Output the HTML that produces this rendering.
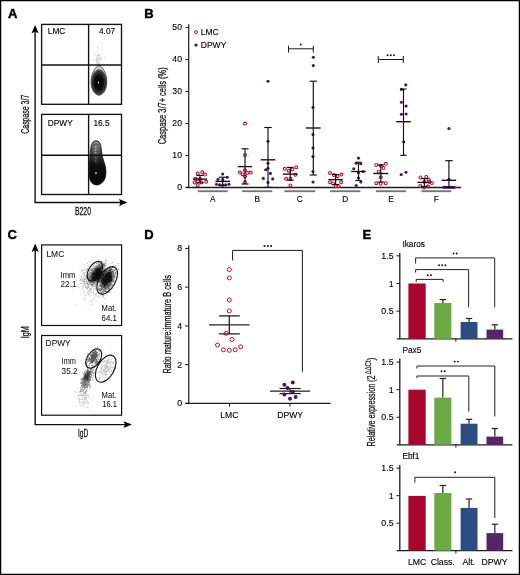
<!DOCTYPE html>
<html><head><meta charset="utf-8"><style>
html,body{margin:0;padding:0;background:#fff;}
svg{display:block;font-family:"Liberation Sans", sans-serif;will-change:transform;}
</style></head><body>
<svg width="520" height="575" viewBox="0 0 520 575">
<rect x="0.5" y="0.5" width="519" height="574" fill="#fff" stroke="#000" stroke-width="1.5"/>
<text x="7.9" y="17.65" font-size="13.0" text-anchor="start" font-weight="bold" fill="#000" stroke="#000" stroke-width="0.45">A</text>
<text x="144.3" y="17.65" font-size="13.0" text-anchor="start" font-weight="bold" fill="#000" stroke="#000" stroke-width="0.45">B</text>
<text x="7.6" y="238.6" font-size="13.0" text-anchor="start" font-weight="bold" fill="#000" stroke="#000" stroke-width="0.45">C</text>
<text x="144.2" y="238.5" font-size="13.0" text-anchor="start" font-weight="bold" fill="#000" stroke="#000" stroke-width="0.45">D</text>
<text x="362.5" y="238.6" font-size="13.0" text-anchor="start" font-weight="bold" fill="#000" stroke="#000" stroke-width="0.45">E</text>
<line x1="35.1" y1="202.5" x2="35.1" y2="31" stroke="#111" stroke-width="1.4" />
<path d="M35.1,25 L31.5,33.3 L35.1,31.699999999999996 L38.7,33.3 Z" fill="#000"/>
<line x1="34.4" y1="202.5" x2="121.4" y2="202.5" stroke="#111" stroke-width="1.4" />
<path d="M127.4,202.5 L119.0,199.1 L120.6,202.5 L119.0,205.9 Z" fill="#000"/>
<text x="47.8" y="34.0" font-size="8.3" text-anchor="start" font-weight="normal" fill="#000" stroke="#000" stroke-width="0.12">LMC</text>
<text x="99.0" y="34.0" font-size="8.3" text-anchor="start" font-weight="normal" fill="#000" stroke="#000" stroke-width="0.12">4.07</text>
<text x="47.8" y="126.0" font-size="8.3" text-anchor="start" font-weight="normal" fill="#000" stroke="#000" stroke-width="0.12">DPWY</text>
<text x="93.4" y="126.2" font-size="8.3" text-anchor="start" font-weight="normal" fill="#000" stroke="#000" stroke-width="0.12">16.5</text>
<text transform="translate(28.9,114.25) rotate(-90)" x="0" y="0" font-size="10.2" text-anchor="middle" fill="#111" stroke="#111" stroke-width="0.28" textLength="39.0" lengthAdjust="spacingAndGlyphs">Caspase 3/7</text>
<text x="74.9" y="214.6" font-size="10.2" text-anchor="start" fill="#111" stroke="#111" stroke-width="0.28" textLength="16.1" lengthAdjust="spacingAndGlyphs">B220</text>
<path d="M91.4,46.6h0.7v0.7h-0.7zM96.4,61.2h0.7v0.7h-0.7zM97.0,60.9h0.7v0.7h-0.7zM97.3,46.8h0.7v0.7h-0.7zM104.1,57.2h0.7v0.7h-0.7zM96.8,63.0h0.7v0.7h-0.7zM96.2,62.5h0.7v0.7h-0.7zM96.8,55.5h0.7v0.7h-0.7zM97.0,60.7h0.7v0.7h-0.7zM97.2,56.4h0.7v0.7h-0.7zM99.8,64.8h0.7v0.7h-0.7zM96.5,60.1h0.7v0.7h-0.7zM98.3,63.4h0.7v0.7h-0.7zM97.2,47.6h0.7v0.7h-0.7zM99.1,62.8h0.7v0.7h-0.7zM97.0,57.0h0.7v0.7h-0.7zM98.7,57.1h0.7v0.7h-0.7zM98.4,64.2h0.7v0.7h-0.7zM95.6,55.8h0.7v0.7h-0.7zM98.4,50.0h0.7v0.7h-0.7zM96.6,58.7h0.7v0.7h-0.7zM97.6,55.3h0.7v0.7h-0.7zM99.6,64.5h0.7v0.7h-0.7zM97.9,58.3h0.7v0.7h-0.7zM97.2,55.0h0.7v0.7h-0.7zM98.7,56.7h0.7v0.7h-0.7zM97.1,59.8h0.7v0.7h-0.7zM98.0,58.0h0.7v0.7h-0.7zM99.9,42.6h0.7v0.7h-0.7zM94.4,60.6h0.7v0.7h-0.7zM95.7,64.4h0.7v0.7h-0.7zM93.6,58.2h0.7v0.7h-0.7zM99.0,56.8h0.7v0.7h-0.7zM93.0,54.6h0.7v0.7h-0.7zM98.0,60.5h0.7v0.7h-0.7zM100.4,59.5h0.7v0.7h-0.7zM98.4,54.3h0.7v0.7h-0.7zM100.5,55.6h0.7v0.7h-0.7zM96.7,64.8h0.7v0.7h-0.7zM101.8,49.5h0.7v0.7h-0.7zM99.0,58.2h0.7v0.7h-0.7zM98.3,54.8h0.7v0.7h-0.7zM96.0,59.2h0.7v0.7h-0.7zM100.2,57.8h0.7v0.7h-0.7zM96.3,51.9h0.7v0.7h-0.7zM97.8,62.1h0.7v0.7h-0.7zM95.1,59.8h0.7v0.7h-0.7zM97.8,49.4h0.7v0.7h-0.7zM99.3,54.1h0.7v0.7h-0.7zM96.8,63.1h0.7v0.7h-0.7zM97.0,62.4h0.7v0.7h-0.7zM96.0,57.6h0.7v0.7h-0.7zM97.2,63.8h0.7v0.7h-0.7zM97.9,60.1h0.7v0.7h-0.7zM102.1,42.0h0.7v0.7h-0.7zM93.1,51.5h0.7v0.7h-0.7zM96.3,61.9h0.7v0.7h-0.7zM93.3,60.2h0.7v0.7h-0.7zM99.9,54.4h0.7v0.7h-0.7zM95.5,53.3h0.7v0.7h-0.7zM97.6,57.8h0.7v0.7h-0.7zM101.3,59.2h0.7v0.7h-0.7zM98.6,63.2h0.7v0.7h-0.7zM100.3,63.6h0.7v0.7h-0.7zM100.1,58.3h0.7v0.7h-0.7zM97.2,55.3h0.7v0.7h-0.7zM100.5,57.7h0.7v0.7h-0.7zM96.9,59.1h0.7v0.7h-0.7zM98.3,60.9h0.7v0.7h-0.7zM95.7,58.7h0.7v0.7h-0.7zM101.9,60.7h0.7v0.7h-0.7zM96.4,62.8h0.7v0.7h-0.7zM94.8,54.5h0.7v0.7h-0.7zM99.0,60.3h0.7v0.7h-0.7z" fill="#999" opacity="0.7"/>
<defs><radialGradient id="gA1" cx="0.5" cy="0.5" r="0.5"><stop offset="0" stop-color="#000"/><stop offset="0.75" stop-color="#0d0d0d"/><stop offset="1" stop-color="#333"/></radialGradient><linearGradient id="gA2" x1="0" y1="0" x2="0" y2="1"><stop offset="0" stop-color="#8a8a8a"/><stop offset="0.25" stop-color="#666"/><stop offset="0.42" stop-color="#3a3a3a"/><stop offset="0.55" stop-color="#161616"/><stop offset="1" stop-color="#0a0a0a"/></linearGradient></defs>
<path d="M98.95,65.80 C99.14,65.80 99.33,65.83 99.53,65.88 C99.72,65.93 99.91,66.01 100.11,66.11 C100.31,66.21 100.51,66.34 100.72,66.50 C100.92,66.65 101.13,66.83 101.35,67.03 C101.56,67.24 101.78,67.46 102.00,67.71 C102.22,67.96 102.44,68.24 102.66,68.53 C102.88,68.82 103.11,69.14 103.33,69.48 C103.55,69.81 103.77,70.17 103.98,70.54 C104.19,70.92 104.40,71.31 104.59,71.72 C104.79,72.13 104.98,72.56 105.16,73.00 C105.33,73.44 105.50,73.90 105.65,74.36 C105.80,74.83 105.94,75.31 106.06,75.80 C106.18,76.29 106.28,76.79 106.37,77.30 C106.46,77.80 106.53,78.32 106.59,78.84 C106.64,79.36 106.68,79.89 106.71,80.41 C106.74,80.94 106.75,81.52 106.75,82.00 C106.75,82.48 106.74,82.86 106.71,83.28 C106.69,83.71 106.65,84.14 106.60,84.56 C106.55,84.98 106.49,85.39 106.41,85.80 C106.34,86.21 106.25,86.62 106.16,87.01 C106.06,87.41 105.95,87.80 105.83,88.18 C105.71,88.55 105.58,88.92 105.44,89.28 C105.29,89.63 105.14,89.98 104.98,90.31 C104.82,90.64 104.65,90.96 104.47,91.26 C104.29,91.57 104.10,91.85 103.90,92.13 C103.70,92.40 103.50,92.65 103.28,92.89 C103.07,93.13 102.85,93.35 102.63,93.55 C102.40,93.75 102.17,93.94 101.93,94.10 C101.70,94.27 101.46,94.41 101.21,94.54 C100.97,94.66 100.72,94.76 100.47,94.85 C100.22,94.93 99.97,94.99 99.71,95.04 C99.46,95.08 99.20,95.10 98.95,95.10 C98.70,95.10 98.44,95.08 98.19,95.04 C97.93,94.99 97.68,94.93 97.43,94.85 C97.18,94.76 96.93,94.66 96.69,94.54 C96.44,94.41 96.20,94.27 95.97,94.10 C95.73,93.94 95.50,93.75 95.27,93.55 C95.05,93.35 94.83,93.13 94.62,92.89 C94.40,92.65 94.20,92.40 94.00,92.13 C93.80,91.85 93.61,91.57 93.43,91.26 C93.25,90.96 93.08,90.64 92.92,90.31 C92.76,89.98 92.61,89.63 92.46,89.28 C92.32,88.92 92.19,88.55 92.07,88.18 C91.95,87.80 91.84,87.41 91.74,87.01 C91.65,86.62 91.56,86.21 91.49,85.80 C91.41,85.39 91.35,84.98 91.30,84.56 C91.25,84.14 91.21,83.71 91.19,83.28 C91.16,82.86 91.15,82.48 91.15,82.00 C91.15,81.52 91.16,80.94 91.19,80.41 C91.22,79.89 91.26,79.36 91.31,78.84 C91.37,78.32 91.44,77.80 91.53,77.30 C91.62,76.79 91.72,76.29 91.84,75.80 C91.96,75.31 92.10,74.83 92.25,74.36 C92.40,73.90 92.57,73.44 92.74,73.00 C92.92,72.56 93.11,72.13 93.31,71.72 C93.50,71.31 93.71,70.92 93.92,70.54 C94.13,70.17 94.35,69.81 94.57,69.48 C94.79,69.14 95.02,68.82 95.24,68.53 C95.46,68.24 95.68,67.96 95.90,67.71 C96.12,67.46 96.34,67.24 96.55,67.03 C96.77,66.83 96.98,66.65 97.18,66.50 C97.39,66.34 97.59,66.21 97.79,66.11 C97.99,66.01 98.18,65.93 98.37,65.88 C98.57,65.83 98.76,65.80 98.95,65.80Z" fill="#d0d0d0" stroke="#111" stroke-width="0.7"/>
<ellipse cx="98.95" cy="82.3" rx="7.3" ry="12.7" fill="#9a9a9a" stroke="#222" stroke-width="0.55"/>
<ellipse cx="98.95" cy="82.4" rx="6.9" ry="11.9" fill="#6a6a6a" stroke="#222" stroke-width="0.55"/>
<ellipse cx="98.9" cy="82.5" rx="6.5" ry="11.0" fill="#333" stroke="#111" stroke-width="0.55"/>
<ellipse cx="98.8" cy="82.6" rx="6.0" ry="9.9" fill="url(#gA1)"/>
<ellipse cx="98.4" cy="82.5" rx="0.45" ry="1.2" fill="#fff"/>
<path d="M95.60,140.80 C96.63,140.72 98.13,141.02 99.00,141.80 C99.87,142.58 100.38,143.97 100.80,145.50 C101.22,147.03 101.17,148.92 101.50,151.00 C101.83,153.08 102.22,155.67 102.80,158.00 C103.38,160.33 104.48,162.83 105.00,165.00 C105.52,167.17 105.82,169.08 105.90,171.00 C105.98,172.92 105.88,174.83 105.50,176.50 C105.12,178.17 104.55,179.70 103.60,181.00 C102.65,182.30 101.03,183.65 99.80,184.30 C98.57,184.95 97.40,185.02 96.20,184.90 C95.00,184.78 93.63,184.50 92.60,183.60 C91.57,182.70 90.55,181.43 90.00,179.50 C89.45,177.57 89.38,174.75 89.30,172.00 C89.22,169.25 89.35,166.17 89.50,163.00 C89.65,159.83 89.92,155.83 90.20,153.00 C90.48,150.17 90.77,147.78 91.20,146.00 C91.63,144.22 92.07,143.17 92.80,142.30 C93.53,141.43 94.57,140.88 95.60,140.80Z" fill="url(#gA2)" stroke="#111" stroke-width="0.8"/>
<g fill="none" stroke="#000" stroke-width="0.45" opacity="0.8">
<path d="M95.64,144.12 C96.57,144.05 97.92,144.31 98.70,145.02 C99.48,145.73 99.94,146.97 100.32,148.35 C100.69,149.73 100.65,151.43 100.95,153.30 C101.25,155.18 101.59,157.50 102.12,159.60 C102.65,161.70 103.63,163.95 104.10,165.90 C104.56,167.85 104.84,169.58 104.91,171.30 C104.99,173.03 104.89,174.75 104.55,176.25 C104.20,177.75 103.69,179.13 102.84,180.30 C101.98,181.47 100.53,182.69 99.42,183.27 C98.31,183.86 97.26,183.92 96.18,183.81 C95.10,183.70 93.87,183.45 92.94,182.64 C92.01,181.83 91.09,180.69 90.60,178.95 C90.10,177.21 90.05,174.67 89.97,172.20 C89.89,169.72 90.02,166.95 90.15,164.10 C90.29,161.25 90.53,157.65 90.78,155.10 C91.03,152.55 91.29,150.41 91.68,148.80 C92.07,147.20 92.46,146.25 93.12,145.47 C93.78,144.69 94.71,144.19 95.64,144.12Z"/>
<path d="M95.68,147.44 C96.51,147.37 97.71,147.61 98.40,148.24 C99.09,148.87 99.51,149.97 99.84,151.20 C100.17,152.43 100.13,153.93 100.40,155.60 C100.67,157.27 100.97,159.33 101.44,161.20 C101.91,163.07 102.79,165.07 103.20,166.80 C103.61,168.53 103.85,170.07 103.92,171.60 C103.99,173.13 103.91,174.67 103.60,176.00 C103.29,177.33 102.84,178.56 102.08,179.60 C101.32,180.64 100.03,181.72 99.04,182.24 C98.05,182.76 97.12,182.81 96.16,182.72 C95.20,182.63 94.11,182.40 93.28,181.68 C92.45,180.96 91.64,179.95 91.20,178.40 C90.76,176.85 90.71,174.60 90.64,172.40 C90.57,170.20 90.68,167.73 90.80,165.20 C90.92,162.67 91.13,159.47 91.36,157.20 C91.59,154.93 91.81,153.03 92.16,151.60 C92.51,150.17 92.85,149.33 93.44,148.64 C94.03,147.95 94.85,147.51 95.68,147.44Z"/>
<path d="M95.72,150.76 C96.44,150.70 97.49,150.91 98.10,151.46 C98.71,152.01 99.07,152.98 99.36,154.05 C99.65,155.12 99.62,156.44 99.85,157.90 C100.08,159.36 100.35,161.17 100.76,162.80 C101.17,164.43 101.94,166.18 102.30,167.70 C102.66,169.22 102.87,170.56 102.93,171.90 C102.99,173.24 102.92,174.58 102.65,175.75 C102.38,176.92 101.98,177.99 101.32,178.90 C100.65,179.81 99.52,180.75 98.66,181.21 C97.80,181.67 96.98,181.71 96.14,181.63 C95.30,181.55 94.34,181.35 93.62,180.72 C92.90,180.09 92.19,179.20 91.80,177.85 C91.41,176.50 91.37,174.52 91.31,172.60 C91.25,170.68 91.34,168.52 91.45,166.30 C91.56,164.08 91.74,161.28 91.94,159.30 C92.14,157.32 92.34,155.65 92.64,154.40 C92.94,153.15 93.25,152.42 93.76,151.81 C94.27,151.20 95.00,150.82 95.72,150.76Z"/>
<path d="M95.76,154.08 C96.38,154.03 97.28,154.21 97.80,154.68 C98.32,155.15 98.63,155.98 98.88,156.90 C99.13,157.82 99.10,158.95 99.30,160.20 C99.50,161.45 99.73,163.00 100.08,164.40 C100.43,165.80 101.09,167.30 101.40,168.60 C101.71,169.90 101.89,171.05 101.94,172.20 C101.99,173.35 101.93,174.50 101.70,175.50 C101.47,176.50 101.13,177.42 100.56,178.20 C99.99,178.98 99.02,179.79 98.28,180.18 C97.54,180.57 96.84,180.61 96.12,180.54 C95.40,180.47 94.58,180.30 93.96,179.76 C93.34,179.22 92.73,178.46 92.40,177.30 C92.07,176.14 92.03,174.45 91.98,172.80 C91.93,171.15 92.01,169.30 92.10,167.40 C92.19,165.50 92.35,163.10 92.52,161.40 C92.69,159.70 92.86,158.27 93.12,157.20 C93.38,156.13 93.64,155.50 94.08,154.98 C94.52,154.46 95.14,154.13 95.76,154.08Z"/>
<path d="M95.80,157.40 C96.32,157.36 97.07,157.51 97.50,157.90 C97.93,158.29 98.19,158.98 98.40,159.75 C98.61,160.52 98.58,161.46 98.75,162.50 C98.92,163.54 99.11,164.83 99.40,166.00 C99.69,167.17 100.24,168.42 100.50,169.50 C100.76,170.58 100.91,171.54 100.95,172.50 C100.99,173.46 100.94,174.42 100.75,175.25 C100.56,176.08 100.27,176.85 99.80,177.50 C99.33,178.15 98.52,178.83 97.90,179.15 C97.28,179.47 96.70,179.51 96.10,179.45 C95.50,179.39 94.82,179.25 94.30,178.80 C93.78,178.35 93.28,177.72 93.00,176.75 C92.72,175.78 92.69,174.38 92.65,173.00 C92.61,171.62 92.67,170.08 92.75,168.50 C92.83,166.92 92.96,164.92 93.10,163.50 C93.24,162.08 93.38,160.89 93.60,160.00 C93.82,159.11 94.03,158.58 94.40,158.15 C94.77,157.72 95.28,157.44 95.80,157.40Z"/>
<path d="M95.84,160.72 C96.25,160.69 96.85,160.81 97.20,161.12 C97.55,161.43 97.75,161.99 97.92,162.60 C98.09,163.21 98.07,163.97 98.20,164.80 C98.33,165.63 98.49,166.67 98.72,167.60 C98.95,168.53 99.39,169.53 99.60,170.40 C99.81,171.27 99.93,172.03 99.96,172.80 C99.99,173.57 99.95,174.33 99.80,175.00 C99.65,175.67 99.42,176.28 99.04,176.80 C98.66,177.32 98.01,177.86 97.52,178.12 C97.03,178.38 96.56,178.41 96.08,178.36 C95.60,178.31 95.05,178.20 94.64,177.84 C94.23,177.48 93.82,176.97 93.60,176.20 C93.38,175.43 93.35,174.30 93.32,173.20 C93.29,172.10 93.34,170.87 93.40,169.60 C93.46,168.33 93.57,166.73 93.68,165.60 C93.79,164.47 93.91,163.51 94.08,162.80 C94.25,162.09 94.43,161.67 94.72,161.32 C95.01,160.97 95.43,160.75 95.84,160.72Z"/>
<path d="M95.88,164.04 C96.19,164.01 96.64,164.11 96.90,164.34 C97.16,164.57 97.31,164.99 97.44,165.45 C97.56,165.91 97.55,166.47 97.65,167.10 C97.75,167.72 97.87,168.50 98.04,169.20 C98.22,169.90 98.55,170.65 98.70,171.30 C98.86,171.95 98.94,172.53 98.97,173.10 C99.00,173.67 98.96,174.25 98.85,174.75 C98.73,175.25 98.56,175.71 98.28,176.10 C98.00,176.49 97.51,176.90 97.14,177.09 C96.77,177.28 96.42,177.31 96.06,177.27 C95.70,177.24 95.29,177.15 94.98,176.88 C94.67,176.61 94.37,176.23 94.20,175.65 C94.03,175.07 94.02,174.23 93.99,173.40 C93.96,172.57 94.00,171.65 94.05,170.70 C94.09,169.75 94.18,168.55 94.26,167.70 C94.34,166.85 94.43,166.13 94.56,165.60 C94.69,165.06 94.82,164.75 95.04,164.49 C95.26,164.23 95.57,164.06 95.88,164.04Z"/>
<path d="M95.92,167.36 C96.13,167.34 96.43,167.40 96.60,167.56 C96.77,167.72 96.88,167.99 96.96,168.30 C97.04,168.61 97.03,168.98 97.10,169.40 C97.17,169.82 97.24,170.33 97.36,170.80 C97.48,171.27 97.70,171.77 97.80,172.20 C97.90,172.63 97.96,173.02 97.98,173.40 C98.00,173.78 97.98,174.17 97.90,174.50 C97.82,174.83 97.71,175.14 97.52,175.40 C97.33,175.66 97.01,175.93 96.76,176.06 C96.51,176.19 96.28,176.20 96.04,176.18 C95.80,176.16 95.53,176.10 95.32,175.92 C95.11,175.74 94.91,175.49 94.80,175.10 C94.69,174.71 94.68,174.15 94.66,173.60 C94.64,173.05 94.67,172.43 94.70,171.80 C94.73,171.17 94.78,170.37 94.84,169.80 C94.90,169.23 94.95,168.76 95.04,168.40 C95.13,168.04 95.21,167.83 95.36,167.66 C95.51,167.49 95.71,167.38 95.92,167.36Z"/>
</g>
<g fill="#ccc">
<ellipse cx="95.7" cy="147.5" rx="0.9" ry="0.7" opacity="0.90"/>
<ellipse cx="95.7" cy="150.2" rx="0.9" ry="0.7" opacity="0.78"/>
<ellipse cx="95.7" cy="152.8" rx="0.9" ry="0.7" opacity="0.66"/>
<ellipse cx="95.7" cy="155.4" rx="0.9" ry="0.7" opacity="0.54"/>
<ellipse cx="95.7" cy="158.0" rx="0.9" ry="0.7" opacity="0.42"/>
<ellipse cx="95.7" cy="160.8" rx="0.9" ry="0.7" opacity="0.30"/>
</g>
<ellipse cx="96.0" cy="173.0" rx="0.7" ry="1.1" fill="#fff"/>
<rect x="41.6" y="24.4" width="79.9" height="79.9" fill="none" stroke="#111" stroke-width="1.35"/>
<line x1="88.6" y1="24.4" x2="88.6" y2="104.3" stroke="#111" stroke-width="1.35" />
<line x1="41.6" y1="65.0" x2="121.5" y2="65.0" stroke="#111" stroke-width="1.4" />
<rect x="41.6" y="114.4" width="79.9" height="80.1" fill="none" stroke="#111" stroke-width="1.35"/>
<line x1="88.6" y1="114.4" x2="88.6" y2="194.5" stroke="#111" stroke-width="1.35" />
<line x1="41.6" y1="155.2" x2="121.5" y2="155.2" stroke="#111" stroke-width="1.4" />
<line x1="188.7" y1="24.2" x2="188.7" y2="187.4" stroke="#1a1a1a" stroke-width="1.2" />
<line x1="186.0" y1="187.5" x2="461.0" y2="187.5" stroke="#1a1a1a" stroke-width="1.3" />
<line x1="185.4" y1="187.4" x2="188.7" y2="187.4" stroke="#1a1a1a" stroke-width="1.0" />
<text x="182.0" y="190.0" font-size="8.7" text-anchor="end" font-weight="normal" fill="#000" stroke="#000" stroke-width="0.12">0</text>
<line x1="185.4" y1="155.44" x2="188.7" y2="155.44" stroke="#1a1a1a" stroke-width="1.0" />
<text x="182.0" y="158.04" font-size="8.7" text-anchor="end" font-weight="normal" fill="#000" stroke="#000" stroke-width="0.12">10</text>
<line x1="185.4" y1="123.48" x2="188.7" y2="123.48" stroke="#1a1a1a" stroke-width="1.0" />
<text x="182.0" y="126.08" font-size="8.7" text-anchor="end" font-weight="normal" fill="#000" stroke="#000" stroke-width="0.12">20</text>
<line x1="185.4" y1="91.52" x2="188.7" y2="91.52" stroke="#1a1a1a" stroke-width="1.0" />
<text x="182.0" y="94.11999999999999" font-size="8.7" text-anchor="end" font-weight="normal" fill="#000" stroke="#000" stroke-width="0.12">30</text>
<line x1="185.4" y1="59.56" x2="188.7" y2="59.56" stroke="#1a1a1a" stroke-width="1.0" />
<text x="182.0" y="62.160000000000004" font-size="8.7" text-anchor="end" font-weight="normal" fill="#000" stroke="#000" stroke-width="0.12">40</text>
<line x1="185.4" y1="27.599999999999994" x2="188.7" y2="27.599999999999994" stroke="#1a1a1a" stroke-width="1.0" />
<text x="182.0" y="30.199999999999996" font-size="8.7" text-anchor="end" font-weight="normal" fill="#000" stroke="#000" stroke-width="0.12">50</text>
<text transform="translate(165.5,105.8) rotate(-90)" x="0" y="0" font-size="10.0" text-anchor="middle" fill="#111" stroke="#111" stroke-width="0.28" textLength="77.0" lengthAdjust="spacingAndGlyphs">Caspase 3/7+ cells (%)</text>
<circle cx="196.0" cy="32.1" r="1.5" fill="none" stroke="#c00d38" stroke-width="1.0"/>
<text x="200.8" y="35.0" font-size="8.5" text-anchor="start" font-weight="normal" fill="#000" stroke="#000" stroke-width="0.12">LMC</text>
<circle cx="196.0" cy="45.1" r="1.6" fill="#4a1466"/>
<text x="200.8" y="47.7" font-size="8.5" text-anchor="start" font-weight="normal" fill="#000" stroke="#000" stroke-width="0.12">DPWY</text>
<line x1="197.7" y1="191.2" x2="227.7" y2="191.2" stroke="#777" stroke-width="1.9" />
<text x="212.7" y="201.8" font-size="8.3" text-anchor="middle" font-weight="normal" fill="#000" stroke="#000" stroke-width="0.12">A</text>
<line x1="242.1" y1="191.2" x2="272.3" y2="191.2" stroke="#777" stroke-width="1.9" />
<text x="257.2" y="201.8" font-size="8.3" text-anchor="middle" font-weight="normal" fill="#000" stroke="#000" stroke-width="0.12">B</text>
<line x1="284.4" y1="191.2" x2="315.2" y2="191.2" stroke="#777" stroke-width="1.9" />
<text x="299.79999999999995" y="201.8" font-size="8.3" text-anchor="middle" font-weight="normal" fill="#000" stroke="#000" stroke-width="0.12">C</text>
<line x1="330" y1="191.2" x2="360.4" y2="191.2" stroke="#777" stroke-width="1.9" />
<text x="345.2" y="201.8" font-size="8.3" text-anchor="middle" font-weight="normal" fill="#000" stroke="#000" stroke-width="0.12">D</text>
<line x1="375.9" y1="191.2" x2="406.1" y2="191.2" stroke="#777" stroke-width="1.9" />
<text x="391.0" y="201.8" font-size="8.3" text-anchor="middle" font-weight="normal" fill="#000" stroke="#000" stroke-width="0.12">E</text>
<line x1="421.3" y1="191.2" x2="451.3" y2="191.2" stroke="#777" stroke-width="1.9" />
<text x="436.3" y="201.8" font-size="8.3" text-anchor="middle" font-weight="normal" fill="#000" stroke="#000" stroke-width="0.12">F</text>
<circle cx="197.7" cy="173.6" r="1.45" fill="none" stroke="#c00d38" stroke-width="1.1"/>
<circle cx="202.3" cy="172.3" r="1.45" fill="none" stroke="#c00d38" stroke-width="1.1"/>
<circle cx="205" cy="174.6" r="1.45" fill="none" stroke="#c00d38" stroke-width="1.1"/>
<circle cx="195.4" cy="178.8" r="1.45" fill="none" stroke="#c00d38" stroke-width="1.1"/>
<circle cx="200" cy="179" r="1.45" fill="none" stroke="#c00d38" stroke-width="1.1"/>
<circle cx="194.6" cy="182.5" r="1.45" fill="none" stroke="#c00d38" stroke-width="1.1"/>
<circle cx="197.7" cy="181.5" r="1.45" fill="none" stroke="#c00d38" stroke-width="1.1"/>
<circle cx="201.5" cy="182.5" r="1.45" fill="none" stroke="#c00d38" stroke-width="1.1"/>
<circle cx="206.2" cy="181.8" r="1.45" fill="none" stroke="#c00d38" stroke-width="1.1"/>
<circle cx="197.7" cy="185.2" r="1.45" fill="none" stroke="#c00d38" stroke-width="1.1"/>
<circle cx="222.7" cy="174" r="1.55" fill="#4a1466"/>
<circle cx="227.3" cy="177.3" r="1.55" fill="#4a1466"/>
<circle cx="218" cy="179.2" r="1.55" fill="#4a1466"/>
<circle cx="222.7" cy="179.5" r="1.55" fill="#4a1466"/>
<circle cx="216.5" cy="184.3" r="1.55" fill="#4a1466"/>
<circle cx="219.6" cy="184.8" r="1.55" fill="#4a1466"/>
<circle cx="222.7" cy="185.3" r="1.55" fill="#4a1466"/>
<circle cx="225.8" cy="184.8" r="1.55" fill="#4a1466"/>
<circle cx="229" cy="184.3" r="1.55" fill="#4a1466"/>
<circle cx="245" cy="123.6" r="1.45" fill="none" stroke="#c00d38" stroke-width="1.1"/>
<circle cx="245" cy="155" r="1.45" fill="none" stroke="#c00d38" stroke-width="1.1"/>
<circle cx="239.9" cy="172.6" r="1.45" fill="none" stroke="#c00d38" stroke-width="1.1"/>
<circle cx="245" cy="170.2" r="1.45" fill="none" stroke="#c00d38" stroke-width="1.1"/>
<circle cx="250.8" cy="172.6" r="1.45" fill="none" stroke="#c00d38" stroke-width="1.1"/>
<circle cx="247.5" cy="173" r="1.45" fill="none" stroke="#c00d38" stroke-width="1.1"/>
<circle cx="242.5" cy="174.2" r="1.45" fill="none" stroke="#c00d38" stroke-width="1.1"/>
<circle cx="245" cy="176.5" r="1.45" fill="none" stroke="#c00d38" stroke-width="1.1"/>
<circle cx="245" cy="182.3" r="1.45" fill="none" stroke="#c00d38" stroke-width="1.1"/>
<circle cx="268" cy="81.2" r="1.55" fill="#4a1466"/>
<circle cx="268" cy="141.3" r="1.55" fill="#4a1466"/>
<circle cx="268" cy="163.2" r="1.55" fill="#4a1466"/>
<circle cx="265.7" cy="169.8" r="1.55" fill="#4a1466"/>
<circle cx="268" cy="168.2" r="1.55" fill="#4a1466"/>
<circle cx="270.4" cy="173.4" r="1.55" fill="#4a1466"/>
<circle cx="263.3" cy="178.4" r="1.55" fill="#4a1466"/>
<circle cx="272.7" cy="178.9" r="1.55" fill="#4a1466"/>
<circle cx="268" cy="182.5" r="1.55" fill="#4a1466"/>
<circle cx="284.8" cy="168.8" r="1.45" fill="none" stroke="#c00d38" stroke-width="1.1"/>
<circle cx="288.7" cy="170.7" r="1.45" fill="none" stroke="#c00d38" stroke-width="1.1"/>
<circle cx="292.4" cy="169.5" r="1.45" fill="none" stroke="#c00d38" stroke-width="1.1"/>
<circle cx="296.3" cy="167.2" r="1.45" fill="none" stroke="#c00d38" stroke-width="1.1"/>
<circle cx="295.3" cy="174.7" r="1.45" fill="none" stroke="#c00d38" stroke-width="1.1"/>
<circle cx="286.1" cy="178.8" r="1.45" fill="none" stroke="#c00d38" stroke-width="1.1"/>
<circle cx="290.4" cy="178.8" r="1.45" fill="none" stroke="#c00d38" stroke-width="1.1"/>
<circle cx="290.4" cy="185.4" r="1.45" fill="none" stroke="#c00d38" stroke-width="1.1"/>
<circle cx="313.3" cy="57.3" r="1.55" fill="#4a1466"/>
<circle cx="313.3" cy="65.6" r="1.55" fill="#4a1466"/>
<circle cx="313" cy="107.4" r="1.55" fill="#4a1466"/>
<circle cx="313" cy="134.6" r="1.55" fill="#4a1466"/>
<circle cx="313" cy="148" r="1.55" fill="#4a1466"/>
<circle cx="313" cy="156.6" r="1.55" fill="#4a1466"/>
<circle cx="313" cy="171.6" r="1.55" fill="#4a1466"/>
<circle cx="313" cy="182" r="1.55" fill="#4a1466"/>
<circle cx="330" cy="172.9" r="1.45" fill="none" stroke="#c00d38" stroke-width="1.1"/>
<circle cx="333.8" cy="175" r="1.45" fill="none" stroke="#c00d38" stroke-width="1.1"/>
<circle cx="337.7" cy="176.2" r="1.45" fill="none" stroke="#c00d38" stroke-width="1.1"/>
<circle cx="341.5" cy="174.6" r="1.45" fill="none" stroke="#c00d38" stroke-width="1.1"/>
<circle cx="330" cy="182.2" r="1.45" fill="none" stroke="#c00d38" stroke-width="1.1"/>
<circle cx="333.1" cy="183.5" r="1.45" fill="none" stroke="#c00d38" stroke-width="1.1"/>
<circle cx="341.2" cy="182.3" r="1.45" fill="none" stroke="#c00d38" stroke-width="1.1"/>
<circle cx="335.8" cy="186.2" r="1.45" fill="none" stroke="#c00d38" stroke-width="1.1"/>
<circle cx="338.8" cy="186.2" r="1.45" fill="none" stroke="#c00d38" stroke-width="1.1"/>
<circle cx="358.5" cy="158.1" r="1.55" fill="#4a1466"/>
<circle cx="356.2" cy="163.2" r="1.55" fill="#4a1466"/>
<circle cx="360.8" cy="163.8" r="1.55" fill="#4a1466"/>
<circle cx="353.8" cy="168.8" r="1.55" fill="#4a1466"/>
<circle cx="358.5" cy="172.7" r="1.55" fill="#4a1466"/>
<circle cx="363.1" cy="171.5" r="1.55" fill="#4a1466"/>
<circle cx="358.5" cy="178.1" r="1.55" fill="#4a1466"/>
<circle cx="360.8" cy="182" r="1.55" fill="#4a1466"/>
<circle cx="356.2" cy="185.5" r="1.55" fill="#4a1466"/>
<circle cx="376.2" cy="165" r="1.45" fill="none" stroke="#c00d38" stroke-width="1.1"/>
<circle cx="380.8" cy="165.8" r="1.45" fill="none" stroke="#c00d38" stroke-width="1.1"/>
<circle cx="385.8" cy="163.8" r="1.45" fill="none" stroke="#c00d38" stroke-width="1.1"/>
<circle cx="383.5" cy="168.1" r="1.45" fill="none" stroke="#c00d38" stroke-width="1.1"/>
<circle cx="378.8" cy="171.7" r="1.45" fill="none" stroke="#c00d38" stroke-width="1.1"/>
<circle cx="380.8" cy="177.3" r="1.45" fill="none" stroke="#c00d38" stroke-width="1.1"/>
<circle cx="376.2" cy="183.2" r="1.45" fill="none" stroke="#c00d38" stroke-width="1.1"/>
<circle cx="380.8" cy="183.8" r="1.45" fill="none" stroke="#c00d38" stroke-width="1.1"/>
<circle cx="385.8" cy="183.2" r="1.45" fill="none" stroke="#c00d38" stroke-width="1.1"/>
<circle cx="405.8" cy="84.9" r="1.55" fill="#4a1466"/>
<circle cx="401.4" cy="89.4" r="1.55" fill="#4a1466"/>
<circle cx="401.4" cy="102.2" r="1.55" fill="#4a1466"/>
<circle cx="406.1" cy="106.1" r="1.55" fill="#4a1466"/>
<circle cx="401.4" cy="114.3" r="1.55" fill="#4a1466"/>
<circle cx="406.1" cy="114" r="1.55" fill="#4a1466"/>
<circle cx="403.75" cy="141.8" r="1.55" fill="#4a1466"/>
<circle cx="401.2" cy="174.6" r="1.55" fill="#4a1466"/>
<circle cx="406" cy="172.3" r="1.55" fill="#4a1466"/>
<circle cx="420.5" cy="177.5" r="1.45" fill="none" stroke="#c00d38" stroke-width="1.1"/>
<circle cx="426.3" cy="177" r="1.45" fill="none" stroke="#c00d38" stroke-width="1.1"/>
<circle cx="428.7" cy="179.6" r="1.45" fill="none" stroke="#c00d38" stroke-width="1.1"/>
<circle cx="424.4" cy="181.8" r="1.45" fill="none" stroke="#c00d38" stroke-width="1.1"/>
<circle cx="431.8" cy="183" r="1.45" fill="none" stroke="#c00d38" stroke-width="1.1"/>
<circle cx="420.3" cy="185.9" r="1.45" fill="none" stroke="#c00d38" stroke-width="1.1"/>
<circle cx="424.1" cy="187.5" r="1.45" fill="none" stroke="#c00d38" stroke-width="1.1"/>
<circle cx="428" cy="186.6" r="1.45" fill="none" stroke="#c00d38" stroke-width="1.1"/>
<circle cx="429.4" cy="181.8" r="1.45" fill="none" stroke="#c00d38" stroke-width="1.1"/>
<circle cx="448.9" cy="128.5" r="1.55" fill="#4a1466"/>
<circle cx="448.9" cy="179.3" r="1.55" fill="#4a1466"/>
<circle cx="443.6" cy="187.3" r="1.55" fill="#4a1466"/>
<circle cx="445.2" cy="187.3" r="1.55" fill="#4a1466"/>
<circle cx="446.8" cy="187.3" r="1.55" fill="#4a1466"/>
<circle cx="448.4" cy="187.3" r="1.55" fill="#4a1466"/>
<circle cx="450.0" cy="187.3" r="1.55" fill="#4a1466"/>
<circle cx="451.6" cy="187.3" r="1.55" fill="#4a1466"/>
<circle cx="453.2" cy="187.3" r="1.55" fill="#4a1466"/>
<circle cx="454.2" cy="187.3" r="1.55" fill="#4a1466"/>
<line x1="200.0" y1="175.4" x2="200.0" y2="182.8" stroke="#111" stroke-width="1.15" />
<line x1="196.5" y1="175.4" x2="203.5" y2="175.4" stroke="#111" stroke-width="1.15" />
<line x1="196.5" y1="182.8" x2="203.5" y2="182.8" stroke="#111" stroke-width="1.15" />
<line x1="192.85" y1="179.1" x2="207.15" y2="179.1" stroke="#111" stroke-width="1.38" />
<line x1="222.7" y1="177.2" x2="222.7" y2="185.5" stroke="#111" stroke-width="1.15" />
<line x1="218.7" y1="177.2" x2="226.7" y2="177.2" stroke="#111" stroke-width="1.15" />
<line x1="218.7" y1="185.5" x2="226.7" y2="185.5" stroke="#111" stroke-width="1.15" />
<line x1="215.39999999999998" y1="181.4" x2="230.0" y2="181.4" stroke="#111" stroke-width="1.38" />
<line x1="245.0" y1="148.8" x2="245.0" y2="184.0" stroke="#111" stroke-width="1.15" />
<line x1="241.45" y1="148.8" x2="248.55" y2="148.8" stroke="#111" stroke-width="1.15" />
<line x1="241.45" y1="184.0" x2="248.55" y2="184.0" stroke="#111" stroke-width="1.15" />
<line x1="237.8" y1="166.6" x2="252.2" y2="166.6" stroke="#111" stroke-width="1.38" />
<line x1="268.0" y1="127.5" x2="268.0" y2="187.4" stroke="#111" stroke-width="1.15" />
<line x1="264.2" y1="127.5" x2="271.8" y2="127.5" stroke="#111" stroke-width="1.15" />
<line x1="264.2" y1="187.4" x2="271.8" y2="187.4" stroke="#111" stroke-width="1.15" />
<line x1="260.7" y1="159.8" x2="275.3" y2="159.8" stroke="#111" stroke-width="1.38" />
<line x1="290.3" y1="167.4" x2="290.3" y2="180.3" stroke="#111" stroke-width="1.15" />
<line x1="287.0" y1="167.4" x2="293.6" y2="167.4" stroke="#111" stroke-width="1.15" />
<line x1="287.0" y1="180.3" x2="293.6" y2="180.3" stroke="#111" stroke-width="1.15" />
<line x1="282.90000000000003" y1="174.1" x2="297.7" y2="174.1" stroke="#111" stroke-width="1.38" />
<line x1="313.3" y1="81.2" x2="313.3" y2="175.0" stroke="#111" stroke-width="1.15" />
<line x1="309.7" y1="81.2" x2="316.90000000000003" y2="81.2" stroke="#111" stroke-width="1.15" />
<line x1="309.7" y1="175.0" x2="316.90000000000003" y2="175.0" stroke="#111" stroke-width="1.15" />
<line x1="306.0" y1="128.0" x2="320.6" y2="128.0" stroke="#111" stroke-width="1.38" />
<line x1="335.6" y1="174.5" x2="335.6" y2="184.5" stroke="#111" stroke-width="1.15" />
<line x1="332.1" y1="174.5" x2="339.1" y2="174.5" stroke="#111" stroke-width="1.15" />
<line x1="332.1" y1="184.5" x2="339.1" y2="184.5" stroke="#111" stroke-width="1.15" />
<line x1="328.35" y1="179.6" x2="342.85" y2="179.6" stroke="#111" stroke-width="1.38" />
<line x1="358.5" y1="162.3" x2="358.5" y2="180.5" stroke="#111" stroke-width="1.15" />
<line x1="355.3" y1="162.3" x2="361.7" y2="162.3" stroke="#111" stroke-width="1.15" />
<line x1="355.3" y1="180.5" x2="361.7" y2="180.5" stroke="#111" stroke-width="1.15" />
<line x1="351.2" y1="171.5" x2="365.8" y2="171.5" stroke="#111" stroke-width="1.38" />
<line x1="380.8" y1="165.0" x2="380.8" y2="182.0" stroke="#111" stroke-width="1.15" />
<line x1="377.55" y1="165.0" x2="384.05" y2="165.0" stroke="#111" stroke-width="1.15" />
<line x1="377.55" y1="182.0" x2="384.05" y2="182.0" stroke="#111" stroke-width="1.15" />
<line x1="373.3" y1="173.5" x2="388.3" y2="173.5" stroke="#111" stroke-width="1.38" />
<line x1="403.5" y1="89.0" x2="403.5" y2="155.3" stroke="#111" stroke-width="1.15" />
<line x1="400.3" y1="89.0" x2="406.7" y2="89.0" stroke="#111" stroke-width="1.15" />
<line x1="400.3" y1="155.3" x2="406.7" y2="155.3" stroke="#111" stroke-width="1.15" />
<line x1="396.2" y1="121.7" x2="410.8" y2="121.7" stroke="#111" stroke-width="1.38" />
<line x1="424.4" y1="178.6" x2="424.4" y2="186.5" stroke="#111" stroke-width="1.15" />
<line x1="421.15" y1="178.6" x2="427.65" y2="178.6" stroke="#111" stroke-width="1.15" />
<line x1="421.15" y1="186.5" x2="427.65" y2="186.5" stroke="#111" stroke-width="1.15" />
<line x1="417.4" y1="182.4" x2="431.4" y2="182.4" stroke="#111" stroke-width="1.38" />
<line x1="448.9" y1="160.7" x2="448.9" y2="187.4" stroke="#111" stroke-width="1.15" />
<line x1="445.09999999999997" y1="160.7" x2="452.7" y2="160.7" stroke="#111" stroke-width="1.15" />
<line x1="445.09999999999997" y1="187.4" x2="452.7" y2="187.4" stroke="#111" stroke-width="1.15" />
<line x1="441.59999999999997" y1="180.3" x2="456.2" y2="180.3" stroke="#111" stroke-width="1.38" />
<path d="M288.5,45.7 V52.6 M288.5,48.8 H313.3 M313.3,45.7 V52.6" stroke="#1a1a1a" stroke-width="1.0" fill="none" />
<circle cx="300.80" cy="44.5" r="0.95" fill="#111"/>
<path d="M378.3,56.0 V63.0 M378.3,59.5 H403.3 M403.3,56.0 V63.0" stroke="#1a1a1a" stroke-width="1.0" fill="none" />
<circle cx="387.60" cy="55.2" r="0.95" fill="#111"/>
<circle cx="390.80" cy="55.2" r="0.95" fill="#111"/>
<circle cx="394.00" cy="55.2" r="0.95" fill="#111"/>
<line x1="35.2" y1="424.6" x2="35.2" y2="249.6" stroke="#111" stroke-width="1.4" />
<path d="M35.2,243.6 L31.6,251.9 L35.2,250.3 L38.800000000000004,251.9 Z" fill="#000"/>
<line x1="34.5" y1="424.6" x2="125.9" y2="424.6" stroke="#111" stroke-width="1.4" />
<path d="M131.9,424.6 L123.5,421.20000000000005 L125.1,424.6 L123.5,428.0 Z" fill="#000"/>
<rect x="41.6" y="244.9" width="80.0" height="80.6" fill="none" stroke="#111" stroke-width="1.2"/>
<rect x="41.6" y="335.5" width="80.0" height="79.69999999999999" fill="none" stroke="#111" stroke-width="1.2"/>
<text x="46.4" y="257.1" font-size="8.6" text-anchor="start" fill="#111" stroke="#111" stroke-width="0.05" textLength="17.900000000000002" lengthAdjust="spacingAndGlyphs">LMC</text>
<text x="60.5" y="277.7" font-size="8.6" text-anchor="start" fill="#111" stroke="#111" stroke-width="0.05" textLength="14.9" lengthAdjust="spacingAndGlyphs">Imm</text>
<text x="60.5" y="287.1" font-size="8.6" text-anchor="start" fill="#111" stroke="#111" stroke-width="0.05" textLength="16.0" lengthAdjust="spacingAndGlyphs">22.1</text>
<text x="101.6" y="311.1" font-size="8.6" text-anchor="start" fill="#111" stroke="#111" stroke-width="0.05" textLength="14.9" lengthAdjust="spacingAndGlyphs">Mat.</text>
<text x="101.6" y="320.5" font-size="8.6" text-anchor="start" fill="#111" stroke="#111" stroke-width="0.05" textLength="15.3" lengthAdjust="spacingAndGlyphs">64.1</text>
<text x="45.6" y="345.5" font-size="8.6" text-anchor="start" fill="#111" stroke="#111" stroke-width="0.05" textLength="25.1" lengthAdjust="spacingAndGlyphs">DPWY</text>
<text x="61.6" y="364.0" font-size="8.6" text-anchor="start" fill="#111" stroke="#111" stroke-width="0.05" textLength="14.3" lengthAdjust="spacingAndGlyphs">Imm</text>
<text x="61.6" y="373.5" font-size="8.6" text-anchor="start" fill="#111" stroke="#111" stroke-width="0.05" textLength="16.0" lengthAdjust="spacingAndGlyphs">35.2</text>
<text x="101.6" y="397.8" font-size="8.6" text-anchor="start" fill="#111" stroke="#111" stroke-width="0.05" textLength="14.8" lengthAdjust="spacingAndGlyphs">Mat.</text>
<text x="102.19999999999999" y="406.9" font-size="8.6" text-anchor="start" fill="#111" stroke="#111" stroke-width="0.05" textLength="14.700000000000001" lengthAdjust="spacingAndGlyphs">16.1</text>
<text transform="translate(29.0,332.25) rotate(-90)" x="0" y="0" font-size="10.2" text-anchor="middle" fill="#111" stroke="#111" stroke-width="0.28" textLength="12.0" lengthAdjust="spacingAndGlyphs">IgM</text>
<text x="78.0" y="436.6" font-size="10.2" text-anchor="start" fill="#111" stroke="#111" stroke-width="0.28" textLength="10.2" lengthAdjust="spacingAndGlyphs">IgD</text>
<path d="M97.1,280.2h0.7v0.7h-0.7zM95.4,280.5h0.7v0.7h-0.7zM99.1,263.9h0.7v0.7h-0.7zM89.4,277.3h0.7v0.7h-0.7zM91.9,272.0h0.7v0.7h-0.7zM102.1,279.0h0.7v0.7h-0.7zM95.9,274.9h0.7v0.7h-0.7zM95.4,288.4h0.7v0.7h-0.7zM73.5,286.9h0.7v0.7h-0.7zM87.9,284.9h0.7v0.7h-0.7zM99.8,283.1h0.7v0.7h-0.7zM96.7,292.2h0.7v0.7h-0.7zM104.8,285.9h0.7v0.7h-0.7zM95.4,276.0h0.7v0.7h-0.7zM87.7,284.2h0.7v0.7h-0.7zM91.6,301.6h0.7v0.7h-0.7zM84.7,298.2h0.7v0.7h-0.7zM97.9,276.2h0.7v0.7h-0.7zM87.8,283.5h0.7v0.7h-0.7zM93.1,282.3h0.7v0.7h-0.7zM83.2,291.1h0.7v0.7h-0.7zM85.9,286.1h0.7v0.7h-0.7zM94.8,268.1h0.7v0.7h-0.7zM101.5,268.9h0.7v0.7h-0.7zM91.3,288.7h0.7v0.7h-0.7zM102.7,290.1h0.7v0.7h-0.7zM95.0,282.1h0.7v0.7h-0.7zM85.8,271.1h0.7v0.7h-0.7zM80.0,279.7h0.7v0.7h-0.7zM91.9,284.7h0.7v0.7h-0.7zM89.3,288.8h0.7v0.7h-0.7zM101.2,272.9h0.7v0.7h-0.7zM96.4,273.4h0.7v0.7h-0.7zM93.9,278.9h0.7v0.7h-0.7zM90.5,274.5h0.7v0.7h-0.7zM82.0,270.0h0.7v0.7h-0.7zM87.9,273.5h0.7v0.7h-0.7zM98.1,293.3h0.7v0.7h-0.7zM105.0,262.2h0.7v0.7h-0.7zM88.8,274.3h0.7v0.7h-0.7zM89.5,282.1h0.7v0.7h-0.7zM101.5,262.4h0.7v0.7h-0.7zM96.4,278.0h0.7v0.7h-0.7zM104.7,270.2h0.7v0.7h-0.7zM84.1,281.6h0.7v0.7h-0.7zM97.5,272.9h0.7v0.7h-0.7zM109.0,279.9h0.7v0.7h-0.7zM87.5,277.4h0.7v0.7h-0.7zM98.3,271.8h0.7v0.7h-0.7zM83.2,298.7h0.7v0.7h-0.7zM97.8,281.9h0.7v0.7h-0.7zM110.0,286.4h0.7v0.7h-0.7zM102.3,276.8h0.7v0.7h-0.7zM98.3,282.5h0.7v0.7h-0.7zM112.0,274.6h0.7v0.7h-0.7zM95.8,278.0h0.7v0.7h-0.7zM94.6,268.2h0.7v0.7h-0.7zM98.8,287.4h0.7v0.7h-0.7zM99.4,289.8h0.7v0.7h-0.7zM91.9,285.4h0.7v0.7h-0.7zM95.0,288.4h0.7v0.7h-0.7zM100.2,280.6h0.7v0.7h-0.7zM90.5,291.2h0.7v0.7h-0.7zM101.3,278.3h0.7v0.7h-0.7zM84.8,295.1h0.7v0.7h-0.7zM94.5,277.7h0.7v0.7h-0.7zM77.4,283.6h0.7v0.7h-0.7zM101.1,286.3h0.7v0.7h-0.7zM108.5,276.9h0.7v0.7h-0.7zM88.9,281.9h0.7v0.7h-0.7zM84.1,275.6h0.7v0.7h-0.7zM109.5,280.2h0.7v0.7h-0.7zM111.2,277.4h0.7v0.7h-0.7zM101.9,281.7h0.7v0.7h-0.7zM80.2,271.7h0.7v0.7h-0.7zM98.9,274.6h0.7v0.7h-0.7zM91.6,264.2h0.7v0.7h-0.7zM89.1,280.0h0.7v0.7h-0.7zM98.4,261.6h0.7v0.7h-0.7zM87.9,285.0h0.7v0.7h-0.7zM100.6,292.5h0.7v0.7h-0.7zM87.5,275.4h0.7v0.7h-0.7zM100.9,267.4h0.7v0.7h-0.7zM92.7,287.7h0.7v0.7h-0.7zM89.6,282.3h0.7v0.7h-0.7zM90.5,280.1h0.7v0.7h-0.7zM88.1,271.7h0.7v0.7h-0.7zM99.2,263.4h0.7v0.7h-0.7zM93.9,265.9h0.7v0.7h-0.7zM91.2,284.6h0.7v0.7h-0.7zM87.5,308.0h0.7v0.7h-0.7zM103.0,276.0h0.7v0.7h-0.7zM88.9,279.8h0.7v0.7h-0.7zM84.8,286.1h0.7v0.7h-0.7zM114.4,254.6h0.7v0.7h-0.7zM107.5,278.6h0.7v0.7h-0.7zM90.3,269.2h0.7v0.7h-0.7zM80.8,289.1h0.7v0.7h-0.7zM103.5,285.8h0.7v0.7h-0.7zM93.9,279.7h0.7v0.7h-0.7zM100.0,282.8h0.7v0.7h-0.7zM102.7,273.9h0.7v0.7h-0.7zM107.5,292.1h0.7v0.7h-0.7zM90.6,272.9h0.7v0.7h-0.7zM89.0,284.2h0.7v0.7h-0.7zM94.5,282.0h0.7v0.7h-0.7zM85.3,287.1h0.7v0.7h-0.7zM78.8,269.5h0.7v0.7h-0.7zM109.1,276.4h0.7v0.7h-0.7zM93.6,270.6h0.7v0.7h-0.7zM104.4,270.2h0.7v0.7h-0.7zM86.4,276.5h0.7v0.7h-0.7zM93.6,285.8h0.7v0.7h-0.7zM87.3,283.5h0.7v0.7h-0.7zM89.6,295.8h0.7v0.7h-0.7zM92.2,276.2h0.7v0.7h-0.7zM101.7,279.8h0.7v0.7h-0.7zM103.3,280.3h0.7v0.7h-0.7zM101.1,288.7h0.7v0.7h-0.7zM90.8,286.0h0.7v0.7h-0.7zM105.8,263.1h0.7v0.7h-0.7zM92.4,286.6h0.7v0.7h-0.7zM89.3,282.3h0.7v0.7h-0.7zM90.6,272.4h0.7v0.7h-0.7zM89.7,291.6h0.7v0.7h-0.7zM88.6,270.1h0.7v0.7h-0.7zM105.1,282.6h0.7v0.7h-0.7zM88.1,280.6h0.7v0.7h-0.7zM97.7,296.6h0.7v0.7h-0.7zM95.6,290.4h0.7v0.7h-0.7zM93.2,291.1h0.7v0.7h-0.7zM86.3,283.2h0.7v0.7h-0.7zM89.5,293.1h0.7v0.7h-0.7zM72.3,290.0h0.7v0.7h-0.7zM98.1,288.6h0.7v0.7h-0.7zM99.5,277.5h0.7v0.7h-0.7zM95.3,287.6h0.7v0.7h-0.7zM96.6,273.7h0.7v0.7h-0.7zM98.6,292.4h0.7v0.7h-0.7zM95.0,280.1h0.7v0.7h-0.7zM100.8,284.3h0.7v0.7h-0.7zM91.3,265.1h0.7v0.7h-0.7zM87.2,276.3h0.7v0.7h-0.7zM98.3,274.1h0.7v0.7h-0.7zM85.8,279.6h0.7v0.7h-0.7zM79.7,280.0h0.7v0.7h-0.7zM82.2,278.4h0.7v0.7h-0.7zM105.1,269.9h0.7v0.7h-0.7zM91.7,272.7h0.7v0.7h-0.7zM100.1,276.6h0.7v0.7h-0.7zM95.1,278.4h0.7v0.7h-0.7zM85.4,285.9h0.7v0.7h-0.7zM93.8,273.0h0.7v0.7h-0.7zM96.0,292.7h0.7v0.7h-0.7zM88.8,290.3h0.7v0.7h-0.7zM101.3,280.5h0.7v0.7h-0.7zM102.2,278.3h0.7v0.7h-0.7zM87.1,283.0h0.7v0.7h-0.7zM94.6,277.9h0.7v0.7h-0.7zM103.8,303.2h0.7v0.7h-0.7zM95.6,278.2h0.7v0.7h-0.7zM107.0,259.5h0.7v0.7h-0.7zM88.0,275.3h0.7v0.7h-0.7zM81.2,280.6h0.7v0.7h-0.7zM96.9,277.6h0.7v0.7h-0.7zM106.4,270.9h0.7v0.7h-0.7zM81.1,283.6h0.7v0.7h-0.7zM105.5,268.6h0.7v0.7h-0.7zM87.3,274.6h0.7v0.7h-0.7zM95.7,276.0h0.7v0.7h-0.7zM101.1,280.6h0.7v0.7h-0.7zM104.7,288.4h0.7v0.7h-0.7zM93.0,293.5h0.7v0.7h-0.7zM98.6,293.1h0.7v0.7h-0.7zM83.7,281.1h0.7v0.7h-0.7zM91.5,286.9h0.7v0.7h-0.7zM88.1,293.7h0.7v0.7h-0.7zM94.7,284.8h0.7v0.7h-0.7zM88.3,294.5h0.7v0.7h-0.7zM98.3,277.7h0.7v0.7h-0.7zM98.1,275.7h0.7v0.7h-0.7zM96.8,279.9h0.7v0.7h-0.7zM83.4,294.7h0.7v0.7h-0.7zM93.5,278.6h0.7v0.7h-0.7zM84.2,280.9h0.7v0.7h-0.7zM98.0,272.7h0.7v0.7h-0.7zM92.2,283.7h0.7v0.7h-0.7zM91.7,271.6h0.7v0.7h-0.7zM102.0,288.5h0.7v0.7h-0.7zM94.7,282.5h0.7v0.7h-0.7zM86.8,279.7h0.7v0.7h-0.7zM94.7,275.3h0.7v0.7h-0.7zM93.4,281.5h0.7v0.7h-0.7zM108.0,272.1h0.7v0.7h-0.7zM85.4,293.1h0.7v0.7h-0.7zM94.9,283.4h0.7v0.7h-0.7zM81.7,280.9h0.7v0.7h-0.7zM84.5,291.7h0.7v0.7h-0.7zM89.6,290.5h0.7v0.7h-0.7zM95.9,275.1h0.7v0.7h-0.7zM85.2,284.0h0.7v0.7h-0.7zM93.6,274.0h0.7v0.7h-0.7zM111.4,268.2h0.7v0.7h-0.7zM92.2,284.1h0.7v0.7h-0.7zM83.4,286.0h0.7v0.7h-0.7zM106.6,284.2h0.7v0.7h-0.7zM76.0,280.1h0.7v0.7h-0.7zM87.0,286.8h0.7v0.7h-0.7zM100.0,279.1h0.7v0.7h-0.7zM100.5,271.9h0.7v0.7h-0.7zM94.4,287.6h0.7v0.7h-0.7zM89.2,280.5h0.7v0.7h-0.7zM89.8,282.1h0.7v0.7h-0.7zM105.7,299.3h0.7v0.7h-0.7zM84.3,265.0h0.7v0.7h-0.7zM99.4,276.5h0.7v0.7h-0.7zM97.1,292.0h0.7v0.7h-0.7zM93.5,269.3h0.7v0.7h-0.7zM82.0,286.5h0.7v0.7h-0.7zM88.5,287.9h0.7v0.7h-0.7zM96.0,288.2h0.7v0.7h-0.7zM96.7,288.7h0.7v0.7h-0.7zM101.5,271.2h0.7v0.7h-0.7zM96.9,280.2h0.7v0.7h-0.7zM87.5,289.0h0.7v0.7h-0.7zM93.6,270.2h0.7v0.7h-0.7zM101.3,278.8h0.7v0.7h-0.7zM106.3,275.7h0.7v0.7h-0.7zM92.2,280.8h0.7v0.7h-0.7zM102.8,268.0h0.7v0.7h-0.7zM80.3,279.1h0.7v0.7h-0.7zM100.2,295.2h0.7v0.7h-0.7zM96.6,283.7h0.7v0.7h-0.7zM91.8,304.6h0.7v0.7h-0.7zM99.1,271.0h0.7v0.7h-0.7zM94.7,277.1h0.7v0.7h-0.7zM110.9,260.6h0.7v0.7h-0.7zM99.0,273.9h0.7v0.7h-0.7zM101.3,280.8h0.7v0.7h-0.7zM91.2,273.7h0.7v0.7h-0.7zM101.7,288.5h0.7v0.7h-0.7zM105.4,280.8h0.7v0.7h-0.7zM90.3,279.5h0.7v0.7h-0.7zM82.6,289.7h0.7v0.7h-0.7zM87.0,286.3h0.7v0.7h-0.7zM84.9,278.8h0.7v0.7h-0.7zM105.8,275.2h0.7v0.7h-0.7zM94.4,280.8h0.7v0.7h-0.7zM100.0,276.6h0.7v0.7h-0.7zM94.2,262.8h0.7v0.7h-0.7zM90.3,274.8h0.7v0.7h-0.7zM97.8,272.5h0.7v0.7h-0.7zM94.2,277.0h0.7v0.7h-0.7zM93.8,297.2h0.7v0.7h-0.7zM89.1,289.8h0.7v0.7h-0.7zM87.9,269.6h0.7v0.7h-0.7zM83.0,268.8h0.7v0.7h-0.7zM102.7,276.4h0.7v0.7h-0.7zM93.7,296.7h0.7v0.7h-0.7zM102.2,273.0h0.7v0.7h-0.7zM104.0,274.8h0.7v0.7h-0.7zM101.1,280.9h0.7v0.7h-0.7zM89.0,305.0h0.7v0.7h-0.7zM85.3,300.3h0.7v0.7h-0.7zM105.2,280.6h0.7v0.7h-0.7zM83.4,292.4h0.7v0.7h-0.7zM85.3,274.8h0.7v0.7h-0.7zM101.7,280.3h0.7v0.7h-0.7zM91.7,276.3h0.7v0.7h-0.7zM103.9,267.8h0.7v0.7h-0.7zM95.2,288.1h0.7v0.7h-0.7zM85.5,276.9h0.7v0.7h-0.7zM86.4,294.4h0.7v0.7h-0.7zM100.4,280.2h0.7v0.7h-0.7zM104.6,259.6h0.7v0.7h-0.7zM98.1,279.1h0.7v0.7h-0.7zM91.8,292.6h0.7v0.7h-0.7zM101.3,261.6h0.7v0.7h-0.7zM95.0,281.3h0.7v0.7h-0.7zM90.1,262.0h0.7v0.7h-0.7zM94.7,285.0h0.7v0.7h-0.7zM83.9,272.9h0.7v0.7h-0.7zM67.9,284.8h0.7v0.7h-0.7zM110.3,282.9h0.7v0.7h-0.7zM97.2,278.4h0.7v0.7h-0.7zM109.3,273.2h0.7v0.7h-0.7zM102.7,268.4h0.7v0.7h-0.7zM87.5,276.6h0.7v0.7h-0.7zM81.7,282.0h0.7v0.7h-0.7zM98.0,272.8h0.7v0.7h-0.7zM100.0,276.9h0.7v0.7h-0.7zM88.8,286.2h0.7v0.7h-0.7zM94.2,272.4h0.7v0.7h-0.7zM102.0,278.5h0.7v0.7h-0.7zM98.7,278.5h0.7v0.7h-0.7zM89.9,275.3h0.7v0.7h-0.7zM84.2,283.1h0.7v0.7h-0.7zM104.7,284.1h0.7v0.7h-0.7zM99.7,269.1h0.7v0.7h-0.7zM99.1,263.2h0.7v0.7h-0.7zM99.6,264.5h0.7v0.7h-0.7zM98.4,274.7h0.7v0.7h-0.7zM89.5,294.0h0.7v0.7h-0.7zM91.6,284.7h0.7v0.7h-0.7zM90.7,274.0h0.7v0.7h-0.7zM103.8,263.3h0.7v0.7h-0.7zM90.5,295.1h0.7v0.7h-0.7zM108.2,279.9h0.7v0.7h-0.7zM93.0,273.1h0.7v0.7h-0.7zM94.4,265.0h0.7v0.7h-0.7zM109.2,283.6h0.7v0.7h-0.7zM89.2,273.6h0.7v0.7h-0.7zM96.4,272.9h0.7v0.7h-0.7zM103.8,264.3h0.7v0.7h-0.7zM93.8,286.3h0.7v0.7h-0.7zM83.8,279.9h0.7v0.7h-0.7zM111.3,268.3h0.7v0.7h-0.7zM79.9,283.4h0.7v0.7h-0.7zM94.2,280.9h0.7v0.7h-0.7zM93.8,284.5h0.7v0.7h-0.7zM98.6,275.2h0.7v0.7h-0.7zM94.0,280.2h0.7v0.7h-0.7zM84.1,252.4h0.7v0.7h-0.7zM88.0,266.4h0.7v0.7h-0.7zM98.5,283.7h0.7v0.7h-0.7zM91.4,280.1h0.7v0.7h-0.7zM102.3,283.6h0.7v0.7h-0.7zM104.4,275.7h0.7v0.7h-0.7zM93.4,286.2h0.7v0.7h-0.7zM83.6,289.4h0.7v0.7h-0.7zM84.6,284.2h0.7v0.7h-0.7zM91.7,268.6h0.7v0.7h-0.7zM86.8,279.7h0.7v0.7h-0.7zM87.4,275.6h0.7v0.7h-0.7zM102.0,294.7h0.7v0.7h-0.7zM104.6,286.6h0.7v0.7h-0.7zM106.5,291.4h0.7v0.7h-0.7zM84.3,274.5h0.7v0.7h-0.7zM87.2,291.8h0.7v0.7h-0.7zM95.5,267.6h0.7v0.7h-0.7zM101.5,264.0h0.7v0.7h-0.7zM109.6,274.6h0.7v0.7h-0.7zM81.1,279.2h0.7v0.7h-0.7zM98.3,263.7h0.7v0.7h-0.7zM103.2,261.6h0.7v0.7h-0.7zM90.2,276.0h0.7v0.7h-0.7zM100.8,275.9h0.7v0.7h-0.7zM98.1,296.7h0.7v0.7h-0.7zM100.4,282.2h0.7v0.7h-0.7zM101.1,273.9h0.7v0.7h-0.7zM104.2,273.0h0.7v0.7h-0.7zM94.5,264.7h0.7v0.7h-0.7zM98.7,280.8h0.7v0.7h-0.7zM98.2,264.4h0.7v0.7h-0.7zM95.9,281.0h0.7v0.7h-0.7zM99.5,271.9h0.7v0.7h-0.7zM105.4,281.4h0.7v0.7h-0.7zM83.8,279.4h0.7v0.7h-0.7zM105.9,259.8h0.7v0.7h-0.7zM90.6,290.1h0.7v0.7h-0.7zM87.7,285.2h0.7v0.7h-0.7zM106.2,269.5h0.7v0.7h-0.7zM99.0,282.2h0.7v0.7h-0.7zM102.6,267.4h0.7v0.7h-0.7zM103.2,276.2h0.7v0.7h-0.7zM93.7,271.8h0.7v0.7h-0.7zM105.9,278.1h0.7v0.7h-0.7zM89.9,276.7h0.7v0.7h-0.7zM93.0,266.4h0.7v0.7h-0.7zM76.4,285.8h0.7v0.7h-0.7zM103.1,273.6h0.7v0.7h-0.7zM88.6,288.9h0.7v0.7h-0.7zM96.3,288.6h0.7v0.7h-0.7zM90.7,287.9h0.7v0.7h-0.7zM88.7,294.4h0.7v0.7h-0.7zM80.8,289.0h0.7v0.7h-0.7zM82.5,283.3h0.7v0.7h-0.7zM105.3,267.7h0.7v0.7h-0.7zM101.8,273.5h0.7v0.7h-0.7zM110.5,275.4h0.7v0.7h-0.7zM87.7,275.7h0.7v0.7h-0.7zM100.0,284.1h0.7v0.7h-0.7zM102.0,274.5h0.7v0.7h-0.7zM91.2,300.7h0.7v0.7h-0.7zM91.4,277.6h0.7v0.7h-0.7zM82.5,279.6h0.7v0.7h-0.7zM104.9,250.4h0.7v0.7h-0.7zM111.5,276.0h0.7v0.7h-0.7zM88.0,277.6h0.7v0.7h-0.7zM103.8,271.1h0.7v0.7h-0.7zM95.2,270.4h0.7v0.7h-0.7zM96.1,279.2h0.7v0.7h-0.7zM95.4,281.0h0.7v0.7h-0.7zM100.2,297.2h0.7v0.7h-0.7zM119.6,274.0h0.7v0.7h-0.7zM102.6,285.3h0.7v0.7h-0.7zM100.7,274.4h0.7v0.7h-0.7zM94.9,282.2h0.7v0.7h-0.7zM95.3,289.6h0.7v0.7h-0.7zM99.0,270.6h0.7v0.7h-0.7zM96.2,288.7h0.7v0.7h-0.7zM94.9,276.0h0.7v0.7h-0.7zM88.7,274.8h0.7v0.7h-0.7zM111.3,273.9h0.7v0.7h-0.7zM97.6,276.7h0.7v0.7h-0.7zM107.1,277.7h0.7v0.7h-0.7zM85.6,294.7h0.7v0.7h-0.7zM87.8,281.9h0.7v0.7h-0.7zM93.0,298.7h0.7v0.7h-0.7zM107.2,276.7h0.7v0.7h-0.7zM96.2,284.5h0.7v0.7h-0.7zM89.1,280.8h0.7v0.7h-0.7zM101.7,277.3h0.7v0.7h-0.7zM89.2,276.2h0.7v0.7h-0.7zM84.3,297.2h0.7v0.7h-0.7zM93.2,272.5h0.7v0.7h-0.7zM98.3,289.3h0.7v0.7h-0.7zM99.6,285.0h0.7v0.7h-0.7zM99.7,265.3h0.7v0.7h-0.7zM97.3,275.7h0.7v0.7h-0.7zM79.6,277.2h0.7v0.7h-0.7zM74.9,304.5h0.7v0.7h-0.7zM98.9,285.7h0.7v0.7h-0.7zM92.7,288.1h0.7v0.7h-0.7zM101.6,250.2h0.7v0.7h-0.7zM85.6,283.3h0.7v0.7h-0.7zM84.7,262.2h0.7v0.7h-0.7zM92.7,292.1h0.7v0.7h-0.7zM98.4,271.2h0.7v0.7h-0.7zM88.3,274.8h0.7v0.7h-0.7zM98.0,277.9h0.7v0.7h-0.7zM100.7,288.6h0.7v0.7h-0.7zM91.9,278.0h0.7v0.7h-0.7zM89.1,280.7h0.7v0.7h-0.7zM108.3,272.1h0.7v0.7h-0.7zM97.6,276.3h0.7v0.7h-0.7zM84.8,281.2h0.7v0.7h-0.7zM95.0,286.5h0.7v0.7h-0.7zM98.1,279.7h0.7v0.7h-0.7zM84.2,265.0h0.7v0.7h-0.7zM90.4,273.6h0.7v0.7h-0.7zM92.7,287.8h0.7v0.7h-0.7zM97.8,274.7h0.7v0.7h-0.7zM96.1,295.1h0.7v0.7h-0.7zM96.1,284.0h0.7v0.7h-0.7zM95.5,276.3h0.7v0.7h-0.7zM91.5,284.0h0.7v0.7h-0.7zM86.4,278.0h0.7v0.7h-0.7zM91.7,258.6h0.7v0.7h-0.7zM105.7,279.9h0.7v0.7h-0.7zM83.0,286.3h0.7v0.7h-0.7zM107.4,268.1h0.7v0.7h-0.7zM84.0,278.6h0.7v0.7h-0.7zM91.2,289.2h0.7v0.7h-0.7zM91.1,292.1h0.7v0.7h-0.7zM93.0,288.2h0.7v0.7h-0.7zM97.9,269.9h0.7v0.7h-0.7zM103.6,276.0h0.7v0.7h-0.7zM89.7,265.1h0.7v0.7h-0.7zM99.3,289.1h0.7v0.7h-0.7zM95.4,295.7h0.7v0.7h-0.7zM97.5,263.4h0.7v0.7h-0.7zM97.4,274.2h0.7v0.7h-0.7zM105.0,260.0h0.7v0.7h-0.7zM87.5,278.4h0.7v0.7h-0.7zM102.2,284.3h0.7v0.7h-0.7zM101.7,283.2h0.7v0.7h-0.7zM93.0,289.5h0.7v0.7h-0.7zM90.8,281.3h0.7v0.7h-0.7zM86.2,288.5h0.7v0.7h-0.7zM102.9,275.4h0.7v0.7h-0.7zM101.2,274.2h0.7v0.7h-0.7zM90.6,288.8h0.7v0.7h-0.7zM100.5,283.2h0.7v0.7h-0.7zM81.5,280.6h0.7v0.7h-0.7zM109.8,272.1h0.7v0.7h-0.7zM79.7,275.5h0.7v0.7h-0.7zM101.5,267.3h0.7v0.7h-0.7zM102.6,272.1h0.7v0.7h-0.7zM97.9,281.6h0.7v0.7h-0.7zM104.5,271.0h0.7v0.7h-0.7zM80.7,293.9h0.7v0.7h-0.7zM95.3,294.2h0.7v0.7h-0.7zM91.6,284.7h0.7v0.7h-0.7zM94.7,266.0h0.7v0.7h-0.7zM97.9,289.4h0.7v0.7h-0.7zM95.6,293.4h0.7v0.7h-0.7zM88.0,285.8h0.7v0.7h-0.7zM102.0,269.3h0.7v0.7h-0.7zM93.3,284.0h0.7v0.7h-0.7zM98.7,264.0h0.7v0.7h-0.7zM102.9,266.7h0.7v0.7h-0.7zM98.8,269.4h0.7v0.7h-0.7zM94.4,282.6h0.7v0.7h-0.7zM81.5,287.7h0.7v0.7h-0.7zM111.4,263.2h0.7v0.7h-0.7zM97.9,296.6h0.7v0.7h-0.7zM97.2,283.7h0.7v0.7h-0.7zM86.1,276.0h0.7v0.7h-0.7zM100.9,276.0h0.7v0.7h-0.7zM110.2,280.8h0.7v0.7h-0.7zM99.4,264.2h0.7v0.7h-0.7zM85.9,287.1h0.7v0.7h-0.7zM91.5,264.7h0.7v0.7h-0.7zM108.3,278.1h0.7v0.7h-0.7zM96.5,284.8h0.7v0.7h-0.7zM103.0,277.7h0.7v0.7h-0.7zM88.6,277.2h0.7v0.7h-0.7zM98.5,276.1h0.7v0.7h-0.7zM89.2,289.6h0.7v0.7h-0.7zM105.9,290.7h0.7v0.7h-0.7zM90.7,268.1h0.7v0.7h-0.7zM93.3,289.6h0.7v0.7h-0.7zM97.2,279.4h0.7v0.7h-0.7zM100.0,278.3h0.7v0.7h-0.7zM101.8,279.2h0.7v0.7h-0.7zM95.2,266.3h0.7v0.7h-0.7zM91.5,278.9h0.7v0.7h-0.7zM91.6,285.5h0.7v0.7h-0.7zM99.0,275.4h0.7v0.7h-0.7zM87.4,269.4h0.7v0.7h-0.7zM95.1,266.6h0.7v0.7h-0.7zM97.9,275.6h0.7v0.7h-0.7zM94.4,289.4h0.7v0.7h-0.7zM95.1,299.6h0.7v0.7h-0.7zM106.7,283.5h0.7v0.7h-0.7zM86.6,288.5h0.7v0.7h-0.7zM100.8,286.0h0.7v0.7h-0.7zM100.6,285.2h0.7v0.7h-0.7zM97.8,285.5h0.7v0.7h-0.7zM99.0,278.0h0.7v0.7h-0.7zM101.2,278.7h0.7v0.7h-0.7zM105.1,265.7h0.7v0.7h-0.7zM93.1,292.6h0.7v0.7h-0.7zM98.7,281.2h0.7v0.7h-0.7zM93.6,269.2h0.7v0.7h-0.7zM95.8,275.9h0.7v0.7h-0.7zM84.8,285.1h0.7v0.7h-0.7zM80.2,283.1h0.7v0.7h-0.7zM98.5,272.5h0.7v0.7h-0.7zM85.7,287.7h0.7v0.7h-0.7zM107.8,262.0h0.7v0.7h-0.7zM88.2,275.6h0.7v0.7h-0.7zM95.4,267.9h0.7v0.7h-0.7zM98.9,282.7h0.7v0.7h-0.7zM116.9,274.3h0.7v0.7h-0.7zM92.8,278.0h0.7v0.7h-0.7zM92.7,285.9h0.7v0.7h-0.7zM91.4,304.0h0.7v0.7h-0.7zM94.3,275.0h0.7v0.7h-0.7zM95.2,274.0h0.7v0.7h-0.7zM87.7,283.3h0.7v0.7h-0.7zM87.0,293.6h0.7v0.7h-0.7zM101.9,281.5h0.7v0.7h-0.7zM98.2,258.8h0.7v0.7h-0.7zM92.4,284.9h0.7v0.7h-0.7zM97.7,280.8h0.7v0.7h-0.7zM96.8,273.6h0.7v0.7h-0.7zM89.2,261.0h0.7v0.7h-0.7zM83.1,287.5h0.7v0.7h-0.7zM107.5,277.9h0.7v0.7h-0.7zM86.7,287.1h0.7v0.7h-0.7zM97.0,274.5h0.7v0.7h-0.7zM103.1,272.9h0.7v0.7h-0.7zM95.2,281.2h0.7v0.7h-0.7zM96.2,288.6h0.7v0.7h-0.7zM96.4,301.0h0.7v0.7h-0.7zM108.9,267.4h0.7v0.7h-0.7zM91.0,264.7h0.7v0.7h-0.7zM87.2,283.4h0.7v0.7h-0.7zM103.5,280.3h0.7v0.7h-0.7zM92.3,270.5h0.7v0.7h-0.7zM101.5,286.5h0.7v0.7h-0.7zM82.5,278.9h0.7v0.7h-0.7zM97.1,273.2h0.7v0.7h-0.7zM91.9,299.6h0.7v0.7h-0.7zM98.9,291.1h0.7v0.7h-0.7zM99.6,278.4h0.7v0.7h-0.7zM86.4,280.5h0.7v0.7h-0.7zM98.8,281.3h0.7v0.7h-0.7zM105.4,272.7h0.7v0.7h-0.7zM98.3,289.7h0.7v0.7h-0.7zM99.4,273.0h0.7v0.7h-0.7zM93.5,295.1h0.7v0.7h-0.7zM100.2,273.3h0.7v0.7h-0.7zM88.0,291.8h0.7v0.7h-0.7zM110.0,291.6h0.7v0.7h-0.7zM94.5,278.8h0.7v0.7h-0.7zM95.5,268.3h0.7v0.7h-0.7zM87.2,292.1h0.7v0.7h-0.7zM94.5,265.7h0.7v0.7h-0.7zM100.0,282.1h0.7v0.7h-0.7zM103.2,275.2h0.7v0.7h-0.7zM99.6,276.3h0.7v0.7h-0.7zM96.6,286.0h0.7v0.7h-0.7zM95.9,274.9h0.7v0.7h-0.7zM84.3,279.3h0.7v0.7h-0.7zM97.6,282.5h0.7v0.7h-0.7zM89.9,288.3h0.7v0.7h-0.7zM96.8,278.0h0.7v0.7h-0.7zM97.1,271.9h0.7v0.7h-0.7zM94.9,283.7h0.7v0.7h-0.7zM97.7,268.7h0.7v0.7h-0.7zM110.0,263.0h0.7v0.7h-0.7zM99.0,275.1h0.7v0.7h-0.7zM99.5,268.9h0.7v0.7h-0.7zM99.3,286.2h0.7v0.7h-0.7zM106.8,269.7h0.7v0.7h-0.7zM90.7,274.8h0.7v0.7h-0.7zM90.8,282.1h0.7v0.7h-0.7zM91.8,273.8h0.7v0.7h-0.7zM94.2,280.9h0.7v0.7h-0.7zM89.6,274.0h0.7v0.7h-0.7zM100.0,275.6h0.7v0.7h-0.7zM88.8,290.0h0.7v0.7h-0.7zM88.3,291.3h0.7v0.7h-0.7zM104.1,271.3h0.7v0.7h-0.7zM102.1,271.6h0.7v0.7h-0.7zM88.0,287.2h0.7v0.7h-0.7zM111.4,286.4h0.7v0.7h-0.7zM95.6,281.8h0.7v0.7h-0.7zM90.7,285.3h0.7v0.7h-0.7zM97.9,279.3h0.7v0.7h-0.7zM115.3,262.4h0.7v0.7h-0.7zM92.9,265.6h0.7v0.7h-0.7zM92.6,283.6h0.7v0.7h-0.7zM102.2,268.4h0.7v0.7h-0.7zM95.7,266.3h0.7v0.7h-0.7zM96.6,262.7h0.7v0.7h-0.7zM93.9,282.7h0.7v0.7h-0.7zM99.5,284.7h0.7v0.7h-0.7zM90.9,276.2h0.7v0.7h-0.7zM107.0,281.9h0.7v0.7h-0.7zM96.9,280.2h0.7v0.7h-0.7zM97.0,278.8h0.7v0.7h-0.7zM92.9,282.6h0.7v0.7h-0.7zM90.6,274.7h0.7v0.7h-0.7zM101.5,272.7h0.7v0.7h-0.7zM97.5,288.5h0.7v0.7h-0.7zM89.4,276.4h0.7v0.7h-0.7zM96.0,286.4h0.7v0.7h-0.7zM107.2,268.2h0.7v0.7h-0.7zM103.1,289.6h0.7v0.7h-0.7zM91.9,264.4h0.7v0.7h-0.7zM79.7,279.6h0.7v0.7h-0.7zM91.3,268.6h0.7v0.7h-0.7zM87.3,263.3h0.7v0.7h-0.7zM102.4,280.0h0.7v0.7h-0.7zM95.8,284.2h0.7v0.7h-0.7z" fill="#000" opacity="0.3"/>
<path d="M93.5,275.5h0.7v0.7h-0.7zM90.1,279.1h0.7v0.7h-0.7zM92.8,268.2h0.7v0.7h-0.7zM91.8,270.1h0.7v0.7h-0.7zM83.9,274.1h0.7v0.7h-0.7zM91.3,277.6h0.7v0.7h-0.7zM88.7,278.3h0.7v0.7h-0.7zM87.8,269.8h0.7v0.7h-0.7zM91.0,269.9h0.7v0.7h-0.7zM86.6,281.3h0.7v0.7h-0.7zM84.4,273.2h0.7v0.7h-0.7zM86.2,276.7h0.7v0.7h-0.7zM86.9,263.2h0.7v0.7h-0.7zM85.9,272.0h0.7v0.7h-0.7zM84.2,282.8h0.7v0.7h-0.7zM88.9,269.3h0.7v0.7h-0.7zM81.2,281.0h0.7v0.7h-0.7zM87.6,279.3h0.7v0.7h-0.7zM86.2,282.8h0.7v0.7h-0.7zM90.6,274.0h0.7v0.7h-0.7zM91.0,276.9h0.7v0.7h-0.7zM94.5,277.9h0.7v0.7h-0.7zM89.7,275.3h0.7v0.7h-0.7zM90.0,272.2h0.7v0.7h-0.7zM88.5,275.5h0.7v0.7h-0.7zM84.2,278.4h0.7v0.7h-0.7zM93.6,272.9h0.7v0.7h-0.7zM86.5,272.7h0.7v0.7h-0.7zM87.8,281.8h0.7v0.7h-0.7zM93.0,262.0h0.7v0.7h-0.7zM88.8,280.1h0.7v0.7h-0.7zM94.2,275.2h0.7v0.7h-0.7zM89.1,271.0h0.7v0.7h-0.7zM87.7,275.7h0.7v0.7h-0.7zM89.4,280.6h0.7v0.7h-0.7zM92.6,277.2h0.7v0.7h-0.7zM88.9,271.6h0.7v0.7h-0.7zM84.3,283.4h0.7v0.7h-0.7zM84.1,279.5h0.7v0.7h-0.7zM88.3,273.8h0.7v0.7h-0.7zM86.5,275.4h0.7v0.7h-0.7zM90.1,276.3h0.7v0.7h-0.7zM85.5,281.0h0.7v0.7h-0.7zM89.4,279.7h0.7v0.7h-0.7zM85.5,267.6h0.7v0.7h-0.7zM88.5,284.9h0.7v0.7h-0.7zM89.0,276.0h0.7v0.7h-0.7zM85.8,268.6h0.7v0.7h-0.7zM82.5,274.3h0.7v0.7h-0.7zM83.7,278.4h0.7v0.7h-0.7zM93.6,279.7h0.7v0.7h-0.7zM82.7,283.7h0.7v0.7h-0.7zM82.2,278.6h0.7v0.7h-0.7zM90.6,273.0h0.7v0.7h-0.7zM82.9,280.8h0.7v0.7h-0.7zM87.1,277.9h0.7v0.7h-0.7zM90.6,269.0h0.7v0.7h-0.7zM84.2,282.1h0.7v0.7h-0.7zM89.5,278.9h0.7v0.7h-0.7zM93.7,273.7h0.7v0.7h-0.7zM89.6,284.8h0.7v0.7h-0.7zM83.4,280.6h0.7v0.7h-0.7zM86.9,271.1h0.7v0.7h-0.7zM87.6,269.6h0.7v0.7h-0.7zM90.4,282.2h0.7v0.7h-0.7zM92.1,273.4h0.7v0.7h-0.7zM90.0,268.6h0.7v0.7h-0.7zM85.1,267.8h0.7v0.7h-0.7zM88.1,275.5h0.7v0.7h-0.7zM87.3,272.3h0.7v0.7h-0.7zM89.9,270.2h0.7v0.7h-0.7zM90.2,272.6h0.7v0.7h-0.7zM91.6,269.8h0.7v0.7h-0.7zM90.8,279.5h0.7v0.7h-0.7zM86.1,280.3h0.7v0.7h-0.7zM83.7,268.9h0.7v0.7h-0.7zM92.6,277.3h0.7v0.7h-0.7zM75.9,278.8h0.7v0.7h-0.7zM88.7,270.9h0.7v0.7h-0.7zM91.1,270.4h0.7v0.7h-0.7zM86.2,274.4h0.7v0.7h-0.7zM83.0,272.3h0.7v0.7h-0.7zM87.4,269.0h0.7v0.7h-0.7zM80.6,276.7h0.7v0.7h-0.7zM91.0,275.3h0.7v0.7h-0.7zM90.7,276.1h0.7v0.7h-0.7zM91.0,272.7h0.7v0.7h-0.7zM93.1,282.9h0.7v0.7h-0.7zM90.9,280.8h0.7v0.7h-0.7zM88.3,275.3h0.7v0.7h-0.7zM86.2,283.4h0.7v0.7h-0.7zM86.9,282.9h0.7v0.7h-0.7zM90.7,289.0h0.7v0.7h-0.7zM96.0,274.1h0.7v0.7h-0.7zM88.5,277.9h0.7v0.7h-0.7zM90.6,275.7h0.7v0.7h-0.7zM88.3,268.7h0.7v0.7h-0.7zM90.8,272.0h0.7v0.7h-0.7zM88.2,280.7h0.7v0.7h-0.7zM85.2,275.9h0.7v0.7h-0.7zM93.5,267.5h0.7v0.7h-0.7zM88.8,276.4h0.7v0.7h-0.7zM84.1,281.6h0.7v0.7h-0.7zM81.0,270.5h0.7v0.7h-0.7zM86.5,277.8h0.7v0.7h-0.7zM91.0,272.3h0.7v0.7h-0.7zM88.7,269.4h0.7v0.7h-0.7zM85.8,285.7h0.7v0.7h-0.7zM88.2,280.8h0.7v0.7h-0.7zM87.1,278.5h0.7v0.7h-0.7zM82.4,285.9h0.7v0.7h-0.7zM85.6,278.3h0.7v0.7h-0.7zM81.0,269.6h0.7v0.7h-0.7zM97.6,268.5h0.7v0.7h-0.7zM83.1,281.5h0.7v0.7h-0.7zM90.1,276.0h0.7v0.7h-0.7zM96.1,273.3h0.7v0.7h-0.7zM88.2,269.0h0.7v0.7h-0.7zM99.4,264.5h0.7v0.7h-0.7zM93.1,278.0h0.7v0.7h-0.7zM91.5,270.9h0.7v0.7h-0.7zM88.5,275.8h0.7v0.7h-0.7zM90.4,288.6h0.7v0.7h-0.7zM83.5,281.0h0.7v0.7h-0.7zM90.2,281.5h0.7v0.7h-0.7zM88.5,278.6h0.7v0.7h-0.7zM84.0,275.9h0.7v0.7h-0.7zM92.6,278.8h0.7v0.7h-0.7zM90.6,270.5h0.7v0.7h-0.7zM81.6,276.8h0.7v0.7h-0.7zM82.9,271.7h0.7v0.7h-0.7zM84.9,269.9h0.7v0.7h-0.7zM88.5,270.0h0.7v0.7h-0.7zM88.0,273.4h0.7v0.7h-0.7zM98.8,266.2h0.7v0.7h-0.7zM85.1,272.0h0.7v0.7h-0.7zM90.5,272.5h0.7v0.7h-0.7zM89.0,269.6h0.7v0.7h-0.7zM90.9,273.6h0.7v0.7h-0.7zM91.2,272.2h0.7v0.7h-0.7zM86.7,276.4h0.7v0.7h-0.7zM85.1,280.9h0.7v0.7h-0.7zM91.7,269.9h0.7v0.7h-0.7zM87.6,275.5h0.7v0.7h-0.7zM95.0,279.9h0.7v0.7h-0.7zM88.9,276.8h0.7v0.7h-0.7zM92.8,275.9h0.7v0.7h-0.7zM85.5,273.4h0.7v0.7h-0.7zM92.6,270.1h0.7v0.7h-0.7zM81.1,276.0h0.7v0.7h-0.7zM91.8,272.6h0.7v0.7h-0.7zM81.3,277.7h0.7v0.7h-0.7zM91.6,274.4h0.7v0.7h-0.7zM87.8,271.7h0.7v0.7h-0.7zM85.1,270.3h0.7v0.7h-0.7zM88.9,275.7h0.7v0.7h-0.7zM91.6,268.5h0.7v0.7h-0.7zM86.0,280.6h0.7v0.7h-0.7zM84.0,278.6h0.7v0.7h-0.7zM82.2,280.2h0.7v0.7h-0.7zM82.1,283.2h0.7v0.7h-0.7zM86.8,270.1h0.7v0.7h-0.7zM87.4,272.2h0.7v0.7h-0.7zM88.6,271.2h0.7v0.7h-0.7zM89.3,279.6h0.7v0.7h-0.7zM92.8,275.4h0.7v0.7h-0.7zM87.0,268.6h0.7v0.7h-0.7zM92.6,270.6h0.7v0.7h-0.7zM87.2,265.4h0.7v0.7h-0.7zM90.5,283.8h0.7v0.7h-0.7zM80.0,278.9h0.7v0.7h-0.7zM90.6,276.4h0.7v0.7h-0.7zM82.5,272.8h0.7v0.7h-0.7zM83.3,270.6h0.7v0.7h-0.7zM97.9,272.6h0.7v0.7h-0.7zM81.7,275.8h0.7v0.7h-0.7zM93.0,268.6h0.7v0.7h-0.7zM91.3,273.0h0.7v0.7h-0.7zM88.9,271.6h0.7v0.7h-0.7zM84.1,274.4h0.7v0.7h-0.7zM88.7,263.9h0.7v0.7h-0.7zM89.0,271.3h0.7v0.7h-0.7zM87.9,274.5h0.7v0.7h-0.7zM83.9,275.9h0.7v0.7h-0.7zM91.1,284.7h0.7v0.7h-0.7zM87.7,276.9h0.7v0.7h-0.7zM87.1,281.9h0.7v0.7h-0.7zM87.0,275.5h0.7v0.7h-0.7zM86.0,269.5h0.7v0.7h-0.7zM90.2,280.0h0.7v0.7h-0.7zM90.3,269.8h0.7v0.7h-0.7zM86.1,275.2h0.7v0.7h-0.7zM88.5,270.7h0.7v0.7h-0.7zM92.5,265.5h0.7v0.7h-0.7zM95.5,276.9h0.7v0.7h-0.7zM84.7,278.8h0.7v0.7h-0.7zM93.5,277.6h0.7v0.7h-0.7zM84.8,282.8h0.7v0.7h-0.7zM83.6,272.0h0.7v0.7h-0.7zM88.2,273.1h0.7v0.7h-0.7zM95.3,274.2h0.7v0.7h-0.7zM92.0,265.8h0.7v0.7h-0.7zM88.4,277.5h0.7v0.7h-0.7zM79.5,280.6h0.7v0.7h-0.7zM90.1,271.5h0.7v0.7h-0.7zM86.4,274.9h0.7v0.7h-0.7zM93.3,273.0h0.7v0.7h-0.7zM88.6,269.0h0.7v0.7h-0.7zM90.2,284.5h0.7v0.7h-0.7zM83.1,277.6h0.7v0.7h-0.7zM87.1,269.4h0.7v0.7h-0.7zM89.3,268.8h0.7v0.7h-0.7zM85.7,281.3h0.7v0.7h-0.7zM87.3,270.0h0.7v0.7h-0.7zM94.7,271.3h0.7v0.7h-0.7zM93.6,265.7h0.7v0.7h-0.7zM88.0,266.3h0.7v0.7h-0.7zM94.6,269.4h0.7v0.7h-0.7zM97.0,278.9h0.7v0.7h-0.7zM86.9,268.1h0.7v0.7h-0.7zM88.4,278.5h0.7v0.7h-0.7zM82.1,270.2h0.7v0.7h-0.7zM86.4,282.5h0.7v0.7h-0.7zM85.1,275.7h0.7v0.7h-0.7zM84.6,276.9h0.7v0.7h-0.7zM87.3,274.6h0.7v0.7h-0.7zM83.5,279.9h0.7v0.7h-0.7zM92.3,274.9h0.7v0.7h-0.7zM87.4,275.7h0.7v0.7h-0.7zM91.6,275.1h0.7v0.7h-0.7zM91.0,272.4h0.7v0.7h-0.7zM84.4,284.9h0.7v0.7h-0.7zM85.9,269.0h0.7v0.7h-0.7zM83.6,273.4h0.7v0.7h-0.7zM89.3,265.9h0.7v0.7h-0.7zM93.4,270.8h0.7v0.7h-0.7zM96.5,270.3h0.7v0.7h-0.7zM90.1,271.2h0.7v0.7h-0.7zM87.1,278.1h0.7v0.7h-0.7zM83.0,276.4h0.7v0.7h-0.7zM92.7,263.5h0.7v0.7h-0.7zM90.0,265.7h0.7v0.7h-0.7zM85.1,278.7h0.7v0.7h-0.7zM85.7,269.9h0.7v0.7h-0.7zM88.1,272.9h0.7v0.7h-0.7zM92.6,267.5h0.7v0.7h-0.7zM91.2,269.8h0.7v0.7h-0.7zM92.2,273.9h0.7v0.7h-0.7zM85.9,278.6h0.7v0.7h-0.7zM89.6,274.7h0.7v0.7h-0.7z" fill="#000" opacity="0.3"/>
<path d="M95.0,280.0h0.7v0.7h-0.7zM96.7,274.2h0.7v0.7h-0.7zM89.4,277.5h0.7v0.7h-0.7zM93.4,274.3h0.7v0.7h-0.7zM92.1,278.1h0.7v0.7h-0.7zM94.8,271.5h0.7v0.7h-0.7zM98.0,274.3h0.7v0.7h-0.7zM89.8,278.5h0.7v0.7h-0.7zM105.1,276.3h0.7v0.7h-0.7zM94.1,277.2h0.7v0.7h-0.7zM90.1,272.3h0.7v0.7h-0.7zM92.6,280.1h0.7v0.7h-0.7zM102.4,269.1h0.7v0.7h-0.7zM96.2,269.7h0.7v0.7h-0.7zM95.9,276.1h0.7v0.7h-0.7zM97.5,271.5h0.7v0.7h-0.7zM97.2,266.3h0.7v0.7h-0.7zM96.7,278.7h0.7v0.7h-0.7zM96.1,275.7h0.7v0.7h-0.7zM97.3,271.7h0.7v0.7h-0.7zM102.2,271.9h0.7v0.7h-0.7zM98.7,271.7h0.7v0.7h-0.7zM93.8,271.8h0.7v0.7h-0.7zM90.8,280.8h0.7v0.7h-0.7zM98.7,270.5h0.7v0.7h-0.7zM98.9,269.9h0.7v0.7h-0.7zM100.0,270.3h0.7v0.7h-0.7zM93.8,272.1h0.7v0.7h-0.7zM94.2,277.9h0.7v0.7h-0.7zM100.0,269.5h0.7v0.7h-0.7zM98.9,277.5h0.7v0.7h-0.7zM100.4,271.1h0.7v0.7h-0.7zM97.9,273.9h0.7v0.7h-0.7zM97.1,272.4h0.7v0.7h-0.7zM93.0,274.1h0.7v0.7h-0.7zM101.9,265.1h0.7v0.7h-0.7zM97.8,271.9h0.7v0.7h-0.7zM94.4,275.9h0.7v0.7h-0.7zM93.3,278.3h0.7v0.7h-0.7zM97.8,275.1h0.7v0.7h-0.7zM94.8,275.9h0.7v0.7h-0.7zM94.7,273.2h0.7v0.7h-0.7zM98.3,271.3h0.7v0.7h-0.7zM93.5,276.4h0.7v0.7h-0.7zM98.0,279.4h0.7v0.7h-0.7zM91.0,282.4h0.7v0.7h-0.7zM94.9,278.7h0.7v0.7h-0.7zM96.0,277.9h0.7v0.7h-0.7zM96.7,276.9h0.7v0.7h-0.7zM95.5,274.2h0.7v0.7h-0.7zM96.7,275.4h0.7v0.7h-0.7zM94.0,279.2h0.7v0.7h-0.7zM97.3,278.5h0.7v0.7h-0.7zM98.4,269.7h0.7v0.7h-0.7zM95.1,276.0h0.7v0.7h-0.7zM101.0,270.9h0.7v0.7h-0.7zM94.7,272.3h0.7v0.7h-0.7zM89.1,279.9h0.7v0.7h-0.7zM95.2,272.9h0.7v0.7h-0.7zM97.3,274.9h0.7v0.7h-0.7zM98.4,270.3h0.7v0.7h-0.7zM94.9,272.0h0.7v0.7h-0.7zM93.8,278.7h0.7v0.7h-0.7zM95.9,271.8h0.7v0.7h-0.7zM97.6,272.6h0.7v0.7h-0.7zM100.0,273.4h0.7v0.7h-0.7zM99.0,260.9h0.7v0.7h-0.7zM93.6,270.5h0.7v0.7h-0.7zM95.4,272.7h0.7v0.7h-0.7zM95.8,276.6h0.7v0.7h-0.7zM94.8,280.1h0.7v0.7h-0.7zM94.2,279.4h0.7v0.7h-0.7zM94.7,278.6h0.7v0.7h-0.7zM95.6,269.8h0.7v0.7h-0.7zM100.5,269.4h0.7v0.7h-0.7zM103.0,264.3h0.7v0.7h-0.7zM99.8,271.6h0.7v0.7h-0.7zM94.5,273.6h0.7v0.7h-0.7zM92.1,271.0h0.7v0.7h-0.7zM96.7,275.4h0.7v0.7h-0.7zM102.8,267.4h0.7v0.7h-0.7zM97.1,273.5h0.7v0.7h-0.7zM101.3,268.8h0.7v0.7h-0.7zM94.9,276.1h0.7v0.7h-0.7zM100.5,270.7h0.7v0.7h-0.7zM94.0,279.3h0.7v0.7h-0.7zM92.8,277.1h0.7v0.7h-0.7zM96.8,274.9h0.7v0.7h-0.7zM101.4,277.8h0.7v0.7h-0.7zM94.3,274.9h0.7v0.7h-0.7zM92.3,275.9h0.7v0.7h-0.7zM97.0,276.3h0.7v0.7h-0.7zM97.1,271.6h0.7v0.7h-0.7zM99.1,270.3h0.7v0.7h-0.7zM101.5,273.4h0.7v0.7h-0.7zM94.3,276.3h0.7v0.7h-0.7zM104.0,270.8h0.7v0.7h-0.7zM94.0,279.8h0.7v0.7h-0.7zM96.2,275.0h0.7v0.7h-0.7zM101.2,274.4h0.7v0.7h-0.7zM93.2,273.1h0.7v0.7h-0.7zM93.2,268.3h0.7v0.7h-0.7zM96.2,277.6h0.7v0.7h-0.7zM95.8,283.7h0.7v0.7h-0.7zM99.3,271.4h0.7v0.7h-0.7zM95.4,279.0h0.7v0.7h-0.7zM99.3,273.0h0.7v0.7h-0.7zM97.7,277.7h0.7v0.7h-0.7zM96.1,273.6h0.7v0.7h-0.7zM97.0,271.5h0.7v0.7h-0.7zM97.8,270.5h0.7v0.7h-0.7zM96.0,276.6h0.7v0.7h-0.7zM95.1,280.6h0.7v0.7h-0.7zM92.6,275.1h0.7v0.7h-0.7zM97.2,277.6h0.7v0.7h-0.7zM97.7,267.3h0.7v0.7h-0.7zM96.9,268.8h0.7v0.7h-0.7zM95.4,271.6h0.7v0.7h-0.7zM93.2,273.9h0.7v0.7h-0.7zM95.8,272.7h0.7v0.7h-0.7zM100.9,271.2h0.7v0.7h-0.7zM97.4,274.6h0.7v0.7h-0.7zM98.7,273.3h0.7v0.7h-0.7zM94.6,276.1h0.7v0.7h-0.7zM102.6,267.7h0.7v0.7h-0.7zM95.0,276.8h0.7v0.7h-0.7zM96.1,274.9h0.7v0.7h-0.7zM94.1,273.4h0.7v0.7h-0.7zM97.2,274.0h0.7v0.7h-0.7zM96.2,270.2h0.7v0.7h-0.7zM92.8,282.0h0.7v0.7h-0.7zM96.3,272.0h0.7v0.7h-0.7zM100.6,261.4h0.7v0.7h-0.7zM99.5,274.4h0.7v0.7h-0.7zM100.4,264.7h0.7v0.7h-0.7zM92.8,282.3h0.7v0.7h-0.7zM97.7,276.9h0.7v0.7h-0.7zM96.4,273.1h0.7v0.7h-0.7zM96.2,277.7h0.7v0.7h-0.7zM102.1,271.4h0.7v0.7h-0.7zM99.6,266.0h0.7v0.7h-0.7zM87.6,285.6h0.7v0.7h-0.7zM92.9,275.2h0.7v0.7h-0.7zM95.9,271.7h0.7v0.7h-0.7zM98.7,273.0h0.7v0.7h-0.7zM93.6,281.9h0.7v0.7h-0.7zM91.5,279.5h0.7v0.7h-0.7zM93.7,280.4h0.7v0.7h-0.7zM92.1,278.8h0.7v0.7h-0.7zM99.6,274.6h0.7v0.7h-0.7zM95.1,276.4h0.7v0.7h-0.7zM98.0,270.9h0.7v0.7h-0.7zM96.6,276.6h0.7v0.7h-0.7zM97.2,271.1h0.7v0.7h-0.7zM93.3,274.1h0.7v0.7h-0.7zM94.0,277.5h0.7v0.7h-0.7zM92.2,270.2h0.7v0.7h-0.7zM98.6,265.9h0.7v0.7h-0.7zM95.9,269.9h0.7v0.7h-0.7zM95.8,275.2h0.7v0.7h-0.7zM93.3,270.0h0.7v0.7h-0.7zM92.4,278.8h0.7v0.7h-0.7zM93.7,275.1h0.7v0.7h-0.7zM97.8,274.3h0.7v0.7h-0.7zM97.7,275.6h0.7v0.7h-0.7zM100.7,275.2h0.7v0.7h-0.7zM100.3,265.2h0.7v0.7h-0.7zM93.5,277.1h0.7v0.7h-0.7zM94.3,269.5h0.7v0.7h-0.7zM89.8,276.0h0.7v0.7h-0.7zM95.6,275.7h0.7v0.7h-0.7zM97.0,278.7h0.7v0.7h-0.7zM96.8,269.6h0.7v0.7h-0.7zM94.1,270.1h0.7v0.7h-0.7zM93.6,276.2h0.7v0.7h-0.7zM94.0,272.7h0.7v0.7h-0.7zM95.3,272.7h0.7v0.7h-0.7zM94.6,271.7h0.7v0.7h-0.7zM92.6,276.7h0.7v0.7h-0.7zM104.3,263.8h0.7v0.7h-0.7zM95.6,271.0h0.7v0.7h-0.7zM90.0,283.3h0.7v0.7h-0.7zM98.8,267.2h0.7v0.7h-0.7zM95.1,274.5h0.7v0.7h-0.7zM95.3,279.6h0.7v0.7h-0.7zM98.6,270.1h0.7v0.7h-0.7zM94.1,275.4h0.7v0.7h-0.7zM99.4,272.5h0.7v0.7h-0.7zM92.7,273.4h0.7v0.7h-0.7zM97.2,270.6h0.7v0.7h-0.7zM95.5,271.9h0.7v0.7h-0.7zM91.2,277.5h0.7v0.7h-0.7zM99.7,269.2h0.7v0.7h-0.7zM100.4,263.0h0.7v0.7h-0.7zM92.4,274.2h0.7v0.7h-0.7zM100.8,271.2h0.7v0.7h-0.7zM95.5,275.2h0.7v0.7h-0.7zM94.6,273.5h0.7v0.7h-0.7zM95.3,274.3h0.7v0.7h-0.7zM91.1,284.0h0.7v0.7h-0.7zM97.3,271.9h0.7v0.7h-0.7zM93.8,271.9h0.7v0.7h-0.7zM101.5,271.9h0.7v0.7h-0.7zM99.0,267.0h0.7v0.7h-0.7zM96.7,279.3h0.7v0.7h-0.7zM101.9,271.0h0.7v0.7h-0.7zM100.6,273.9h0.7v0.7h-0.7zM94.7,275.1h0.7v0.7h-0.7zM95.7,277.0h0.7v0.7h-0.7zM102.6,272.9h0.7v0.7h-0.7zM99.6,273.4h0.7v0.7h-0.7zM94.3,269.3h0.7v0.7h-0.7zM99.2,268.8h0.7v0.7h-0.7zM98.1,278.3h0.7v0.7h-0.7zM95.8,273.4h0.7v0.7h-0.7zM99.6,268.4h0.7v0.7h-0.7zM91.5,271.9h0.7v0.7h-0.7zM95.3,280.1h0.7v0.7h-0.7zM88.9,281.5h0.7v0.7h-0.7zM96.4,273.6h0.7v0.7h-0.7zM98.3,267.0h0.7v0.7h-0.7zM100.0,270.1h0.7v0.7h-0.7zM98.0,276.8h0.7v0.7h-0.7zM94.9,270.1h0.7v0.7h-0.7zM96.1,275.6h0.7v0.7h-0.7zM97.2,277.6h0.7v0.7h-0.7zM99.5,272.0h0.7v0.7h-0.7zM99.4,269.5h0.7v0.7h-0.7zM94.5,276.0h0.7v0.7h-0.7zM93.3,272.6h0.7v0.7h-0.7zM98.5,271.0h0.7v0.7h-0.7zM98.0,267.5h0.7v0.7h-0.7zM90.7,283.5h0.7v0.7h-0.7zM96.7,268.8h0.7v0.7h-0.7zM87.6,275.5h0.7v0.7h-0.7zM98.6,272.5h0.7v0.7h-0.7zM99.0,271.4h0.7v0.7h-0.7zM99.2,268.7h0.7v0.7h-0.7zM96.5,273.1h0.7v0.7h-0.7zM96.3,273.5h0.7v0.7h-0.7zM93.2,277.1h0.7v0.7h-0.7zM97.6,270.1h0.7v0.7h-0.7zM94.5,269.8h0.7v0.7h-0.7zM99.0,263.5h0.7v0.7h-0.7zM94.6,273.1h0.7v0.7h-0.7zM103.1,274.6h0.7v0.7h-0.7zM93.3,277.1h0.7v0.7h-0.7zM100.8,271.9h0.7v0.7h-0.7zM101.0,271.2h0.7v0.7h-0.7zM97.7,276.9h0.7v0.7h-0.7zM100.2,271.0h0.7v0.7h-0.7zM100.9,265.3h0.7v0.7h-0.7zM95.1,278.0h0.7v0.7h-0.7zM102.6,266.2h0.7v0.7h-0.7zM95.3,274.5h0.7v0.7h-0.7zM97.9,269.5h0.7v0.7h-0.7zM99.9,271.6h0.7v0.7h-0.7zM97.4,275.9h0.7v0.7h-0.7zM92.4,274.0h0.7v0.7h-0.7zM100.3,275.9h0.7v0.7h-0.7zM100.0,268.6h0.7v0.7h-0.7zM96.9,268.5h0.7v0.7h-0.7zM97.8,274.7h0.7v0.7h-0.7zM95.5,276.4h0.7v0.7h-0.7zM91.1,274.6h0.7v0.7h-0.7zM95.3,276.5h0.7v0.7h-0.7zM97.1,272.0h0.7v0.7h-0.7zM101.0,270.7h0.7v0.7h-0.7zM95.7,267.9h0.7v0.7h-0.7zM95.5,272.0h0.7v0.7h-0.7zM99.6,274.3h0.7v0.7h-0.7zM97.2,272.4h0.7v0.7h-0.7zM88.1,280.2h0.7v0.7h-0.7zM97.9,275.7h0.7v0.7h-0.7zM96.9,281.6h0.7v0.7h-0.7zM99.5,270.9h0.7v0.7h-0.7zM96.0,271.9h0.7v0.7h-0.7zM95.7,268.1h0.7v0.7h-0.7zM97.2,275.1h0.7v0.7h-0.7zM100.8,269.5h0.7v0.7h-0.7zM96.1,269.3h0.7v0.7h-0.7zM105.5,263.6h0.7v0.7h-0.7zM94.1,275.3h0.7v0.7h-0.7zM95.1,269.7h0.7v0.7h-0.7zM95.1,274.8h0.7v0.7h-0.7zM95.5,275.2h0.7v0.7h-0.7zM97.3,265.3h0.7v0.7h-0.7zM92.3,272.5h0.7v0.7h-0.7zM97.6,275.1h0.7v0.7h-0.7zM101.2,268.5h0.7v0.7h-0.7zM97.5,273.8h0.7v0.7h-0.7zM98.2,270.4h0.7v0.7h-0.7zM99.0,277.0h0.7v0.7h-0.7zM95.6,276.7h0.7v0.7h-0.7zM100.6,268.3h0.7v0.7h-0.7zM98.2,270.3h0.7v0.7h-0.7zM97.7,275.4h0.7v0.7h-0.7zM95.4,275.8h0.7v0.7h-0.7zM99.3,274.6h0.7v0.7h-0.7zM98.9,269.7h0.7v0.7h-0.7zM92.6,278.6h0.7v0.7h-0.7zM96.1,277.7h0.7v0.7h-0.7zM93.5,282.7h0.7v0.7h-0.7zM100.8,266.6h0.7v0.7h-0.7zM97.3,275.5h0.7v0.7h-0.7zM99.1,277.1h0.7v0.7h-0.7zM91.4,276.2h0.7v0.7h-0.7zM94.2,268.1h0.7v0.7h-0.7zM91.8,280.0h0.7v0.7h-0.7zM93.9,270.5h0.7v0.7h-0.7zM98.5,271.7h0.7v0.7h-0.7zM96.9,270.8h0.7v0.7h-0.7zM102.0,272.7h0.7v0.7h-0.7zM95.2,268.7h0.7v0.7h-0.7zM97.3,270.2h0.7v0.7h-0.7zM96.4,271.9h0.7v0.7h-0.7zM99.1,267.8h0.7v0.7h-0.7zM92.9,272.4h0.7v0.7h-0.7zM94.7,282.7h0.7v0.7h-0.7zM100.7,264.7h0.7v0.7h-0.7zM96.6,278.3h0.7v0.7h-0.7zM88.4,277.5h0.7v0.7h-0.7zM98.5,267.3h0.7v0.7h-0.7zM93.1,273.4h0.7v0.7h-0.7zM96.4,274.8h0.7v0.7h-0.7zM92.3,273.9h0.7v0.7h-0.7zM96.3,273.5h0.7v0.7h-0.7zM100.2,272.5h0.7v0.7h-0.7zM100.2,273.3h0.7v0.7h-0.7zM101.5,272.4h0.7v0.7h-0.7zM90.7,278.5h0.7v0.7h-0.7zM96.3,274.6h0.7v0.7h-0.7zM100.7,269.8h0.7v0.7h-0.7zM93.4,274.2h0.7v0.7h-0.7zM98.0,274.4h0.7v0.7h-0.7zM95.6,271.4h0.7v0.7h-0.7zM90.4,278.5h0.7v0.7h-0.7zM97.8,275.8h0.7v0.7h-0.7zM91.0,274.0h0.7v0.7h-0.7zM97.2,271.6h0.7v0.7h-0.7zM98.3,273.1h0.7v0.7h-0.7zM95.4,275.6h0.7v0.7h-0.7zM97.8,275.6h0.7v0.7h-0.7zM89.6,276.0h0.7v0.7h-0.7zM89.8,281.5h0.7v0.7h-0.7zM91.3,274.5h0.7v0.7h-0.7zM95.5,269.7h0.7v0.7h-0.7zM95.4,278.9h0.7v0.7h-0.7zM96.2,273.2h0.7v0.7h-0.7zM93.7,273.8h0.7v0.7h-0.7zM96.6,270.0h0.7v0.7h-0.7zM94.4,276.8h0.7v0.7h-0.7zM100.5,268.6h0.7v0.7h-0.7zM97.8,277.3h0.7v0.7h-0.7zM98.7,271.6h0.7v0.7h-0.7zM90.4,281.5h0.7v0.7h-0.7zM98.4,272.6h0.7v0.7h-0.7zM97.8,271.4h0.7v0.7h-0.7zM96.3,270.4h0.7v0.7h-0.7zM93.5,276.5h0.7v0.7h-0.7zM98.6,268.9h0.7v0.7h-0.7zM97.5,273.2h0.7v0.7h-0.7zM97.5,279.4h0.7v0.7h-0.7zM99.2,268.1h0.7v0.7h-0.7zM101.7,266.2h0.7v0.7h-0.7zM93.9,274.7h0.7v0.7h-0.7zM97.0,268.4h0.7v0.7h-0.7zM101.7,267.9h0.7v0.7h-0.7zM89.4,279.6h0.7v0.7h-0.7zM92.0,279.7h0.7v0.7h-0.7zM101.3,268.2h0.7v0.7h-0.7zM95.3,276.8h0.7v0.7h-0.7zM100.4,274.2h0.7v0.7h-0.7zM98.5,272.8h0.7v0.7h-0.7zM93.1,274.7h0.7v0.7h-0.7zM98.1,263.4h0.7v0.7h-0.7zM98.3,271.9h0.7v0.7h-0.7zM99.8,264.9h0.7v0.7h-0.7zM89.1,277.1h0.7v0.7h-0.7zM96.0,275.4h0.7v0.7h-0.7zM91.7,274.4h0.7v0.7h-0.7zM93.0,272.7h0.7v0.7h-0.7zM91.4,277.4h0.7v0.7h-0.7zM94.0,273.6h0.7v0.7h-0.7zM93.3,271.7h0.7v0.7h-0.7zM97.0,274.9h0.7v0.7h-0.7zM99.7,274.9h0.7v0.7h-0.7zM97.1,275.5h0.7v0.7h-0.7zM98.8,277.4h0.7v0.7h-0.7zM97.8,270.0h0.7v0.7h-0.7zM98.3,272.9h0.7v0.7h-0.7zM97.5,275.1h0.7v0.7h-0.7zM94.8,273.6h0.7v0.7h-0.7zM97.6,273.3h0.7v0.7h-0.7zM105.2,265.4h0.7v0.7h-0.7zM97.4,270.3h0.7v0.7h-0.7zM95.4,273.8h0.7v0.7h-0.7zM99.9,266.9h0.7v0.7h-0.7zM94.9,280.1h0.7v0.7h-0.7zM92.2,277.5h0.7v0.7h-0.7zM99.1,273.6h0.7v0.7h-0.7zM92.7,279.3h0.7v0.7h-0.7zM95.4,266.9h0.7v0.7h-0.7zM89.9,277.2h0.7v0.7h-0.7zM97.1,276.2h0.7v0.7h-0.7zM88.3,286.9h0.7v0.7h-0.7zM97.7,273.5h0.7v0.7h-0.7zM97.8,277.2h0.7v0.7h-0.7zM93.2,275.3h0.7v0.7h-0.7zM102.7,265.1h0.7v0.7h-0.7zM101.0,272.4h0.7v0.7h-0.7zM100.4,268.3h0.7v0.7h-0.7zM96.7,269.4h0.7v0.7h-0.7zM92.4,280.6h0.7v0.7h-0.7zM98.4,273.7h0.7v0.7h-0.7zM97.9,269.8h0.7v0.7h-0.7zM102.1,273.3h0.7v0.7h-0.7zM96.9,275.7h0.7v0.7h-0.7zM93.2,277.9h0.7v0.7h-0.7zM93.7,270.8h0.7v0.7h-0.7zM95.7,275.8h0.7v0.7h-0.7zM100.0,273.3h0.7v0.7h-0.7zM102.1,266.6h0.7v0.7h-0.7zM97.9,266.3h0.7v0.7h-0.7zM99.7,274.3h0.7v0.7h-0.7zM97.7,267.3h0.7v0.7h-0.7zM103.7,271.0h0.7v0.7h-0.7zM95.9,276.2h0.7v0.7h-0.7zM91.5,282.4h0.7v0.7h-0.7zM101.1,264.1h0.7v0.7h-0.7zM103.7,271.0h0.7v0.7h-0.7zM100.9,268.0h0.7v0.7h-0.7zM97.0,270.8h0.7v0.7h-0.7zM96.2,273.4h0.7v0.7h-0.7zM95.9,269.1h0.7v0.7h-0.7zM96.2,269.4h0.7v0.7h-0.7zM99.2,269.8h0.7v0.7h-0.7zM97.9,273.4h0.7v0.7h-0.7zM100.9,274.9h0.7v0.7h-0.7zM96.5,269.1h0.7v0.7h-0.7zM92.4,276.8h0.7v0.7h-0.7zM98.1,275.2h0.7v0.7h-0.7zM96.1,272.6h0.7v0.7h-0.7zM94.6,277.9h0.7v0.7h-0.7zM95.6,269.7h0.7v0.7h-0.7zM94.3,269.7h0.7v0.7h-0.7zM96.7,268.4h0.7v0.7h-0.7zM97.2,275.6h0.7v0.7h-0.7zM97.4,270.1h0.7v0.7h-0.7zM96.7,267.1h0.7v0.7h-0.7zM98.8,272.3h0.7v0.7h-0.7zM96.4,276.1h0.7v0.7h-0.7zM91.9,268.8h0.7v0.7h-0.7zM96.6,278.9h0.7v0.7h-0.7zM95.9,278.3h0.7v0.7h-0.7zM98.9,281.4h0.7v0.7h-0.7zM98.7,276.7h0.7v0.7h-0.7zM95.7,277.7h0.7v0.7h-0.7zM96.2,272.5h0.7v0.7h-0.7zM100.7,269.5h0.7v0.7h-0.7zM95.0,270.7h0.7v0.7h-0.7zM96.2,268.8h0.7v0.7h-0.7zM91.7,279.9h0.7v0.7h-0.7zM93.8,272.4h0.7v0.7h-0.7zM101.3,270.5h0.7v0.7h-0.7zM97.6,272.8h0.7v0.7h-0.7zM95.7,283.8h0.7v0.7h-0.7zM95.6,277.0h0.7v0.7h-0.7zM95.3,274.1h0.7v0.7h-0.7zM88.7,280.4h0.7v0.7h-0.7zM93.0,270.7h0.7v0.7h-0.7zM100.7,268.7h0.7v0.7h-0.7zM95.9,275.8h0.7v0.7h-0.7zM96.0,271.2h0.7v0.7h-0.7zM97.2,270.8h0.7v0.7h-0.7zM96.4,279.9h0.7v0.7h-0.7zM94.3,274.7h0.7v0.7h-0.7zM99.6,270.0h0.7v0.7h-0.7zM93.5,270.2h0.7v0.7h-0.7zM92.8,279.2h0.7v0.7h-0.7zM95.6,271.1h0.7v0.7h-0.7zM100.6,271.0h0.7v0.7h-0.7zM99.2,269.7h0.7v0.7h-0.7zM98.4,278.5h0.7v0.7h-0.7zM94.8,276.0h0.7v0.7h-0.7zM99.4,272.7h0.7v0.7h-0.7zM93.0,277.2h0.7v0.7h-0.7zM94.7,275.8h0.7v0.7h-0.7zM98.9,265.4h0.7v0.7h-0.7zM97.2,278.7h0.7v0.7h-0.7zM94.3,276.1h0.7v0.7h-0.7zM99.5,271.2h0.7v0.7h-0.7zM92.4,272.8h0.7v0.7h-0.7zM93.4,275.3h0.7v0.7h-0.7zM95.8,277.0h0.7v0.7h-0.7zM96.7,277.9h0.7v0.7h-0.7zM92.5,275.1h0.7v0.7h-0.7zM101.3,270.6h0.7v0.7h-0.7zM92.1,273.5h0.7v0.7h-0.7zM103.6,266.2h0.7v0.7h-0.7zM92.2,283.8h0.7v0.7h-0.7zM97.7,272.9h0.7v0.7h-0.7zM101.8,260.9h0.7v0.7h-0.7zM95.5,278.8h0.7v0.7h-0.7zM104.5,266.1h0.7v0.7h-0.7zM96.9,276.9h0.7v0.7h-0.7zM97.0,272.7h0.7v0.7h-0.7zM100.0,269.4h0.7v0.7h-0.7zM92.2,276.1h0.7v0.7h-0.7zM94.5,274.4h0.7v0.7h-0.7zM95.6,279.1h0.7v0.7h-0.7zM103.7,264.2h0.7v0.7h-0.7zM92.7,277.1h0.7v0.7h-0.7zM96.8,272.4h0.7v0.7h-0.7zM99.3,268.6h0.7v0.7h-0.7zM93.3,280.6h0.7v0.7h-0.7zM94.4,281.1h0.7v0.7h-0.7zM93.5,278.7h0.7v0.7h-0.7zM98.4,279.3h0.7v0.7h-0.7zM93.2,280.1h0.7v0.7h-0.7zM96.6,269.4h0.7v0.7h-0.7zM96.7,275.1h0.7v0.7h-0.7zM101.9,266.1h0.7v0.7h-0.7zM96.2,275.4h0.7v0.7h-0.7zM102.5,274.1h0.7v0.7h-0.7zM91.5,275.4h0.7v0.7h-0.7zM100.0,271.5h0.7v0.7h-0.7zM95.4,275.8h0.7v0.7h-0.7zM96.2,273.1h0.7v0.7h-0.7zM95.7,270.3h0.7v0.7h-0.7zM89.5,272.3h0.7v0.7h-0.7zM100.9,271.9h0.7v0.7h-0.7zM96.3,268.6h0.7v0.7h-0.7zM93.5,282.6h0.7v0.7h-0.7zM95.8,272.0h0.7v0.7h-0.7zM96.5,271.9h0.7v0.7h-0.7zM95.7,271.4h0.7v0.7h-0.7zM94.0,274.8h0.7v0.7h-0.7zM98.8,264.1h0.7v0.7h-0.7zM94.5,272.0h0.7v0.7h-0.7zM106.1,264.8h0.7v0.7h-0.7zM94.3,274.7h0.7v0.7h-0.7zM98.9,271.7h0.7v0.7h-0.7zM91.6,278.1h0.7v0.7h-0.7zM94.2,274.1h0.7v0.7h-0.7zM93.4,273.1h0.7v0.7h-0.7zM101.6,265.6h0.7v0.7h-0.7zM98.1,273.8h0.7v0.7h-0.7zM101.0,272.1h0.7v0.7h-0.7zM99.3,275.5h0.7v0.7h-0.7zM100.4,273.6h0.7v0.7h-0.7zM97.0,273.0h0.7v0.7h-0.7zM90.5,274.9h0.7v0.7h-0.7zM103.0,271.0h0.7v0.7h-0.7zM99.6,266.2h0.7v0.7h-0.7zM98.0,277.2h0.7v0.7h-0.7zM98.2,271.2h0.7v0.7h-0.7zM98.8,267.9h0.7v0.7h-0.7zM94.5,277.8h0.7v0.7h-0.7zM97.5,273.6h0.7v0.7h-0.7zM96.5,273.9h0.7v0.7h-0.7zM95.6,270.5h0.7v0.7h-0.7zM92.5,274.5h0.7v0.7h-0.7zM98.0,280.1h0.7v0.7h-0.7zM97.0,282.4h0.7v0.7h-0.7zM99.8,269.2h0.7v0.7h-0.7zM97.3,268.9h0.7v0.7h-0.7zM98.7,264.6h0.7v0.7h-0.7zM95.6,277.7h0.7v0.7h-0.7zM95.5,279.7h0.7v0.7h-0.7zM92.9,275.6h0.7v0.7h-0.7zM98.3,273.8h0.7v0.7h-0.7zM92.5,278.1h0.7v0.7h-0.7zM97.0,270.8h0.7v0.7h-0.7zM93.4,280.7h0.7v0.7h-0.7zM95.9,271.1h0.7v0.7h-0.7zM92.1,273.1h0.7v0.7h-0.7zM96.0,271.8h0.7v0.7h-0.7zM98.5,271.3h0.7v0.7h-0.7zM101.3,279.0h0.7v0.7h-0.7zM97.6,274.8h0.7v0.7h-0.7zM95.4,268.1h0.7v0.7h-0.7zM97.3,280.7h0.7v0.7h-0.7zM99.0,269.3h0.7v0.7h-0.7zM93.7,278.3h0.7v0.7h-0.7zM104.8,264.9h0.7v0.7h-0.7zM98.3,273.9h0.7v0.7h-0.7zM100.8,270.7h0.7v0.7h-0.7zM92.3,277.0h0.7v0.7h-0.7zM93.9,274.8h0.7v0.7h-0.7zM96.1,270.4h0.7v0.7h-0.7zM96.3,270.9h0.7v0.7h-0.7zM92.9,278.1h0.7v0.7h-0.7zM102.1,270.6h0.7v0.7h-0.7zM97.0,277.1h0.7v0.7h-0.7zM98.0,274.2h0.7v0.7h-0.7zM94.9,272.0h0.7v0.7h-0.7zM96.5,274.2h0.7v0.7h-0.7zM97.8,275.2h0.7v0.7h-0.7zM101.7,266.8h0.7v0.7h-0.7zM98.1,270.0h0.7v0.7h-0.7zM95.4,275.6h0.7v0.7h-0.7zM99.7,271.9h0.7v0.7h-0.7zM98.4,274.6h0.7v0.7h-0.7zM92.5,278.4h0.7v0.7h-0.7zM99.5,269.3h0.7v0.7h-0.7zM94.9,277.5h0.7v0.7h-0.7zM96.3,266.8h0.7v0.7h-0.7zM97.1,268.7h0.7v0.7h-0.7zM94.9,276.4h0.7v0.7h-0.7zM94.0,277.3h0.7v0.7h-0.7zM92.1,280.7h0.7v0.7h-0.7zM94.2,275.6h0.7v0.7h-0.7zM97.4,277.0h0.7v0.7h-0.7zM96.9,278.6h0.7v0.7h-0.7zM98.9,271.9h0.7v0.7h-0.7zM92.4,281.2h0.7v0.7h-0.7zM96.4,272.9h0.7v0.7h-0.7zM98.1,271.9h0.7v0.7h-0.7zM93.7,280.1h0.7v0.7h-0.7zM95.0,272.8h0.7v0.7h-0.7zM104.0,272.2h0.7v0.7h-0.7zM97.9,272.1h0.7v0.7h-0.7zM98.0,272.1h0.7v0.7h-0.7zM97.8,272.2h0.7v0.7h-0.7zM91.2,278.8h0.7v0.7h-0.7zM94.9,275.9h0.7v0.7h-0.7zM93.3,275.9h0.7v0.7h-0.7zM93.5,274.2h0.7v0.7h-0.7zM98.7,264.7h0.7v0.7h-0.7zM96.8,268.4h0.7v0.7h-0.7zM99.4,273.7h0.7v0.7h-0.7zM100.3,269.5h0.7v0.7h-0.7zM94.7,273.3h0.7v0.7h-0.7zM99.8,270.3h0.7v0.7h-0.7zM94.6,275.1h0.7v0.7h-0.7zM96.9,272.9h0.7v0.7h-0.7zM100.1,268.3h0.7v0.7h-0.7zM99.1,276.9h0.7v0.7h-0.7zM98.2,267.3h0.7v0.7h-0.7zM95.2,273.1h0.7v0.7h-0.7zM97.6,271.9h0.7v0.7h-0.7zM97.2,272.3h0.7v0.7h-0.7zM92.3,273.3h0.7v0.7h-0.7zM90.7,273.0h0.7v0.7h-0.7zM93.8,281.5h0.7v0.7h-0.7zM100.0,272.3h0.7v0.7h-0.7zM97.7,273.5h0.7v0.7h-0.7zM95.2,277.0h0.7v0.7h-0.7zM97.7,274.3h0.7v0.7h-0.7zM96.3,272.3h0.7v0.7h-0.7zM95.5,267.5h0.7v0.7h-0.7zM93.9,280.9h0.7v0.7h-0.7zM100.9,268.4h0.7v0.7h-0.7zM91.8,271.7h0.7v0.7h-0.7zM98.4,270.1h0.7v0.7h-0.7zM94.1,281.9h0.7v0.7h-0.7zM93.8,279.1h0.7v0.7h-0.7zM91.7,276.2h0.7v0.7h-0.7zM96.3,277.0h0.7v0.7h-0.7zM100.2,268.8h0.7v0.7h-0.7zM96.2,282.1h0.7v0.7h-0.7zM91.5,278.5h0.7v0.7h-0.7zM95.7,272.7h0.7v0.7h-0.7zM91.7,277.6h0.7v0.7h-0.7zM96.1,267.5h0.7v0.7h-0.7zM96.8,275.0h0.7v0.7h-0.7zM96.6,270.4h0.7v0.7h-0.7zM99.5,274.6h0.7v0.7h-0.7zM99.9,268.3h0.7v0.7h-0.7zM96.6,275.0h0.7v0.7h-0.7zM94.8,279.8h0.7v0.7h-0.7zM98.5,276.6h0.7v0.7h-0.7zM94.1,278.7h0.7v0.7h-0.7zM93.6,273.3h0.7v0.7h-0.7zM94.6,273.3h0.7v0.7h-0.7zM98.9,268.8h0.7v0.7h-0.7zM99.2,265.7h0.7v0.7h-0.7zM98.4,272.1h0.7v0.7h-0.7zM98.0,272.9h0.7v0.7h-0.7zM93.9,281.1h0.7v0.7h-0.7zM96.1,266.8h0.7v0.7h-0.7zM97.2,268.9h0.7v0.7h-0.7zM98.3,263.5h0.7v0.7h-0.7zM99.8,265.9h0.7v0.7h-0.7zM96.0,281.3h0.7v0.7h-0.7zM98.3,268.7h0.7v0.7h-0.7zM97.0,265.8h0.7v0.7h-0.7zM96.8,273.0h0.7v0.7h-0.7zM99.4,271.4h0.7v0.7h-0.7zM99.5,273.1h0.7v0.7h-0.7zM99.5,272.1h0.7v0.7h-0.7zM97.3,272.4h0.7v0.7h-0.7zM92.4,273.9h0.7v0.7h-0.7zM98.3,270.0h0.7v0.7h-0.7zM97.8,272.2h0.7v0.7h-0.7zM96.1,268.1h0.7v0.7h-0.7zM97.4,272.9h0.7v0.7h-0.7zM100.9,271.2h0.7v0.7h-0.7zM96.4,276.8h0.7v0.7h-0.7zM92.9,275.2h0.7v0.7h-0.7zM89.7,280.8h0.7v0.7h-0.7zM97.0,275.6h0.7v0.7h-0.7zM96.0,274.9h0.7v0.7h-0.7zM97.9,269.6h0.7v0.7h-0.7zM98.9,275.2h0.7v0.7h-0.7zM99.5,271.7h0.7v0.7h-0.7zM95.5,275.4h0.7v0.7h-0.7zM97.6,271.3h0.7v0.7h-0.7zM101.1,266.9h0.7v0.7h-0.7zM94.7,274.5h0.7v0.7h-0.7zM95.7,276.4h0.7v0.7h-0.7zM99.9,272.0h0.7v0.7h-0.7zM102.4,274.7h0.7v0.7h-0.7zM97.6,268.8h0.7v0.7h-0.7zM98.5,271.7h0.7v0.7h-0.7zM93.6,278.7h0.7v0.7h-0.7zM101.1,274.7h0.7v0.7h-0.7zM93.3,277.7h0.7v0.7h-0.7zM93.8,271.6h0.7v0.7h-0.7zM99.6,276.2h0.7v0.7h-0.7zM96.8,267.5h0.7v0.7h-0.7zM91.6,271.5h0.7v0.7h-0.7zM90.0,277.6h0.7v0.7h-0.7zM98.0,270.7h0.7v0.7h-0.7zM94.1,279.1h0.7v0.7h-0.7zM98.2,264.0h0.7v0.7h-0.7zM92.0,271.9h0.7v0.7h-0.7zM95.7,271.4h0.7v0.7h-0.7zM96.7,278.2h0.7v0.7h-0.7zM103.8,263.9h0.7v0.7h-0.7zM93.4,275.1h0.7v0.7h-0.7zM95.8,269.6h0.7v0.7h-0.7zM98.2,272.5h0.7v0.7h-0.7zM95.8,280.5h0.7v0.7h-0.7zM95.7,271.2h0.7v0.7h-0.7zM88.7,274.0h0.7v0.7h-0.7zM101.4,268.5h0.7v0.7h-0.7zM89.3,281.3h0.7v0.7h-0.7zM94.1,272.3h0.7v0.7h-0.7zM96.6,272.9h0.7v0.7h-0.7zM99.2,270.7h0.7v0.7h-0.7zM97.9,273.3h0.7v0.7h-0.7zM94.8,271.1h0.7v0.7h-0.7zM97.8,275.0h0.7v0.7h-0.7zM101.1,271.8h0.7v0.7h-0.7zM94.7,274.8h0.7v0.7h-0.7zM95.6,273.0h0.7v0.7h-0.7zM100.6,270.9h0.7v0.7h-0.7zM93.3,276.5h0.7v0.7h-0.7zM96.6,272.4h0.7v0.7h-0.7zM97.5,278.0h0.7v0.7h-0.7zM98.8,271.2h0.7v0.7h-0.7zM97.6,274.1h0.7v0.7h-0.7zM91.1,278.2h0.7v0.7h-0.7zM101.5,265.0h0.7v0.7h-0.7zM103.8,269.1h0.7v0.7h-0.7zM97.8,270.4h0.7v0.7h-0.7zM96.3,274.8h0.7v0.7h-0.7zM97.6,271.8h0.7v0.7h-0.7zM93.5,277.0h0.7v0.7h-0.7zM92.4,281.5h0.7v0.7h-0.7zM104.3,265.2h0.7v0.7h-0.7zM101.7,266.9h0.7v0.7h-0.7zM92.7,284.0h0.7v0.7h-0.7zM97.9,268.1h0.7v0.7h-0.7zM99.2,275.5h0.7v0.7h-0.7zM100.5,272.0h0.7v0.7h-0.7zM95.5,274.8h0.7v0.7h-0.7zM100.1,275.0h0.7v0.7h-0.7zM98.2,266.2h0.7v0.7h-0.7zM96.0,278.5h0.7v0.7h-0.7zM98.1,267.3h0.7v0.7h-0.7zM100.5,269.7h0.7v0.7h-0.7zM100.9,272.7h0.7v0.7h-0.7zM95.0,277.1h0.7v0.7h-0.7zM97.0,275.1h0.7v0.7h-0.7zM94.3,277.0h0.7v0.7h-0.7zM97.3,275.6h0.7v0.7h-0.7zM98.6,274.6h0.7v0.7h-0.7zM95.4,272.1h0.7v0.7h-0.7zM99.1,276.4h0.7v0.7h-0.7zM89.6,277.7h0.7v0.7h-0.7zM94.8,274.2h0.7v0.7h-0.7zM96.7,271.8h0.7v0.7h-0.7zM96.1,272.0h0.7v0.7h-0.7zM97.6,272.7h0.7v0.7h-0.7zM97.3,267.2h0.7v0.7h-0.7zM97.2,267.6h0.7v0.7h-0.7zM92.9,274.6h0.7v0.7h-0.7zM96.8,273.3h0.7v0.7h-0.7zM94.7,276.4h0.7v0.7h-0.7zM93.7,277.7h0.7v0.7h-0.7zM97.3,275.4h0.7v0.7h-0.7zM101.0,268.1h0.7v0.7h-0.7zM92.8,279.7h0.7v0.7h-0.7zM100.7,274.8h0.7v0.7h-0.7zM98.6,275.4h0.7v0.7h-0.7zM102.8,264.1h0.7v0.7h-0.7zM98.5,271.9h0.7v0.7h-0.7zM93.2,278.1h0.7v0.7h-0.7zM91.7,269.2h0.7v0.7h-0.7zM97.0,278.3h0.7v0.7h-0.7zM95.2,273.5h0.7v0.7h-0.7zM97.5,276.2h0.7v0.7h-0.7zM98.8,278.6h0.7v0.7h-0.7zM95.4,269.6h0.7v0.7h-0.7zM97.6,277.0h0.7v0.7h-0.7zM97.7,271.7h0.7v0.7h-0.7zM95.8,269.4h0.7v0.7h-0.7zM94.5,268.0h0.7v0.7h-0.7zM96.7,275.2h0.7v0.7h-0.7zM92.6,276.1h0.7v0.7h-0.7zM95.0,268.9h0.7v0.7h-0.7zM101.9,268.7h0.7v0.7h-0.7zM87.2,283.5h0.7v0.7h-0.7zM99.3,273.0h0.7v0.7h-0.7zM99.4,271.4h0.7v0.7h-0.7zM96.7,271.9h0.7v0.7h-0.7zM93.7,276.8h0.7v0.7h-0.7zM101.3,269.4h0.7v0.7h-0.7zM95.4,272.9h0.7v0.7h-0.7zM99.7,270.9h0.7v0.7h-0.7zM98.6,270.7h0.7v0.7h-0.7zM93.7,277.4h0.7v0.7h-0.7zM91.1,276.2h0.7v0.7h-0.7zM95.9,276.6h0.7v0.7h-0.7zM91.7,281.0h0.7v0.7h-0.7zM93.9,276.9h0.7v0.7h-0.7zM97.6,268.1h0.7v0.7h-0.7zM99.8,271.6h0.7v0.7h-0.7zM98.6,270.4h0.7v0.7h-0.7zM96.5,278.6h0.7v0.7h-0.7zM96.9,279.1h0.7v0.7h-0.7zM98.5,268.3h0.7v0.7h-0.7zM97.8,276.1h0.7v0.7h-0.7zM93.7,274.6h0.7v0.7h-0.7zM93.9,270.7h0.7v0.7h-0.7zM91.0,274.6h0.7v0.7h-0.7zM98.0,275.7h0.7v0.7h-0.7zM91.1,275.2h0.7v0.7h-0.7zM95.3,273.9h0.7v0.7h-0.7zM100.4,274.3h0.7v0.7h-0.7zM93.0,272.9h0.7v0.7h-0.7zM100.6,270.0h0.7v0.7h-0.7zM93.8,273.0h0.7v0.7h-0.7zM99.8,266.1h0.7v0.7h-0.7zM99.2,272.7h0.7v0.7h-0.7zM99.3,271.8h0.7v0.7h-0.7zM90.3,276.4h0.7v0.7h-0.7zM101.0,273.0h0.7v0.7h-0.7zM97.6,271.6h0.7v0.7h-0.7zM92.6,276.4h0.7v0.7h-0.7zM94.4,269.7h0.7v0.7h-0.7zM94.2,275.0h0.7v0.7h-0.7zM92.6,268.7h0.7v0.7h-0.7zM95.3,278.1h0.7v0.7h-0.7zM100.9,271.6h0.7v0.7h-0.7zM102.7,263.3h0.7v0.7h-0.7zM106.0,269.8h0.7v0.7h-0.7zM101.0,261.2h0.7v0.7h-0.7zM100.0,271.1h0.7v0.7h-0.7zM95.1,277.0h0.7v0.7h-0.7zM101.2,274.8h0.7v0.7h-0.7zM99.0,270.6h0.7v0.7h-0.7zM89.7,278.7h0.7v0.7h-0.7zM100.7,271.2h0.7v0.7h-0.7zM92.9,273.4h0.7v0.7h-0.7zM100.1,275.6h0.7v0.7h-0.7zM98.7,273.1h0.7v0.7h-0.7zM94.9,272.8h0.7v0.7h-0.7zM94.2,280.8h0.7v0.7h-0.7zM93.2,277.7h0.7v0.7h-0.7zM96.7,273.8h0.7v0.7h-0.7zM94.7,274.5h0.7v0.7h-0.7zM100.4,272.6h0.7v0.7h-0.7zM98.6,268.1h0.7v0.7h-0.7zM96.6,270.9h0.7v0.7h-0.7zM98.2,267.2h0.7v0.7h-0.7zM93.8,275.8h0.7v0.7h-0.7zM101.6,272.1h0.7v0.7h-0.7zM102.0,268.9h0.7v0.7h-0.7zM93.1,272.8h0.7v0.7h-0.7zM96.9,270.9h0.7v0.7h-0.7zM95.0,279.4h0.7v0.7h-0.7zM95.0,270.5h0.7v0.7h-0.7zM100.6,266.0h0.7v0.7h-0.7zM99.9,267.1h0.7v0.7h-0.7zM97.8,272.7h0.7v0.7h-0.7zM94.2,277.2h0.7v0.7h-0.7zM95.0,274.7h0.7v0.7h-0.7zM95.4,278.2h0.7v0.7h-0.7zM95.1,281.1h0.7v0.7h-0.7zM95.7,268.3h0.7v0.7h-0.7zM97.1,277.0h0.7v0.7h-0.7zM101.2,272.1h0.7v0.7h-0.7zM96.1,273.3h0.7v0.7h-0.7zM93.0,272.7h0.7v0.7h-0.7zM100.2,265.9h0.7v0.7h-0.7zM99.6,268.2h0.7v0.7h-0.7zM91.7,269.8h0.7v0.7h-0.7zM99.7,270.3h0.7v0.7h-0.7zM102.0,263.1h0.7v0.7h-0.7zM96.3,265.0h0.7v0.7h-0.7zM95.7,278.7h0.7v0.7h-0.7zM96.7,270.5h0.7v0.7h-0.7zM95.3,279.9h0.7v0.7h-0.7zM98.3,273.8h0.7v0.7h-0.7zM95.7,272.8h0.7v0.7h-0.7zM94.2,274.8h0.7v0.7h-0.7zM94.6,274.9h0.7v0.7h-0.7zM96.7,270.2h0.7v0.7h-0.7zM97.2,275.7h0.7v0.7h-0.7zM93.8,273.4h0.7v0.7h-0.7zM93.3,274.2h0.7v0.7h-0.7zM99.1,268.0h0.7v0.7h-0.7zM95.8,276.9h0.7v0.7h-0.7zM97.8,276.7h0.7v0.7h-0.7zM93.7,275.9h0.7v0.7h-0.7zM94.1,275.7h0.7v0.7h-0.7zM96.7,275.2h0.7v0.7h-0.7zM94.0,270.8h0.7v0.7h-0.7zM96.4,272.0h0.7v0.7h-0.7zM96.1,272.0h0.7v0.7h-0.7zM96.4,266.5h0.7v0.7h-0.7zM96.3,276.6h0.7v0.7h-0.7zM95.5,274.5h0.7v0.7h-0.7zM92.8,281.7h0.7v0.7h-0.7zM98.1,274.2h0.7v0.7h-0.7zM98.1,273.7h0.7v0.7h-0.7zM96.8,274.9h0.7v0.7h-0.7zM95.5,272.9h0.7v0.7h-0.7zM97.4,276.6h0.7v0.7h-0.7zM97.9,268.9h0.7v0.7h-0.7zM101.0,269.9h0.7v0.7h-0.7zM98.8,273.4h0.7v0.7h-0.7zM100.1,271.1h0.7v0.7h-0.7zM97.1,270.4h0.7v0.7h-0.7zM94.4,274.9h0.7v0.7h-0.7zM99.7,272.0h0.7v0.7h-0.7zM99.0,274.5h0.7v0.7h-0.7zM89.0,282.7h0.7v0.7h-0.7zM94.5,270.1h0.7v0.7h-0.7zM100.7,269.3h0.7v0.7h-0.7zM96.3,274.8h0.7v0.7h-0.7zM93.8,274.1h0.7v0.7h-0.7zM102.9,267.9h0.7v0.7h-0.7zM98.0,275.7h0.7v0.7h-0.7zM98.0,274.1h0.7v0.7h-0.7zM97.9,271.2h0.7v0.7h-0.7zM97.6,273.1h0.7v0.7h-0.7zM94.2,279.7h0.7v0.7h-0.7zM103.7,261.7h0.7v0.7h-0.7zM98.0,274.3h0.7v0.7h-0.7zM94.8,273.1h0.7v0.7h-0.7zM97.9,269.8h0.7v0.7h-0.7zM101.0,272.2h0.7v0.7h-0.7zM95.1,275.8h0.7v0.7h-0.7zM98.1,279.8h0.7v0.7h-0.7zM97.0,272.5h0.7v0.7h-0.7zM95.0,270.7h0.7v0.7h-0.7zM96.4,269.7h0.7v0.7h-0.7zM96.1,275.8h0.7v0.7h-0.7zM92.8,275.9h0.7v0.7h-0.7zM92.2,276.2h0.7v0.7h-0.7zM99.4,274.2h0.7v0.7h-0.7zM95.4,279.6h0.7v0.7h-0.7zM93.1,283.0h0.7v0.7h-0.7zM96.7,272.2h0.7v0.7h-0.7zM98.9,270.7h0.7v0.7h-0.7zM97.3,269.7h0.7v0.7h-0.7zM95.8,267.5h0.7v0.7h-0.7zM91.8,284.4h0.7v0.7h-0.7zM102.6,265.8h0.7v0.7h-0.7zM93.9,268.7h0.7v0.7h-0.7zM97.4,272.9h0.7v0.7h-0.7zM97.1,277.1h0.7v0.7h-0.7zM98.6,270.0h0.7v0.7h-0.7zM95.8,276.8h0.7v0.7h-0.7zM95.7,275.2h0.7v0.7h-0.7zM91.0,276.9h0.7v0.7h-0.7zM103.6,269.7h0.7v0.7h-0.7zM97.5,276.5h0.7v0.7h-0.7zM95.2,274.0h0.7v0.7h-0.7zM97.9,271.9h0.7v0.7h-0.7zM97.6,271.6h0.7v0.7h-0.7zM98.2,274.3h0.7v0.7h-0.7zM97.5,278.7h0.7v0.7h-0.7zM98.2,270.8h0.7v0.7h-0.7zM94.7,277.9h0.7v0.7h-0.7zM103.4,264.5h0.7v0.7h-0.7zM95.6,273.1h0.7v0.7h-0.7zM96.2,271.2h0.7v0.7h-0.7zM94.8,279.2h0.7v0.7h-0.7zM98.0,276.0h0.7v0.7h-0.7zM92.5,276.6h0.7v0.7h-0.7zM97.2,268.5h0.7v0.7h-0.7zM94.5,276.9h0.7v0.7h-0.7zM94.3,279.4h0.7v0.7h-0.7zM94.6,271.7h0.7v0.7h-0.7zM101.3,275.6h0.7v0.7h-0.7zM96.7,270.3h0.7v0.7h-0.7zM99.5,274.8h0.7v0.7h-0.7zM94.5,272.5h0.7v0.7h-0.7zM97.7,271.5h0.7v0.7h-0.7zM98.1,275.6h0.7v0.7h-0.7zM92.6,285.5h0.7v0.7h-0.7zM94.8,276.5h0.7v0.7h-0.7zM99.5,271.6h0.7v0.7h-0.7zM94.7,280.1h0.7v0.7h-0.7zM98.0,274.3h0.7v0.7h-0.7zM96.7,273.0h0.7v0.7h-0.7zM97.2,273.2h0.7v0.7h-0.7zM98.5,274.9h0.7v0.7h-0.7zM96.2,273.9h0.7v0.7h-0.7zM95.1,278.9h0.7v0.7h-0.7zM92.2,277.5h0.7v0.7h-0.7zM93.1,279.1h0.7v0.7h-0.7zM98.8,269.6h0.7v0.7h-0.7zM97.7,267.9h0.7v0.7h-0.7zM99.3,273.4h0.7v0.7h-0.7zM100.4,268.9h0.7v0.7h-0.7zM100.0,274.6h0.7v0.7h-0.7zM97.1,275.3h0.7v0.7h-0.7zM90.9,278.0h0.7v0.7h-0.7zM94.6,270.7h0.7v0.7h-0.7zM99.2,270.8h0.7v0.7h-0.7zM97.6,273.5h0.7v0.7h-0.7zM96.2,271.3h0.7v0.7h-0.7zM95.2,272.1h0.7v0.7h-0.7zM96.3,267.4h0.7v0.7h-0.7zM97.6,273.6h0.7v0.7h-0.7zM98.7,268.1h0.7v0.7h-0.7zM100.1,263.0h0.7v0.7h-0.7zM94.0,272.0h0.7v0.7h-0.7zM94.7,274.5h0.7v0.7h-0.7zM94.6,274.0h0.7v0.7h-0.7zM100.1,267.6h0.7v0.7h-0.7zM93.8,275.4h0.7v0.7h-0.7zM94.3,273.9h0.7v0.7h-0.7zM99.7,273.3h0.7v0.7h-0.7zM94.9,272.0h0.7v0.7h-0.7zM95.3,275.4h0.7v0.7h-0.7zM99.1,271.9h0.7v0.7h-0.7zM104.8,262.6h0.7v0.7h-0.7zM92.3,280.9h0.7v0.7h-0.7zM103.8,267.4h0.7v0.7h-0.7zM91.3,283.7h0.7v0.7h-0.7zM98.0,268.3h0.7v0.7h-0.7zM97.2,273.0h0.7v0.7h-0.7zM94.6,278.5h0.7v0.7h-0.7zM101.6,264.2h0.7v0.7h-0.7zM100.3,274.9h0.7v0.7h-0.7zM95.4,269.4h0.7v0.7h-0.7zM97.8,272.4h0.7v0.7h-0.7zM103.1,267.4h0.7v0.7h-0.7zM98.4,273.7h0.7v0.7h-0.7zM95.8,276.6h0.7v0.7h-0.7zM96.1,280.7h0.7v0.7h-0.7zM97.4,271.7h0.7v0.7h-0.7zM94.2,277.6h0.7v0.7h-0.7zM98.2,271.1h0.7v0.7h-0.7zM97.7,269.4h0.7v0.7h-0.7zM105.4,260.1h0.7v0.7h-0.7zM93.3,281.4h0.7v0.7h-0.7zM95.1,276.3h0.7v0.7h-0.7zM99.3,271.0h0.7v0.7h-0.7zM96.1,273.5h0.7v0.7h-0.7zM94.9,273.7h0.7v0.7h-0.7zM97.4,274.7h0.7v0.7h-0.7zM94.3,277.5h0.7v0.7h-0.7zM94.8,276.9h0.7v0.7h-0.7zM98.6,262.3h0.7v0.7h-0.7zM95.0,271.3h0.7v0.7h-0.7zM92.7,274.1h0.7v0.7h-0.7zM96.5,271.2h0.7v0.7h-0.7zM97.3,269.9h0.7v0.7h-0.7zM96.7,273.5h0.7v0.7h-0.7zM98.1,271.6h0.7v0.7h-0.7zM94.8,275.3h0.7v0.7h-0.7zM97.0,270.0h0.7v0.7h-0.7zM96.7,271.0h0.7v0.7h-0.7zM101.3,277.0h0.7v0.7h-0.7zM93.7,277.9h0.7v0.7h-0.7zM96.1,276.5h0.7v0.7h-0.7zM96.0,280.2h0.7v0.7h-0.7zM103.0,272.4h0.7v0.7h-0.7zM98.8,270.3h0.7v0.7h-0.7zM95.4,268.3h0.7v0.7h-0.7zM104.6,269.0h0.7v0.7h-0.7zM90.9,278.3h0.7v0.7h-0.7zM102.0,271.1h0.7v0.7h-0.7zM99.8,270.4h0.7v0.7h-0.7zM92.8,282.6h0.7v0.7h-0.7zM93.1,279.8h0.7v0.7h-0.7zM99.2,266.0h0.7v0.7h-0.7zM101.6,267.0h0.7v0.7h-0.7zM100.0,268.6h0.7v0.7h-0.7zM96.4,270.8h0.7v0.7h-0.7zM94.3,275.1h0.7v0.7h-0.7zM100.4,271.5h0.7v0.7h-0.7zM93.8,271.7h0.7v0.7h-0.7zM90.9,276.6h0.7v0.7h-0.7zM96.9,275.1h0.7v0.7h-0.7zM95.6,271.5h0.7v0.7h-0.7zM96.7,271.8h0.7v0.7h-0.7zM100.9,270.2h0.7v0.7h-0.7zM96.7,270.3h0.7v0.7h-0.7zM91.6,278.0h0.7v0.7h-0.7zM100.3,267.4h0.7v0.7h-0.7zM96.5,273.6h0.7v0.7h-0.7zM90.2,281.1h0.7v0.7h-0.7zM94.7,279.9h0.7v0.7h-0.7zM92.6,279.2h0.7v0.7h-0.7zM96.9,272.0h0.7v0.7h-0.7zM97.5,276.0h0.7v0.7h-0.7zM89.0,278.0h0.7v0.7h-0.7zM94.5,278.3h0.7v0.7h-0.7zM94.4,272.6h0.7v0.7h-0.7zM92.2,272.8h0.7v0.7h-0.7zM91.6,277.5h0.7v0.7h-0.7zM96.5,273.0h0.7v0.7h-0.7zM92.5,274.3h0.7v0.7h-0.7zM95.1,277.5h0.7v0.7h-0.7zM93.1,280.2h0.7v0.7h-0.7zM93.3,270.9h0.7v0.7h-0.7zM100.5,274.2h0.7v0.7h-0.7zM96.7,271.3h0.7v0.7h-0.7zM98.4,274.1h0.7v0.7h-0.7zM104.3,268.8h0.7v0.7h-0.7zM96.3,276.9h0.7v0.7h-0.7zM100.2,276.0h0.7v0.7h-0.7zM99.1,272.9h0.7v0.7h-0.7zM93.9,272.6h0.7v0.7h-0.7zM98.2,274.0h0.7v0.7h-0.7zM96.4,272.1h0.7v0.7h-0.7zM94.9,272.5h0.7v0.7h-0.7zM99.4,269.3h0.7v0.7h-0.7zM99.9,270.6h0.7v0.7h-0.7zM97.1,278.0h0.7v0.7h-0.7zM93.5,277.2h0.7v0.7h-0.7zM93.3,273.9h0.7v0.7h-0.7zM94.5,274.8h0.7v0.7h-0.7zM91.7,278.2h0.7v0.7h-0.7zM94.6,273.4h0.7v0.7h-0.7zM96.1,276.9h0.7v0.7h-0.7zM102.7,272.0h0.7v0.7h-0.7zM92.6,273.9h0.7v0.7h-0.7zM95.4,267.9h0.7v0.7h-0.7zM101.3,265.5h0.7v0.7h-0.7zM102.5,265.8h0.7v0.7h-0.7zM99.9,266.7h0.7v0.7h-0.7zM91.5,280.0h0.7v0.7h-0.7zM98.9,275.0h0.7v0.7h-0.7zM98.3,273.0h0.7v0.7h-0.7zM97.8,269.9h0.7v0.7h-0.7zM96.2,274.1h0.7v0.7h-0.7zM98.9,270.8h0.7v0.7h-0.7zM96.1,276.7h0.7v0.7h-0.7zM94.6,272.6h0.7v0.7h-0.7zM96.3,277.3h0.7v0.7h-0.7zM94.7,266.9h0.7v0.7h-0.7zM98.9,274.0h0.7v0.7h-0.7zM92.1,275.6h0.7v0.7h-0.7zM91.4,277.7h0.7v0.7h-0.7zM93.3,276.7h0.7v0.7h-0.7zM95.0,277.9h0.7v0.7h-0.7zM98.4,273.4h0.7v0.7h-0.7zM97.5,270.4h0.7v0.7h-0.7zM95.7,271.1h0.7v0.7h-0.7zM95.9,278.2h0.7v0.7h-0.7zM94.7,272.3h0.7v0.7h-0.7zM95.9,275.6h0.7v0.7h-0.7zM94.9,275.9h0.7v0.7h-0.7zM99.7,274.2h0.7v0.7h-0.7zM97.7,270.7h0.7v0.7h-0.7zM100.4,265.8h0.7v0.7h-0.7zM97.1,271.0h0.7v0.7h-0.7zM93.9,274.9h0.7v0.7h-0.7zM94.7,274.5h0.7v0.7h-0.7zM94.2,269.3h0.7v0.7h-0.7zM96.7,275.6h0.7v0.7h-0.7zM97.9,268.6h0.7v0.7h-0.7zM100.5,265.5h0.7v0.7h-0.7zM100.1,269.2h0.7v0.7h-0.7zM98.0,273.3h0.7v0.7h-0.7zM95.5,267.6h0.7v0.7h-0.7zM95.7,271.9h0.7v0.7h-0.7zM92.4,280.5h0.7v0.7h-0.7zM93.9,279.3h0.7v0.7h-0.7zM94.5,269.8h0.7v0.7h-0.7zM98.3,272.8h0.7v0.7h-0.7zM97.0,273.7h0.7v0.7h-0.7zM93.3,272.6h0.7v0.7h-0.7zM94.3,273.2h0.7v0.7h-0.7zM99.2,274.4h0.7v0.7h-0.7zM101.1,264.8h0.7v0.7h-0.7zM97.7,275.6h0.7v0.7h-0.7zM94.8,272.3h0.7v0.7h-0.7zM95.7,276.8h0.7v0.7h-0.7zM101.2,266.1h0.7v0.7h-0.7zM96.0,263.1h0.7v0.7h-0.7zM97.4,268.0h0.7v0.7h-0.7zM105.5,266.8h0.7v0.7h-0.7zM100.6,268.3h0.7v0.7h-0.7zM98.8,278.6h0.7v0.7h-0.7zM100.4,273.8h0.7v0.7h-0.7zM99.4,268.7h0.7v0.7h-0.7zM95.7,270.5h0.7v0.7h-0.7zM99.2,277.0h0.7v0.7h-0.7zM92.4,282.6h0.7v0.7h-0.7zM97.9,267.9h0.7v0.7h-0.7zM96.0,276.5h0.7v0.7h-0.7zM94.6,275.3h0.7v0.7h-0.7zM99.7,270.3h0.7v0.7h-0.7zM99.2,275.0h0.7v0.7h-0.7zM99.9,271.7h0.7v0.7h-0.7zM96.8,281.3h0.7v0.7h-0.7zM89.5,280.0h0.7v0.7h-0.7zM99.8,268.9h0.7v0.7h-0.7zM94.3,267.1h0.7v0.7h-0.7zM93.7,280.0h0.7v0.7h-0.7zM94.2,277.8h0.7v0.7h-0.7zM94.0,278.5h0.7v0.7h-0.7zM99.8,276.4h0.7v0.7h-0.7zM100.5,269.5h0.7v0.7h-0.7zM103.4,269.0h0.7v0.7h-0.7zM94.8,271.1h0.7v0.7h-0.7zM100.8,265.9h0.7v0.7h-0.7zM92.4,282.0h0.7v0.7h-0.7zM96.7,264.7h0.7v0.7h-0.7zM88.1,284.2h0.7v0.7h-0.7zM100.6,267.7h0.7v0.7h-0.7zM98.0,277.7h0.7v0.7h-0.7zM95.7,271.8h0.7v0.7h-0.7zM93.2,275.2h0.7v0.7h-0.7zM95.9,275.1h0.7v0.7h-0.7zM92.6,276.5h0.7v0.7h-0.7zM98.8,271.0h0.7v0.7h-0.7zM92.5,273.5h0.7v0.7h-0.7zM98.9,270.3h0.7v0.7h-0.7zM101.8,274.7h0.7v0.7h-0.7zM97.0,277.8h0.7v0.7h-0.7zM96.9,273.2h0.7v0.7h-0.7zM98.2,275.2h0.7v0.7h-0.7zM100.4,274.0h0.7v0.7h-0.7zM100.3,271.6h0.7v0.7h-0.7zM95.1,274.0h0.7v0.7h-0.7zM94.3,281.0h0.7v0.7h-0.7zM95.5,271.7h0.7v0.7h-0.7zM92.8,275.8h0.7v0.7h-0.7zM93.4,274.5h0.7v0.7h-0.7zM94.6,272.8h0.7v0.7h-0.7zM100.2,274.6h0.7v0.7h-0.7zM91.1,279.9h0.7v0.7h-0.7zM94.0,270.3h0.7v0.7h-0.7zM97.9,276.0h0.7v0.7h-0.7zM97.0,268.9h0.7v0.7h-0.7zM94.5,274.2h0.7v0.7h-0.7zM99.0,276.1h0.7v0.7h-0.7zM96.6,276.1h0.7v0.7h-0.7zM92.1,281.4h0.7v0.7h-0.7zM94.8,276.3h0.7v0.7h-0.7zM101.5,272.4h0.7v0.7h-0.7zM100.3,267.9h0.7v0.7h-0.7zM97.9,267.8h0.7v0.7h-0.7zM99.4,267.9h0.7v0.7h-0.7zM97.8,276.9h0.7v0.7h-0.7zM101.8,266.1h0.7v0.7h-0.7zM96.4,271.1h0.7v0.7h-0.7zM97.2,273.3h0.7v0.7h-0.7zM96.8,273.1h0.7v0.7h-0.7zM91.0,282.4h0.7v0.7h-0.7zM93.4,273.5h0.7v0.7h-0.7zM92.7,277.3h0.7v0.7h-0.7zM95.3,272.2h0.7v0.7h-0.7zM95.0,272.0h0.7v0.7h-0.7zM97.2,266.6h0.7v0.7h-0.7zM97.5,272.0h0.7v0.7h-0.7zM97.8,278.4h0.7v0.7h-0.7zM90.5,280.2h0.7v0.7h-0.7zM99.8,271.6h0.7v0.7h-0.7zM100.9,271.4h0.7v0.7h-0.7zM92.0,276.6h0.7v0.7h-0.7zM97.3,278.4h0.7v0.7h-0.7zM94.8,275.1h0.7v0.7h-0.7zM97.8,273.6h0.7v0.7h-0.7zM99.0,271.1h0.7v0.7h-0.7zM95.7,271.9h0.7v0.7h-0.7zM100.0,270.5h0.7v0.7h-0.7zM99.2,270.4h0.7v0.7h-0.7zM100.8,266.1h0.7v0.7h-0.7zM96.9,274.6h0.7v0.7h-0.7zM95.0,278.1h0.7v0.7h-0.7zM94.5,275.6h0.7v0.7h-0.7zM96.9,268.2h0.7v0.7h-0.7zM98.9,271.0h0.7v0.7h-0.7zM94.5,278.2h0.7v0.7h-0.7zM97.4,275.5h0.7v0.7h-0.7zM97.6,272.6h0.7v0.7h-0.7zM97.1,273.6h0.7v0.7h-0.7zM94.6,271.3h0.7v0.7h-0.7zM95.9,271.2h0.7v0.7h-0.7zM94.7,282.4h0.7v0.7h-0.7zM96.4,270.2h0.7v0.7h-0.7zM93.6,272.0h0.7v0.7h-0.7zM93.2,278.6h0.7v0.7h-0.7zM99.6,273.1h0.7v0.7h-0.7zM93.5,278.9h0.7v0.7h-0.7zM90.8,275.6h0.7v0.7h-0.7zM96.8,269.6h0.7v0.7h-0.7zM102.3,268.2h0.7v0.7h-0.7zM87.9,281.6h0.7v0.7h-0.7zM99.9,272.6h0.7v0.7h-0.7zM97.2,272.4h0.7v0.7h-0.7zM99.2,270.7h0.7v0.7h-0.7zM100.4,270.6h0.7v0.7h-0.7zM95.9,276.1h0.7v0.7h-0.7zM98.1,270.2h0.7v0.7h-0.7zM93.6,274.3h0.7v0.7h-0.7zM94.7,266.9h0.7v0.7h-0.7zM97.6,271.2h0.7v0.7h-0.7zM91.8,275.8h0.7v0.7h-0.7zM102.5,269.2h0.7v0.7h-0.7zM91.6,276.5h0.7v0.7h-0.7zM94.4,269.3h0.7v0.7h-0.7zM99.1,274.7h0.7v0.7h-0.7zM92.5,275.3h0.7v0.7h-0.7zM94.4,273.7h0.7v0.7h-0.7zM94.7,274.1h0.7v0.7h-0.7zM97.3,277.5h0.7v0.7h-0.7zM96.4,275.2h0.7v0.7h-0.7zM97.1,276.1h0.7v0.7h-0.7zM97.2,271.6h0.7v0.7h-0.7zM99.4,274.5h0.7v0.7h-0.7zM97.2,274.8h0.7v0.7h-0.7zM94.9,270.4h0.7v0.7h-0.7zM98.2,272.9h0.7v0.7h-0.7zM96.2,271.6h0.7v0.7h-0.7zM98.4,272.7h0.7v0.7h-0.7zM95.4,275.3h0.7v0.7h-0.7zM97.6,269.0h0.7v0.7h-0.7zM87.0,287.7h0.7v0.7h-0.7zM95.5,276.4h0.7v0.7h-0.7zM102.5,269.6h0.7v0.7h-0.7zM94.6,272.8h0.7v0.7h-0.7zM93.5,275.9h0.7v0.7h-0.7zM93.2,273.2h0.7v0.7h-0.7zM98.2,273.6h0.7v0.7h-0.7zM95.1,269.9h0.7v0.7h-0.7zM99.8,271.1h0.7v0.7h-0.7zM97.9,265.5h0.7v0.7h-0.7zM94.7,276.7h0.7v0.7h-0.7zM95.8,272.7h0.7v0.7h-0.7zM97.1,276.0h0.7v0.7h-0.7zM92.1,273.1h0.7v0.7h-0.7zM91.8,274.0h0.7v0.7h-0.7zM91.3,279.7h0.7v0.7h-0.7zM95.6,276.3h0.7v0.7h-0.7zM100.4,272.4h0.7v0.7h-0.7zM99.9,276.9h0.7v0.7h-0.7zM95.5,276.6h0.7v0.7h-0.7zM92.7,285.2h0.7v0.7h-0.7zM95.0,272.7h0.7v0.7h-0.7zM93.9,282.8h0.7v0.7h-0.7zM92.8,278.2h0.7v0.7h-0.7zM96.3,270.3h0.7v0.7h-0.7zM93.3,278.1h0.7v0.7h-0.7zM90.7,273.7h0.7v0.7h-0.7zM92.5,277.0h0.7v0.7h-0.7zM101.0,261.3h0.7v0.7h-0.7zM98.3,277.1h0.7v0.7h-0.7zM100.9,261.0h0.7v0.7h-0.7zM93.2,272.2h0.7v0.7h-0.7zM95.7,270.5h0.7v0.7h-0.7zM93.5,272.0h0.7v0.7h-0.7zM95.8,271.0h0.7v0.7h-0.7zM96.1,273.8h0.7v0.7h-0.7zM94.4,277.7h0.7v0.7h-0.7zM89.0,278.5h0.7v0.7h-0.7zM98.6,273.3h0.7v0.7h-0.7zM91.3,270.6h0.7v0.7h-0.7zM94.8,274.1h0.7v0.7h-0.7zM90.0,283.2h0.7v0.7h-0.7zM93.0,275.0h0.7v0.7h-0.7zM89.4,272.8h0.7v0.7h-0.7zM98.4,268.9h0.7v0.7h-0.7zM102.5,268.2h0.7v0.7h-0.7zM99.6,275.5h0.7v0.7h-0.7zM98.6,266.8h0.7v0.7h-0.7zM93.9,275.5h0.7v0.7h-0.7zM95.6,277.6h0.7v0.7h-0.7zM98.7,270.6h0.7v0.7h-0.7zM95.6,276.0h0.7v0.7h-0.7zM96.1,272.1h0.7v0.7h-0.7zM99.0,273.8h0.7v0.7h-0.7zM88.5,280.1h0.7v0.7h-0.7zM98.8,269.3h0.7v0.7h-0.7zM91.1,278.4h0.7v0.7h-0.7zM94.8,285.8h0.7v0.7h-0.7zM104.0,264.8h0.7v0.7h-0.7zM94.1,275.5h0.7v0.7h-0.7zM101.8,266.5h0.7v0.7h-0.7zM99.8,273.5h0.7v0.7h-0.7zM93.2,274.8h0.7v0.7h-0.7zM94.9,283.9h0.7v0.7h-0.7zM92.7,279.9h0.7v0.7h-0.7zM94.2,277.7h0.7v0.7h-0.7zM94.3,269.3h0.7v0.7h-0.7zM92.0,272.5h0.7v0.7h-0.7zM92.0,275.0h0.7v0.7h-0.7zM95.3,274.4h0.7v0.7h-0.7zM97.5,267.9h0.7v0.7h-0.7zM100.8,273.3h0.7v0.7h-0.7zM94.9,275.0h0.7v0.7h-0.7zM92.1,275.7h0.7v0.7h-0.7zM98.7,266.5h0.7v0.7h-0.7zM93.2,277.6h0.7v0.7h-0.7zM96.4,274.3h0.7v0.7h-0.7zM100.0,273.5h0.7v0.7h-0.7zM93.0,275.5h0.7v0.7h-0.7zM99.1,269.3h0.7v0.7h-0.7zM98.9,269.8h0.7v0.7h-0.7zM94.7,276.6h0.7v0.7h-0.7zM95.0,273.7h0.7v0.7h-0.7zM96.6,268.9h0.7v0.7h-0.7zM91.6,277.8h0.7v0.7h-0.7zM96.5,274.0h0.7v0.7h-0.7zM94.7,274.9h0.7v0.7h-0.7zM104.7,269.5h0.7v0.7h-0.7zM100.5,269.9h0.7v0.7h-0.7zM100.6,269.9h0.7v0.7h-0.7zM102.6,271.2h0.7v0.7h-0.7zM92.2,273.4h0.7v0.7h-0.7zM88.4,278.0h0.7v0.7h-0.7zM99.5,273.5h0.7v0.7h-0.7zM100.0,273.5h0.7v0.7h-0.7zM95.2,272.9h0.7v0.7h-0.7zM93.3,278.7h0.7v0.7h-0.7zM99.6,272.7h0.7v0.7h-0.7zM94.5,270.7h0.7v0.7h-0.7zM103.2,273.5h0.7v0.7h-0.7zM87.4,280.9h0.7v0.7h-0.7zM96.8,278.2h0.7v0.7h-0.7zM98.6,273.1h0.7v0.7h-0.7zM98.6,268.8h0.7v0.7h-0.7zM93.6,277.6h0.7v0.7h-0.7zM96.4,272.4h0.7v0.7h-0.7zM98.1,266.5h0.7v0.7h-0.7zM97.7,270.9h0.7v0.7h-0.7zM102.5,272.1h0.7v0.7h-0.7zM99.1,264.7h0.7v0.7h-0.7zM99.3,271.3h0.7v0.7h-0.7zM100.9,267.6h0.7v0.7h-0.7zM97.2,268.8h0.7v0.7h-0.7zM97.0,276.1h0.7v0.7h-0.7zM91.5,276.1h0.7v0.7h-0.7zM95.8,278.9h0.7v0.7h-0.7zM96.5,275.3h0.7v0.7h-0.7zM96.1,273.3h0.7v0.7h-0.7zM97.5,279.1h0.7v0.7h-0.7zM97.9,272.8h0.7v0.7h-0.7zM91.3,275.6h0.7v0.7h-0.7zM92.9,280.7h0.7v0.7h-0.7zM92.1,279.2h0.7v0.7h-0.7zM98.5,269.7h0.7v0.7h-0.7zM93.9,273.7h0.7v0.7h-0.7zM94.6,277.7h0.7v0.7h-0.7zM100.2,269.8h0.7v0.7h-0.7zM97.0,273.1h0.7v0.7h-0.7zM96.1,271.1h0.7v0.7h-0.7zM99.9,268.8h0.7v0.7h-0.7zM97.3,274.5h0.7v0.7h-0.7zM99.2,271.3h0.7v0.7h-0.7zM92.0,275.7h0.7v0.7h-0.7zM100.3,277.3h0.7v0.7h-0.7zM97.2,271.2h0.7v0.7h-0.7zM95.6,272.8h0.7v0.7h-0.7zM94.0,277.1h0.7v0.7h-0.7zM95.2,272.2h0.7v0.7h-0.7zM94.9,275.7h0.7v0.7h-0.7zM96.9,271.5h0.7v0.7h-0.7zM92.3,280.1h0.7v0.7h-0.7zM98.4,276.3h0.7v0.7h-0.7zM98.6,274.3h0.7v0.7h-0.7zM100.4,270.2h0.7v0.7h-0.7zM102.4,265.0h0.7v0.7h-0.7zM96.2,270.9h0.7v0.7h-0.7zM95.1,278.9h0.7v0.7h-0.7zM97.1,278.9h0.7v0.7h-0.7zM96.2,276.4h0.7v0.7h-0.7zM100.3,275.6h0.7v0.7h-0.7zM92.6,276.2h0.7v0.7h-0.7zM97.3,269.0h0.7v0.7h-0.7zM100.9,272.1h0.7v0.7h-0.7zM97.8,276.0h0.7v0.7h-0.7zM97.0,269.4h0.7v0.7h-0.7zM89.4,276.0h0.7v0.7h-0.7zM95.6,265.9h0.7v0.7h-0.7zM103.3,273.9h0.7v0.7h-0.7z" fill="#000" opacity="0.6"/>
<path d="M102.9,276.0h0.7v0.7h-0.7zM96.0,278.1h0.7v0.7h-0.7zM101.8,275.1h0.7v0.7h-0.7zM96.6,275.0h0.7v0.7h-0.7zM103.8,276.7h0.7v0.7h-0.7zM102.1,274.9h0.7v0.7h-0.7zM97.6,277.4h0.7v0.7h-0.7zM99.6,274.9h0.7v0.7h-0.7zM100.4,273.9h0.7v0.7h-0.7zM102.4,272.2h0.7v0.7h-0.7zM101.4,276.5h0.7v0.7h-0.7zM99.9,274.3h0.7v0.7h-0.7zM96.4,279.5h0.7v0.7h-0.7zM99.7,274.8h0.7v0.7h-0.7zM98.8,274.8h0.7v0.7h-0.7zM99.8,273.8h0.7v0.7h-0.7zM101.7,273.1h0.7v0.7h-0.7zM105.0,275.7h0.7v0.7h-0.7zM104.6,276.2h0.7v0.7h-0.7zM100.6,277.8h0.7v0.7h-0.7zM95.0,276.4h0.7v0.7h-0.7zM97.6,279.7h0.7v0.7h-0.7zM99.9,274.1h0.7v0.7h-0.7zM97.1,274.5h0.7v0.7h-0.7zM96.4,279.2h0.7v0.7h-0.7zM98.7,277.7h0.7v0.7h-0.7zM100.3,274.8h0.7v0.7h-0.7zM103.3,276.2h0.7v0.7h-0.7zM100.7,276.8h0.7v0.7h-0.7zM100.0,278.0h0.7v0.7h-0.7zM100.9,278.8h0.7v0.7h-0.7zM99.8,273.6h0.7v0.7h-0.7zM99.7,275.5h0.7v0.7h-0.7zM101.5,277.9h0.7v0.7h-0.7zM98.9,278.8h0.7v0.7h-0.7zM102.1,275.5h0.7v0.7h-0.7zM100.7,277.6h0.7v0.7h-0.7zM99.4,275.7h0.7v0.7h-0.7zM98.7,275.5h0.7v0.7h-0.7zM101.9,274.9h0.7v0.7h-0.7zM101.3,277.6h0.7v0.7h-0.7zM98.1,274.9h0.7v0.7h-0.7zM99.6,281.0h0.7v0.7h-0.7zM101.2,273.4h0.7v0.7h-0.7zM98.4,278.3h0.7v0.7h-0.7zM104.2,275.0h0.7v0.7h-0.7zM100.2,276.8h0.7v0.7h-0.7zM96.9,277.5h0.7v0.7h-0.7zM102.2,275.7h0.7v0.7h-0.7zM98.4,278.0h0.7v0.7h-0.7zM98.4,278.9h0.7v0.7h-0.7zM96.8,277.1h0.7v0.7h-0.7zM101.8,277.2h0.7v0.7h-0.7zM100.5,273.5h0.7v0.7h-0.7zM99.4,276.0h0.7v0.7h-0.7zM99.5,272.2h0.7v0.7h-0.7zM97.5,278.7h0.7v0.7h-0.7zM96.2,277.5h0.7v0.7h-0.7zM99.6,276.0h0.7v0.7h-0.7zM97.7,274.1h0.7v0.7h-0.7zM97.3,277.9h0.7v0.7h-0.7zM98.3,275.1h0.7v0.7h-0.7zM95.1,276.8h0.7v0.7h-0.7zM96.0,279.0h0.7v0.7h-0.7zM99.7,274.5h0.7v0.7h-0.7zM96.3,277.4h0.7v0.7h-0.7zM100.3,273.1h0.7v0.7h-0.7zM99.8,277.6h0.7v0.7h-0.7zM102.0,275.3h0.7v0.7h-0.7zM98.1,279.7h0.7v0.7h-0.7zM97.9,275.3h0.7v0.7h-0.7zM98.1,279.8h0.7v0.7h-0.7zM101.6,272.3h0.7v0.7h-0.7zM105.8,271.6h0.7v0.7h-0.7zM101.9,273.3h0.7v0.7h-0.7zM95.5,276.5h0.7v0.7h-0.7zM98.0,277.1h0.7v0.7h-0.7zM103.8,275.6h0.7v0.7h-0.7zM98.3,275.7h0.7v0.7h-0.7zM98.2,276.0h0.7v0.7h-0.7zM101.1,273.7h0.7v0.7h-0.7zM96.0,275.5h0.7v0.7h-0.7zM103.6,274.6h0.7v0.7h-0.7zM102.3,273.0h0.7v0.7h-0.7zM98.8,273.5h0.7v0.7h-0.7zM101.2,274.2h0.7v0.7h-0.7zM101.0,276.5h0.7v0.7h-0.7zM100.9,277.4h0.7v0.7h-0.7zM99.1,275.6h0.7v0.7h-0.7zM99.5,277.6h0.7v0.7h-0.7zM98.2,277.2h0.7v0.7h-0.7zM100.1,275.4h0.7v0.7h-0.7zM103.4,273.7h0.7v0.7h-0.7zM100.2,273.6h0.7v0.7h-0.7zM103.5,278.0h0.7v0.7h-0.7zM103.5,276.4h0.7v0.7h-0.7zM103.5,271.6h0.7v0.7h-0.7zM96.7,279.6h0.7v0.7h-0.7zM98.6,275.8h0.7v0.7h-0.7zM104.3,273.0h0.7v0.7h-0.7zM99.7,279.0h0.7v0.7h-0.7zM96.4,279.3h0.7v0.7h-0.7zM96.2,274.0h0.7v0.7h-0.7zM100.8,275.5h0.7v0.7h-0.7zM100.2,280.8h0.7v0.7h-0.7zM97.7,279.6h0.7v0.7h-0.7zM100.2,275.6h0.7v0.7h-0.7zM100.3,276.1h0.7v0.7h-0.7zM97.6,277.9h0.7v0.7h-0.7zM101.5,271.3h0.7v0.7h-0.7zM96.4,283.2h0.7v0.7h-0.7zM100.6,274.7h0.7v0.7h-0.7zM99.1,277.7h0.7v0.7h-0.7zM96.7,273.9h0.7v0.7h-0.7zM102.8,273.6h0.7v0.7h-0.7zM99.1,277.7h0.7v0.7h-0.7zM97.2,279.0h0.7v0.7h-0.7zM99.6,276.6h0.7v0.7h-0.7zM97.4,277.0h0.7v0.7h-0.7zM94.8,278.3h0.7v0.7h-0.7zM99.5,278.4h0.7v0.7h-0.7zM95.5,277.4h0.7v0.7h-0.7zM101.3,274.0h0.7v0.7h-0.7zM99.8,278.5h0.7v0.7h-0.7zM104.3,270.8h0.7v0.7h-0.7zM100.0,276.9h0.7v0.7h-0.7zM99.1,276.5h0.7v0.7h-0.7zM97.2,273.6h0.7v0.7h-0.7zM95.1,274.3h0.7v0.7h-0.7zM99.1,274.4h0.7v0.7h-0.7zM98.1,275.2h0.7v0.7h-0.7zM98.9,278.0h0.7v0.7h-0.7zM100.3,278.5h0.7v0.7h-0.7zM97.6,277.7h0.7v0.7h-0.7zM99.2,278.0h0.7v0.7h-0.7zM98.8,277.5h0.7v0.7h-0.7zM104.4,270.8h0.7v0.7h-0.7zM99.4,275.1h0.7v0.7h-0.7zM101.5,274.7h0.7v0.7h-0.7zM102.2,275.4h0.7v0.7h-0.7zM97.7,278.1h0.7v0.7h-0.7zM96.9,275.8h0.7v0.7h-0.7zM101.4,273.6h0.7v0.7h-0.7zM101.9,274.1h0.7v0.7h-0.7zM102.0,278.1h0.7v0.7h-0.7zM102.7,276.6h0.7v0.7h-0.7zM101.6,273.7h0.7v0.7h-0.7zM98.9,277.8h0.7v0.7h-0.7zM104.4,271.3h0.7v0.7h-0.7zM97.1,274.7h0.7v0.7h-0.7zM100.4,274.6h0.7v0.7h-0.7zM101.0,278.3h0.7v0.7h-0.7zM101.3,272.2h0.7v0.7h-0.7zM98.7,280.4h0.7v0.7h-0.7zM96.8,279.0h0.7v0.7h-0.7zM94.9,274.6h0.7v0.7h-0.7zM97.9,275.5h0.7v0.7h-0.7zM101.1,271.9h0.7v0.7h-0.7zM100.2,279.8h0.7v0.7h-0.7zM100.4,274.6h0.7v0.7h-0.7zM96.9,277.2h0.7v0.7h-0.7zM100.4,277.2h0.7v0.7h-0.7zM97.5,277.8h0.7v0.7h-0.7zM104.9,270.5h0.7v0.7h-0.7zM98.1,276.6h0.7v0.7h-0.7zM99.8,273.6h0.7v0.7h-0.7zM99.4,277.0h0.7v0.7h-0.7zM99.5,276.5h0.7v0.7h-0.7zM98.1,278.7h0.7v0.7h-0.7zM98.6,274.3h0.7v0.7h-0.7zM100.7,275.2h0.7v0.7h-0.7zM98.0,279.3h0.7v0.7h-0.7zM101.6,276.4h0.7v0.7h-0.7zM98.2,276.5h0.7v0.7h-0.7zM97.7,275.4h0.7v0.7h-0.7zM102.5,278.9h0.7v0.7h-0.7zM99.1,278.6h0.7v0.7h-0.7zM99.3,278.5h0.7v0.7h-0.7zM101.5,273.3h0.7v0.7h-0.7zM101.9,275.4h0.7v0.7h-0.7zM101.1,280.4h0.7v0.7h-0.7zM98.8,274.2h0.7v0.7h-0.7zM99.4,276.5h0.7v0.7h-0.7zM99.5,276.5h0.7v0.7h-0.7zM98.3,276.2h0.7v0.7h-0.7zM100.8,277.9h0.7v0.7h-0.7zM100.4,277.1h0.7v0.7h-0.7zM102.3,276.0h0.7v0.7h-0.7zM99.3,275.0h0.7v0.7h-0.7zM99.9,275.1h0.7v0.7h-0.7zM99.6,275.0h0.7v0.7h-0.7zM98.1,280.3h0.7v0.7h-0.7zM99.8,277.5h0.7v0.7h-0.7zM101.2,277.0h0.7v0.7h-0.7zM100.3,275.5h0.7v0.7h-0.7zM103.0,276.2h0.7v0.7h-0.7zM99.3,279.6h0.7v0.7h-0.7zM94.8,274.9h0.7v0.7h-0.7zM101.2,277.5h0.7v0.7h-0.7zM97.0,274.8h0.7v0.7h-0.7zM100.4,277.4h0.7v0.7h-0.7zM99.4,273.5h0.7v0.7h-0.7zM97.1,270.9h0.7v0.7h-0.7zM98.4,275.2h0.7v0.7h-0.7zM100.4,275.1h0.7v0.7h-0.7zM102.3,277.8h0.7v0.7h-0.7zM101.2,274.0h0.7v0.7h-0.7zM103.0,271.0h0.7v0.7h-0.7zM104.5,273.3h0.7v0.7h-0.7zM99.3,274.9h0.7v0.7h-0.7zM97.1,276.0h0.7v0.7h-0.7zM99.3,274.3h0.7v0.7h-0.7zM101.4,273.7h0.7v0.7h-0.7zM101.0,274.5h0.7v0.7h-0.7zM100.0,271.7h0.7v0.7h-0.7zM98.1,278.7h0.7v0.7h-0.7zM101.0,275.4h0.7v0.7h-0.7zM102.4,274.5h0.7v0.7h-0.7zM103.3,273.8h0.7v0.7h-0.7zM99.3,276.4h0.7v0.7h-0.7zM98.6,277.0h0.7v0.7h-0.7zM97.8,279.8h0.7v0.7h-0.7zM101.5,271.8h0.7v0.7h-0.7zM96.3,278.1h0.7v0.7h-0.7zM98.7,275.8h0.7v0.7h-0.7zM98.7,280.1h0.7v0.7h-0.7zM98.0,276.8h0.7v0.7h-0.7zM102.4,277.2h0.7v0.7h-0.7zM98.1,272.1h0.7v0.7h-0.7zM98.5,280.1h0.7v0.7h-0.7zM102.8,274.0h0.7v0.7h-0.7zM99.2,277.4h0.7v0.7h-0.7zM98.6,280.7h0.7v0.7h-0.7zM101.2,274.4h0.7v0.7h-0.7zM99.6,279.0h0.7v0.7h-0.7zM102.1,277.0h0.7v0.7h-0.7zM102.6,275.7h0.7v0.7h-0.7zM103.8,273.5h0.7v0.7h-0.7zM98.3,281.8h0.7v0.7h-0.7zM97.5,270.6h0.7v0.7h-0.7zM100.9,278.0h0.7v0.7h-0.7zM100.1,276.6h0.7v0.7h-0.7zM101.8,272.8h0.7v0.7h-0.7zM100.6,271.9h0.7v0.7h-0.7zM102.9,276.9h0.7v0.7h-0.7zM98.3,275.6h0.7v0.7h-0.7zM99.0,274.3h0.7v0.7h-0.7zM101.3,275.1h0.7v0.7h-0.7zM103.2,273.5h0.7v0.7h-0.7zM102.6,276.1h0.7v0.7h-0.7zM102.0,274.4h0.7v0.7h-0.7zM102.3,275.0h0.7v0.7h-0.7zM102.5,271.9h0.7v0.7h-0.7zM99.5,272.1h0.7v0.7h-0.7zM100.4,274.9h0.7v0.7h-0.7zM99.8,273.3h0.7v0.7h-0.7zM100.3,273.6h0.7v0.7h-0.7zM98.8,278.4h0.7v0.7h-0.7zM98.9,279.5h0.7v0.7h-0.7zM96.8,279.3h0.7v0.7h-0.7zM99.6,276.6h0.7v0.7h-0.7zM101.6,276.2h0.7v0.7h-0.7zM99.9,277.5h0.7v0.7h-0.7zM100.9,278.0h0.7v0.7h-0.7zM103.3,274.4h0.7v0.7h-0.7zM99.2,275.3h0.7v0.7h-0.7zM101.2,276.3h0.7v0.7h-0.7zM98.2,277.4h0.7v0.7h-0.7zM99.2,278.0h0.7v0.7h-0.7zM99.5,279.5h0.7v0.7h-0.7zM98.1,277.2h0.7v0.7h-0.7zM103.8,276.1h0.7v0.7h-0.7zM102.5,275.9h0.7v0.7h-0.7zM102.0,278.6h0.7v0.7h-0.7zM99.8,275.7h0.7v0.7h-0.7zM104.5,273.4h0.7v0.7h-0.7zM99.2,275.5h0.7v0.7h-0.7zM102.4,277.3h0.7v0.7h-0.7zM100.4,278.1h0.7v0.7h-0.7zM100.8,276.3h0.7v0.7h-0.7zM97.9,277.7h0.7v0.7h-0.7zM97.3,278.4h0.7v0.7h-0.7zM95.7,279.1h0.7v0.7h-0.7zM100.9,275.8h0.7v0.7h-0.7zM100.4,275.7h0.7v0.7h-0.7zM101.6,278.0h0.7v0.7h-0.7zM102.4,277.1h0.7v0.7h-0.7zM98.5,278.2h0.7v0.7h-0.7zM102.8,278.6h0.7v0.7h-0.7zM103.9,271.3h0.7v0.7h-0.7zM100.9,276.9h0.7v0.7h-0.7zM101.1,277.8h0.7v0.7h-0.7zM100.4,278.9h0.7v0.7h-0.7zM101.6,276.0h0.7v0.7h-0.7zM96.1,278.6h0.7v0.7h-0.7zM97.7,275.0h0.7v0.7h-0.7zM98.2,276.2h0.7v0.7h-0.7zM97.3,276.1h0.7v0.7h-0.7zM98.5,275.1h0.7v0.7h-0.7zM100.5,276.9h0.7v0.7h-0.7zM96.3,281.1h0.7v0.7h-0.7zM101.5,279.7h0.7v0.7h-0.7zM96.6,276.9h0.7v0.7h-0.7zM99.1,277.5h0.7v0.7h-0.7zM99.1,278.5h0.7v0.7h-0.7zM102.4,272.3h0.7v0.7h-0.7zM97.8,280.7h0.7v0.7h-0.7zM100.9,274.0h0.7v0.7h-0.7zM98.7,273.9h0.7v0.7h-0.7zM106.7,270.7h0.7v0.7h-0.7zM101.0,273.1h0.7v0.7h-0.7zM100.9,274.0h0.7v0.7h-0.7zM102.9,277.1h0.7v0.7h-0.7zM101.4,276.1h0.7v0.7h-0.7zM101.8,277.5h0.7v0.7h-0.7zM97.1,273.3h0.7v0.7h-0.7zM98.9,281.5h0.7v0.7h-0.7zM96.6,274.9h0.7v0.7h-0.7zM98.0,278.8h0.7v0.7h-0.7zM100.8,273.5h0.7v0.7h-0.7zM97.0,277.1h0.7v0.7h-0.7zM99.3,274.5h0.7v0.7h-0.7zM97.8,275.6h0.7v0.7h-0.7zM98.5,276.5h0.7v0.7h-0.7zM95.6,279.0h0.7v0.7h-0.7zM101.2,277.3h0.7v0.7h-0.7zM96.3,275.4h0.7v0.7h-0.7zM100.2,276.8h0.7v0.7h-0.7zM98.5,277.0h0.7v0.7h-0.7zM99.1,280.6h0.7v0.7h-0.7zM99.2,273.8h0.7v0.7h-0.7zM100.9,276.7h0.7v0.7h-0.7zM96.4,276.5h0.7v0.7h-0.7zM98.5,272.2h0.7v0.7h-0.7zM103.3,275.9h0.7v0.7h-0.7zM97.1,281.2h0.7v0.7h-0.7zM99.9,275.7h0.7v0.7h-0.7zM98.0,281.7h0.7v0.7h-0.7zM98.8,276.1h0.7v0.7h-0.7zM101.4,275.0h0.7v0.7h-0.7zM96.3,279.5h0.7v0.7h-0.7zM100.9,276.2h0.7v0.7h-0.7zM101.7,277.2h0.7v0.7h-0.7zM101.9,274.6h0.7v0.7h-0.7zM102.4,276.2h0.7v0.7h-0.7zM98.6,275.6h0.7v0.7h-0.7zM100.9,275.2h0.7v0.7h-0.7zM98.0,279.6h0.7v0.7h-0.7zM98.1,275.3h0.7v0.7h-0.7zM100.7,271.1h0.7v0.7h-0.7zM101.7,275.4h0.7v0.7h-0.7zM101.5,277.6h0.7v0.7h-0.7zM101.8,273.6h0.7v0.7h-0.7zM99.1,274.1h0.7v0.7h-0.7zM102.9,270.7h0.7v0.7h-0.7zM95.9,275.2h0.7v0.7h-0.7zM99.6,278.7h0.7v0.7h-0.7zM100.7,276.0h0.7v0.7h-0.7zM100.3,275.7h0.7v0.7h-0.7zM98.9,280.1h0.7v0.7h-0.7zM98.5,278.1h0.7v0.7h-0.7zM100.6,276.0h0.7v0.7h-0.7zM101.2,272.3h0.7v0.7h-0.7zM97.4,273.6h0.7v0.7h-0.7zM99.8,275.7h0.7v0.7h-0.7zM100.2,275.3h0.7v0.7h-0.7zM104.1,277.4h0.7v0.7h-0.7zM102.6,271.2h0.7v0.7h-0.7zM103.8,272.9h0.7v0.7h-0.7zM100.8,279.9h0.7v0.7h-0.7zM102.3,275.3h0.7v0.7h-0.7zM101.6,273.9h0.7v0.7h-0.7zM96.8,274.9h0.7v0.7h-0.7zM99.5,274.5h0.7v0.7h-0.7zM100.5,277.5h0.7v0.7h-0.7zM102.6,272.8h0.7v0.7h-0.7zM99.5,270.0h0.7v0.7h-0.7zM101.2,272.7h0.7v0.7h-0.7zM100.8,271.9h0.7v0.7h-0.7zM97.8,278.2h0.7v0.7h-0.7zM100.0,279.7h0.7v0.7h-0.7zM103.3,279.6h0.7v0.7h-0.7zM99.4,276.8h0.7v0.7h-0.7zM101.1,273.8h0.7v0.7h-0.7zM99.5,276.6h0.7v0.7h-0.7zM100.1,276.8h0.7v0.7h-0.7zM101.5,272.2h0.7v0.7h-0.7zM100.0,274.3h0.7v0.7h-0.7zM102.4,273.2h0.7v0.7h-0.7zM103.0,275.5h0.7v0.7h-0.7zM101.9,274.6h0.7v0.7h-0.7zM103.5,271.8h0.7v0.7h-0.7zM98.3,277.6h0.7v0.7h-0.7zM99.1,277.2h0.7v0.7h-0.7zM101.3,275.8h0.7v0.7h-0.7zM99.8,277.0h0.7v0.7h-0.7zM100.5,274.0h0.7v0.7h-0.7zM105.3,270.7h0.7v0.7h-0.7zM101.0,272.7h0.7v0.7h-0.7zM98.8,277.5h0.7v0.7h-0.7zM98.3,275.4h0.7v0.7h-0.7zM99.2,276.6h0.7v0.7h-0.7zM99.5,275.9h0.7v0.7h-0.7zM95.5,277.2h0.7v0.7h-0.7zM100.0,276.5h0.7v0.7h-0.7zM99.0,278.2h0.7v0.7h-0.7zM101.1,275.1h0.7v0.7h-0.7zM98.7,280.1h0.7v0.7h-0.7zM101.0,275.3h0.7v0.7h-0.7zM102.1,277.4h0.7v0.7h-0.7zM102.6,276.9h0.7v0.7h-0.7zM96.8,278.8h0.7v0.7h-0.7zM95.5,279.8h0.7v0.7h-0.7zM101.4,276.6h0.7v0.7h-0.7zM101.1,275.1h0.7v0.7h-0.7zM101.6,273.2h0.7v0.7h-0.7zM98.0,274.3h0.7v0.7h-0.7zM99.7,278.3h0.7v0.7h-0.7zM101.1,276.6h0.7v0.7h-0.7zM97.7,276.1h0.7v0.7h-0.7zM99.3,277.2h0.7v0.7h-0.7zM101.7,275.2h0.7v0.7h-0.7zM98.1,270.1h0.7v0.7h-0.7zM99.5,277.1h0.7v0.7h-0.7zM96.2,278.9h0.7v0.7h-0.7zM97.2,276.4h0.7v0.7h-0.7zM101.7,273.5h0.7v0.7h-0.7zM99.6,276.4h0.7v0.7h-0.7zM99.5,279.8h0.7v0.7h-0.7zM101.6,273.1h0.7v0.7h-0.7zM98.5,281.4h0.7v0.7h-0.7zM101.1,273.1h0.7v0.7h-0.7zM95.0,278.8h0.7v0.7h-0.7zM94.9,276.0h0.7v0.7h-0.7zM98.9,274.7h0.7v0.7h-0.7zM101.0,278.9h0.7v0.7h-0.7zM100.4,278.8h0.7v0.7h-0.7zM100.0,281.0h0.7v0.7h-0.7zM96.7,274.5h0.7v0.7h-0.7zM104.1,274.8h0.7v0.7h-0.7zM100.2,279.1h0.7v0.7h-0.7zM99.9,275.1h0.7v0.7h-0.7zM101.8,271.3h0.7v0.7h-0.7zM99.3,275.0h0.7v0.7h-0.7zM105.0,275.0h0.7v0.7h-0.7zM100.3,276.4h0.7v0.7h-0.7zM99.8,276.2h0.7v0.7h-0.7zM103.1,275.2h0.7v0.7h-0.7zM99.7,273.5h0.7v0.7h-0.7zM97.8,278.4h0.7v0.7h-0.7z" fill="#000" opacity="0.7"/>
<path d="M93.0,273.5h0.7v0.7h-0.7zM92.3,277.4h0.7v0.7h-0.7zM98.0,270.0h0.7v0.7h-0.7zM97.1,270.1h0.7v0.7h-0.7zM97.5,276.0h0.7v0.7h-0.7zM97.0,272.8h0.7v0.7h-0.7zM96.6,273.8h0.7v0.7h-0.7zM100.9,271.6h0.7v0.7h-0.7zM98.2,269.1h0.7v0.7h-0.7zM92.6,278.9h0.7v0.7h-0.7zM98.5,270.9h0.7v0.7h-0.7zM92.4,279.9h0.7v0.7h-0.7zM98.8,270.8h0.7v0.7h-0.7zM94.9,273.7h0.7v0.7h-0.7zM93.2,272.3h0.7v0.7h-0.7zM95.9,275.0h0.7v0.7h-0.7zM95.5,273.3h0.7v0.7h-0.7zM94.9,277.9h0.7v0.7h-0.7zM93.3,276.8h0.7v0.7h-0.7zM97.3,277.2h0.7v0.7h-0.7zM92.7,276.7h0.7v0.7h-0.7zM95.7,273.0h0.7v0.7h-0.7zM97.0,272.9h0.7v0.7h-0.7zM95.2,279.7h0.7v0.7h-0.7zM97.9,274.0h0.7v0.7h-0.7zM96.0,270.9h0.7v0.7h-0.7zM98.8,267.8h0.7v0.7h-0.7zM93.1,279.2h0.7v0.7h-0.7zM96.9,276.0h0.7v0.7h-0.7zM99.7,268.1h0.7v0.7h-0.7zM98.1,274.8h0.7v0.7h-0.7zM93.6,273.2h0.7v0.7h-0.7zM100.0,269.2h0.7v0.7h-0.7zM94.3,272.9h0.7v0.7h-0.7zM99.1,269.8h0.7v0.7h-0.7zM99.3,270.3h0.7v0.7h-0.7zM96.6,272.6h0.7v0.7h-0.7zM91.9,278.1h0.7v0.7h-0.7zM97.9,270.0h0.7v0.7h-0.7zM101.9,267.7h0.7v0.7h-0.7zM95.4,275.3h0.7v0.7h-0.7zM96.5,273.3h0.7v0.7h-0.7zM99.1,269.1h0.7v0.7h-0.7zM97.6,274.0h0.7v0.7h-0.7zM97.3,275.0h0.7v0.7h-0.7zM92.7,273.5h0.7v0.7h-0.7zM98.7,271.9h0.7v0.7h-0.7zM97.3,272.2h0.7v0.7h-0.7zM93.7,274.8h0.7v0.7h-0.7zM98.3,275.3h0.7v0.7h-0.7zM95.5,272.9h0.7v0.7h-0.7zM96.0,273.1h0.7v0.7h-0.7zM99.6,270.6h0.7v0.7h-0.7zM94.1,271.9h0.7v0.7h-0.7zM93.1,275.9h0.7v0.7h-0.7zM97.0,274.0h0.7v0.7h-0.7zM95.1,272.0h0.7v0.7h-0.7zM100.0,266.7h0.7v0.7h-0.7zM94.5,273.0h0.7v0.7h-0.7zM98.9,273.5h0.7v0.7h-0.7zM103.5,274.2h0.7v0.7h-0.7zM94.3,273.4h0.7v0.7h-0.7zM95.4,274.4h0.7v0.7h-0.7zM92.5,275.9h0.7v0.7h-0.7zM93.8,274.4h0.7v0.7h-0.7zM97.8,275.7h0.7v0.7h-0.7zM98.0,275.0h0.7v0.7h-0.7zM98.3,273.5h0.7v0.7h-0.7zM97.4,271.5h0.7v0.7h-0.7zM94.6,272.2h0.7v0.7h-0.7zM97.4,270.5h0.7v0.7h-0.7zM93.6,278.2h0.7v0.7h-0.7zM97.0,269.3h0.7v0.7h-0.7zM95.2,272.2h0.7v0.7h-0.7zM94.7,273.0h0.7v0.7h-0.7zM99.5,271.3h0.7v0.7h-0.7zM102.9,270.4h0.7v0.7h-0.7zM96.0,270.1h0.7v0.7h-0.7zM96.8,276.0h0.7v0.7h-0.7zM94.8,277.5h0.7v0.7h-0.7zM97.6,271.4h0.7v0.7h-0.7zM97.4,274.6h0.7v0.7h-0.7zM95.6,276.7h0.7v0.7h-0.7zM92.0,273.9h0.7v0.7h-0.7zM99.0,273.0h0.7v0.7h-0.7zM97.3,272.2h0.7v0.7h-0.7zM97.6,271.4h0.7v0.7h-0.7zM95.1,269.9h0.7v0.7h-0.7zM96.4,274.9h0.7v0.7h-0.7zM95.5,269.3h0.7v0.7h-0.7zM95.5,271.4h0.7v0.7h-0.7zM94.3,275.9h0.7v0.7h-0.7zM98.5,268.3h0.7v0.7h-0.7zM92.9,278.1h0.7v0.7h-0.7zM97.7,270.7h0.7v0.7h-0.7zM99.8,270.7h0.7v0.7h-0.7zM99.9,269.8h0.7v0.7h-0.7zM95.9,276.8h0.7v0.7h-0.7zM96.2,272.6h0.7v0.7h-0.7zM96.8,273.6h0.7v0.7h-0.7zM95.5,274.9h0.7v0.7h-0.7zM95.5,273.6h0.7v0.7h-0.7zM99.5,272.1h0.7v0.7h-0.7zM96.7,275.2h0.7v0.7h-0.7zM92.5,277.3h0.7v0.7h-0.7zM97.1,271.4h0.7v0.7h-0.7zM93.1,274.6h0.7v0.7h-0.7zM98.8,272.3h0.7v0.7h-0.7zM100.3,269.8h0.7v0.7h-0.7zM94.1,278.2h0.7v0.7h-0.7zM97.5,270.8h0.7v0.7h-0.7zM98.2,270.7h0.7v0.7h-0.7zM96.1,276.9h0.7v0.7h-0.7zM99.6,266.7h0.7v0.7h-0.7zM95.4,274.1h0.7v0.7h-0.7zM101.3,267.0h0.7v0.7h-0.7zM95.5,275.0h0.7v0.7h-0.7zM97.8,274.1h0.7v0.7h-0.7zM98.7,269.4h0.7v0.7h-0.7zM100.2,277.6h0.7v0.7h-0.7zM98.9,272.2h0.7v0.7h-0.7zM94.3,278.9h0.7v0.7h-0.7zM96.5,277.0h0.7v0.7h-0.7zM100.4,269.1h0.7v0.7h-0.7zM99.3,273.6h0.7v0.7h-0.7zM96.0,274.9h0.7v0.7h-0.7zM94.5,272.9h0.7v0.7h-0.7zM92.7,274.6h0.7v0.7h-0.7zM96.4,272.7h0.7v0.7h-0.7zM94.7,276.3h0.7v0.7h-0.7zM98.9,271.8h0.7v0.7h-0.7zM92.0,277.4h0.7v0.7h-0.7zM93.1,276.8h0.7v0.7h-0.7zM96.6,272.8h0.7v0.7h-0.7zM100.5,272.1h0.7v0.7h-0.7zM95.8,276.3h0.7v0.7h-0.7zM99.9,270.4h0.7v0.7h-0.7zM99.9,272.3h0.7v0.7h-0.7zM100.7,269.4h0.7v0.7h-0.7zM97.4,268.0h0.7v0.7h-0.7zM97.2,274.9h0.7v0.7h-0.7zM93.9,276.3h0.7v0.7h-0.7zM98.7,272.9h0.7v0.7h-0.7zM97.2,269.4h0.7v0.7h-0.7zM96.1,275.4h0.7v0.7h-0.7zM98.0,274.9h0.7v0.7h-0.7zM100.1,269.5h0.7v0.7h-0.7zM91.9,279.3h0.7v0.7h-0.7zM100.5,271.2h0.7v0.7h-0.7zM97.1,276.2h0.7v0.7h-0.7zM94.6,275.2h0.7v0.7h-0.7zM95.3,272.0h0.7v0.7h-0.7zM90.4,280.0h0.7v0.7h-0.7zM96.2,272.1h0.7v0.7h-0.7zM97.5,276.2h0.7v0.7h-0.7zM98.0,272.7h0.7v0.7h-0.7zM98.0,277.6h0.7v0.7h-0.7zM97.2,273.3h0.7v0.7h-0.7zM91.5,277.0h0.7v0.7h-0.7zM96.6,273.7h0.7v0.7h-0.7zM98.3,270.4h0.7v0.7h-0.7zM97.5,275.3h0.7v0.7h-0.7zM94.1,275.7h0.7v0.7h-0.7zM99.5,272.0h0.7v0.7h-0.7zM98.6,269.0h0.7v0.7h-0.7zM96.5,269.2h0.7v0.7h-0.7zM94.1,273.1h0.7v0.7h-0.7zM99.3,273.0h0.7v0.7h-0.7zM91.8,276.7h0.7v0.7h-0.7zM97.1,270.3h0.7v0.7h-0.7zM100.7,271.1h0.7v0.7h-0.7zM95.5,276.4h0.7v0.7h-0.7zM99.3,271.5h0.7v0.7h-0.7zM96.1,274.0h0.7v0.7h-0.7zM97.2,276.3h0.7v0.7h-0.7zM96.1,273.0h0.7v0.7h-0.7zM100.2,272.0h0.7v0.7h-0.7zM92.5,272.8h0.7v0.7h-0.7zM97.3,274.6h0.7v0.7h-0.7zM97.5,267.9h0.7v0.7h-0.7zM94.2,276.1h0.7v0.7h-0.7zM99.2,269.5h0.7v0.7h-0.7zM94.6,273.6h0.7v0.7h-0.7zM98.0,271.4h0.7v0.7h-0.7zM98.9,274.9h0.7v0.7h-0.7zM94.7,277.5h0.7v0.7h-0.7zM96.9,271.1h0.7v0.7h-0.7zM100.5,267.3h0.7v0.7h-0.7zM96.4,271.8h0.7v0.7h-0.7zM96.8,276.5h0.7v0.7h-0.7zM100.4,268.8h0.7v0.7h-0.7zM94.9,274.1h0.7v0.7h-0.7zM100.0,273.0h0.7v0.7h-0.7zM97.9,277.3h0.7v0.7h-0.7zM96.5,270.5h0.7v0.7h-0.7zM98.1,273.5h0.7v0.7h-0.7zM96.6,278.8h0.7v0.7h-0.7zM95.8,270.5h0.7v0.7h-0.7zM95.9,277.0h0.7v0.7h-0.7zM97.3,276.3h0.7v0.7h-0.7zM95.9,269.9h0.7v0.7h-0.7zM93.1,279.3h0.7v0.7h-0.7zM98.1,273.4h0.7v0.7h-0.7zM92.7,279.7h0.7v0.7h-0.7zM93.4,278.3h0.7v0.7h-0.7zM93.2,278.9h0.7v0.7h-0.7zM94.3,276.8h0.7v0.7h-0.7zM95.7,275.4h0.7v0.7h-0.7zM97.4,272.5h0.7v0.7h-0.7zM95.1,275.4h0.7v0.7h-0.7zM98.0,272.4h0.7v0.7h-0.7zM93.7,277.4h0.7v0.7h-0.7zM97.2,270.0h0.7v0.7h-0.7zM98.6,275.0h0.7v0.7h-0.7zM99.9,271.7h0.7v0.7h-0.7zM96.0,272.4h0.7v0.7h-0.7zM99.0,273.1h0.7v0.7h-0.7zM99.1,273.4h0.7v0.7h-0.7zM91.6,278.3h0.7v0.7h-0.7zM96.6,268.4h0.7v0.7h-0.7zM94.4,274.2h0.7v0.7h-0.7zM96.6,271.1h0.7v0.7h-0.7zM94.9,277.7h0.7v0.7h-0.7zM93.1,273.6h0.7v0.7h-0.7zM98.0,271.1h0.7v0.7h-0.7zM97.1,273.4h0.7v0.7h-0.7zM94.5,278.4h0.7v0.7h-0.7zM94.9,275.5h0.7v0.7h-0.7zM96.6,271.9h0.7v0.7h-0.7zM94.6,271.7h0.7v0.7h-0.7zM97.6,271.8h0.7v0.7h-0.7zM97.3,272.0h0.7v0.7h-0.7zM99.2,267.9h0.7v0.7h-0.7zM98.0,274.4h0.7v0.7h-0.7zM96.0,273.5h0.7v0.7h-0.7zM97.6,271.8h0.7v0.7h-0.7zM98.4,272.6h0.7v0.7h-0.7zM98.4,272.4h0.7v0.7h-0.7zM95.8,270.3h0.7v0.7h-0.7zM100.4,270.2h0.7v0.7h-0.7zM96.9,271.3h0.7v0.7h-0.7zM90.4,279.2h0.7v0.7h-0.7zM94.8,272.0h0.7v0.7h-0.7zM98.4,272.0h0.7v0.7h-0.7zM99.5,274.1h0.7v0.7h-0.7zM97.4,270.1h0.7v0.7h-0.7zM99.1,269.5h0.7v0.7h-0.7zM97.8,271.0h0.7v0.7h-0.7zM98.6,271.5h0.7v0.7h-0.7zM97.8,271.6h0.7v0.7h-0.7zM95.8,272.3h0.7v0.7h-0.7zM96.5,273.3h0.7v0.7h-0.7zM93.0,273.0h0.7v0.7h-0.7zM94.0,277.4h0.7v0.7h-0.7zM96.4,275.0h0.7v0.7h-0.7zM100.0,270.3h0.7v0.7h-0.7zM95.4,273.7h0.7v0.7h-0.7zM94.7,275.4h0.7v0.7h-0.7zM99.5,271.4h0.7v0.7h-0.7zM95.5,275.8h0.7v0.7h-0.7zM98.8,274.4h0.7v0.7h-0.7zM97.8,272.1h0.7v0.7h-0.7zM96.6,272.8h0.7v0.7h-0.7zM94.4,273.9h0.7v0.7h-0.7zM95.9,275.1h0.7v0.7h-0.7zM96.2,272.0h0.7v0.7h-0.7zM99.1,269.9h0.7v0.7h-0.7zM92.6,277.5h0.7v0.7h-0.7zM97.3,270.4h0.7v0.7h-0.7zM96.7,274.6h0.7v0.7h-0.7zM95.8,274.4h0.7v0.7h-0.7zM100.0,271.1h0.7v0.7h-0.7zM97.6,272.9h0.7v0.7h-0.7zM96.3,273.7h0.7v0.7h-0.7zM95.2,275.8h0.7v0.7h-0.7zM94.6,280.4h0.7v0.7h-0.7zM94.5,275.8h0.7v0.7h-0.7zM95.5,276.1h0.7v0.7h-0.7zM95.3,275.6h0.7v0.7h-0.7zM97.1,270.1h0.7v0.7h-0.7zM97.7,274.2h0.7v0.7h-0.7zM95.8,272.9h0.7v0.7h-0.7zM97.7,273.7h0.7v0.7h-0.7zM96.7,271.9h0.7v0.7h-0.7zM97.1,274.5h0.7v0.7h-0.7zM98.2,270.1h0.7v0.7h-0.7zM96.0,273.2h0.7v0.7h-0.7zM96.6,275.7h0.7v0.7h-0.7zM100.9,273.7h0.7v0.7h-0.7zM97.8,276.0h0.7v0.7h-0.7zM92.8,274.1h0.7v0.7h-0.7zM99.1,270.5h0.7v0.7h-0.7zM96.3,275.5h0.7v0.7h-0.7zM99.2,267.8h0.7v0.7h-0.7zM97.2,276.0h0.7v0.7h-0.7zM93.8,273.8h0.7v0.7h-0.7zM97.1,271.8h0.7v0.7h-0.7zM98.6,273.3h0.7v0.7h-0.7zM96.0,277.8h0.7v0.7h-0.7zM96.9,269.6h0.7v0.7h-0.7zM98.9,269.3h0.7v0.7h-0.7zM94.6,272.6h0.7v0.7h-0.7zM96.3,274.4h0.7v0.7h-0.7zM97.4,273.4h0.7v0.7h-0.7zM96.9,270.0h0.7v0.7h-0.7zM93.4,277.1h0.7v0.7h-0.7zM93.9,275.6h0.7v0.7h-0.7zM101.3,267.9h0.7v0.7h-0.7zM97.6,269.5h0.7v0.7h-0.7zM93.0,274.5h0.7v0.7h-0.7zM98.4,273.8h0.7v0.7h-0.7zM91.6,278.1h0.7v0.7h-0.7zM95.4,273.4h0.7v0.7h-0.7zM93.7,276.4h0.7v0.7h-0.7zM92.5,276.0h0.7v0.7h-0.7zM97.0,276.9h0.7v0.7h-0.7zM95.3,275.3h0.7v0.7h-0.7zM95.7,271.1h0.7v0.7h-0.7zM96.0,276.9h0.7v0.7h-0.7zM94.3,273.4h0.7v0.7h-0.7zM97.9,271.0h0.7v0.7h-0.7zM95.8,279.6h0.7v0.7h-0.7zM92.9,274.9h0.7v0.7h-0.7zM100.2,268.0h0.7v0.7h-0.7zM97.8,276.0h0.7v0.7h-0.7zM99.5,271.9h0.7v0.7h-0.7zM97.9,272.9h0.7v0.7h-0.7zM96.9,271.3h0.7v0.7h-0.7zM97.4,271.5h0.7v0.7h-0.7zM97.2,269.9h0.7v0.7h-0.7zM94.5,272.9h0.7v0.7h-0.7zM96.5,271.7h0.7v0.7h-0.7zM98.5,273.6h0.7v0.7h-0.7zM100.0,272.7h0.7v0.7h-0.7zM98.7,267.5h0.7v0.7h-0.7zM92.1,273.1h0.7v0.7h-0.7zM97.5,273.0h0.7v0.7h-0.7zM101.0,270.8h0.7v0.7h-0.7zM93.3,278.4h0.7v0.7h-0.7zM97.5,274.2h0.7v0.7h-0.7zM94.2,275.7h0.7v0.7h-0.7zM99.9,274.2h0.7v0.7h-0.7zM95.9,274.0h0.7v0.7h-0.7zM94.3,268.6h0.7v0.7h-0.7zM96.8,273.1h0.7v0.7h-0.7zM96.4,273.1h0.7v0.7h-0.7zM95.4,275.9h0.7v0.7h-0.7zM95.9,273.9h0.7v0.7h-0.7zM97.3,272.7h0.7v0.7h-0.7zM99.2,272.6h0.7v0.7h-0.7zM96.0,274.2h0.7v0.7h-0.7zM93.9,279.7h0.7v0.7h-0.7zM97.5,269.7h0.7v0.7h-0.7zM96.0,272.9h0.7v0.7h-0.7zM95.1,277.7h0.7v0.7h-0.7zM96.3,276.9h0.7v0.7h-0.7zM92.5,274.4h0.7v0.7h-0.7zM97.7,268.9h0.7v0.7h-0.7zM95.8,275.1h0.7v0.7h-0.7zM94.8,279.6h0.7v0.7h-0.7zM93.2,276.6h0.7v0.7h-0.7zM97.9,274.2h0.7v0.7h-0.7zM97.6,270.0h0.7v0.7h-0.7zM95.9,280.3h0.7v0.7h-0.7zM99.6,268.7h0.7v0.7h-0.7zM96.1,268.5h0.7v0.7h-0.7zM98.7,271.7h0.7v0.7h-0.7zM95.7,275.4h0.7v0.7h-0.7zM93.1,276.2h0.7v0.7h-0.7zM98.9,274.0h0.7v0.7h-0.7zM94.1,274.7h0.7v0.7h-0.7zM98.8,270.1h0.7v0.7h-0.7zM96.6,274.2h0.7v0.7h-0.7zM97.0,273.0h0.7v0.7h-0.7zM97.6,271.6h0.7v0.7h-0.7zM96.1,270.5h0.7v0.7h-0.7zM95.3,273.0h0.7v0.7h-0.7zM98.7,271.7h0.7v0.7h-0.7zM98.3,275.9h0.7v0.7h-0.7zM92.9,277.6h0.7v0.7h-0.7zM96.2,272.0h0.7v0.7h-0.7zM101.0,271.0h0.7v0.7h-0.7zM94.6,274.7h0.7v0.7h-0.7zM94.2,278.8h0.7v0.7h-0.7zM94.5,275.1h0.7v0.7h-0.7zM101.7,267.5h0.7v0.7h-0.7zM96.0,270.1h0.7v0.7h-0.7zM96.3,275.4h0.7v0.7h-0.7zM98.2,270.8h0.7v0.7h-0.7zM95.7,274.7h0.7v0.7h-0.7zM99.5,273.1h0.7v0.7h-0.7zM98.6,273.6h0.7v0.7h-0.7zM96.3,272.9h0.7v0.7h-0.7zM93.4,276.3h0.7v0.7h-0.7zM96.5,274.8h0.7v0.7h-0.7zM94.4,276.5h0.7v0.7h-0.7zM97.1,267.7h0.7v0.7h-0.7zM98.3,267.6h0.7v0.7h-0.7zM96.3,272.7h0.7v0.7h-0.7zM97.3,271.9h0.7v0.7h-0.7zM97.8,271.3h0.7v0.7h-0.7zM99.1,275.5h0.7v0.7h-0.7zM96.7,272.4h0.7v0.7h-0.7zM96.0,271.8h0.7v0.7h-0.7zM93.4,274.4h0.7v0.7h-0.7zM90.7,277.5h0.7v0.7h-0.7zM97.9,274.0h0.7v0.7h-0.7zM96.5,275.5h0.7v0.7h-0.7zM100.4,270.0h0.7v0.7h-0.7zM97.5,276.3h0.7v0.7h-0.7zM96.7,273.5h0.7v0.7h-0.7zM100.2,269.6h0.7v0.7h-0.7zM99.0,270.9h0.7v0.7h-0.7zM92.1,277.6h0.7v0.7h-0.7zM95.4,273.7h0.7v0.7h-0.7zM95.1,270.2h0.7v0.7h-0.7zM97.7,272.6h0.7v0.7h-0.7zM96.2,278.3h0.7v0.7h-0.7zM98.0,273.9h0.7v0.7h-0.7zM95.5,272.4h0.7v0.7h-0.7zM98.5,272.9h0.7v0.7h-0.7zM93.0,273.8h0.7v0.7h-0.7zM95.1,274.6h0.7v0.7h-0.7zM95.6,275.3h0.7v0.7h-0.7zM97.1,268.8h0.7v0.7h-0.7zM96.7,273.2h0.7v0.7h-0.7zM94.8,272.8h0.7v0.7h-0.7zM90.9,275.2h0.7v0.7h-0.7zM93.8,276.9h0.7v0.7h-0.7zM99.7,273.5h0.7v0.7h-0.7zM96.8,273.2h0.7v0.7h-0.7zM98.2,272.5h0.7v0.7h-0.7zM97.4,276.3h0.7v0.7h-0.7zM94.4,276.7h0.7v0.7h-0.7zM97.1,271.4h0.7v0.7h-0.7zM97.3,271.0h0.7v0.7h-0.7zM98.0,272.2h0.7v0.7h-0.7zM95.3,273.2h0.7v0.7h-0.7zM93.1,272.2h0.7v0.7h-0.7zM93.7,271.1h0.7v0.7h-0.7zM98.0,272.9h0.7v0.7h-0.7zM94.7,272.9h0.7v0.7h-0.7zM96.7,272.7h0.7v0.7h-0.7zM97.8,271.8h0.7v0.7h-0.7zM96.6,270.7h0.7v0.7h-0.7zM98.9,271.0h0.7v0.7h-0.7zM96.3,269.4h0.7v0.7h-0.7zM94.1,274.7h0.7v0.7h-0.7zM100.0,269.8h0.7v0.7h-0.7zM96.9,271.0h0.7v0.7h-0.7zM98.9,271.4h0.7v0.7h-0.7zM96.6,275.8h0.7v0.7h-0.7zM100.9,273.3h0.7v0.7h-0.7zM96.2,270.5h0.7v0.7h-0.7zM94.9,270.7h0.7v0.7h-0.7zM97.4,270.6h0.7v0.7h-0.7zM98.0,274.8h0.7v0.7h-0.7zM95.4,274.2h0.7v0.7h-0.7zM94.9,272.4h0.7v0.7h-0.7zM94.1,277.5h0.7v0.7h-0.7zM95.0,274.2h0.7v0.7h-0.7zM96.7,270.3h0.7v0.7h-0.7zM97.3,270.5h0.7v0.7h-0.7zM94.1,275.0h0.7v0.7h-0.7zM96.5,275.7h0.7v0.7h-0.7zM96.9,275.1h0.7v0.7h-0.7zM101.0,267.5h0.7v0.7h-0.7zM99.1,273.4h0.7v0.7h-0.7zM95.4,274.1h0.7v0.7h-0.7zM96.7,273.8h0.7v0.7h-0.7zM92.8,277.9h0.7v0.7h-0.7zM95.3,273.8h0.7v0.7h-0.7zM96.5,274.6h0.7v0.7h-0.7zM96.0,273.9h0.7v0.7h-0.7zM95.1,278.6h0.7v0.7h-0.7zM94.9,274.4h0.7v0.7h-0.7zM95.9,274.9h0.7v0.7h-0.7zM95.5,276.6h0.7v0.7h-0.7zM98.4,272.4h0.7v0.7h-0.7zM93.8,279.2h0.7v0.7h-0.7zM97.9,270.4h0.7v0.7h-0.7zM96.3,277.4h0.7v0.7h-0.7zM100.6,270.7h0.7v0.7h-0.7zM95.3,279.7h0.7v0.7h-0.7zM98.8,270.4h0.7v0.7h-0.7zM95.0,278.2h0.7v0.7h-0.7zM95.9,272.2h0.7v0.7h-0.7zM97.2,274.3h0.7v0.7h-0.7zM98.0,271.1h0.7v0.7h-0.7zM95.8,278.5h0.7v0.7h-0.7zM97.8,275.6h0.7v0.7h-0.7zM95.9,273.0h0.7v0.7h-0.7zM96.3,271.2h0.7v0.7h-0.7zM96.8,272.3h0.7v0.7h-0.7zM93.9,280.4h0.7v0.7h-0.7zM91.1,279.1h0.7v0.7h-0.7zM94.6,275.4h0.7v0.7h-0.7zM99.8,270.5h0.7v0.7h-0.7zM98.6,272.7h0.7v0.7h-0.7zM91.9,280.9h0.7v0.7h-0.7zM95.8,272.9h0.7v0.7h-0.7zM98.9,269.5h0.7v0.7h-0.7zM98.2,271.7h0.7v0.7h-0.7zM97.5,273.1h0.7v0.7h-0.7zM97.1,276.1h0.7v0.7h-0.7zM97.5,270.0h0.7v0.7h-0.7zM95.0,278.3h0.7v0.7h-0.7zM101.0,274.0h0.7v0.7h-0.7zM101.0,265.8h0.7v0.7h-0.7zM97.7,273.2h0.7v0.7h-0.7zM98.9,270.0h0.7v0.7h-0.7zM97.6,275.2h0.7v0.7h-0.7zM99.1,267.9h0.7v0.7h-0.7zM98.9,272.7h0.7v0.7h-0.7zM95.2,280.2h0.7v0.7h-0.7zM98.1,271.8h0.7v0.7h-0.7zM96.8,273.0h0.7v0.7h-0.7zM98.0,271.7h0.7v0.7h-0.7zM97.4,273.7h0.7v0.7h-0.7zM100.1,275.2h0.7v0.7h-0.7zM98.7,268.5h0.7v0.7h-0.7zM97.8,272.1h0.7v0.7h-0.7zM94.8,275.9h0.7v0.7h-0.7zM91.5,282.0h0.7v0.7h-0.7zM93.8,277.4h0.7v0.7h-0.7zM101.0,273.8h0.7v0.7h-0.7zM96.1,270.0h0.7v0.7h-0.7zM98.0,271.8h0.7v0.7h-0.7zM93.6,277.1h0.7v0.7h-0.7zM97.3,273.1h0.7v0.7h-0.7zM94.0,275.0h0.7v0.7h-0.7zM95.2,273.9h0.7v0.7h-0.7zM96.3,275.2h0.7v0.7h-0.7zM97.0,277.9h0.7v0.7h-0.7zM96.3,271.5h0.7v0.7h-0.7zM96.3,274.1h0.7v0.7h-0.7zM97.4,274.6h0.7v0.7h-0.7zM97.3,275.0h0.7v0.7h-0.7zM96.2,273.9h0.7v0.7h-0.7zM98.8,272.2h0.7v0.7h-0.7zM97.9,275.0h0.7v0.7h-0.7zM94.6,275.1h0.7v0.7h-0.7zM95.9,274.4h0.7v0.7h-0.7zM95.0,272.3h0.7v0.7h-0.7zM96.2,274.4h0.7v0.7h-0.7zM99.0,270.8h0.7v0.7h-0.7zM94.4,273.8h0.7v0.7h-0.7zM98.8,271.0h0.7v0.7h-0.7zM95.5,276.0h0.7v0.7h-0.7zM98.3,268.0h0.7v0.7h-0.7z" fill="#000" opacity="0.8"/>
<path d="M103.8,282.1h0.7v0.7h-0.7zM107.7,287.1h0.7v0.7h-0.7zM110.0,276.1h0.7v0.7h-0.7zM107.0,284.5h0.7v0.7h-0.7zM108.1,277.6h0.7v0.7h-0.7zM111.5,281.4h0.7v0.7h-0.7zM108.7,284.9h0.7v0.7h-0.7zM108.2,282.1h0.7v0.7h-0.7zM105.0,284.7h0.7v0.7h-0.7zM110.2,276.7h0.7v0.7h-0.7zM107.1,277.5h0.7v0.7h-0.7zM106.0,274.6h0.7v0.7h-0.7zM104.9,279.8h0.7v0.7h-0.7zM108.6,275.6h0.7v0.7h-0.7zM111.6,274.2h0.7v0.7h-0.7zM102.8,283.6h0.7v0.7h-0.7zM107.8,277.9h0.7v0.7h-0.7zM108.3,278.9h0.7v0.7h-0.7zM105.2,281.3h0.7v0.7h-0.7zM101.2,281.9h0.7v0.7h-0.7zM112.1,275.6h0.7v0.7h-0.7zM109.3,278.2h0.7v0.7h-0.7zM108.8,288.1h0.7v0.7h-0.7zM108.3,273.5h0.7v0.7h-0.7zM107.5,275.4h0.7v0.7h-0.7zM102.2,279.5h0.7v0.7h-0.7zM106.4,282.2h0.7v0.7h-0.7zM100.4,286.2h0.7v0.7h-0.7zM105.1,283.0h0.7v0.7h-0.7zM111.2,277.2h0.7v0.7h-0.7zM102.2,283.2h0.7v0.7h-0.7zM104.9,284.1h0.7v0.7h-0.7zM107.3,277.4h0.7v0.7h-0.7zM106.3,278.9h0.7v0.7h-0.7zM101.5,277.9h0.7v0.7h-0.7zM106.0,285.1h0.7v0.7h-0.7zM109.7,277.4h0.7v0.7h-0.7zM109.4,279.4h0.7v0.7h-0.7zM106.1,286.0h0.7v0.7h-0.7zM117.7,265.2h0.7v0.7h-0.7zM108.9,281.0h0.7v0.7h-0.7zM109.0,275.5h0.7v0.7h-0.7zM109.4,279.3h0.7v0.7h-0.7zM106.7,284.1h0.7v0.7h-0.7zM109.0,282.2h0.7v0.7h-0.7zM106.5,286.5h0.7v0.7h-0.7zM110.3,278.9h0.7v0.7h-0.7zM109.5,276.9h0.7v0.7h-0.7zM100.6,286.0h0.7v0.7h-0.7zM104.9,271.4h0.7v0.7h-0.7zM103.4,289.8h0.7v0.7h-0.7zM107.0,282.3h0.7v0.7h-0.7zM105.7,277.9h0.7v0.7h-0.7zM104.7,279.6h0.7v0.7h-0.7zM109.8,284.4h0.7v0.7h-0.7zM100.1,290.5h0.7v0.7h-0.7zM106.3,276.3h0.7v0.7h-0.7zM108.6,269.1h0.7v0.7h-0.7zM110.2,279.5h0.7v0.7h-0.7zM102.5,284.8h0.7v0.7h-0.7zM105.5,282.5h0.7v0.7h-0.7zM109.4,281.6h0.7v0.7h-0.7zM107.4,285.5h0.7v0.7h-0.7zM107.4,281.4h0.7v0.7h-0.7zM108.3,281.5h0.7v0.7h-0.7zM108.8,279.6h0.7v0.7h-0.7zM110.4,281.8h0.7v0.7h-0.7zM108.8,274.2h0.7v0.7h-0.7zM107.1,280.0h0.7v0.7h-0.7zM115.2,269.0h0.7v0.7h-0.7zM100.1,285.7h0.7v0.7h-0.7zM113.8,273.9h0.7v0.7h-0.7zM111.3,271.8h0.7v0.7h-0.7zM106.7,278.7h0.7v0.7h-0.7zM104.1,280.4h0.7v0.7h-0.7zM109.8,270.5h0.7v0.7h-0.7zM108.4,278.8h0.7v0.7h-0.7zM109.1,285.4h0.7v0.7h-0.7zM106.1,282.2h0.7v0.7h-0.7zM103.6,280.8h0.7v0.7h-0.7zM107.4,274.9h0.7v0.7h-0.7zM113.0,272.1h0.7v0.7h-0.7zM106.6,272.5h0.7v0.7h-0.7zM113.3,275.7h0.7v0.7h-0.7zM105.2,286.3h0.7v0.7h-0.7zM101.6,280.9h0.7v0.7h-0.7zM110.3,274.9h0.7v0.7h-0.7zM106.6,272.3h0.7v0.7h-0.7zM111.0,276.2h0.7v0.7h-0.7zM101.6,285.9h0.7v0.7h-0.7zM101.4,285.1h0.7v0.7h-0.7zM107.1,279.8h0.7v0.7h-0.7zM112.4,279.1h0.7v0.7h-0.7zM105.8,283.5h0.7v0.7h-0.7zM103.4,284.2h0.7v0.7h-0.7zM109.9,283.1h0.7v0.7h-0.7zM111.1,283.6h0.7v0.7h-0.7zM107.1,272.5h0.7v0.7h-0.7zM107.6,277.8h0.7v0.7h-0.7zM112.1,278.3h0.7v0.7h-0.7zM104.3,280.4h0.7v0.7h-0.7zM110.1,276.4h0.7v0.7h-0.7zM111.3,273.4h0.7v0.7h-0.7zM109.8,274.1h0.7v0.7h-0.7zM103.5,279.3h0.7v0.7h-0.7zM107.6,276.7h0.7v0.7h-0.7zM109.0,280.9h0.7v0.7h-0.7zM104.4,277.6h0.7v0.7h-0.7zM106.3,276.3h0.7v0.7h-0.7zM110.3,279.3h0.7v0.7h-0.7zM108.1,285.4h0.7v0.7h-0.7zM105.4,273.4h0.7v0.7h-0.7zM109.7,274.4h0.7v0.7h-0.7zM106.1,275.1h0.7v0.7h-0.7zM110.6,280.4h0.7v0.7h-0.7zM109.2,278.3h0.7v0.7h-0.7zM101.4,289.8h0.7v0.7h-0.7zM102.2,282.3h0.7v0.7h-0.7zM109.1,275.0h0.7v0.7h-0.7zM105.3,285.5h0.7v0.7h-0.7zM110.2,277.8h0.7v0.7h-0.7zM107.5,289.3h0.7v0.7h-0.7zM111.0,275.9h0.7v0.7h-0.7zM110.5,277.6h0.7v0.7h-0.7zM102.3,284.4h0.7v0.7h-0.7zM98.0,289.2h0.7v0.7h-0.7zM102.9,278.9h0.7v0.7h-0.7zM112.4,278.8h0.7v0.7h-0.7zM109.0,288.8h0.7v0.7h-0.7zM105.9,277.1h0.7v0.7h-0.7zM116.7,277.8h0.7v0.7h-0.7zM102.8,284.3h0.7v0.7h-0.7zM107.3,279.9h0.7v0.7h-0.7zM103.8,284.3h0.7v0.7h-0.7zM109.8,269.7h0.7v0.7h-0.7zM106.4,282.9h0.7v0.7h-0.7zM105.8,275.5h0.7v0.7h-0.7zM106.1,287.0h0.7v0.7h-0.7zM108.2,274.7h0.7v0.7h-0.7zM102.5,289.3h0.7v0.7h-0.7zM104.0,286.9h0.7v0.7h-0.7zM106.8,278.6h0.7v0.7h-0.7zM107.3,283.6h0.7v0.7h-0.7zM113.7,277.1h0.7v0.7h-0.7zM107.1,277.2h0.7v0.7h-0.7zM102.9,285.4h0.7v0.7h-0.7zM108.6,279.2h0.7v0.7h-0.7zM101.5,283.2h0.7v0.7h-0.7zM104.0,272.3h0.7v0.7h-0.7zM106.9,283.1h0.7v0.7h-0.7zM106.8,283.3h0.7v0.7h-0.7zM110.4,277.0h0.7v0.7h-0.7zM107.8,273.1h0.7v0.7h-0.7zM110.7,279.0h0.7v0.7h-0.7zM117.7,275.9h0.7v0.7h-0.7zM105.5,274.1h0.7v0.7h-0.7zM105.1,279.5h0.7v0.7h-0.7zM108.0,284.1h0.7v0.7h-0.7zM111.1,274.7h0.7v0.7h-0.7zM109.4,276.9h0.7v0.7h-0.7zM108.3,276.8h0.7v0.7h-0.7zM110.2,282.8h0.7v0.7h-0.7zM110.3,278.1h0.7v0.7h-0.7zM101.9,287.0h0.7v0.7h-0.7zM104.2,285.1h0.7v0.7h-0.7zM107.8,281.9h0.7v0.7h-0.7zM111.7,279.8h0.7v0.7h-0.7zM104.8,286.5h0.7v0.7h-0.7zM107.7,279.5h0.7v0.7h-0.7zM107.5,283.2h0.7v0.7h-0.7zM112.4,273.0h0.7v0.7h-0.7zM105.5,281.9h0.7v0.7h-0.7zM105.3,273.8h0.7v0.7h-0.7zM105.1,280.7h0.7v0.7h-0.7zM114.7,280.1h0.7v0.7h-0.7zM106.3,269.7h0.7v0.7h-0.7zM101.5,281.6h0.7v0.7h-0.7zM108.8,276.5h0.7v0.7h-0.7zM112.5,275.5h0.7v0.7h-0.7zM107.8,279.6h0.7v0.7h-0.7zM106.7,274.4h0.7v0.7h-0.7zM112.6,279.9h0.7v0.7h-0.7zM109.0,279.3h0.7v0.7h-0.7zM104.2,280.7h0.7v0.7h-0.7zM104.4,282.7h0.7v0.7h-0.7zM107.2,267.9h0.7v0.7h-0.7zM110.6,284.6h0.7v0.7h-0.7zM108.6,283.9h0.7v0.7h-0.7zM103.2,270.0h0.7v0.7h-0.7zM105.6,289.7h0.7v0.7h-0.7zM111.9,270.8h0.7v0.7h-0.7zM107.3,279.0h0.7v0.7h-0.7zM111.0,274.0h0.7v0.7h-0.7zM102.6,281.6h0.7v0.7h-0.7zM103.1,279.7h0.7v0.7h-0.7zM105.4,282.7h0.7v0.7h-0.7zM106.5,284.7h0.7v0.7h-0.7zM108.8,269.5h0.7v0.7h-0.7zM108.7,280.4h0.7v0.7h-0.7zM101.8,284.6h0.7v0.7h-0.7zM113.6,281.2h0.7v0.7h-0.7zM105.0,279.0h0.7v0.7h-0.7zM112.8,270.4h0.7v0.7h-0.7zM103.5,283.5h0.7v0.7h-0.7zM108.2,285.2h0.7v0.7h-0.7zM105.8,288.0h0.7v0.7h-0.7zM106.4,277.4h0.7v0.7h-0.7zM102.0,283.1h0.7v0.7h-0.7zM105.4,288.5h0.7v0.7h-0.7zM103.8,276.2h0.7v0.7h-0.7zM105.9,273.4h0.7v0.7h-0.7zM111.2,274.3h0.7v0.7h-0.7zM99.6,290.5h0.7v0.7h-0.7zM114.5,277.3h0.7v0.7h-0.7zM108.1,280.4h0.7v0.7h-0.7zM113.0,277.5h0.7v0.7h-0.7zM109.1,280.8h0.7v0.7h-0.7zM109.3,285.7h0.7v0.7h-0.7zM105.1,281.2h0.7v0.7h-0.7zM106.0,282.5h0.7v0.7h-0.7zM110.2,269.5h0.7v0.7h-0.7zM110.7,271.2h0.7v0.7h-0.7zM107.8,276.6h0.7v0.7h-0.7zM112.7,271.2h0.7v0.7h-0.7zM109.6,281.6h0.7v0.7h-0.7zM109.1,272.5h0.7v0.7h-0.7zM110.2,276.3h0.7v0.7h-0.7zM110.5,276.2h0.7v0.7h-0.7zM111.2,273.9h0.7v0.7h-0.7zM107.0,280.2h0.7v0.7h-0.7zM107.7,278.3h0.7v0.7h-0.7zM107.7,285.6h0.7v0.7h-0.7zM105.7,284.4h0.7v0.7h-0.7zM107.3,276.0h0.7v0.7h-0.7zM107.9,278.0h0.7v0.7h-0.7zM106.0,275.0h0.7v0.7h-0.7zM111.8,274.6h0.7v0.7h-0.7zM109.0,275.6h0.7v0.7h-0.7zM109.2,277.3h0.7v0.7h-0.7zM110.8,279.1h0.7v0.7h-0.7zM104.3,279.1h0.7v0.7h-0.7zM104.8,278.1h0.7v0.7h-0.7zM110.5,278.1h0.7v0.7h-0.7zM112.1,272.4h0.7v0.7h-0.7zM110.1,279.9h0.7v0.7h-0.7zM109.7,280.3h0.7v0.7h-0.7zM110.1,281.1h0.7v0.7h-0.7zM105.2,279.7h0.7v0.7h-0.7zM107.2,280.2h0.7v0.7h-0.7zM101.5,287.8h0.7v0.7h-0.7zM114.1,272.4h0.7v0.7h-0.7zM104.9,274.1h0.7v0.7h-0.7zM107.9,273.5h0.7v0.7h-0.7zM113.7,279.3h0.7v0.7h-0.7zM109.5,278.6h0.7v0.7h-0.7zM105.0,281.1h0.7v0.7h-0.7zM116.1,271.8h0.7v0.7h-0.7zM106.6,275.7h0.7v0.7h-0.7zM104.1,281.2h0.7v0.7h-0.7zM111.1,277.2h0.7v0.7h-0.7zM109.1,276.8h0.7v0.7h-0.7zM112.0,278.7h0.7v0.7h-0.7zM104.6,267.7h0.7v0.7h-0.7zM106.5,279.3h0.7v0.7h-0.7zM101.0,294.4h0.7v0.7h-0.7zM109.1,280.6h0.7v0.7h-0.7zM108.3,281.4h0.7v0.7h-0.7zM108.9,274.1h0.7v0.7h-0.7zM101.2,285.8h0.7v0.7h-0.7zM109.3,277.6h0.7v0.7h-0.7zM105.9,283.3h0.7v0.7h-0.7zM107.9,283.6h0.7v0.7h-0.7zM105.5,279.2h0.7v0.7h-0.7zM105.0,281.3h0.7v0.7h-0.7zM111.8,277.8h0.7v0.7h-0.7zM103.7,280.8h0.7v0.7h-0.7zM109.7,269.2h0.7v0.7h-0.7zM108.3,281.4h0.7v0.7h-0.7zM112.4,281.4h0.7v0.7h-0.7zM105.4,277.7h0.7v0.7h-0.7zM110.0,279.8h0.7v0.7h-0.7zM107.3,282.1h0.7v0.7h-0.7zM106.9,287.5h0.7v0.7h-0.7zM102.8,287.4h0.7v0.7h-0.7zM107.2,282.0h0.7v0.7h-0.7zM111.7,282.5h0.7v0.7h-0.7zM107.5,283.1h0.7v0.7h-0.7zM109.6,273.6h0.7v0.7h-0.7zM106.6,283.1h0.7v0.7h-0.7zM111.3,275.7h0.7v0.7h-0.7zM110.1,281.2h0.7v0.7h-0.7zM108.3,284.9h0.7v0.7h-0.7zM108.0,275.1h0.7v0.7h-0.7zM112.4,288.4h0.7v0.7h-0.7zM107.3,285.2h0.7v0.7h-0.7zM113.3,281.2h0.7v0.7h-0.7zM106.7,282.8h0.7v0.7h-0.7zM105.4,282.9h0.7v0.7h-0.7zM106.3,285.0h0.7v0.7h-0.7zM104.5,278.9h0.7v0.7h-0.7zM109.2,274.8h0.7v0.7h-0.7zM110.6,268.2h0.7v0.7h-0.7zM107.4,280.6h0.7v0.7h-0.7zM97.6,290.0h0.7v0.7h-0.7zM107.0,279.0h0.7v0.7h-0.7zM106.1,281.7h0.7v0.7h-0.7zM109.8,276.4h0.7v0.7h-0.7zM113.3,281.1h0.7v0.7h-0.7zM109.4,278.9h0.7v0.7h-0.7zM106.4,285.7h0.7v0.7h-0.7zM107.7,279.3h0.7v0.7h-0.7zM105.9,278.3h0.7v0.7h-0.7zM111.2,282.4h0.7v0.7h-0.7zM102.0,287.2h0.7v0.7h-0.7zM105.5,284.9h0.7v0.7h-0.7zM107.2,279.3h0.7v0.7h-0.7zM103.3,284.0h0.7v0.7h-0.7zM112.5,277.0h0.7v0.7h-0.7zM110.4,270.5h0.7v0.7h-0.7zM106.3,282.6h0.7v0.7h-0.7zM112.6,280.8h0.7v0.7h-0.7zM105.2,287.8h0.7v0.7h-0.7zM105.0,285.8h0.7v0.7h-0.7zM111.2,280.0h0.7v0.7h-0.7zM101.5,286.6h0.7v0.7h-0.7zM108.9,290.9h0.7v0.7h-0.7zM102.5,284.6h0.7v0.7h-0.7zM104.3,284.0h0.7v0.7h-0.7zM104.6,287.3h0.7v0.7h-0.7zM105.6,279.4h0.7v0.7h-0.7zM108.1,280.5h0.7v0.7h-0.7zM109.3,272.7h0.7v0.7h-0.7zM112.3,276.5h0.7v0.7h-0.7zM105.9,281.0h0.7v0.7h-0.7zM105.3,286.3h0.7v0.7h-0.7zM107.1,278.9h0.7v0.7h-0.7zM105.0,286.9h0.7v0.7h-0.7zM110.1,270.6h0.7v0.7h-0.7zM102.6,276.5h0.7v0.7h-0.7zM108.3,286.8h0.7v0.7h-0.7zM112.2,276.7h0.7v0.7h-0.7zM106.9,283.4h0.7v0.7h-0.7zM114.0,277.7h0.7v0.7h-0.7zM104.9,281.6h0.7v0.7h-0.7zM105.9,284.8h0.7v0.7h-0.7zM111.3,276.6h0.7v0.7h-0.7zM102.0,280.4h0.7v0.7h-0.7zM108.6,280.6h0.7v0.7h-0.7zM108.1,286.4h0.7v0.7h-0.7zM107.8,281.5h0.7v0.7h-0.7zM109.8,274.3h0.7v0.7h-0.7zM111.2,277.5h0.7v0.7h-0.7zM103.3,286.2h0.7v0.7h-0.7zM113.4,269.0h0.7v0.7h-0.7zM104.5,285.6h0.7v0.7h-0.7zM112.5,273.5h0.7v0.7h-0.7zM109.6,276.0h0.7v0.7h-0.7zM109.7,280.1h0.7v0.7h-0.7zM113.7,274.4h0.7v0.7h-0.7zM111.9,284.3h0.7v0.7h-0.7zM104.7,272.5h0.7v0.7h-0.7zM104.3,278.1h0.7v0.7h-0.7zM102.7,278.2h0.7v0.7h-0.7zM105.8,284.6h0.7v0.7h-0.7zM105.6,283.8h0.7v0.7h-0.7zM113.3,274.0h0.7v0.7h-0.7zM108.2,288.6h0.7v0.7h-0.7zM109.1,277.7h0.7v0.7h-0.7zM104.8,282.7h0.7v0.7h-0.7zM107.7,280.6h0.7v0.7h-0.7zM100.9,283.2h0.7v0.7h-0.7zM104.1,288.4h0.7v0.7h-0.7zM106.0,280.4h0.7v0.7h-0.7zM106.6,286.9h0.7v0.7h-0.7zM109.7,282.1h0.7v0.7h-0.7zM110.8,278.4h0.7v0.7h-0.7zM108.7,275.7h0.7v0.7h-0.7zM101.7,289.7h0.7v0.7h-0.7zM108.8,276.4h0.7v0.7h-0.7zM108.3,282.3h0.7v0.7h-0.7zM107.3,281.3h0.7v0.7h-0.7zM113.6,283.8h0.7v0.7h-0.7zM112.1,272.7h0.7v0.7h-0.7zM103.2,284.6h0.7v0.7h-0.7zM107.5,284.9h0.7v0.7h-0.7zM118.6,268.8h0.7v0.7h-0.7zM106.2,287.2h0.7v0.7h-0.7zM109.0,276.6h0.7v0.7h-0.7zM107.4,276.7h0.7v0.7h-0.7zM99.8,284.5h0.7v0.7h-0.7zM111.4,268.3h0.7v0.7h-0.7zM103.3,284.0h0.7v0.7h-0.7zM104.1,284.3h0.7v0.7h-0.7zM107.6,280.3h0.7v0.7h-0.7zM108.1,283.5h0.7v0.7h-0.7zM105.6,278.9h0.7v0.7h-0.7zM113.9,274.6h0.7v0.7h-0.7zM109.2,284.1h0.7v0.7h-0.7zM110.6,278.0h0.7v0.7h-0.7zM108.4,287.4h0.7v0.7h-0.7zM110.8,282.3h0.7v0.7h-0.7zM110.0,273.8h0.7v0.7h-0.7zM106.7,274.3h0.7v0.7h-0.7zM109.6,282.6h0.7v0.7h-0.7zM108.1,276.5h0.7v0.7h-0.7zM107.6,277.3h0.7v0.7h-0.7zM108.0,286.5h0.7v0.7h-0.7zM112.2,273.4h0.7v0.7h-0.7zM105.3,282.7h0.7v0.7h-0.7zM111.1,271.4h0.7v0.7h-0.7zM111.5,274.6h0.7v0.7h-0.7zM110.0,284.4h0.7v0.7h-0.7zM109.3,278.1h0.7v0.7h-0.7zM109.4,279.5h0.7v0.7h-0.7zM107.8,277.0h0.7v0.7h-0.7zM110.2,274.9h0.7v0.7h-0.7zM111.4,283.3h0.7v0.7h-0.7zM106.0,282.7h0.7v0.7h-0.7zM107.4,287.4h0.7v0.7h-0.7zM109.0,278.7h0.7v0.7h-0.7zM107.7,278.8h0.7v0.7h-0.7zM106.8,280.9h0.7v0.7h-0.7zM110.0,277.6h0.7v0.7h-0.7zM104.2,275.7h0.7v0.7h-0.7zM111.6,278.2h0.7v0.7h-0.7zM108.1,282.8h0.7v0.7h-0.7zM105.0,280.6h0.7v0.7h-0.7zM107.8,270.7h0.7v0.7h-0.7zM106.8,279.9h0.7v0.7h-0.7zM105.7,280.3h0.7v0.7h-0.7zM100.2,291.4h0.7v0.7h-0.7zM103.3,287.3h0.7v0.7h-0.7zM109.0,289.5h0.7v0.7h-0.7zM106.8,291.7h0.7v0.7h-0.7zM102.5,281.8h0.7v0.7h-0.7zM112.1,271.7h0.7v0.7h-0.7zM102.0,284.0h0.7v0.7h-0.7zM104.8,286.9h0.7v0.7h-0.7zM110.7,274.8h0.7v0.7h-0.7zM100.5,292.4h0.7v0.7h-0.7zM107.6,282.6h0.7v0.7h-0.7zM111.2,279.6h0.7v0.7h-0.7zM105.5,289.2h0.7v0.7h-0.7zM104.2,289.1h0.7v0.7h-0.7zM103.0,283.7h0.7v0.7h-0.7zM104.4,286.6h0.7v0.7h-0.7zM111.5,270.7h0.7v0.7h-0.7zM108.3,271.0h0.7v0.7h-0.7zM107.4,285.1h0.7v0.7h-0.7zM104.3,271.7h0.7v0.7h-0.7zM103.0,281.6h0.7v0.7h-0.7zM107.5,284.4h0.7v0.7h-0.7zM111.6,284.1h0.7v0.7h-0.7zM105.4,283.5h0.7v0.7h-0.7zM108.6,277.0h0.7v0.7h-0.7zM103.4,279.9h0.7v0.7h-0.7zM108.3,277.8h0.7v0.7h-0.7zM107.9,269.4h0.7v0.7h-0.7zM103.2,279.4h0.7v0.7h-0.7zM105.8,286.6h0.7v0.7h-0.7zM105.1,280.3h0.7v0.7h-0.7zM110.5,273.9h0.7v0.7h-0.7zM109.1,282.6h0.7v0.7h-0.7zM115.3,265.1h0.7v0.7h-0.7zM104.0,283.0h0.7v0.7h-0.7zM105.1,280.9h0.7v0.7h-0.7zM105.2,275.1h0.7v0.7h-0.7zM106.0,283.6h0.7v0.7h-0.7zM107.5,277.1h0.7v0.7h-0.7zM110.3,282.9h0.7v0.7h-0.7zM104.4,287.7h0.7v0.7h-0.7zM111.0,275.7h0.7v0.7h-0.7zM115.4,272.0h0.7v0.7h-0.7zM104.3,283.4h0.7v0.7h-0.7zM106.2,277.8h0.7v0.7h-0.7zM104.3,280.8h0.7v0.7h-0.7zM105.7,279.2h0.7v0.7h-0.7zM111.8,269.7h0.7v0.7h-0.7zM106.3,276.3h0.7v0.7h-0.7zM109.3,271.9h0.7v0.7h-0.7zM106.7,275.9h0.7v0.7h-0.7zM108.4,275.5h0.7v0.7h-0.7zM111.8,275.3h0.7v0.7h-0.7zM108.3,281.8h0.7v0.7h-0.7zM108.5,274.1h0.7v0.7h-0.7zM107.0,280.3h0.7v0.7h-0.7zM107.6,275.3h0.7v0.7h-0.7zM108.3,283.7h0.7v0.7h-0.7zM103.0,287.9h0.7v0.7h-0.7zM107.7,284.5h0.7v0.7h-0.7zM107.2,281.4h0.7v0.7h-0.7zM109.6,280.8h0.7v0.7h-0.7zM103.4,283.7h0.7v0.7h-0.7zM106.2,277.3h0.7v0.7h-0.7zM105.9,280.3h0.7v0.7h-0.7zM110.0,283.3h0.7v0.7h-0.7zM111.3,278.4h0.7v0.7h-0.7zM106.6,281.0h0.7v0.7h-0.7zM107.6,279.1h0.7v0.7h-0.7zM110.4,285.7h0.7v0.7h-0.7zM106.5,280.3h0.7v0.7h-0.7zM106.3,287.2h0.7v0.7h-0.7zM111.3,277.0h0.7v0.7h-0.7zM108.8,278.7h0.7v0.7h-0.7zM104.5,283.4h0.7v0.7h-0.7zM109.0,279.6h0.7v0.7h-0.7zM110.0,271.8h0.7v0.7h-0.7zM112.3,270.4h0.7v0.7h-0.7zM105.4,277.8h0.7v0.7h-0.7zM105.0,274.1h0.7v0.7h-0.7zM105.6,278.1h0.7v0.7h-0.7zM109.5,280.9h0.7v0.7h-0.7zM106.0,275.9h0.7v0.7h-0.7zM103.0,285.8h0.7v0.7h-0.7zM105.9,286.1h0.7v0.7h-0.7zM103.6,285.5h0.7v0.7h-0.7zM110.2,270.1h0.7v0.7h-0.7zM111.5,282.3h0.7v0.7h-0.7zM110.7,275.7h0.7v0.7h-0.7zM109.8,272.3h0.7v0.7h-0.7zM107.3,286.6h0.7v0.7h-0.7zM106.7,282.3h0.7v0.7h-0.7zM108.7,283.4h0.7v0.7h-0.7zM107.5,278.9h0.7v0.7h-0.7zM107.9,281.0h0.7v0.7h-0.7zM111.0,270.2h0.7v0.7h-0.7zM108.1,277.8h0.7v0.7h-0.7zM111.5,277.3h0.7v0.7h-0.7zM105.9,283.9h0.7v0.7h-0.7zM102.3,296.8h0.7v0.7h-0.7zM105.3,287.2h0.7v0.7h-0.7zM108.6,284.3h0.7v0.7h-0.7zM105.6,274.7h0.7v0.7h-0.7zM98.7,289.1h0.7v0.7h-0.7zM110.1,272.5h0.7v0.7h-0.7zM109.3,276.7h0.7v0.7h-0.7zM105.7,289.3h0.7v0.7h-0.7zM111.0,268.1h0.7v0.7h-0.7zM106.6,280.9h0.7v0.7h-0.7zM110.7,268.5h0.7v0.7h-0.7zM104.9,285.7h0.7v0.7h-0.7zM105.6,275.4h0.7v0.7h-0.7zM111.1,287.8h0.7v0.7h-0.7zM111.8,276.7h0.7v0.7h-0.7zM104.7,279.2h0.7v0.7h-0.7zM111.8,272.5h0.7v0.7h-0.7zM106.0,278.6h0.7v0.7h-0.7zM108.0,281.8h0.7v0.7h-0.7zM101.1,293.7h0.7v0.7h-0.7zM106.8,275.0h0.7v0.7h-0.7zM108.3,283.7h0.7v0.7h-0.7zM110.3,280.2h0.7v0.7h-0.7zM106.7,280.5h0.7v0.7h-0.7zM108.8,277.6h0.7v0.7h-0.7zM106.1,281.2h0.7v0.7h-0.7zM107.4,273.4h0.7v0.7h-0.7zM103.4,285.8h0.7v0.7h-0.7zM99.8,288.6h0.7v0.7h-0.7zM106.9,279.4h0.7v0.7h-0.7zM106.3,271.1h0.7v0.7h-0.7zM112.4,276.6h0.7v0.7h-0.7zM110.4,275.5h0.7v0.7h-0.7zM108.0,282.6h0.7v0.7h-0.7zM111.4,266.5h0.7v0.7h-0.7zM113.5,269.1h0.7v0.7h-0.7zM108.4,284.7h0.7v0.7h-0.7zM108.7,285.0h0.7v0.7h-0.7zM106.1,285.8h0.7v0.7h-0.7zM103.3,283.7h0.7v0.7h-0.7zM104.5,279.9h0.7v0.7h-0.7zM109.4,276.6h0.7v0.7h-0.7zM103.7,287.2h0.7v0.7h-0.7zM106.1,283.5h0.7v0.7h-0.7zM106.0,287.9h0.7v0.7h-0.7zM111.1,278.3h0.7v0.7h-0.7zM106.5,281.6h0.7v0.7h-0.7zM103.5,289.2h0.7v0.7h-0.7zM103.8,274.3h0.7v0.7h-0.7zM113.3,272.7h0.7v0.7h-0.7zM117.8,263.1h0.7v0.7h-0.7zM107.4,272.3h0.7v0.7h-0.7zM100.9,283.1h0.7v0.7h-0.7zM106.7,275.5h0.7v0.7h-0.7zM110.9,279.6h0.7v0.7h-0.7zM99.0,288.0h0.7v0.7h-0.7zM116.2,276.9h0.7v0.7h-0.7zM110.6,286.3h0.7v0.7h-0.7zM103.1,290.5h0.7v0.7h-0.7zM111.6,276.9h0.7v0.7h-0.7zM110.3,284.2h0.7v0.7h-0.7zM112.4,285.4h0.7v0.7h-0.7zM107.3,269.6h0.7v0.7h-0.7zM105.9,276.2h0.7v0.7h-0.7zM105.5,280.0h0.7v0.7h-0.7zM104.7,287.4h0.7v0.7h-0.7zM105.1,281.9h0.7v0.7h-0.7zM106.6,279.7h0.7v0.7h-0.7zM110.4,275.3h0.7v0.7h-0.7zM111.1,268.8h0.7v0.7h-0.7zM112.0,277.8h0.7v0.7h-0.7zM103.9,276.4h0.7v0.7h-0.7zM108.7,279.5h0.7v0.7h-0.7zM108.5,283.4h0.7v0.7h-0.7zM106.8,284.8h0.7v0.7h-0.7zM103.3,287.2h0.7v0.7h-0.7zM106.7,283.2h0.7v0.7h-0.7zM107.8,282.8h0.7v0.7h-0.7zM107.6,278.2h0.7v0.7h-0.7zM101.9,277.9h0.7v0.7h-0.7zM109.0,283.0h0.7v0.7h-0.7zM107.0,278.5h0.7v0.7h-0.7zM110.8,280.0h0.7v0.7h-0.7zM111.2,278.3h0.7v0.7h-0.7zM109.5,271.5h0.7v0.7h-0.7zM102.5,287.7h0.7v0.7h-0.7zM111.6,272.4h0.7v0.7h-0.7zM108.5,277.3h0.7v0.7h-0.7zM105.0,282.4h0.7v0.7h-0.7zM105.8,282.1h0.7v0.7h-0.7zM106.8,279.8h0.7v0.7h-0.7zM108.6,271.6h0.7v0.7h-0.7zM111.0,277.1h0.7v0.7h-0.7zM107.0,274.3h0.7v0.7h-0.7zM108.9,281.5h0.7v0.7h-0.7zM106.5,280.1h0.7v0.7h-0.7zM112.2,272.0h0.7v0.7h-0.7zM104.2,285.5h0.7v0.7h-0.7zM104.9,280.2h0.7v0.7h-0.7zM109.4,276.4h0.7v0.7h-0.7zM109.1,279.7h0.7v0.7h-0.7zM105.9,280.5h0.7v0.7h-0.7zM110.3,277.2h0.7v0.7h-0.7zM111.6,274.0h0.7v0.7h-0.7zM105.0,276.4h0.7v0.7h-0.7zM108.8,274.3h0.7v0.7h-0.7zM101.3,293.0h0.7v0.7h-0.7zM112.8,274.0h0.7v0.7h-0.7zM106.7,272.6h0.7v0.7h-0.7zM109.1,282.8h0.7v0.7h-0.7zM103.6,291.0h0.7v0.7h-0.7zM109.5,275.6h0.7v0.7h-0.7zM108.2,288.9h0.7v0.7h-0.7zM113.6,277.2h0.7v0.7h-0.7zM105.2,277.5h0.7v0.7h-0.7zM106.2,283.7h0.7v0.7h-0.7zM108.7,270.9h0.7v0.7h-0.7zM108.5,280.6h0.7v0.7h-0.7zM112.9,275.0h0.7v0.7h-0.7zM107.2,274.2h0.7v0.7h-0.7zM108.8,285.0h0.7v0.7h-0.7zM107.7,277.9h0.7v0.7h-0.7zM109.4,283.0h0.7v0.7h-0.7zM108.1,277.4h0.7v0.7h-0.7zM104.9,274.8h0.7v0.7h-0.7zM104.9,283.0h0.7v0.7h-0.7zM103.9,284.7h0.7v0.7h-0.7zM104.9,287.3h0.7v0.7h-0.7zM102.0,284.0h0.7v0.7h-0.7zM107.7,275.6h0.7v0.7h-0.7zM104.1,290.5h0.7v0.7h-0.7zM103.3,274.8h0.7v0.7h-0.7zM113.1,276.0h0.7v0.7h-0.7zM110.1,277.8h0.7v0.7h-0.7zM112.4,271.3h0.7v0.7h-0.7zM106.0,286.0h0.7v0.7h-0.7zM107.2,273.3h0.7v0.7h-0.7zM103.5,281.8h0.7v0.7h-0.7zM111.3,272.2h0.7v0.7h-0.7zM107.3,272.5h0.7v0.7h-0.7zM107.7,278.5h0.7v0.7h-0.7zM110.8,272.3h0.7v0.7h-0.7zM106.3,287.1h0.7v0.7h-0.7zM107.4,286.4h0.7v0.7h-0.7zM107.9,280.3h0.7v0.7h-0.7zM107.6,273.4h0.7v0.7h-0.7zM106.5,274.3h0.7v0.7h-0.7zM106.0,291.8h0.7v0.7h-0.7zM112.8,272.0h0.7v0.7h-0.7zM108.3,280.7h0.7v0.7h-0.7zM108.8,283.0h0.7v0.7h-0.7zM108.0,272.3h0.7v0.7h-0.7zM110.8,278.4h0.7v0.7h-0.7zM107.3,279.9h0.7v0.7h-0.7zM109.9,279.4h0.7v0.7h-0.7zM110.0,283.4h0.7v0.7h-0.7zM104.5,291.0h0.7v0.7h-0.7zM106.6,274.0h0.7v0.7h-0.7zM108.3,279.6h0.7v0.7h-0.7zM108.2,280.6h0.7v0.7h-0.7zM110.7,281.7h0.7v0.7h-0.7zM110.6,281.2h0.7v0.7h-0.7zM106.1,280.9h0.7v0.7h-0.7zM106.0,280.1h0.7v0.7h-0.7zM101.9,278.4h0.7v0.7h-0.7zM109.7,281.4h0.7v0.7h-0.7zM103.1,285.3h0.7v0.7h-0.7zM113.0,275.5h0.7v0.7h-0.7zM110.6,272.4h0.7v0.7h-0.7zM108.9,278.5h0.7v0.7h-0.7zM108.6,286.2h0.7v0.7h-0.7zM111.3,269.0h0.7v0.7h-0.7zM110.7,268.0h0.7v0.7h-0.7zM110.4,271.1h0.7v0.7h-0.7zM109.4,276.9h0.7v0.7h-0.7zM106.4,282.7h0.7v0.7h-0.7zM108.5,284.5h0.7v0.7h-0.7zM107.7,278.7h0.7v0.7h-0.7zM107.1,274.3h0.7v0.7h-0.7zM109.6,284.8h0.7v0.7h-0.7zM103.5,278.7h0.7v0.7h-0.7zM109.9,275.6h0.7v0.7h-0.7zM105.1,279.0h0.7v0.7h-0.7zM107.4,280.4h0.7v0.7h-0.7zM108.5,270.7h0.7v0.7h-0.7zM103.9,281.7h0.7v0.7h-0.7zM111.0,279.6h0.7v0.7h-0.7zM107.2,284.6h0.7v0.7h-0.7zM108.6,272.0h0.7v0.7h-0.7zM107.5,279.2h0.7v0.7h-0.7zM107.4,284.4h0.7v0.7h-0.7zM108.5,286.8h0.7v0.7h-0.7zM105.4,278.0h0.7v0.7h-0.7zM105.8,284.7h0.7v0.7h-0.7zM105.9,280.3h0.7v0.7h-0.7zM113.5,281.5h0.7v0.7h-0.7zM113.6,270.7h0.7v0.7h-0.7zM108.4,282.3h0.7v0.7h-0.7zM108.7,277.3h0.7v0.7h-0.7zM107.9,277.2h0.7v0.7h-0.7zM112.5,279.4h0.7v0.7h-0.7zM106.4,286.3h0.7v0.7h-0.7zM105.1,281.7h0.7v0.7h-0.7zM111.9,272.4h0.7v0.7h-0.7zM108.3,274.3h0.7v0.7h-0.7zM108.6,274.3h0.7v0.7h-0.7zM111.9,278.4h0.7v0.7h-0.7zM104.0,287.8h0.7v0.7h-0.7zM106.1,282.9h0.7v0.7h-0.7zM105.8,280.9h0.7v0.7h-0.7zM102.8,280.2h0.7v0.7h-0.7zM117.9,268.4h0.7v0.7h-0.7zM107.2,280.7h0.7v0.7h-0.7zM106.6,283.0h0.7v0.7h-0.7zM102.9,283.0h0.7v0.7h-0.7zM112.2,277.7h0.7v0.7h-0.7zM105.1,280.5h0.7v0.7h-0.7zM115.1,274.4h0.7v0.7h-0.7zM106.4,286.1h0.7v0.7h-0.7zM109.4,271.3h0.7v0.7h-0.7zM105.6,271.4h0.7v0.7h-0.7zM107.9,276.2h0.7v0.7h-0.7zM99.2,289.6h0.7v0.7h-0.7zM105.9,285.5h0.7v0.7h-0.7zM106.1,283.7h0.7v0.7h-0.7zM104.9,285.0h0.7v0.7h-0.7zM106.5,286.9h0.7v0.7h-0.7zM109.3,274.4h0.7v0.7h-0.7zM107.4,291.6h0.7v0.7h-0.7zM110.4,275.7h0.7v0.7h-0.7zM104.7,289.6h0.7v0.7h-0.7zM110.6,277.3h0.7v0.7h-0.7zM103.1,279.2h0.7v0.7h-0.7zM106.8,282.9h0.7v0.7h-0.7zM110.3,285.5h0.7v0.7h-0.7zM107.0,291.6h0.7v0.7h-0.7zM101.2,288.1h0.7v0.7h-0.7zM110.9,274.8h0.7v0.7h-0.7zM108.6,280.6h0.7v0.7h-0.7zM110.1,278.2h0.7v0.7h-0.7zM103.4,288.7h0.7v0.7h-0.7zM106.5,279.0h0.7v0.7h-0.7zM111.9,268.6h0.7v0.7h-0.7zM108.6,279.2h0.7v0.7h-0.7zM112.6,277.8h0.7v0.7h-0.7zM109.6,287.8h0.7v0.7h-0.7zM112.6,264.9h0.7v0.7h-0.7zM107.0,284.4h0.7v0.7h-0.7zM106.5,282.5h0.7v0.7h-0.7zM104.2,285.8h0.7v0.7h-0.7zM114.0,282.2h0.7v0.7h-0.7zM110.6,280.0h0.7v0.7h-0.7zM109.1,282.3h0.7v0.7h-0.7zM109.8,281.9h0.7v0.7h-0.7zM104.3,286.9h0.7v0.7h-0.7zM107.2,277.2h0.7v0.7h-0.7zM113.3,277.4h0.7v0.7h-0.7zM98.7,288.6h0.7v0.7h-0.7zM109.8,276.4h0.7v0.7h-0.7zM102.4,284.2h0.7v0.7h-0.7zM109.1,277.7h0.7v0.7h-0.7zM103.2,284.3h0.7v0.7h-0.7zM102.9,285.1h0.7v0.7h-0.7zM103.7,284.9h0.7v0.7h-0.7zM110.2,279.4h0.7v0.7h-0.7zM108.3,283.5h0.7v0.7h-0.7zM107.2,279.4h0.7v0.7h-0.7zM109.1,289.2h0.7v0.7h-0.7zM107.5,283.3h0.7v0.7h-0.7zM113.9,278.3h0.7v0.7h-0.7zM109.4,278.9h0.7v0.7h-0.7zM97.4,284.8h0.7v0.7h-0.7zM105.0,277.1h0.7v0.7h-0.7zM108.6,277.8h0.7v0.7h-0.7zM113.8,273.5h0.7v0.7h-0.7zM101.1,292.7h0.7v0.7h-0.7zM111.7,282.0h0.7v0.7h-0.7zM103.8,281.2h0.7v0.7h-0.7zM104.6,282.7h0.7v0.7h-0.7zM102.7,286.6h0.7v0.7h-0.7zM100.9,286.7h0.7v0.7h-0.7zM102.8,276.8h0.7v0.7h-0.7zM101.4,294.2h0.7v0.7h-0.7zM109.3,279.0h0.7v0.7h-0.7zM108.3,281.6h0.7v0.7h-0.7zM106.0,294.6h0.7v0.7h-0.7zM109.4,278.2h0.7v0.7h-0.7zM108.9,280.4h0.7v0.7h-0.7zM109.1,274.3h0.7v0.7h-0.7zM112.6,272.5h0.7v0.7h-0.7zM112.0,277.9h0.7v0.7h-0.7zM103.6,279.7h0.7v0.7h-0.7zM98.3,287.6h0.7v0.7h-0.7zM104.8,298.0h0.7v0.7h-0.7zM107.8,291.5h0.7v0.7h-0.7zM104.3,287.1h0.7v0.7h-0.7zM109.5,276.7h0.7v0.7h-0.7zM114.5,267.3h0.7v0.7h-0.7zM108.2,280.2h0.7v0.7h-0.7zM105.0,276.1h0.7v0.7h-0.7zM106.2,280.2h0.7v0.7h-0.7zM108.6,277.9h0.7v0.7h-0.7zM108.6,286.2h0.7v0.7h-0.7zM110.9,273.7h0.7v0.7h-0.7zM109.4,267.9h0.7v0.7h-0.7zM109.6,273.5h0.7v0.7h-0.7zM108.4,279.8h0.7v0.7h-0.7zM107.1,279.9h0.7v0.7h-0.7zM112.0,272.8h0.7v0.7h-0.7zM111.5,275.0h0.7v0.7h-0.7zM113.3,280.1h0.7v0.7h-0.7zM111.2,274.8h0.7v0.7h-0.7zM103.7,285.3h0.7v0.7h-0.7zM112.5,280.0h0.7v0.7h-0.7zM106.0,285.7h0.7v0.7h-0.7zM107.5,276.5h0.7v0.7h-0.7zM115.5,273.1h0.7v0.7h-0.7zM109.0,281.2h0.7v0.7h-0.7zM106.1,288.7h0.7v0.7h-0.7zM111.3,281.1h0.7v0.7h-0.7zM115.2,271.8h0.7v0.7h-0.7zM106.1,283.2h0.7v0.7h-0.7zM108.7,285.5h0.7v0.7h-0.7zM109.9,277.3h0.7v0.7h-0.7zM108.1,278.6h0.7v0.7h-0.7zM104.4,284.9h0.7v0.7h-0.7zM109.3,274.9h0.7v0.7h-0.7zM107.0,290.9h0.7v0.7h-0.7zM109.5,287.0h0.7v0.7h-0.7zM106.4,279.3h0.7v0.7h-0.7zM110.5,276.9h0.7v0.7h-0.7zM103.4,282.1h0.7v0.7h-0.7zM103.6,295.1h0.7v0.7h-0.7zM106.8,270.2h0.7v0.7h-0.7zM107.4,281.7h0.7v0.7h-0.7zM110.2,273.7h0.7v0.7h-0.7zM107.2,279.4h0.7v0.7h-0.7zM101.3,285.1h0.7v0.7h-0.7zM104.6,277.5h0.7v0.7h-0.7zM107.8,280.2h0.7v0.7h-0.7zM99.8,290.6h0.7v0.7h-0.7zM106.6,280.5h0.7v0.7h-0.7zM105.6,279.1h0.7v0.7h-0.7zM108.8,272.1h0.7v0.7h-0.7zM111.8,276.1h0.7v0.7h-0.7zM111.5,280.0h0.7v0.7h-0.7zM105.2,272.6h0.7v0.7h-0.7zM108.0,275.9h0.7v0.7h-0.7zM99.7,289.8h0.7v0.7h-0.7zM104.6,283.8h0.7v0.7h-0.7zM111.4,277.2h0.7v0.7h-0.7zM113.7,278.4h0.7v0.7h-0.7zM107.9,284.4h0.7v0.7h-0.7zM109.1,279.3h0.7v0.7h-0.7zM103.2,284.7h0.7v0.7h-0.7zM105.5,278.7h0.7v0.7h-0.7zM108.7,278.5h0.7v0.7h-0.7zM112.1,269.7h0.7v0.7h-0.7zM111.0,277.3h0.7v0.7h-0.7zM109.4,272.9h0.7v0.7h-0.7zM110.9,279.5h0.7v0.7h-0.7zM111.4,281.4h0.7v0.7h-0.7zM103.1,283.4h0.7v0.7h-0.7zM110.1,272.1h0.7v0.7h-0.7zM105.6,282.6h0.7v0.7h-0.7zM111.2,274.2h0.7v0.7h-0.7zM106.1,276.7h0.7v0.7h-0.7zM106.4,280.3h0.7v0.7h-0.7zM111.1,270.2h0.7v0.7h-0.7zM104.5,280.5h0.7v0.7h-0.7zM112.7,271.7h0.7v0.7h-0.7zM104.4,284.5h0.7v0.7h-0.7zM105.1,279.2h0.7v0.7h-0.7zM103.9,277.7h0.7v0.7h-0.7zM108.8,277.2h0.7v0.7h-0.7zM108.7,275.2h0.7v0.7h-0.7zM110.5,280.6h0.7v0.7h-0.7zM105.3,274.4h0.7v0.7h-0.7zM107.5,273.9h0.7v0.7h-0.7zM109.5,282.6h0.7v0.7h-0.7zM110.7,272.1h0.7v0.7h-0.7zM105.6,281.0h0.7v0.7h-0.7zM105.9,276.8h0.7v0.7h-0.7zM106.2,285.8h0.7v0.7h-0.7zM110.6,273.0h0.7v0.7h-0.7zM111.6,272.0h0.7v0.7h-0.7zM100.6,281.5h0.7v0.7h-0.7zM107.8,276.4h0.7v0.7h-0.7zM103.8,291.0h0.7v0.7h-0.7zM105.6,282.4h0.7v0.7h-0.7zM108.8,280.6h0.7v0.7h-0.7zM108.6,280.7h0.7v0.7h-0.7zM104.8,277.2h0.7v0.7h-0.7zM107.0,280.8h0.7v0.7h-0.7zM108.5,270.2h0.7v0.7h-0.7zM112.3,277.7h0.7v0.7h-0.7zM110.0,284.1h0.7v0.7h-0.7zM113.7,267.5h0.7v0.7h-0.7zM102.7,287.0h0.7v0.7h-0.7zM104.2,280.7h0.7v0.7h-0.7zM106.5,281.2h0.7v0.7h-0.7zM113.7,272.6h0.7v0.7h-0.7zM108.4,280.2h0.7v0.7h-0.7zM113.6,271.3h0.7v0.7h-0.7zM110.7,277.2h0.7v0.7h-0.7zM113.1,274.9h0.7v0.7h-0.7zM108.5,278.0h0.7v0.7h-0.7zM104.7,275.2h0.7v0.7h-0.7zM110.9,280.0h0.7v0.7h-0.7zM103.7,286.2h0.7v0.7h-0.7zM104.1,286.7h0.7v0.7h-0.7zM110.1,273.5h0.7v0.7h-0.7zM109.9,281.3h0.7v0.7h-0.7zM115.6,269.6h0.7v0.7h-0.7zM106.9,285.3h0.7v0.7h-0.7zM107.0,271.0h0.7v0.7h-0.7zM104.4,285.2h0.7v0.7h-0.7zM102.3,284.1h0.7v0.7h-0.7zM107.2,284.1h0.7v0.7h-0.7zM110.0,272.5h0.7v0.7h-0.7zM101.4,288.8h0.7v0.7h-0.7zM104.8,285.9h0.7v0.7h-0.7zM108.4,274.2h0.7v0.7h-0.7zM114.2,276.2h0.7v0.7h-0.7zM108.3,270.2h0.7v0.7h-0.7zM109.8,281.0h0.7v0.7h-0.7zM108.5,271.8h0.7v0.7h-0.7zM107.2,278.2h0.7v0.7h-0.7zM105.8,279.3h0.7v0.7h-0.7zM109.3,280.4h0.7v0.7h-0.7zM106.3,271.8h0.7v0.7h-0.7zM109.6,275.8h0.7v0.7h-0.7zM103.3,294.8h0.7v0.7h-0.7zM99.2,279.4h0.7v0.7h-0.7zM113.6,270.2h0.7v0.7h-0.7zM107.1,275.8h0.7v0.7h-0.7zM108.5,285.2h0.7v0.7h-0.7zM106.6,282.9h0.7v0.7h-0.7zM111.3,269.6h0.7v0.7h-0.7zM105.0,284.1h0.7v0.7h-0.7zM105.2,269.0h0.7v0.7h-0.7zM109.7,278.3h0.7v0.7h-0.7zM108.8,275.4h0.7v0.7h-0.7zM105.3,281.4h0.7v0.7h-0.7zM106.3,278.3h0.7v0.7h-0.7zM110.4,276.2h0.7v0.7h-0.7zM105.6,282.5h0.7v0.7h-0.7zM111.9,272.4h0.7v0.7h-0.7zM107.3,284.9h0.7v0.7h-0.7zM105.8,283.6h0.7v0.7h-0.7zM109.4,279.1h0.7v0.7h-0.7zM107.5,283.9h0.7v0.7h-0.7zM105.1,273.3h0.7v0.7h-0.7zM107.4,282.3h0.7v0.7h-0.7zM108.1,281.9h0.7v0.7h-0.7zM109.6,271.0h0.7v0.7h-0.7zM104.8,282.9h0.7v0.7h-0.7zM111.4,280.5h0.7v0.7h-0.7zM104.5,283.4h0.7v0.7h-0.7zM105.1,280.7h0.7v0.7h-0.7zM103.3,280.9h0.7v0.7h-0.7zM115.1,272.7h0.7v0.7h-0.7zM102.9,284.4h0.7v0.7h-0.7zM100.6,280.0h0.7v0.7h-0.7zM110.1,281.5h0.7v0.7h-0.7zM106.1,284.3h0.7v0.7h-0.7zM108.2,280.0h0.7v0.7h-0.7zM101.5,290.7h0.7v0.7h-0.7zM108.8,282.2h0.7v0.7h-0.7zM113.2,277.1h0.7v0.7h-0.7zM111.5,269.7h0.7v0.7h-0.7zM108.4,277.7h0.7v0.7h-0.7zM109.6,272.8h0.7v0.7h-0.7zM104.8,280.8h0.7v0.7h-0.7zM100.7,282.7h0.7v0.7h-0.7zM111.7,280.9h0.7v0.7h-0.7zM109.9,275.1h0.7v0.7h-0.7zM107.0,277.5h0.7v0.7h-0.7zM102.8,282.1h0.7v0.7h-0.7zM102.9,281.3h0.7v0.7h-0.7zM110.0,279.4h0.7v0.7h-0.7zM109.0,276.9h0.7v0.7h-0.7zM102.6,292.1h0.7v0.7h-0.7zM108.4,282.2h0.7v0.7h-0.7zM106.1,283.1h0.7v0.7h-0.7zM108.7,278.8h0.7v0.7h-0.7zM109.9,283.3h0.7v0.7h-0.7zM109.2,281.3h0.7v0.7h-0.7zM98.9,288.7h0.7v0.7h-0.7zM107.4,278.5h0.7v0.7h-0.7zM111.3,280.6h0.7v0.7h-0.7zM108.6,278.7h0.7v0.7h-0.7zM98.5,286.6h0.7v0.7h-0.7zM107.7,271.9h0.7v0.7h-0.7zM108.7,280.6h0.7v0.7h-0.7zM112.9,276.7h0.7v0.7h-0.7zM101.8,287.8h0.7v0.7h-0.7zM106.4,275.9h0.7v0.7h-0.7zM104.9,282.9h0.7v0.7h-0.7zM107.9,286.2h0.7v0.7h-0.7zM105.4,279.2h0.7v0.7h-0.7zM114.3,266.8h0.7v0.7h-0.7zM106.4,282.7h0.7v0.7h-0.7zM112.1,276.6h0.7v0.7h-0.7zM109.2,280.4h0.7v0.7h-0.7zM108.0,285.3h0.7v0.7h-0.7zM102.1,281.9h0.7v0.7h-0.7zM106.4,281.8h0.7v0.7h-0.7zM106.6,276.2h0.7v0.7h-0.7zM108.6,274.3h0.7v0.7h-0.7zM108.3,278.4h0.7v0.7h-0.7zM109.8,268.8h0.7v0.7h-0.7zM108.5,284.7h0.7v0.7h-0.7zM107.0,277.9h0.7v0.7h-0.7zM100.6,288.8h0.7v0.7h-0.7zM107.1,286.4h0.7v0.7h-0.7zM109.2,283.0h0.7v0.7h-0.7zM105.6,283.4h0.7v0.7h-0.7zM111.8,286.6h0.7v0.7h-0.7zM109.5,282.1h0.7v0.7h-0.7zM100.8,289.3h0.7v0.7h-0.7zM105.2,278.9h0.7v0.7h-0.7zM106.0,280.2h0.7v0.7h-0.7zM104.1,286.1h0.7v0.7h-0.7zM106.3,284.0h0.7v0.7h-0.7zM104.3,281.5h0.7v0.7h-0.7zM105.0,285.2h0.7v0.7h-0.7zM106.1,278.2h0.7v0.7h-0.7zM105.2,282.1h0.7v0.7h-0.7zM109.1,276.1h0.7v0.7h-0.7zM115.7,269.3h0.7v0.7h-0.7zM110.9,278.6h0.7v0.7h-0.7zM105.5,271.3h0.7v0.7h-0.7zM110.6,275.4h0.7v0.7h-0.7zM107.8,288.3h0.7v0.7h-0.7zM103.0,285.2h0.7v0.7h-0.7zM109.7,277.5h0.7v0.7h-0.7zM103.5,282.9h0.7v0.7h-0.7zM106.6,273.4h0.7v0.7h-0.7zM102.4,285.4h0.7v0.7h-0.7zM107.0,281.6h0.7v0.7h-0.7zM102.7,280.9h0.7v0.7h-0.7zM109.5,281.2h0.7v0.7h-0.7zM105.2,282.9h0.7v0.7h-0.7zM106.3,284.4h0.7v0.7h-0.7zM108.5,278.4h0.7v0.7h-0.7zM101.0,291.8h0.7v0.7h-0.7zM112.8,272.7h0.7v0.7h-0.7zM106.9,284.9h0.7v0.7h-0.7zM110.2,280.6h0.7v0.7h-0.7zM106.4,292.3h0.7v0.7h-0.7zM110.4,268.1h0.7v0.7h-0.7zM101.7,279.2h0.7v0.7h-0.7zM105.2,290.6h0.7v0.7h-0.7zM106.9,274.9h0.7v0.7h-0.7zM104.0,286.1h0.7v0.7h-0.7zM104.2,280.8h0.7v0.7h-0.7zM109.0,273.8h0.7v0.7h-0.7zM109.4,281.3h0.7v0.7h-0.7zM110.6,278.3h0.7v0.7h-0.7zM106.5,276.8h0.7v0.7h-0.7zM107.4,277.4h0.7v0.7h-0.7zM106.0,271.5h0.7v0.7h-0.7zM106.8,283.1h0.7v0.7h-0.7zM101.9,282.4h0.7v0.7h-0.7zM105.1,276.8h0.7v0.7h-0.7zM108.4,289.0h0.7v0.7h-0.7zM109.4,284.9h0.7v0.7h-0.7zM110.6,272.1h0.7v0.7h-0.7zM108.3,281.9h0.7v0.7h-0.7zM109.0,281.4h0.7v0.7h-0.7zM106.1,281.5h0.7v0.7h-0.7zM103.5,286.5h0.7v0.7h-0.7zM107.2,284.9h0.7v0.7h-0.7zM109.1,274.0h0.7v0.7h-0.7zM102.7,291.7h0.7v0.7h-0.7zM104.8,283.8h0.7v0.7h-0.7zM105.1,286.6h0.7v0.7h-0.7zM107.3,287.0h0.7v0.7h-0.7zM109.5,276.3h0.7v0.7h-0.7zM103.6,283.3h0.7v0.7h-0.7zM106.8,281.0h0.7v0.7h-0.7zM103.5,283.2h0.7v0.7h-0.7zM108.6,284.2h0.7v0.7h-0.7zM107.7,277.7h0.7v0.7h-0.7zM104.6,284.2h0.7v0.7h-0.7zM109.2,284.8h0.7v0.7h-0.7zM111.7,274.3h0.7v0.7h-0.7zM101.2,285.9h0.7v0.7h-0.7zM108.2,282.4h0.7v0.7h-0.7zM109.0,279.0h0.7v0.7h-0.7zM110.0,275.2h0.7v0.7h-0.7zM110.9,277.5h0.7v0.7h-0.7zM107.6,280.9h0.7v0.7h-0.7zM106.2,286.2h0.7v0.7h-0.7zM108.4,277.1h0.7v0.7h-0.7zM110.5,277.5h0.7v0.7h-0.7zM109.1,289.6h0.7v0.7h-0.7zM103.8,284.3h0.7v0.7h-0.7zM103.2,283.7h0.7v0.7h-0.7zM108.3,272.3h0.7v0.7h-0.7zM102.7,280.9h0.7v0.7h-0.7zM106.0,283.4h0.7v0.7h-0.7zM103.5,289.7h0.7v0.7h-0.7zM105.8,277.4h0.7v0.7h-0.7zM110.0,276.5h0.7v0.7h-0.7zM104.5,270.4h0.7v0.7h-0.7zM108.4,277.4h0.7v0.7h-0.7zM107.2,278.7h0.7v0.7h-0.7zM105.9,274.1h0.7v0.7h-0.7zM105.8,288.8h0.7v0.7h-0.7zM105.5,281.8h0.7v0.7h-0.7zM108.8,275.9h0.7v0.7h-0.7zM106.2,283.8h0.7v0.7h-0.7zM108.9,280.8h0.7v0.7h-0.7zM107.0,275.9h0.7v0.7h-0.7zM107.9,278.1h0.7v0.7h-0.7zM108.8,292.0h0.7v0.7h-0.7zM108.1,273.7h0.7v0.7h-0.7zM102.8,278.1h0.7v0.7h-0.7zM112.1,278.3h0.7v0.7h-0.7zM108.1,275.6h0.7v0.7h-0.7zM109.2,287.7h0.7v0.7h-0.7zM108.0,278.9h0.7v0.7h-0.7zM109.0,282.6h0.7v0.7h-0.7zM112.4,271.1h0.7v0.7h-0.7zM109.2,278.2h0.7v0.7h-0.7zM100.4,281.0h0.7v0.7h-0.7zM105.3,285.6h0.7v0.7h-0.7zM109.6,278.9h0.7v0.7h-0.7zM111.3,285.1h0.7v0.7h-0.7zM107.7,285.2h0.7v0.7h-0.7zM108.6,282.4h0.7v0.7h-0.7zM111.4,276.5h0.7v0.7h-0.7zM109.0,282.3h0.7v0.7h-0.7zM102.0,283.5h0.7v0.7h-0.7zM108.2,283.4h0.7v0.7h-0.7zM100.4,283.7h0.7v0.7h-0.7zM103.3,280.9h0.7v0.7h-0.7zM110.0,276.7h0.7v0.7h-0.7zM106.4,283.2h0.7v0.7h-0.7zM107.3,277.9h0.7v0.7h-0.7zM107.7,285.1h0.7v0.7h-0.7zM103.0,279.0h0.7v0.7h-0.7zM109.0,266.4h0.7v0.7h-0.7zM110.4,278.3h0.7v0.7h-0.7zM107.1,277.3h0.7v0.7h-0.7zM107.2,278.8h0.7v0.7h-0.7zM106.7,276.6h0.7v0.7h-0.7zM108.7,275.8h0.7v0.7h-0.7zM106.1,279.2h0.7v0.7h-0.7zM102.9,283.2h0.7v0.7h-0.7zM104.7,281.6h0.7v0.7h-0.7zM103.6,282.0h0.7v0.7h-0.7zM109.8,280.8h0.7v0.7h-0.7zM103.6,283.2h0.7v0.7h-0.7zM106.1,275.3h0.7v0.7h-0.7zM104.6,276.2h0.7v0.7h-0.7zM106.4,276.7h0.7v0.7h-0.7zM107.2,278.8h0.7v0.7h-0.7zM107.7,279.2h0.7v0.7h-0.7zM104.7,284.4h0.7v0.7h-0.7zM111.3,278.0h0.7v0.7h-0.7zM112.4,262.2h0.7v0.7h-0.7zM113.6,275.9h0.7v0.7h-0.7zM107.3,283.7h0.7v0.7h-0.7zM108.4,280.3h0.7v0.7h-0.7zM100.1,285.6h0.7v0.7h-0.7zM110.7,275.6h0.7v0.7h-0.7zM111.3,276.3h0.7v0.7h-0.7zM108.3,285.4h0.7v0.7h-0.7zM111.8,271.4h0.7v0.7h-0.7zM104.0,285.2h0.7v0.7h-0.7zM104.4,285.1h0.7v0.7h-0.7zM114.3,275.6h0.7v0.7h-0.7zM111.2,272.5h0.7v0.7h-0.7zM106.4,278.7h0.7v0.7h-0.7zM104.7,275.0h0.7v0.7h-0.7zM104.3,280.2h0.7v0.7h-0.7zM102.1,289.5h0.7v0.7h-0.7zM112.3,271.5h0.7v0.7h-0.7zM108.2,285.8h0.7v0.7h-0.7zM108.2,278.0h0.7v0.7h-0.7zM109.3,279.8h0.7v0.7h-0.7zM106.6,288.4h0.7v0.7h-0.7zM108.0,277.8h0.7v0.7h-0.7zM106.3,278.9h0.7v0.7h-0.7zM109.0,273.8h0.7v0.7h-0.7zM107.5,283.2h0.7v0.7h-0.7zM110.7,274.6h0.7v0.7h-0.7zM108.8,279.0h0.7v0.7h-0.7zM107.0,284.1h0.7v0.7h-0.7zM107.0,285.5h0.7v0.7h-0.7zM105.2,284.1h0.7v0.7h-0.7zM106.2,268.4h0.7v0.7h-0.7zM107.3,278.5h0.7v0.7h-0.7zM107.8,269.7h0.7v0.7h-0.7zM115.6,268.9h0.7v0.7h-0.7zM107.9,264.7h0.7v0.7h-0.7zM108.2,283.4h0.7v0.7h-0.7zM110.1,276.9h0.7v0.7h-0.7zM104.8,281.9h0.7v0.7h-0.7zM102.6,294.3h0.7v0.7h-0.7zM106.6,282.2h0.7v0.7h-0.7zM104.2,281.5h0.7v0.7h-0.7zM108.1,279.8h0.7v0.7h-0.7zM105.8,281.5h0.7v0.7h-0.7zM105.7,280.8h0.7v0.7h-0.7zM101.4,286.3h0.7v0.7h-0.7zM110.8,272.4h0.7v0.7h-0.7zM104.5,283.2h0.7v0.7h-0.7zM107.4,280.3h0.7v0.7h-0.7zM110.3,283.2h0.7v0.7h-0.7zM108.3,273.5h0.7v0.7h-0.7zM106.8,279.5h0.7v0.7h-0.7zM110.7,283.4h0.7v0.7h-0.7zM104.9,283.0h0.7v0.7h-0.7zM107.1,284.9h0.7v0.7h-0.7zM100.4,289.9h0.7v0.7h-0.7zM109.2,283.0h0.7v0.7h-0.7zM106.1,284.9h0.7v0.7h-0.7zM106.9,275.7h0.7v0.7h-0.7zM110.3,275.1h0.7v0.7h-0.7zM105.7,282.4h0.7v0.7h-0.7zM109.4,276.9h0.7v0.7h-0.7zM117.0,274.5h0.7v0.7h-0.7zM109.9,276.4h0.7v0.7h-0.7zM107.5,280.2h0.7v0.7h-0.7zM104.2,280.9h0.7v0.7h-0.7zM103.6,290.9h0.7v0.7h-0.7zM114.6,273.8h0.7v0.7h-0.7zM105.7,284.2h0.7v0.7h-0.7zM105.0,280.9h0.7v0.7h-0.7zM103.0,292.0h0.7v0.7h-0.7zM105.0,276.2h0.7v0.7h-0.7zM105.3,273.3h0.7v0.7h-0.7zM106.7,278.9h0.7v0.7h-0.7zM109.0,275.1h0.7v0.7h-0.7zM106.7,281.8h0.7v0.7h-0.7zM110.3,277.6h0.7v0.7h-0.7zM108.5,279.3h0.7v0.7h-0.7zM106.9,278.6h0.7v0.7h-0.7zM101.0,289.2h0.7v0.7h-0.7zM108.2,268.4h0.7v0.7h-0.7zM114.7,276.0h0.7v0.7h-0.7zM95.6,294.0h0.7v0.7h-0.7zM105.1,285.1h0.7v0.7h-0.7zM103.9,291.3h0.7v0.7h-0.7zM111.1,278.3h0.7v0.7h-0.7zM107.4,281.5h0.7v0.7h-0.7zM112.5,271.2h0.7v0.7h-0.7zM107.2,281.7h0.7v0.7h-0.7zM109.1,279.6h0.7v0.7h-0.7zM104.7,278.2h0.7v0.7h-0.7zM103.2,280.7h0.7v0.7h-0.7zM107.3,281.9h0.7v0.7h-0.7zM105.5,291.1h0.7v0.7h-0.7zM107.2,287.8h0.7v0.7h-0.7zM110.4,279.2h0.7v0.7h-0.7zM102.6,284.1h0.7v0.7h-0.7zM112.4,279.4h0.7v0.7h-0.7zM108.0,291.5h0.7v0.7h-0.7zM99.4,285.4h0.7v0.7h-0.7zM105.2,274.2h0.7v0.7h-0.7zM112.6,272.9h0.7v0.7h-0.7zM106.9,276.5h0.7v0.7h-0.7zM107.7,274.8h0.7v0.7h-0.7zM107.1,272.6h0.7v0.7h-0.7zM105.1,285.1h0.7v0.7h-0.7zM110.2,270.0h0.7v0.7h-0.7zM105.5,278.9h0.7v0.7h-0.7zM105.0,282.1h0.7v0.7h-0.7zM108.2,282.4h0.7v0.7h-0.7zM106.4,280.2h0.7v0.7h-0.7zM108.4,284.2h0.7v0.7h-0.7zM105.2,288.2h0.7v0.7h-0.7zM114.5,273.7h0.7v0.7h-0.7zM108.6,270.7h0.7v0.7h-0.7zM103.1,292.3h0.7v0.7h-0.7zM102.6,291.6h0.7v0.7h-0.7zM102.3,277.3h0.7v0.7h-0.7zM109.2,280.6h0.7v0.7h-0.7zM112.8,284.7h0.7v0.7h-0.7zM106.8,285.6h0.7v0.7h-0.7zM106.1,286.8h0.7v0.7h-0.7zM104.3,283.0h0.7v0.7h-0.7zM111.3,270.2h0.7v0.7h-0.7zM109.0,278.5h0.7v0.7h-0.7zM105.6,284.5h0.7v0.7h-0.7zM111.2,273.4h0.7v0.7h-0.7zM102.7,283.9h0.7v0.7h-0.7zM103.7,284.2h0.7v0.7h-0.7zM112.2,279.0h0.7v0.7h-0.7zM110.0,280.6h0.7v0.7h-0.7zM106.4,284.8h0.7v0.7h-0.7zM104.7,291.3h0.7v0.7h-0.7zM106.1,286.9h0.7v0.7h-0.7zM107.0,269.1h0.7v0.7h-0.7zM108.8,278.9h0.7v0.7h-0.7zM105.9,291.0h0.7v0.7h-0.7zM108.6,278.4h0.7v0.7h-0.7zM108.1,282.4h0.7v0.7h-0.7zM104.7,281.9h0.7v0.7h-0.7zM107.2,284.5h0.7v0.7h-0.7zM112.3,280.8h0.7v0.7h-0.7zM108.6,286.9h0.7v0.7h-0.7zM102.2,277.9h0.7v0.7h-0.7zM103.2,283.6h0.7v0.7h-0.7zM107.2,272.7h0.7v0.7h-0.7zM110.7,271.8h0.7v0.7h-0.7zM106.2,271.3h0.7v0.7h-0.7zM109.2,271.1h0.7v0.7h-0.7zM109.0,270.2h0.7v0.7h-0.7zM104.3,281.2h0.7v0.7h-0.7zM108.7,277.4h0.7v0.7h-0.7zM115.6,267.5h0.7v0.7h-0.7zM99.2,284.6h0.7v0.7h-0.7zM109.2,278.3h0.7v0.7h-0.7zM109.4,278.4h0.7v0.7h-0.7zM107.6,277.6h0.7v0.7h-0.7zM106.1,282.9h0.7v0.7h-0.7zM104.5,282.0h0.7v0.7h-0.7zM107.5,276.8h0.7v0.7h-0.7zM109.2,281.3h0.7v0.7h-0.7zM107.2,276.5h0.7v0.7h-0.7zM111.7,275.0h0.7v0.7h-0.7zM106.1,276.9h0.7v0.7h-0.7zM106.8,280.4h0.7v0.7h-0.7zM106.0,283.9h0.7v0.7h-0.7zM105.2,280.5h0.7v0.7h-0.7zM112.9,276.8h0.7v0.7h-0.7zM105.0,277.5h0.7v0.7h-0.7zM106.9,284.6h0.7v0.7h-0.7zM105.8,280.8h0.7v0.7h-0.7zM107.7,281.9h0.7v0.7h-0.7zM112.6,271.1h0.7v0.7h-0.7zM115.1,275.7h0.7v0.7h-0.7zM103.6,284.7h0.7v0.7h-0.7zM108.0,277.8h0.7v0.7h-0.7zM107.9,276.4h0.7v0.7h-0.7zM114.3,275.7h0.7v0.7h-0.7zM106.1,282.2h0.7v0.7h-0.7zM103.7,286.0h0.7v0.7h-0.7zM98.0,296.4h0.7v0.7h-0.7zM100.4,288.4h0.7v0.7h-0.7zM108.2,276.0h0.7v0.7h-0.7zM102.8,287.9h0.7v0.7h-0.7zM100.4,280.2h0.7v0.7h-0.7zM111.6,271.1h0.7v0.7h-0.7zM111.3,278.4h0.7v0.7h-0.7zM109.8,280.7h0.7v0.7h-0.7zM105.0,278.2h0.7v0.7h-0.7zM101.1,285.5h0.7v0.7h-0.7zM112.1,271.5h0.7v0.7h-0.7zM107.7,275.4h0.7v0.7h-0.7zM111.3,277.0h0.7v0.7h-0.7zM106.8,270.4h0.7v0.7h-0.7zM104.5,275.9h0.7v0.7h-0.7zM108.6,280.2h0.7v0.7h-0.7zM102.7,286.7h0.7v0.7h-0.7zM109.2,271.7h0.7v0.7h-0.7zM105.4,287.1h0.7v0.7h-0.7zM101.4,290.9h0.7v0.7h-0.7zM111.7,282.2h0.7v0.7h-0.7zM107.4,276.6h0.7v0.7h-0.7zM107.9,282.2h0.7v0.7h-0.7zM106.3,282.6h0.7v0.7h-0.7zM107.1,282.6h0.7v0.7h-0.7zM110.9,277.2h0.7v0.7h-0.7zM108.3,287.8h0.7v0.7h-0.7zM107.1,275.2h0.7v0.7h-0.7zM108.3,273.4h0.7v0.7h-0.7zM111.0,270.9h0.7v0.7h-0.7zM101.6,291.8h0.7v0.7h-0.7zM105.2,280.2h0.7v0.7h-0.7zM107.1,279.5h0.7v0.7h-0.7zM107.1,282.3h0.7v0.7h-0.7zM112.8,275.4h0.7v0.7h-0.7zM102.3,288.4h0.7v0.7h-0.7zM107.3,278.9h0.7v0.7h-0.7zM110.1,284.7h0.7v0.7h-0.7zM106.8,276.7h0.7v0.7h-0.7zM103.2,296.0h0.7v0.7h-0.7zM103.1,285.5h0.7v0.7h-0.7zM108.4,286.2h0.7v0.7h-0.7zM105.0,278.6h0.7v0.7h-0.7zM102.4,295.1h0.7v0.7h-0.7zM108.4,275.3h0.7v0.7h-0.7zM104.8,280.8h0.7v0.7h-0.7zM108.0,275.1h0.7v0.7h-0.7zM108.0,284.1h0.7v0.7h-0.7zM105.6,281.6h0.7v0.7h-0.7zM106.2,285.5h0.7v0.7h-0.7zM111.3,274.1h0.7v0.7h-0.7zM105.2,280.2h0.7v0.7h-0.7zM105.0,276.6h0.7v0.7h-0.7zM108.2,275.5h0.7v0.7h-0.7zM108.7,280.9h0.7v0.7h-0.7zM106.1,282.9h0.7v0.7h-0.7zM106.4,276.3h0.7v0.7h-0.7zM109.7,281.2h0.7v0.7h-0.7zM101.3,281.9h0.7v0.7h-0.7zM106.2,281.4h0.7v0.7h-0.7zM107.3,283.1h0.7v0.7h-0.7zM107.8,289.2h0.7v0.7h-0.7zM106.3,284.8h0.7v0.7h-0.7zM113.6,275.4h0.7v0.7h-0.7zM109.5,282.1h0.7v0.7h-0.7zM110.2,279.2h0.7v0.7h-0.7zM105.0,289.3h0.7v0.7h-0.7zM110.3,279.7h0.7v0.7h-0.7zM104.0,278.8h0.7v0.7h-0.7zM102.8,283.7h0.7v0.7h-0.7zM112.4,279.2h0.7v0.7h-0.7zM103.9,287.3h0.7v0.7h-0.7zM108.6,276.4h0.7v0.7h-0.7zM103.7,283.2h0.7v0.7h-0.7zM101.4,279.9h0.7v0.7h-0.7zM102.2,282.2h0.7v0.7h-0.7zM111.5,273.9h0.7v0.7h-0.7zM105.5,281.5h0.7v0.7h-0.7zM113.0,276.5h0.7v0.7h-0.7zM111.6,269.7h0.7v0.7h-0.7zM108.4,278.0h0.7v0.7h-0.7zM108.7,275.7h0.7v0.7h-0.7zM105.8,277.3h0.7v0.7h-0.7zM107.9,278.8h0.7v0.7h-0.7zM109.6,280.5h0.7v0.7h-0.7zM110.9,276.5h0.7v0.7h-0.7zM106.8,279.2h0.7v0.7h-0.7zM105.4,289.3h0.7v0.7h-0.7zM110.9,274.0h0.7v0.7h-0.7zM110.3,284.7h0.7v0.7h-0.7zM107.2,278.8h0.7v0.7h-0.7zM110.4,280.3h0.7v0.7h-0.7zM107.4,272.7h0.7v0.7h-0.7zM109.6,272.4h0.7v0.7h-0.7zM104.8,281.5h0.7v0.7h-0.7zM105.0,289.8h0.7v0.7h-0.7zM107.2,275.9h0.7v0.7h-0.7zM108.9,276.6h0.7v0.7h-0.7zM113.9,269.6h0.7v0.7h-0.7zM100.8,283.1h0.7v0.7h-0.7zM110.3,269.1h0.7v0.7h-0.7zM107.2,276.6h0.7v0.7h-0.7zM109.9,270.3h0.7v0.7h-0.7zM108.1,271.1h0.7v0.7h-0.7zM102.6,278.7h0.7v0.7h-0.7zM103.3,279.2h0.7v0.7h-0.7zM108.0,269.8h0.7v0.7h-0.7zM110.9,277.5h0.7v0.7h-0.7zM109.6,281.2h0.7v0.7h-0.7zM100.3,290.4h0.7v0.7h-0.7zM109.0,275.9h0.7v0.7h-0.7zM114.5,270.3h0.7v0.7h-0.7zM109.1,277.9h0.7v0.7h-0.7zM109.0,277.6h0.7v0.7h-0.7zM115.7,271.2h0.7v0.7h-0.7zM107.4,275.6h0.7v0.7h-0.7zM104.5,287.7h0.7v0.7h-0.7zM105.5,283.5h0.7v0.7h-0.7zM102.2,290.9h0.7v0.7h-0.7zM110.4,274.3h0.7v0.7h-0.7zM110.0,275.0h0.7v0.7h-0.7zM109.3,280.5h0.7v0.7h-0.7zM107.3,283.5h0.7v0.7h-0.7zM106.3,287.1h0.7v0.7h-0.7zM109.4,274.6h0.7v0.7h-0.7zM115.5,280.9h0.7v0.7h-0.7zM105.9,287.6h0.7v0.7h-0.7zM110.5,275.5h0.7v0.7h-0.7z" fill="#000" opacity="0.6"/>
<path d="M103.8,284.4h0.8v0.8h-0.8zM108.9,277.1h0.8v0.8h-0.8zM108.1,276.6h0.8v0.8h-0.8zM105.7,277.9h0.8v0.8h-0.8zM100.9,282.3h0.8v0.8h-0.8zM105.5,281.3h0.8v0.8h-0.8zM105.7,279.1h0.8v0.8h-0.8zM104.6,283.1h0.8v0.8h-0.8zM112.6,266.9h0.8v0.8h-0.8zM107.7,277.3h0.8v0.8h-0.8zM104.4,278.9h0.8v0.8h-0.8zM106.6,276.0h0.8v0.8h-0.8zM107.3,278.2h0.8v0.8h-0.8zM104.4,281.8h0.8v0.8h-0.8zM106.1,275.3h0.8v0.8h-0.8zM108.2,277.9h0.8v0.8h-0.8zM108.0,276.4h0.8v0.8h-0.8zM106.4,275.8h0.8v0.8h-0.8zM106.8,278.5h0.8v0.8h-0.8zM105.8,280.1h0.8v0.8h-0.8zM106.5,274.8h0.8v0.8h-0.8zM107.6,270.4h0.8v0.8h-0.8zM109.6,276.0h0.8v0.8h-0.8zM109.0,277.1h0.8v0.8h-0.8zM108.4,276.0h0.8v0.8h-0.8zM106.3,278.5h0.8v0.8h-0.8zM107.7,275.6h0.8v0.8h-0.8zM104.7,281.7h0.8v0.8h-0.8zM106.3,274.0h0.8v0.8h-0.8zM105.7,277.2h0.8v0.8h-0.8zM106.5,276.3h0.8v0.8h-0.8zM105.1,282.0h0.8v0.8h-0.8zM106.1,275.5h0.8v0.8h-0.8zM110.2,278.7h0.8v0.8h-0.8zM103.1,275.2h0.8v0.8h-0.8zM107.7,277.2h0.8v0.8h-0.8zM107.8,275.8h0.8v0.8h-0.8zM105.1,285.1h0.8v0.8h-0.8zM103.0,280.0h0.8v0.8h-0.8zM106.8,276.9h0.8v0.8h-0.8zM109.5,279.4h0.8v0.8h-0.8zM103.9,282.5h0.8v0.8h-0.8zM104.2,278.9h0.8v0.8h-0.8zM102.3,279.4h0.8v0.8h-0.8zM103.2,280.3h0.8v0.8h-0.8zM105.7,284.3h0.8v0.8h-0.8zM106.5,276.8h0.8v0.8h-0.8zM106.7,273.7h0.8v0.8h-0.8zM106.7,274.2h0.8v0.8h-0.8zM104.8,279.3h0.8v0.8h-0.8zM104.7,280.0h0.8v0.8h-0.8zM106.8,278.6h0.8v0.8h-0.8zM104.6,277.3h0.8v0.8h-0.8zM103.2,279.9h0.8v0.8h-0.8zM106.4,279.7h0.8v0.8h-0.8zM106.9,276.9h0.8v0.8h-0.8zM109.2,280.4h0.8v0.8h-0.8zM105.1,278.1h0.8v0.8h-0.8zM106.9,282.2h0.8v0.8h-0.8zM108.0,279.2h0.8v0.8h-0.8zM101.1,281.0h0.8v0.8h-0.8zM104.6,280.1h0.8v0.8h-0.8zM106.9,275.4h0.8v0.8h-0.8zM105.1,277.0h0.8v0.8h-0.8zM105.3,275.6h0.8v0.8h-0.8zM106.7,278.8h0.8v0.8h-0.8zM107.1,276.2h0.8v0.8h-0.8zM102.6,281.8h0.8v0.8h-0.8zM106.4,282.6h0.8v0.8h-0.8zM107.4,280.3h0.8v0.8h-0.8zM111.6,274.2h0.8v0.8h-0.8zM110.0,276.4h0.8v0.8h-0.8zM103.7,282.1h0.8v0.8h-0.8zM106.4,281.3h0.8v0.8h-0.8zM106.2,279.5h0.8v0.8h-0.8zM103.6,278.9h0.8v0.8h-0.8zM111.0,274.3h0.8v0.8h-0.8zM106.7,273.7h0.8v0.8h-0.8zM105.1,279.5h0.8v0.8h-0.8zM106.9,277.1h0.8v0.8h-0.8zM105.1,283.4h0.8v0.8h-0.8zM109.8,280.1h0.8v0.8h-0.8zM106.0,279.7h0.8v0.8h-0.8zM104.6,280.9h0.8v0.8h-0.8zM107.1,273.9h0.8v0.8h-0.8zM109.6,278.3h0.8v0.8h-0.8zM101.3,280.2h0.8v0.8h-0.8zM108.5,273.8h0.8v0.8h-0.8zM106.3,278.5h0.8v0.8h-0.8zM108.9,277.5h0.8v0.8h-0.8zM104.5,278.1h0.8v0.8h-0.8zM107.7,278.6h0.8v0.8h-0.8zM104.8,280.6h0.8v0.8h-0.8zM111.0,276.8h0.8v0.8h-0.8zM107.4,277.4h0.8v0.8h-0.8zM111.2,278.2h0.8v0.8h-0.8zM103.3,282.6h0.8v0.8h-0.8zM104.9,280.2h0.8v0.8h-0.8zM106.1,280.6h0.8v0.8h-0.8zM108.5,280.9h0.8v0.8h-0.8zM108.6,275.0h0.8v0.8h-0.8zM109.2,275.3h0.8v0.8h-0.8zM110.9,276.3h0.8v0.8h-0.8zM102.6,278.0h0.8v0.8h-0.8zM103.9,276.9h0.8v0.8h-0.8zM105.9,278.1h0.8v0.8h-0.8zM108.5,272.6h0.8v0.8h-0.8zM107.7,278.8h0.8v0.8h-0.8zM109.9,275.2h0.8v0.8h-0.8zM105.1,277.6h0.8v0.8h-0.8zM105.1,278.2h0.8v0.8h-0.8zM108.2,278.1h0.8v0.8h-0.8zM106.1,281.9h0.8v0.8h-0.8zM107.6,273.6h0.8v0.8h-0.8zM106.1,278.6h0.8v0.8h-0.8zM105.5,277.4h0.8v0.8h-0.8zM107.3,272.5h0.8v0.8h-0.8zM110.2,269.6h0.8v0.8h-0.8zM103.9,279.0h0.8v0.8h-0.8zM105.3,281.0h0.8v0.8h-0.8zM108.3,274.8h0.8v0.8h-0.8zM106.1,279.2h0.8v0.8h-0.8zM107.4,276.4h0.8v0.8h-0.8zM107.9,277.3h0.8v0.8h-0.8zM107.6,275.3h0.8v0.8h-0.8zM108.2,276.4h0.8v0.8h-0.8zM102.8,281.1h0.8v0.8h-0.8zM105.7,275.4h0.8v0.8h-0.8zM107.7,278.1h0.8v0.8h-0.8zM103.4,282.3h0.8v0.8h-0.8zM105.6,280.0h0.8v0.8h-0.8zM104.8,277.9h0.8v0.8h-0.8zM108.4,274.5h0.8v0.8h-0.8zM104.9,279.1h0.8v0.8h-0.8zM104.4,279.4h0.8v0.8h-0.8zM106.1,280.7h0.8v0.8h-0.8zM106.3,277.4h0.8v0.8h-0.8zM106.6,280.9h0.8v0.8h-0.8zM105.3,277.9h0.8v0.8h-0.8zM105.9,282.8h0.8v0.8h-0.8zM107.9,273.1h0.8v0.8h-0.8zM106.6,279.9h0.8v0.8h-0.8zM108.0,273.9h0.8v0.8h-0.8zM110.0,278.9h0.8v0.8h-0.8zM107.2,277.0h0.8v0.8h-0.8zM108.6,276.7h0.8v0.8h-0.8zM107.5,277.3h0.8v0.8h-0.8zM110.3,272.1h0.8v0.8h-0.8zM106.7,280.5h0.8v0.8h-0.8zM108.7,272.5h0.8v0.8h-0.8zM105.2,280.9h0.8v0.8h-0.8zM106.3,277.5h0.8v0.8h-0.8zM106.7,277.0h0.8v0.8h-0.8zM107.0,278.4h0.8v0.8h-0.8zM106.4,275.3h0.8v0.8h-0.8zM107.9,279.3h0.8v0.8h-0.8zM108.7,280.4h0.8v0.8h-0.8zM109.5,271.4h0.8v0.8h-0.8zM104.9,277.5h0.8v0.8h-0.8zM107.8,277.3h0.8v0.8h-0.8zM103.0,281.5h0.8v0.8h-0.8zM105.3,282.9h0.8v0.8h-0.8zM105.6,282.3h0.8v0.8h-0.8zM110.6,279.5h0.8v0.8h-0.8zM108.6,276.2h0.8v0.8h-0.8zM108.5,276.2h0.8v0.8h-0.8zM108.6,277.5h0.8v0.8h-0.8zM104.3,285.9h0.8v0.8h-0.8zM103.6,280.3h0.8v0.8h-0.8zM105.5,273.8h0.8v0.8h-0.8zM106.2,275.1h0.8v0.8h-0.8zM107.3,281.1h0.8v0.8h-0.8zM107.1,276.1h0.8v0.8h-0.8zM108.0,273.9h0.8v0.8h-0.8zM106.9,280.6h0.8v0.8h-0.8zM109.3,276.7h0.8v0.8h-0.8zM106.2,280.0h0.8v0.8h-0.8zM104.3,280.5h0.8v0.8h-0.8zM109.0,275.6h0.8v0.8h-0.8zM106.7,283.9h0.8v0.8h-0.8zM112.3,267.2h0.8v0.8h-0.8zM104.8,275.3h0.8v0.8h-0.8zM106.5,277.9h0.8v0.8h-0.8zM102.1,278.8h0.8v0.8h-0.8zM107.7,273.8h0.8v0.8h-0.8zM106.8,284.5h0.8v0.8h-0.8zM106.8,282.1h0.8v0.8h-0.8zM107.3,277.1h0.8v0.8h-0.8zM105.8,279.2h0.8v0.8h-0.8zM109.2,276.4h0.8v0.8h-0.8zM101.8,281.1h0.8v0.8h-0.8zM110.0,279.6h0.8v0.8h-0.8zM106.6,275.2h0.8v0.8h-0.8zM105.0,274.5h0.8v0.8h-0.8zM105.9,284.2h0.8v0.8h-0.8zM110.2,280.5h0.8v0.8h-0.8zM109.0,273.2h0.8v0.8h-0.8zM105.2,278.7h0.8v0.8h-0.8zM106.6,278.8h0.8v0.8h-0.8zM108.8,277.3h0.8v0.8h-0.8zM102.9,282.4h0.8v0.8h-0.8zM105.6,276.4h0.8v0.8h-0.8zM108.9,270.2h0.8v0.8h-0.8zM109.0,278.3h0.8v0.8h-0.8zM106.5,275.0h0.8v0.8h-0.8zM103.7,281.4h0.8v0.8h-0.8zM104.6,279.1h0.8v0.8h-0.8zM109.2,268.2h0.8v0.8h-0.8zM108.8,274.3h0.8v0.8h-0.8zM111.4,280.0h0.8v0.8h-0.8zM107.5,274.1h0.8v0.8h-0.8zM110.8,280.1h0.8v0.8h-0.8zM111.5,276.0h0.8v0.8h-0.8zM107.3,274.1h0.8v0.8h-0.8zM102.4,282.4h0.8v0.8h-0.8zM107.9,274.4h0.8v0.8h-0.8zM103.5,279.7h0.8v0.8h-0.8zM104.5,278.5h0.8v0.8h-0.8zM109.1,273.1h0.8v0.8h-0.8zM105.2,284.5h0.8v0.8h-0.8zM106.2,274.0h0.8v0.8h-0.8zM106.9,279.8h0.8v0.8h-0.8zM110.4,275.5h0.8v0.8h-0.8zM107.7,277.9h0.8v0.8h-0.8zM106.9,282.0h0.8v0.8h-0.8zM105.6,279.2h0.8v0.8h-0.8zM107.9,275.4h0.8v0.8h-0.8zM102.5,282.5h0.8v0.8h-0.8zM105.1,273.0h0.8v0.8h-0.8zM105.3,279.0h0.8v0.8h-0.8zM109.4,274.6h0.8v0.8h-0.8zM106.0,278.7h0.8v0.8h-0.8zM108.5,274.7h0.8v0.8h-0.8zM108.1,272.6h0.8v0.8h-0.8zM105.9,280.4h0.8v0.8h-0.8zM106.7,275.0h0.8v0.8h-0.8zM105.8,275.4h0.8v0.8h-0.8zM106.1,275.8h0.8v0.8h-0.8zM108.2,275.1h0.8v0.8h-0.8zM107.1,271.7h0.8v0.8h-0.8zM106.9,274.1h0.8v0.8h-0.8zM110.9,272.7h0.8v0.8h-0.8zM107.9,285.4h0.8v0.8h-0.8zM108.4,273.3h0.8v0.8h-0.8zM107.1,275.7h0.8v0.8h-0.8zM104.9,280.5h0.8v0.8h-0.8zM108.8,273.4h0.8v0.8h-0.8zM103.7,284.8h0.8v0.8h-0.8zM103.9,283.9h0.8v0.8h-0.8zM108.7,281.7h0.8v0.8h-0.8zM111.1,276.1h0.8v0.8h-0.8zM103.6,283.1h0.8v0.8h-0.8zM104.7,281.4h0.8v0.8h-0.8zM105.9,280.3h0.8v0.8h-0.8zM110.7,277.1h0.8v0.8h-0.8zM104.1,283.9h0.8v0.8h-0.8zM106.3,282.3h0.8v0.8h-0.8zM109.7,279.3h0.8v0.8h-0.8zM103.0,279.8h0.8v0.8h-0.8zM109.3,270.2h0.8v0.8h-0.8zM105.9,279.1h0.8v0.8h-0.8zM105.5,276.6h0.8v0.8h-0.8zM108.9,277.5h0.8v0.8h-0.8zM104.6,280.3h0.8v0.8h-0.8zM108.8,276.7h0.8v0.8h-0.8zM108.4,275.8h0.8v0.8h-0.8zM104.6,278.4h0.8v0.8h-0.8zM107.0,277.4h0.8v0.8h-0.8zM105.4,274.3h0.8v0.8h-0.8zM106.3,277.1h0.8v0.8h-0.8zM105.5,280.1h0.8v0.8h-0.8zM102.1,277.3h0.8v0.8h-0.8zM108.9,274.2h0.8v0.8h-0.8zM103.1,278.6h0.8v0.8h-0.8zM109.0,278.0h0.8v0.8h-0.8zM105.7,272.7h0.8v0.8h-0.8zM109.3,278.4h0.8v0.8h-0.8zM107.0,279.1h0.8v0.8h-0.8zM104.2,280.9h0.8v0.8h-0.8zM105.0,277.3h0.8v0.8h-0.8zM106.3,278.8h0.8v0.8h-0.8zM105.5,278.4h0.8v0.8h-0.8zM104.4,279.6h0.8v0.8h-0.8zM108.0,280.8h0.8v0.8h-0.8zM107.7,276.9h0.8v0.8h-0.8zM107.4,274.4h0.8v0.8h-0.8zM103.8,279.5h0.8v0.8h-0.8zM104.6,274.4h0.8v0.8h-0.8zM109.2,275.8h0.8v0.8h-0.8zM106.1,281.5h0.8v0.8h-0.8zM107.9,274.3h0.8v0.8h-0.8zM106.2,281.0h0.8v0.8h-0.8zM107.7,279.6h0.8v0.8h-0.8zM108.6,275.2h0.8v0.8h-0.8zM104.2,278.8h0.8v0.8h-0.8zM109.5,277.3h0.8v0.8h-0.8zM103.8,278.7h0.8v0.8h-0.8zM106.5,277.5h0.8v0.8h-0.8zM108.3,278.1h0.8v0.8h-0.8zM107.4,281.9h0.8v0.8h-0.8zM109.6,275.4h0.8v0.8h-0.8zM109.5,275.9h0.8v0.8h-0.8zM108.0,281.7h0.8v0.8h-0.8zM105.0,280.8h0.8v0.8h-0.8zM107.2,280.2h0.8v0.8h-0.8zM107.4,272.2h0.8v0.8h-0.8zM107.1,279.3h0.8v0.8h-0.8zM103.7,279.4h0.8v0.8h-0.8zM104.6,282.0h0.8v0.8h-0.8zM106.4,280.2h0.8v0.8h-0.8zM105.8,275.5h0.8v0.8h-0.8zM103.7,284.1h0.8v0.8h-0.8zM102.1,282.6h0.8v0.8h-0.8zM106.2,275.4h0.8v0.8h-0.8zM104.8,281.2h0.8v0.8h-0.8zM109.2,275.9h0.8v0.8h-0.8zM105.4,273.6h0.8v0.8h-0.8zM106.2,274.6h0.8v0.8h-0.8zM107.0,274.4h0.8v0.8h-0.8zM108.7,273.1h0.8v0.8h-0.8zM108.3,275.5h0.8v0.8h-0.8zM106.1,278.8h0.8v0.8h-0.8zM107.0,275.7h0.8v0.8h-0.8zM107.2,275.6h0.8v0.8h-0.8zM106.9,281.3h0.8v0.8h-0.8zM104.7,282.1h0.8v0.8h-0.8zM102.3,279.9h0.8v0.8h-0.8zM105.7,283.3h0.8v0.8h-0.8zM108.0,275.3h0.8v0.8h-0.8zM105.4,278.5h0.8v0.8h-0.8zM106.4,275.6h0.8v0.8h-0.8zM105.9,277.3h0.8v0.8h-0.8zM108.7,275.0h0.8v0.8h-0.8zM106.0,279.8h0.8v0.8h-0.8zM108.8,281.0h0.8v0.8h-0.8zM105.3,279.8h0.8v0.8h-0.8zM108.0,276.1h0.8v0.8h-0.8zM103.7,280.5h0.8v0.8h-0.8zM104.5,279.0h0.8v0.8h-0.8zM108.1,272.6h0.8v0.8h-0.8zM104.3,282.5h0.8v0.8h-0.8zM108.9,274.4h0.8v0.8h-0.8zM106.3,280.0h0.8v0.8h-0.8zM109.7,274.9h0.8v0.8h-0.8zM110.6,277.2h0.8v0.8h-0.8zM107.6,272.0h0.8v0.8h-0.8zM105.0,275.8h0.8v0.8h-0.8zM105.0,276.5h0.8v0.8h-0.8zM108.9,274.7h0.8v0.8h-0.8zM110.4,272.9h0.8v0.8h-0.8zM103.9,276.2h0.8v0.8h-0.8zM107.5,281.3h0.8v0.8h-0.8zM109.6,277.9h0.8v0.8h-0.8zM106.4,279.0h0.8v0.8h-0.8zM103.5,280.2h0.8v0.8h-0.8zM104.7,279.3h0.8v0.8h-0.8zM106.6,278.4h0.8v0.8h-0.8zM108.4,273.9h0.8v0.8h-0.8zM107.8,275.6h0.8v0.8h-0.8zM104.5,277.1h0.8v0.8h-0.8zM110.4,276.2h0.8v0.8h-0.8zM103.7,283.0h0.8v0.8h-0.8zM106.7,279.4h0.8v0.8h-0.8zM109.8,275.2h0.8v0.8h-0.8zM105.9,278.0h0.8v0.8h-0.8zM105.0,281.9h0.8v0.8h-0.8zM107.9,273.0h0.8v0.8h-0.8zM106.0,275.2h0.8v0.8h-0.8zM106.5,275.0h0.8v0.8h-0.8zM110.2,277.1h0.8v0.8h-0.8zM107.6,279.1h0.8v0.8h-0.8zM107.5,282.3h0.8v0.8h-0.8zM106.3,278.6h0.8v0.8h-0.8zM104.1,278.2h0.8v0.8h-0.8zM109.4,277.1h0.8v0.8h-0.8zM105.1,280.1h0.8v0.8h-0.8zM108.0,276.5h0.8v0.8h-0.8zM107.5,271.9h0.8v0.8h-0.8zM104.5,283.7h0.8v0.8h-0.8zM105.2,278.0h0.8v0.8h-0.8zM105.4,276.8h0.8v0.8h-0.8zM106.4,279.6h0.8v0.8h-0.8zM109.1,279.0h0.8v0.8h-0.8zM103.2,279.0h0.8v0.8h-0.8zM108.4,281.8h0.8v0.8h-0.8zM108.4,279.1h0.8v0.8h-0.8zM104.7,278.7h0.8v0.8h-0.8zM106.7,276.0h0.8v0.8h-0.8zM108.5,273.8h0.8v0.8h-0.8zM110.3,276.9h0.8v0.8h-0.8zM104.6,277.4h0.8v0.8h-0.8zM110.5,275.0h0.8v0.8h-0.8zM104.6,276.8h0.8v0.8h-0.8zM107.7,276.3h0.8v0.8h-0.8zM109.7,279.8h0.8v0.8h-0.8zM105.1,278.9h0.8v0.8h-0.8zM110.5,272.3h0.8v0.8h-0.8zM105.6,279.4h0.8v0.8h-0.8zM105.2,281.0h0.8v0.8h-0.8zM109.5,280.6h0.8v0.8h-0.8zM109.8,275.3h0.8v0.8h-0.8zM104.0,280.8h0.8v0.8h-0.8zM99.8,285.5h0.8v0.8h-0.8zM104.1,278.8h0.8v0.8h-0.8zM108.4,274.6h0.8v0.8h-0.8zM107.8,277.5h0.8v0.8h-0.8zM105.7,277.7h0.8v0.8h-0.8zM105.7,276.2h0.8v0.8h-0.8zM107.9,279.7h0.8v0.8h-0.8zM106.4,277.3h0.8v0.8h-0.8zM103.5,277.1h0.8v0.8h-0.8zM108.8,272.0h0.8v0.8h-0.8zM107.2,282.1h0.8v0.8h-0.8zM105.0,281.5h0.8v0.8h-0.8zM107.2,276.8h0.8v0.8h-0.8zM107.3,276.3h0.8v0.8h-0.8zM105.4,279.2h0.8v0.8h-0.8zM111.4,274.0h0.8v0.8h-0.8zM101.5,284.9h0.8v0.8h-0.8zM110.0,275.8h0.8v0.8h-0.8zM107.2,272.7h0.8v0.8h-0.8zM109.5,281.6h0.8v0.8h-0.8zM102.8,280.5h0.8v0.8h-0.8zM102.0,284.0h0.8v0.8h-0.8zM103.2,278.8h0.8v0.8h-0.8zM106.4,280.1h0.8v0.8h-0.8zM106.5,273.0h0.8v0.8h-0.8zM106.2,281.5h0.8v0.8h-0.8zM107.7,275.4h0.8v0.8h-0.8zM104.2,278.7h0.8v0.8h-0.8zM109.2,272.7h0.8v0.8h-0.8zM107.3,278.4h0.8v0.8h-0.8zM106.4,274.9h0.8v0.8h-0.8zM107.6,275.7h0.8v0.8h-0.8zM104.7,282.2h0.8v0.8h-0.8zM109.7,277.0h0.8v0.8h-0.8zM108.3,278.0h0.8v0.8h-0.8zM106.9,284.6h0.8v0.8h-0.8zM106.0,275.3h0.8v0.8h-0.8zM108.2,275.3h0.8v0.8h-0.8zM102.9,280.4h0.8v0.8h-0.8zM106.7,276.4h0.8v0.8h-0.8zM108.2,276.5h0.8v0.8h-0.8zM103.1,283.2h0.8v0.8h-0.8zM106.2,275.6h0.8v0.8h-0.8zM108.1,277.7h0.8v0.8h-0.8zM109.3,277.3h0.8v0.8h-0.8zM104.9,276.8h0.8v0.8h-0.8zM107.8,277.5h0.8v0.8h-0.8zM104.9,276.6h0.8v0.8h-0.8zM104.5,278.5h0.8v0.8h-0.8zM108.4,277.0h0.8v0.8h-0.8zM106.0,280.6h0.8v0.8h-0.8zM110.0,276.8h0.8v0.8h-0.8zM111.3,278.9h0.8v0.8h-0.8zM106.2,274.9h0.8v0.8h-0.8zM108.3,277.9h0.8v0.8h-0.8zM108.7,274.6h0.8v0.8h-0.8zM108.0,274.6h0.8v0.8h-0.8zM106.5,281.6h0.8v0.8h-0.8zM108.0,275.6h0.8v0.8h-0.8zM104.9,278.9h0.8v0.8h-0.8zM107.2,276.4h0.8v0.8h-0.8zM106.3,279.0h0.8v0.8h-0.8zM101.1,286.7h0.8v0.8h-0.8zM108.6,278.1h0.8v0.8h-0.8zM102.1,277.7h0.8v0.8h-0.8zM108.4,278.2h0.8v0.8h-0.8zM105.4,277.5h0.8v0.8h-0.8zM108.4,279.5h0.8v0.8h-0.8zM104.7,278.7h0.8v0.8h-0.8zM105.9,274.0h0.8v0.8h-0.8zM107.8,280.0h0.8v0.8h-0.8zM108.0,280.7h0.8v0.8h-0.8zM109.9,278.3h0.8v0.8h-0.8zM110.2,274.8h0.8v0.8h-0.8zM106.4,277.5h0.8v0.8h-0.8zM107.2,274.9h0.8v0.8h-0.8zM104.2,279.8h0.8v0.8h-0.8zM104.9,278.5h0.8v0.8h-0.8zM110.3,273.0h0.8v0.8h-0.8zM107.4,276.1h0.8v0.8h-0.8zM106.6,284.0h0.8v0.8h-0.8zM107.8,275.5h0.8v0.8h-0.8zM104.5,281.1h0.8v0.8h-0.8zM110.5,274.6h0.8v0.8h-0.8zM104.3,285.1h0.8v0.8h-0.8zM105.5,275.8h0.8v0.8h-0.8zM106.9,275.5h0.8v0.8h-0.8zM105.6,276.1h0.8v0.8h-0.8zM108.8,276.4h0.8v0.8h-0.8zM107.0,277.3h0.8v0.8h-0.8zM108.4,279.2h0.8v0.8h-0.8zM104.7,282.1h0.8v0.8h-0.8zM110.9,274.4h0.8v0.8h-0.8zM105.1,279.9h0.8v0.8h-0.8zM105.1,282.0h0.8v0.8h-0.8zM110.3,278.6h0.8v0.8h-0.8zM99.3,281.7h0.8v0.8h-0.8zM104.1,282.3h0.8v0.8h-0.8zM101.8,282.9h0.8v0.8h-0.8zM104.8,279.3h0.8v0.8h-0.8zM106.5,277.9h0.8v0.8h-0.8zM104.0,279.0h0.8v0.8h-0.8zM107.7,276.4h0.8v0.8h-0.8zM108.1,275.3h0.8v0.8h-0.8zM108.4,274.4h0.8v0.8h-0.8zM105.8,272.5h0.8v0.8h-0.8zM109.2,278.1h0.8v0.8h-0.8zM107.3,281.5h0.8v0.8h-0.8zM105.7,279.4h0.8v0.8h-0.8zM103.8,279.1h0.8v0.8h-0.8zM105.3,277.1h0.8v0.8h-0.8zM105.2,282.2h0.8v0.8h-0.8zM107.3,276.3h0.8v0.8h-0.8zM105.0,280.7h0.8v0.8h-0.8zM107.1,278.9h0.8v0.8h-0.8zM110.3,279.7h0.8v0.8h-0.8zM104.9,278.7h0.8v0.8h-0.8zM111.3,278.1h0.8v0.8h-0.8zM104.5,277.9h0.8v0.8h-0.8zM110.2,273.1h0.8v0.8h-0.8zM103.6,286.7h0.8v0.8h-0.8zM108.8,278.3h0.8v0.8h-0.8zM106.5,277.0h0.8v0.8h-0.8zM106.0,277.0h0.8v0.8h-0.8zM109.0,273.9h0.8v0.8h-0.8zM100.9,283.7h0.8v0.8h-0.8zM109.0,275.1h0.8v0.8h-0.8zM106.8,277.1h0.8v0.8h-0.8zM107.1,279.5h0.8v0.8h-0.8zM107.3,279.2h0.8v0.8h-0.8zM104.4,280.1h0.8v0.8h-0.8zM105.2,281.0h0.8v0.8h-0.8zM110.7,276.0h0.8v0.8h-0.8zM108.6,276.7h0.8v0.8h-0.8zM109.1,277.2h0.8v0.8h-0.8zM108.2,273.2h0.8v0.8h-0.8zM106.1,276.4h0.8v0.8h-0.8zM100.7,283.7h0.8v0.8h-0.8zM107.1,275.4h0.8v0.8h-0.8zM104.5,282.3h0.8v0.8h-0.8zM108.2,275.4h0.8v0.8h-0.8zM106.8,275.7h0.8v0.8h-0.8zM102.2,284.0h0.8v0.8h-0.8zM107.0,277.9h0.8v0.8h-0.8zM109.3,272.0h0.8v0.8h-0.8zM104.9,271.7h0.8v0.8h-0.8zM105.7,279.1h0.8v0.8h-0.8zM102.5,278.2h0.8v0.8h-0.8zM106.0,284.5h0.8v0.8h-0.8zM108.6,275.2h0.8v0.8h-0.8zM108.2,277.3h0.8v0.8h-0.8zM106.3,278.9h0.8v0.8h-0.8zM105.1,278.0h0.8v0.8h-0.8zM107.3,274.7h0.8v0.8h-0.8zM105.1,279.7h0.8v0.8h-0.8zM104.7,277.6h0.8v0.8h-0.8zM107.4,278.8h0.8v0.8h-0.8zM104.9,277.4h0.8v0.8h-0.8zM105.1,283.5h0.8v0.8h-0.8zM109.3,276.2h0.8v0.8h-0.8zM107.8,277.8h0.8v0.8h-0.8zM104.2,276.3h0.8v0.8h-0.8zM110.7,278.7h0.8v0.8h-0.8zM104.8,282.4h0.8v0.8h-0.8zM105.5,275.7h0.8v0.8h-0.8zM108.4,277.3h0.8v0.8h-0.8zM107.6,283.3h0.8v0.8h-0.8zM107.5,273.1h0.8v0.8h-0.8zM104.6,279.1h0.8v0.8h-0.8zM104.2,280.0h0.8v0.8h-0.8zM104.5,279.7h0.8v0.8h-0.8zM104.0,282.7h0.8v0.8h-0.8zM108.4,276.8h0.8v0.8h-0.8zM112.8,279.2h0.8v0.8h-0.8zM105.7,279.7h0.8v0.8h-0.8zM110.8,273.5h0.8v0.8h-0.8zM103.3,280.8h0.8v0.8h-0.8zM109.0,276.4h0.8v0.8h-0.8zM101.8,281.6h0.8v0.8h-0.8zM109.1,275.1h0.8v0.8h-0.8zM101.8,282.5h0.8v0.8h-0.8zM109.1,279.9h0.8v0.8h-0.8zM108.5,278.4h0.8v0.8h-0.8zM105.4,281.2h0.8v0.8h-0.8zM109.3,275.0h0.8v0.8h-0.8zM107.8,280.1h0.8v0.8h-0.8zM109.6,275.0h0.8v0.8h-0.8zM102.6,285.8h0.8v0.8h-0.8zM109.2,273.9h0.8v0.8h-0.8zM109.0,273.3h0.8v0.8h-0.8zM106.3,280.4h0.8v0.8h-0.8zM103.7,282.1h0.8v0.8h-0.8zM107.1,279.7h0.8v0.8h-0.8zM106.3,277.3h0.8v0.8h-0.8zM106.1,279.8h0.8v0.8h-0.8zM106.3,277.4h0.8v0.8h-0.8zM106.8,278.3h0.8v0.8h-0.8zM102.7,278.5h0.8v0.8h-0.8z" fill="#000" opacity="0.85"/>
<path d="M93.5,354.1h0.7v0.7h-0.7zM92.4,361.0h0.7v0.7h-0.7zM92.9,353.9h0.7v0.7h-0.7zM93.9,355.7h0.7v0.7h-0.7zM93.1,352.5h0.7v0.7h-0.7zM94.4,355.7h0.7v0.7h-0.7zM92.1,361.5h0.7v0.7h-0.7zM92.6,351.9h0.7v0.7h-0.7zM87.8,359.5h0.7v0.7h-0.7zM92.6,354.7h0.7v0.7h-0.7zM91.7,359.5h0.7v0.7h-0.7zM93.3,357.3h0.7v0.7h-0.7zM95.0,352.9h0.7v0.7h-0.7zM95.5,356.6h0.7v0.7h-0.7zM93.6,353.1h0.7v0.7h-0.7zM86.9,367.3h0.7v0.7h-0.7zM91.1,359.8h0.7v0.7h-0.7zM93.0,355.6h0.7v0.7h-0.7zM93.4,350.2h0.7v0.7h-0.7zM94.1,353.2h0.7v0.7h-0.7zM91.4,356.0h0.7v0.7h-0.7zM92.3,354.6h0.7v0.7h-0.7zM90.9,357.1h0.7v0.7h-0.7zM93.0,356.3h0.7v0.7h-0.7zM95.6,351.6h0.7v0.7h-0.7zM99.0,353.6h0.7v0.7h-0.7zM94.0,354.4h0.7v0.7h-0.7zM96.2,351.5h0.7v0.7h-0.7zM90.8,360.5h0.7v0.7h-0.7zM94.5,355.9h0.7v0.7h-0.7zM94.1,358.8h0.7v0.7h-0.7zM97.0,354.5h0.7v0.7h-0.7zM94.8,358.4h0.7v0.7h-0.7zM92.1,357.8h0.7v0.7h-0.7zM89.1,360.6h0.7v0.7h-0.7zM91.8,355.2h0.7v0.7h-0.7zM92.6,361.0h0.7v0.7h-0.7zM87.9,361.1h0.7v0.7h-0.7zM91.0,356.7h0.7v0.7h-0.7zM90.9,358.5h0.7v0.7h-0.7zM99.3,353.6h0.7v0.7h-0.7zM93.9,361.8h0.7v0.7h-0.7zM91.4,362.5h0.7v0.7h-0.7zM93.8,358.0h0.7v0.7h-0.7zM92.8,357.1h0.7v0.7h-0.7zM97.9,350.4h0.7v0.7h-0.7zM91.0,357.5h0.7v0.7h-0.7zM92.2,358.6h0.7v0.7h-0.7zM96.5,353.6h0.7v0.7h-0.7zM96.8,355.1h0.7v0.7h-0.7zM91.6,360.6h0.7v0.7h-0.7zM94.7,354.4h0.7v0.7h-0.7zM90.8,357.1h0.7v0.7h-0.7zM92.4,355.7h0.7v0.7h-0.7zM97.1,355.3h0.7v0.7h-0.7zM92.5,356.7h0.7v0.7h-0.7zM96.6,355.6h0.7v0.7h-0.7zM97.8,354.9h0.7v0.7h-0.7zM87.1,359.2h0.7v0.7h-0.7zM97.1,356.5h0.7v0.7h-0.7zM91.7,356.5h0.7v0.7h-0.7zM91.1,358.7h0.7v0.7h-0.7zM91.1,357.4h0.7v0.7h-0.7zM92.9,360.5h0.7v0.7h-0.7zM90.1,358.3h0.7v0.7h-0.7zM93.0,354.1h0.7v0.7h-0.7zM86.1,364.3h0.7v0.7h-0.7zM90.4,355.2h0.7v0.7h-0.7zM88.3,359.6h0.7v0.7h-0.7zM94.1,355.6h0.7v0.7h-0.7zM97.0,356.4h0.7v0.7h-0.7zM94.4,358.3h0.7v0.7h-0.7zM93.1,357.3h0.7v0.7h-0.7zM91.4,360.7h0.7v0.7h-0.7zM92.6,353.7h0.7v0.7h-0.7zM90.3,362.4h0.7v0.7h-0.7zM93.3,358.3h0.7v0.7h-0.7zM90.7,361.8h0.7v0.7h-0.7zM92.8,352.0h0.7v0.7h-0.7zM90.5,355.1h0.7v0.7h-0.7zM93.4,361.2h0.7v0.7h-0.7zM96.2,349.2h0.7v0.7h-0.7zM99.0,355.6h0.7v0.7h-0.7zM96.7,355.5h0.7v0.7h-0.7zM89.3,362.9h0.7v0.7h-0.7zM94.6,358.6h0.7v0.7h-0.7zM97.0,347.7h0.7v0.7h-0.7zM90.7,353.6h0.7v0.7h-0.7zM95.7,352.1h0.7v0.7h-0.7zM89.4,353.6h0.7v0.7h-0.7zM93.5,358.3h0.7v0.7h-0.7zM91.1,357.7h0.7v0.7h-0.7zM95.1,350.3h0.7v0.7h-0.7zM93.2,354.7h0.7v0.7h-0.7zM94.5,352.7h0.7v0.7h-0.7zM92.9,351.4h0.7v0.7h-0.7zM90.5,358.7h0.7v0.7h-0.7zM96.1,352.9h0.7v0.7h-0.7zM91.7,355.4h0.7v0.7h-0.7zM95.1,356.3h0.7v0.7h-0.7zM95.6,353.1h0.7v0.7h-0.7zM91.3,361.0h0.7v0.7h-0.7zM88.6,358.6h0.7v0.7h-0.7zM96.8,357.7h0.7v0.7h-0.7zM94.6,359.1h0.7v0.7h-0.7zM94.1,356.4h0.7v0.7h-0.7zM93.7,360.4h0.7v0.7h-0.7zM95.0,357.6h0.7v0.7h-0.7zM92.5,352.4h0.7v0.7h-0.7zM95.2,353.1h0.7v0.7h-0.7zM91.8,354.5h0.7v0.7h-0.7zM93.7,356.0h0.7v0.7h-0.7zM91.8,359.8h0.7v0.7h-0.7zM94.9,351.6h0.7v0.7h-0.7zM92.9,361.3h0.7v0.7h-0.7zM94.9,353.4h0.7v0.7h-0.7zM93.2,353.6h0.7v0.7h-0.7zM94.3,355.4h0.7v0.7h-0.7zM91.9,356.3h0.7v0.7h-0.7zM93.8,352.2h0.7v0.7h-0.7zM88.7,365.2h0.7v0.7h-0.7zM91.4,365.2h0.7v0.7h-0.7zM91.7,359.5h0.7v0.7h-0.7zM96.3,351.9h0.7v0.7h-0.7zM87.3,361.7h0.7v0.7h-0.7zM95.9,356.3h0.7v0.7h-0.7zM94.7,357.6h0.7v0.7h-0.7zM93.7,356.7h0.7v0.7h-0.7zM92.9,355.4h0.7v0.7h-0.7zM94.2,356.6h0.7v0.7h-0.7zM89.8,354.3h0.7v0.7h-0.7zM95.3,358.1h0.7v0.7h-0.7zM91.2,354.3h0.7v0.7h-0.7zM91.2,354.1h0.7v0.7h-0.7zM91.1,360.5h0.7v0.7h-0.7zM92.0,357.0h0.7v0.7h-0.7zM91.9,358.2h0.7v0.7h-0.7zM91.6,361.3h0.7v0.7h-0.7zM94.0,350.7h0.7v0.7h-0.7zM94.3,356.2h0.7v0.7h-0.7zM91.7,354.4h0.7v0.7h-0.7zM94.2,353.3h0.7v0.7h-0.7zM88.7,360.1h0.7v0.7h-0.7zM94.8,354.6h0.7v0.7h-0.7zM93.4,357.2h0.7v0.7h-0.7zM93.2,358.3h0.7v0.7h-0.7zM90.4,359.7h0.7v0.7h-0.7zM90.2,361.2h0.7v0.7h-0.7zM93.0,354.7h0.7v0.7h-0.7zM93.3,360.1h0.7v0.7h-0.7zM95.7,354.8h0.7v0.7h-0.7zM90.8,357.2h0.7v0.7h-0.7zM94.2,357.3h0.7v0.7h-0.7zM90.3,362.4h0.7v0.7h-0.7zM92.9,355.1h0.7v0.7h-0.7zM95.8,355.7h0.7v0.7h-0.7zM94.0,354.0h0.7v0.7h-0.7zM94.7,354.7h0.7v0.7h-0.7zM93.6,359.9h0.7v0.7h-0.7zM89.7,361.4h0.7v0.7h-0.7zM96.1,355.2h0.7v0.7h-0.7zM92.3,358.4h0.7v0.7h-0.7zM93.9,356.7h0.7v0.7h-0.7zM93.9,353.2h0.7v0.7h-0.7zM93.8,356.8h0.7v0.7h-0.7zM91.3,358.1h0.7v0.7h-0.7zM93.1,357.2h0.7v0.7h-0.7zM92.3,360.1h0.7v0.7h-0.7zM95.5,354.9h0.7v0.7h-0.7zM86.4,362.4h0.7v0.7h-0.7zM91.2,358.4h0.7v0.7h-0.7zM96.2,352.4h0.7v0.7h-0.7zM89.0,359.2h0.7v0.7h-0.7zM94.7,358.1h0.7v0.7h-0.7zM94.6,355.4h0.7v0.7h-0.7zM90.3,355.7h0.7v0.7h-0.7zM90.6,359.1h0.7v0.7h-0.7zM89.1,358.3h0.7v0.7h-0.7zM94.6,351.4h0.7v0.7h-0.7zM90.1,363.0h0.7v0.7h-0.7zM91.0,357.8h0.7v0.7h-0.7zM92.9,349.7h0.7v0.7h-0.7zM95.3,353.5h0.7v0.7h-0.7zM87.0,360.8h0.7v0.7h-0.7zM98.3,350.5h0.7v0.7h-0.7zM91.1,360.4h0.7v0.7h-0.7zM96.9,354.1h0.7v0.7h-0.7zM98.9,355.8h0.7v0.7h-0.7zM92.2,355.0h0.7v0.7h-0.7zM98.4,356.7h0.7v0.7h-0.7zM92.5,359.0h0.7v0.7h-0.7zM95.6,353.1h0.7v0.7h-0.7zM95.6,357.4h0.7v0.7h-0.7zM96.9,355.3h0.7v0.7h-0.7zM93.3,352.6h0.7v0.7h-0.7zM92.9,357.2h0.7v0.7h-0.7zM93.8,349.5h0.7v0.7h-0.7zM96.0,354.0h0.7v0.7h-0.7zM92.3,360.8h0.7v0.7h-0.7zM93.3,358.4h0.7v0.7h-0.7zM94.5,354.7h0.7v0.7h-0.7zM92.8,355.1h0.7v0.7h-0.7zM89.4,362.8h0.7v0.7h-0.7zM89.1,359.3h0.7v0.7h-0.7zM92.5,354.9h0.7v0.7h-0.7zM93.5,354.9h0.7v0.7h-0.7zM92.5,357.7h0.7v0.7h-0.7zM96.6,356.3h0.7v0.7h-0.7zM96.1,355.1h0.7v0.7h-0.7zM92.4,353.8h0.7v0.7h-0.7zM88.3,359.5h0.7v0.7h-0.7zM95.7,353.9h0.7v0.7h-0.7zM91.6,354.3h0.7v0.7h-0.7zM95.1,358.2h0.7v0.7h-0.7zM92.3,358.7h0.7v0.7h-0.7zM91.1,357.8h0.7v0.7h-0.7zM91.2,359.5h0.7v0.7h-0.7zM94.5,350.9h0.7v0.7h-0.7zM93.1,356.7h0.7v0.7h-0.7zM91.5,355.2h0.7v0.7h-0.7zM91.0,356.5h0.7v0.7h-0.7zM95.6,349.9h0.7v0.7h-0.7zM92.2,361.8h0.7v0.7h-0.7zM94.7,357.3h0.7v0.7h-0.7zM90.8,357.7h0.7v0.7h-0.7zM91.3,359.0h0.7v0.7h-0.7zM94.5,356.4h0.7v0.7h-0.7zM95.3,354.2h0.7v0.7h-0.7zM92.4,362.2h0.7v0.7h-0.7zM94.9,357.5h0.7v0.7h-0.7zM96.6,352.8h0.7v0.7h-0.7zM96.1,356.0h0.7v0.7h-0.7zM93.4,356.9h0.7v0.7h-0.7zM90.7,356.9h0.7v0.7h-0.7zM97.3,346.4h0.7v0.7h-0.7zM95.5,357.9h0.7v0.7h-0.7zM94.1,357.2h0.7v0.7h-0.7zM93.3,356.6h0.7v0.7h-0.7zM91.3,358.8h0.7v0.7h-0.7zM94.3,361.9h0.7v0.7h-0.7zM89.1,360.3h0.7v0.7h-0.7zM92.6,360.6h0.7v0.7h-0.7zM90.6,360.4h0.7v0.7h-0.7zM91.2,361.3h0.7v0.7h-0.7zM95.3,356.7h0.7v0.7h-0.7zM90.9,355.0h0.7v0.7h-0.7zM90.7,355.9h0.7v0.7h-0.7zM94.5,354.8h0.7v0.7h-0.7zM95.9,349.3h0.7v0.7h-0.7zM92.2,354.5h0.7v0.7h-0.7zM92.2,351.9h0.7v0.7h-0.7zM93.2,353.1h0.7v0.7h-0.7zM91.9,358.1h0.7v0.7h-0.7zM92.1,361.1h0.7v0.7h-0.7zM93.4,358.6h0.7v0.7h-0.7zM96.9,356.5h0.7v0.7h-0.7zM90.9,359.8h0.7v0.7h-0.7zM93.0,356.2h0.7v0.7h-0.7zM96.4,354.2h0.7v0.7h-0.7zM95.7,353.9h0.7v0.7h-0.7zM92.1,357.5h0.7v0.7h-0.7zM93.2,359.1h0.7v0.7h-0.7zM92.1,350.7h0.7v0.7h-0.7zM95.0,355.7h0.7v0.7h-0.7zM93.0,358.1h0.7v0.7h-0.7zM94.7,359.2h0.7v0.7h-0.7zM94.6,353.4h0.7v0.7h-0.7zM85.9,363.3h0.7v0.7h-0.7zM94.7,351.2h0.7v0.7h-0.7zM93.5,356.9h0.7v0.7h-0.7zM94.5,356.8h0.7v0.7h-0.7zM90.1,361.7h0.7v0.7h-0.7zM94.7,352.4h0.7v0.7h-0.7zM94.0,356.5h0.7v0.7h-0.7zM97.0,354.7h0.7v0.7h-0.7zM94.8,358.7h0.7v0.7h-0.7zM93.2,354.3h0.7v0.7h-0.7zM84.4,363.6h0.7v0.7h-0.7zM93.3,355.2h0.7v0.7h-0.7zM92.4,353.4h0.7v0.7h-0.7zM90.4,359.4h0.7v0.7h-0.7zM94.6,354.7h0.7v0.7h-0.7zM91.6,354.6h0.7v0.7h-0.7zM95.8,351.9h0.7v0.7h-0.7zM91.5,359.2h0.7v0.7h-0.7zM92.8,359.2h0.7v0.7h-0.7zM96.2,354.3h0.7v0.7h-0.7zM96.2,359.3h0.7v0.7h-0.7zM90.7,357.9h0.7v0.7h-0.7zM89.5,354.7h0.7v0.7h-0.7zM94.7,354.9h0.7v0.7h-0.7zM93.5,358.8h0.7v0.7h-0.7zM92.3,354.3h0.7v0.7h-0.7zM92.4,353.4h0.7v0.7h-0.7zM88.3,360.6h0.7v0.7h-0.7zM98.5,354.1h0.7v0.7h-0.7zM94.8,355.7h0.7v0.7h-0.7zM91.4,357.0h0.7v0.7h-0.7zM95.0,357.9h0.7v0.7h-0.7zM90.6,353.2h0.7v0.7h-0.7zM95.4,347.6h0.7v0.7h-0.7zM94.8,356.2h0.7v0.7h-0.7zM93.1,360.9h0.7v0.7h-0.7zM93.7,361.8h0.7v0.7h-0.7zM93.6,356.2h0.7v0.7h-0.7zM97.5,348.6h0.7v0.7h-0.7zM89.6,361.4h0.7v0.7h-0.7zM91.4,358.7h0.7v0.7h-0.7zM91.4,356.9h0.7v0.7h-0.7zM90.8,356.8h0.7v0.7h-0.7zM91.1,356.6h0.7v0.7h-0.7zM95.8,355.4h0.7v0.7h-0.7zM95.6,354.0h0.7v0.7h-0.7zM90.0,358.3h0.7v0.7h-0.7zM93.5,352.2h0.7v0.7h-0.7zM91.3,358.8h0.7v0.7h-0.7zM95.2,358.9h0.7v0.7h-0.7zM95.6,356.0h0.7v0.7h-0.7zM92.7,356.0h0.7v0.7h-0.7zM94.1,351.4h0.7v0.7h-0.7zM88.8,364.5h0.7v0.7h-0.7zM96.7,355.0h0.7v0.7h-0.7zM93.0,359.4h0.7v0.7h-0.7zM88.4,357.6h0.7v0.7h-0.7zM95.8,350.6h0.7v0.7h-0.7zM92.5,357.3h0.7v0.7h-0.7zM89.4,358.0h0.7v0.7h-0.7zM87.5,357.9h0.7v0.7h-0.7zM93.7,357.3h0.7v0.7h-0.7zM93.0,359.0h0.7v0.7h-0.7zM92.8,356.9h0.7v0.7h-0.7zM95.6,352.2h0.7v0.7h-0.7zM93.9,355.9h0.7v0.7h-0.7zM92.0,352.9h0.7v0.7h-0.7zM87.4,358.9h0.7v0.7h-0.7zM95.9,356.6h0.7v0.7h-0.7zM87.3,359.5h0.7v0.7h-0.7zM90.5,358.3h0.7v0.7h-0.7zM93.3,358.3h0.7v0.7h-0.7zM88.2,357.5h0.7v0.7h-0.7zM95.8,354.1h0.7v0.7h-0.7zM94.6,360.0h0.7v0.7h-0.7zM93.5,360.3h0.7v0.7h-0.7zM92.1,360.9h0.7v0.7h-0.7zM98.8,353.7h0.7v0.7h-0.7zM91.5,357.3h0.7v0.7h-0.7zM92.4,355.0h0.7v0.7h-0.7zM90.2,354.7h0.7v0.7h-0.7zM89.5,358.5h0.7v0.7h-0.7zM90.1,359.3h0.7v0.7h-0.7zM94.0,359.8h0.7v0.7h-0.7zM92.1,357.9h0.7v0.7h-0.7zM92.3,356.8h0.7v0.7h-0.7zM96.8,357.6h0.7v0.7h-0.7zM93.9,351.9h0.7v0.7h-0.7zM93.8,354.8h0.7v0.7h-0.7zM91.6,358.4h0.7v0.7h-0.7zM89.3,358.8h0.7v0.7h-0.7zM92.6,357.9h0.7v0.7h-0.7zM94.8,352.9h0.7v0.7h-0.7zM92.6,354.6h0.7v0.7h-0.7zM96.1,354.5h0.7v0.7h-0.7zM96.1,354.6h0.7v0.7h-0.7zM92.0,360.4h0.7v0.7h-0.7zM89.3,357.0h0.7v0.7h-0.7zM93.9,357.6h0.7v0.7h-0.7zM93.5,360.4h0.7v0.7h-0.7zM91.5,358.8h0.7v0.7h-0.7zM92.9,354.0h0.7v0.7h-0.7zM92.5,356.4h0.7v0.7h-0.7zM89.5,360.5h0.7v0.7h-0.7zM93.7,352.7h0.7v0.7h-0.7zM88.7,364.3h0.7v0.7h-0.7zM97.8,353.8h0.7v0.7h-0.7zM93.8,355.8h0.7v0.7h-0.7zM95.4,354.9h0.7v0.7h-0.7zM90.3,358.2h0.7v0.7h-0.7zM90.6,355.4h0.7v0.7h-0.7zM88.7,360.2h0.7v0.7h-0.7zM93.1,352.7h0.7v0.7h-0.7zM95.3,353.1h0.7v0.7h-0.7zM95.2,355.0h0.7v0.7h-0.7zM93.9,359.2h0.7v0.7h-0.7zM89.2,360.4h0.7v0.7h-0.7zM91.4,355.8h0.7v0.7h-0.7zM94.5,356.4h0.7v0.7h-0.7zM91.2,357.2h0.7v0.7h-0.7zM92.2,358.1h0.7v0.7h-0.7zM88.0,356.1h0.7v0.7h-0.7zM96.4,354.4h0.7v0.7h-0.7zM95.3,350.8h0.7v0.7h-0.7zM92.3,354.9h0.7v0.7h-0.7zM94.0,355.4h0.7v0.7h-0.7zM92.4,355.3h0.7v0.7h-0.7zM93.3,359.1h0.7v0.7h-0.7zM88.3,357.4h0.7v0.7h-0.7zM91.1,361.3h0.7v0.7h-0.7zM95.0,356.8h0.7v0.7h-0.7zM92.9,360.1h0.7v0.7h-0.7zM91.7,352.3h0.7v0.7h-0.7zM91.0,362.0h0.7v0.7h-0.7zM93.2,354.6h0.7v0.7h-0.7zM94.7,356.6h0.7v0.7h-0.7zM93.9,351.7h0.7v0.7h-0.7zM86.3,363.2h0.7v0.7h-0.7zM92.4,358.4h0.7v0.7h-0.7zM94.8,358.2h0.7v0.7h-0.7zM95.7,356.4h0.7v0.7h-0.7zM91.9,356.0h0.7v0.7h-0.7zM93.5,353.6h0.7v0.7h-0.7zM92.9,360.6h0.7v0.7h-0.7zM91.6,356.1h0.7v0.7h-0.7zM94.4,353.4h0.7v0.7h-0.7zM91.6,361.7h0.7v0.7h-0.7zM96.0,356.9h0.7v0.7h-0.7zM92.7,349.3h0.7v0.7h-0.7zM97.4,352.3h0.7v0.7h-0.7zM94.4,352.3h0.7v0.7h-0.7zM92.1,356.0h0.7v0.7h-0.7zM92.0,359.6h0.7v0.7h-0.7zM94.7,356.4h0.7v0.7h-0.7zM98.7,351.0h0.7v0.7h-0.7zM92.5,353.9h0.7v0.7h-0.7zM94.0,357.0h0.7v0.7h-0.7zM93.6,356.9h0.7v0.7h-0.7zM92.4,355.2h0.7v0.7h-0.7zM91.8,362.6h0.7v0.7h-0.7zM96.7,352.3h0.7v0.7h-0.7zM93.3,353.0h0.7v0.7h-0.7zM93.8,358.8h0.7v0.7h-0.7zM91.7,362.7h0.7v0.7h-0.7zM93.1,354.2h0.7v0.7h-0.7zM93.9,353.8h0.7v0.7h-0.7zM90.5,362.2h0.7v0.7h-0.7zM87.4,354.3h0.7v0.7h-0.7zM91.3,356.8h0.7v0.7h-0.7zM94.0,356.1h0.7v0.7h-0.7zM90.6,358.2h0.7v0.7h-0.7zM94.7,354.0h0.7v0.7h-0.7zM96.7,355.7h0.7v0.7h-0.7zM91.0,353.4h0.7v0.7h-0.7zM92.0,355.8h0.7v0.7h-0.7zM93.3,356.0h0.7v0.7h-0.7zM92.9,361.3h0.7v0.7h-0.7zM90.8,353.4h0.7v0.7h-0.7zM100.0,351.2h0.7v0.7h-0.7zM94.2,356.6h0.7v0.7h-0.7zM94.2,355.2h0.7v0.7h-0.7zM90.8,358.4h0.7v0.7h-0.7zM94.0,356.5h0.7v0.7h-0.7z" fill="#000" opacity="0.65"/>
<path d="M95.0,360.5h0.7v0.7h-0.7zM97.8,361.2h0.7v0.7h-0.7zM96.6,359.4h0.7v0.7h-0.7zM97.6,362.6h0.7v0.7h-0.7zM100.1,361.9h0.7v0.7h-0.7zM96.6,363.3h0.7v0.7h-0.7zM97.1,364.5h0.7v0.7h-0.7zM97.1,361.8h0.7v0.7h-0.7zM98.3,364.0h0.7v0.7h-0.7zM97.9,364.2h0.7v0.7h-0.7zM95.0,362.1h0.7v0.7h-0.7zM97.8,364.7h0.7v0.7h-0.7zM95.0,364.7h0.7v0.7h-0.7zM97.0,363.5h0.7v0.7h-0.7zM97.7,358.8h0.7v0.7h-0.7zM96.1,362.3h0.7v0.7h-0.7zM96.1,361.2h0.7v0.7h-0.7zM97.3,361.7h0.7v0.7h-0.7zM96.7,363.0h0.7v0.7h-0.7zM96.3,359.8h0.7v0.7h-0.7zM95.4,362.4h0.7v0.7h-0.7zM94.9,361.2h0.7v0.7h-0.7zM97.8,360.9h0.7v0.7h-0.7zM96.1,359.8h0.7v0.7h-0.7zM98.4,363.2h0.7v0.7h-0.7zM96.6,363.1h0.7v0.7h-0.7zM96.0,360.1h0.7v0.7h-0.7zM94.7,362.9h0.7v0.7h-0.7zM95.7,362.6h0.7v0.7h-0.7zM96.6,363.6h0.7v0.7h-0.7zM97.4,360.3h0.7v0.7h-0.7zM94.7,361.7h0.7v0.7h-0.7zM98.5,362.0h0.7v0.7h-0.7zM99.2,363.8h0.7v0.7h-0.7zM96.5,361.1h0.7v0.7h-0.7zM96.3,361.8h0.7v0.7h-0.7zM97.6,362.4h0.7v0.7h-0.7zM95.3,362.2h0.7v0.7h-0.7zM96.7,363.2h0.7v0.7h-0.7zM95.2,364.4h0.7v0.7h-0.7zM97.2,361.4h0.7v0.7h-0.7zM96.6,360.9h0.7v0.7h-0.7zM97.6,363.7h0.7v0.7h-0.7zM97.5,362.4h0.7v0.7h-0.7zM98.5,364.7h0.7v0.7h-0.7zM98.8,358.8h0.7v0.7h-0.7zM97.4,362.7h0.7v0.7h-0.7zM97.3,362.6h0.7v0.7h-0.7zM99.8,362.7h0.7v0.7h-0.7zM97.2,362.0h0.7v0.7h-0.7zM94.7,360.1h0.7v0.7h-0.7zM94.5,364.7h0.7v0.7h-0.7zM97.3,360.4h0.7v0.7h-0.7zM96.6,362.2h0.7v0.7h-0.7zM96.3,364.0h0.7v0.7h-0.7zM97.7,363.6h0.7v0.7h-0.7zM96.0,360.2h0.7v0.7h-0.7zM96.7,361.9h0.7v0.7h-0.7zM98.3,359.0h0.7v0.7h-0.7zM98.6,362.0h0.7v0.7h-0.7zM97.5,363.6h0.7v0.7h-0.7zM96.1,362.0h0.7v0.7h-0.7zM97.9,361.7h0.7v0.7h-0.7zM95.1,363.0h0.7v0.7h-0.7zM96.7,361.5h0.7v0.7h-0.7zM97.8,361.1h0.7v0.7h-0.7zM99.3,363.6h0.7v0.7h-0.7zM99.4,361.1h0.7v0.7h-0.7zM97.2,361.7h0.7v0.7h-0.7zM96.2,360.6h0.7v0.7h-0.7zM96.7,361.9h0.7v0.7h-0.7zM95.7,358.4h0.7v0.7h-0.7zM95.6,364.8h0.7v0.7h-0.7zM96.4,363.6h0.7v0.7h-0.7zM95.7,359.1h0.7v0.7h-0.7zM97.5,363.1h0.7v0.7h-0.7zM97.7,362.0h0.7v0.7h-0.7zM97.0,363.5h0.7v0.7h-0.7zM96.2,362.3h0.7v0.7h-0.7zM100.0,359.0h0.7v0.7h-0.7z" fill="#000" opacity="0.6"/>
<path d="M111.8,373.8h0.7v0.7h-0.7zM105.4,354.2h0.7v0.7h-0.7zM107.3,363.3h0.7v0.7h-0.7zM98.9,377.9h0.7v0.7h-0.7zM116.3,359.0h0.7v0.7h-0.7zM107.1,367.3h0.7v0.7h-0.7zM102.1,366.6h0.7v0.7h-0.7zM110.1,364.5h0.7v0.7h-0.7zM98.5,371.4h0.7v0.7h-0.7zM102.2,367.9h0.7v0.7h-0.7zM102.9,373.7h0.7v0.7h-0.7zM108.1,366.6h0.7v0.7h-0.7zM101.5,380.7h0.7v0.7h-0.7zM100.9,385.5h0.7v0.7h-0.7zM106.1,371.1h0.7v0.7h-0.7zM105.6,371.0h0.7v0.7h-0.7zM95.1,383.7h0.7v0.7h-0.7zM105.7,369.9h0.7v0.7h-0.7zM105.2,370.8h0.7v0.7h-0.7zM99.2,373.9h0.7v0.7h-0.7zM106.8,379.2h0.7v0.7h-0.7zM109.1,366.7h0.7v0.7h-0.7zM114.8,359.5h0.7v0.7h-0.7zM108.3,379.1h0.7v0.7h-0.7zM113.3,372.6h0.7v0.7h-0.7zM107.3,377.5h0.7v0.7h-0.7zM103.6,375.7h0.7v0.7h-0.7zM109.6,364.6h0.7v0.7h-0.7zM111.3,368.4h0.7v0.7h-0.7zM105.5,361.4h0.7v0.7h-0.7zM102.3,371.7h0.7v0.7h-0.7zM105.3,375.0h0.7v0.7h-0.7zM105.3,376.8h0.7v0.7h-0.7zM105.0,368.0h0.7v0.7h-0.7zM109.1,368.6h0.7v0.7h-0.7zM112.0,370.7h0.7v0.7h-0.7zM97.8,380.9h0.7v0.7h-0.7zM99.1,372.5h0.7v0.7h-0.7zM112.1,367.6h0.7v0.7h-0.7zM108.5,359.4h0.7v0.7h-0.7zM101.3,364.7h0.7v0.7h-0.7zM111.4,362.1h0.7v0.7h-0.7zM109.2,371.0h0.7v0.7h-0.7zM99.2,362.6h0.7v0.7h-0.7zM102.1,365.9h0.7v0.7h-0.7zM100.8,371.7h0.7v0.7h-0.7zM94.1,379.2h0.7v0.7h-0.7zM115.1,368.4h0.7v0.7h-0.7zM104.7,374.1h0.7v0.7h-0.7zM108.2,376.5h0.7v0.7h-0.7zM109.4,362.8h0.7v0.7h-0.7zM104.9,380.3h0.7v0.7h-0.7zM109.1,365.1h0.7v0.7h-0.7zM99.5,372.2h0.7v0.7h-0.7zM106.7,378.9h0.7v0.7h-0.7zM109.1,357.8h0.7v0.7h-0.7zM103.7,361.0h0.7v0.7h-0.7zM102.5,361.0h0.7v0.7h-0.7zM105.0,374.6h0.7v0.7h-0.7zM106.0,355.2h0.7v0.7h-0.7zM102.0,373.0h0.7v0.7h-0.7zM100.1,377.0h0.7v0.7h-0.7zM107.4,366.1h0.7v0.7h-0.7zM107.8,360.6h0.7v0.7h-0.7zM113.3,374.5h0.7v0.7h-0.7zM107.8,366.4h0.7v0.7h-0.7zM108.4,360.6h0.7v0.7h-0.7zM105.8,360.2h0.7v0.7h-0.7zM104.8,360.6h0.7v0.7h-0.7zM105.4,375.1h0.7v0.7h-0.7zM115.0,359.0h0.7v0.7h-0.7zM103.5,370.5h0.7v0.7h-0.7zM109.9,359.9h0.7v0.7h-0.7zM100.0,368.4h0.7v0.7h-0.7zM115.2,358.4h0.7v0.7h-0.7zM109.9,362.0h0.7v0.7h-0.7zM105.8,362.4h0.7v0.7h-0.7zM100.0,374.2h0.7v0.7h-0.7zM103.3,380.3h0.7v0.7h-0.7zM99.5,382.6h0.7v0.7h-0.7zM106.1,367.3h0.7v0.7h-0.7zM110.4,373.0h0.7v0.7h-0.7zM116.3,363.1h0.7v0.7h-0.7zM103.8,369.7h0.7v0.7h-0.7zM110.7,366.6h0.7v0.7h-0.7zM106.4,373.9h0.7v0.7h-0.7zM109.7,372.1h0.7v0.7h-0.7zM103.2,370.5h0.7v0.7h-0.7zM105.4,371.7h0.7v0.7h-0.7zM109.5,371.5h0.7v0.7h-0.7zM101.3,368.0h0.7v0.7h-0.7zM107.3,356.9h0.7v0.7h-0.7zM107.8,358.9h0.7v0.7h-0.7zM113.1,367.6h0.7v0.7h-0.7zM108.3,374.7h0.7v0.7h-0.7zM105.0,368.2h0.7v0.7h-0.7zM109.8,355.4h0.7v0.7h-0.7zM100.5,371.6h0.7v0.7h-0.7zM105.3,376.9h0.7v0.7h-0.7zM105.8,368.0h0.7v0.7h-0.7zM100.5,377.0h0.7v0.7h-0.7zM106.0,364.8h0.7v0.7h-0.7zM108.8,357.6h0.7v0.7h-0.7zM113.2,361.8h0.7v0.7h-0.7zM100.6,365.4h0.7v0.7h-0.7zM100.6,375.7h0.7v0.7h-0.7zM105.9,363.9h0.7v0.7h-0.7zM108.5,358.9h0.7v0.7h-0.7zM99.7,369.7h0.7v0.7h-0.7zM104.4,365.2h0.7v0.7h-0.7zM104.3,371.3h0.7v0.7h-0.7zM114.7,351.8h0.7v0.7h-0.7zM100.4,370.6h0.7v0.7h-0.7zM106.8,363.5h0.7v0.7h-0.7zM104.6,364.0h0.7v0.7h-0.7zM99.1,378.8h0.7v0.7h-0.7zM106.6,366.0h0.7v0.7h-0.7zM112.2,370.3h0.7v0.7h-0.7zM109.8,376.2h0.7v0.7h-0.7zM111.4,365.4h0.7v0.7h-0.7zM107.0,370.6h0.7v0.7h-0.7zM109.3,355.9h0.7v0.7h-0.7zM104.8,366.5h0.7v0.7h-0.7zM106.7,370.9h0.7v0.7h-0.7zM105.0,373.3h0.7v0.7h-0.7zM111.4,360.9h0.7v0.7h-0.7zM112.3,362.5h0.7v0.7h-0.7zM112.0,361.9h0.7v0.7h-0.7zM118.2,352.6h0.7v0.7h-0.7zM107.2,369.0h0.7v0.7h-0.7zM106.0,364.4h0.7v0.7h-0.7zM110.9,364.4h0.7v0.7h-0.7zM105.7,365.6h0.7v0.7h-0.7zM102.8,361.2h0.7v0.7h-0.7zM107.9,360.7h0.7v0.7h-0.7zM114.5,361.1h0.7v0.7h-0.7zM108.0,362.7h0.7v0.7h-0.7zM101.1,367.8h0.7v0.7h-0.7zM103.3,370.2h0.7v0.7h-0.7zM104.9,367.9h0.7v0.7h-0.7zM108.6,369.0h0.7v0.7h-0.7zM104.9,368.6h0.7v0.7h-0.7zM99.8,382.4h0.7v0.7h-0.7zM105.0,369.3h0.7v0.7h-0.7zM100.7,368.4h0.7v0.7h-0.7zM108.2,378.4h0.7v0.7h-0.7zM112.6,363.2h0.7v0.7h-0.7zM103.7,372.2h0.7v0.7h-0.7zM105.2,357.5h0.7v0.7h-0.7zM111.5,371.2h0.7v0.7h-0.7zM107.9,378.4h0.7v0.7h-0.7zM106.5,360.8h0.7v0.7h-0.7zM112.4,367.3h0.7v0.7h-0.7zM105.9,360.7h0.7v0.7h-0.7zM103.9,372.1h0.7v0.7h-0.7zM113.1,361.0h0.7v0.7h-0.7zM111.0,353.2h0.7v0.7h-0.7zM104.2,366.2h0.7v0.7h-0.7zM107.7,367.6h0.7v0.7h-0.7zM110.6,360.9h0.7v0.7h-0.7zM106.4,363.8h0.7v0.7h-0.7zM107.9,362.2h0.7v0.7h-0.7zM106.5,365.8h0.7v0.7h-0.7zM108.6,360.7h0.7v0.7h-0.7zM111.4,369.9h0.7v0.7h-0.7zM103.4,370.4h0.7v0.7h-0.7zM106.1,373.9h0.7v0.7h-0.7zM105.3,365.6h0.7v0.7h-0.7zM100.4,381.1h0.7v0.7h-0.7zM101.4,369.4h0.7v0.7h-0.7zM100.9,364.8h0.7v0.7h-0.7zM107.8,369.2h0.7v0.7h-0.7zM106.8,357.3h0.7v0.7h-0.7zM108.3,368.2h0.7v0.7h-0.7zM102.2,366.6h0.7v0.7h-0.7zM107.7,362.1h0.7v0.7h-0.7zM103.5,367.4h0.7v0.7h-0.7zM109.0,362.5h0.7v0.7h-0.7zM104.5,370.8h0.7v0.7h-0.7zM100.9,360.9h0.7v0.7h-0.7zM105.8,368.5h0.7v0.7h-0.7zM103.4,362.5h0.7v0.7h-0.7zM113.6,368.8h0.7v0.7h-0.7zM107.7,354.6h0.7v0.7h-0.7zM100.9,367.0h0.7v0.7h-0.7zM108.4,363.2h0.7v0.7h-0.7zM105.9,363.8h0.7v0.7h-0.7zM103.4,365.2h0.7v0.7h-0.7zM100.5,371.9h0.7v0.7h-0.7zM107.4,361.0h0.7v0.7h-0.7zM109.8,366.7h0.7v0.7h-0.7zM104.1,369.4h0.7v0.7h-0.7zM104.0,362.8h0.7v0.7h-0.7zM100.7,372.5h0.7v0.7h-0.7zM98.4,371.9h0.7v0.7h-0.7zM103.0,370.3h0.7v0.7h-0.7zM101.7,355.1h0.7v0.7h-0.7zM108.0,369.9h0.7v0.7h-0.7zM100.3,365.4h0.7v0.7h-0.7zM99.1,379.5h0.7v0.7h-0.7zM110.2,362.5h0.7v0.7h-0.7zM113.0,364.2h0.7v0.7h-0.7zM105.0,367.4h0.7v0.7h-0.7zM104.3,367.2h0.7v0.7h-0.7zM111.2,370.9h0.7v0.7h-0.7zM106.2,377.4h0.7v0.7h-0.7zM103.6,373.1h0.7v0.7h-0.7zM102.2,378.6h0.7v0.7h-0.7zM103.1,375.6h0.7v0.7h-0.7zM103.6,362.2h0.7v0.7h-0.7zM100.4,370.3h0.7v0.7h-0.7zM109.4,369.6h0.7v0.7h-0.7zM102.8,370.0h0.7v0.7h-0.7zM111.9,370.9h0.7v0.7h-0.7zM110.3,367.9h0.7v0.7h-0.7zM109.3,374.2h0.7v0.7h-0.7zM110.3,368.8h0.7v0.7h-0.7zM107.5,370.7h0.7v0.7h-0.7zM107.0,360.6h0.7v0.7h-0.7zM107.2,365.6h0.7v0.7h-0.7zM104.7,367.7h0.7v0.7h-0.7zM102.5,371.6h0.7v0.7h-0.7zM100.9,370.8h0.7v0.7h-0.7zM105.4,367.5h0.7v0.7h-0.7zM99.5,369.8h0.7v0.7h-0.7zM101.2,367.2h0.7v0.7h-0.7zM101.4,371.5h0.7v0.7h-0.7zM102.2,379.5h0.7v0.7h-0.7zM103.9,377.4h0.7v0.7h-0.7zM100.6,372.2h0.7v0.7h-0.7zM102.4,364.6h0.7v0.7h-0.7zM103.2,370.0h0.7v0.7h-0.7zM106.0,374.6h0.7v0.7h-0.7zM103.9,370.3h0.7v0.7h-0.7zM104.6,371.0h0.7v0.7h-0.7zM106.9,366.6h0.7v0.7h-0.7zM104.2,374.0h0.7v0.7h-0.7zM104.7,368.0h0.7v0.7h-0.7zM108.9,360.9h0.7v0.7h-0.7zM107.6,369.5h0.7v0.7h-0.7zM105.6,362.0h0.7v0.7h-0.7zM111.4,359.2h0.7v0.7h-0.7zM113.0,362.5h0.7v0.7h-0.7zM106.6,361.9h0.7v0.7h-0.7zM107.9,366.2h0.7v0.7h-0.7zM99.1,377.2h0.7v0.7h-0.7zM114.0,365.9h0.7v0.7h-0.7zM106.4,383.1h0.7v0.7h-0.7zM114.4,367.9h0.7v0.7h-0.7zM111.5,370.2h0.7v0.7h-0.7zM108.4,362.2h0.7v0.7h-0.7zM110.4,359.6h0.7v0.7h-0.7zM104.1,378.7h0.7v0.7h-0.7zM107.2,375.7h0.7v0.7h-0.7zM101.7,374.2h0.7v0.7h-0.7zM106.8,365.9h0.7v0.7h-0.7zM110.2,367.8h0.7v0.7h-0.7zM105.4,372.9h0.7v0.7h-0.7zM105.0,373.7h0.7v0.7h-0.7zM110.4,367.7h0.7v0.7h-0.7zM108.0,373.9h0.7v0.7h-0.7zM114.7,370.5h0.7v0.7h-0.7zM105.0,375.6h0.7v0.7h-0.7zM98.7,375.5h0.7v0.7h-0.7zM109.5,354.5h0.7v0.7h-0.7zM101.8,376.4h0.7v0.7h-0.7zM109.6,354.3h0.7v0.7h-0.7zM112.5,367.2h0.7v0.7h-0.7zM111.1,370.8h0.7v0.7h-0.7zM106.8,365.6h0.7v0.7h-0.7zM104.6,368.0h0.7v0.7h-0.7zM110.1,346.3h0.7v0.7h-0.7zM100.1,377.7h0.7v0.7h-0.7zM97.6,371.6h0.7v0.7h-0.7zM103.2,369.1h0.7v0.7h-0.7zM114.5,352.0h0.7v0.7h-0.7zM105.9,363.5h0.7v0.7h-0.7zM104.3,380.0h0.7v0.7h-0.7zM112.8,366.6h0.7v0.7h-0.7zM109.0,357.5h0.7v0.7h-0.7zM107.0,359.5h0.7v0.7h-0.7zM105.4,374.8h0.7v0.7h-0.7zM105.6,378.7h0.7v0.7h-0.7zM102.8,369.5h0.7v0.7h-0.7zM104.4,367.8h0.7v0.7h-0.7zM105.8,366.2h0.7v0.7h-0.7zM101.7,372.6h0.7v0.7h-0.7zM105.2,376.7h0.7v0.7h-0.7zM107.7,370.4h0.7v0.7h-0.7zM113.2,364.4h0.7v0.7h-0.7zM106.3,372.0h0.7v0.7h-0.7zM105.8,370.3h0.7v0.7h-0.7zM104.1,360.1h0.7v0.7h-0.7zM111.4,367.0h0.7v0.7h-0.7zM105.9,363.0h0.7v0.7h-0.7zM99.9,366.9h0.7v0.7h-0.7zM107.2,370.1h0.7v0.7h-0.7zM102.7,377.3h0.7v0.7h-0.7zM102.5,371.5h0.7v0.7h-0.7zM101.6,360.4h0.7v0.7h-0.7z" fill="#000" opacity="0.3"/>
<path d="M82.5,386.8h0.7v0.7h-0.7zM87.9,373.7h0.7v0.7h-0.7zM86.8,380.3h0.7v0.7h-0.7zM87.8,381.8h0.7v0.7h-0.7zM79.8,390.6h0.7v0.7h-0.7zM81.0,382.5h0.7v0.7h-0.7zM86.9,383.1h0.7v0.7h-0.7zM83.4,382.6h0.7v0.7h-0.7zM89.5,377.1h0.7v0.7h-0.7zM91.2,363.4h0.7v0.7h-0.7zM84.4,375.8h0.7v0.7h-0.7zM84.8,381.0h0.7v0.7h-0.7zM85.6,384.8h0.7v0.7h-0.7zM88.0,379.5h0.7v0.7h-0.7zM84.8,378.2h0.7v0.7h-0.7zM92.5,367.5h0.7v0.7h-0.7zM84.8,378.7h0.7v0.7h-0.7zM85.3,376.3h0.7v0.7h-0.7zM87.0,377.1h0.7v0.7h-0.7zM85.3,374.9h0.7v0.7h-0.7zM83.8,376.7h0.7v0.7h-0.7zM90.2,373.0h0.7v0.7h-0.7zM88.2,378.8h0.7v0.7h-0.7zM85.8,385.6h0.7v0.7h-0.7zM86.2,384.2h0.7v0.7h-0.7zM86.4,379.2h0.7v0.7h-0.7zM87.3,383.7h0.7v0.7h-0.7zM90.0,372.6h0.7v0.7h-0.7zM85.3,382.7h0.7v0.7h-0.7zM90.6,368.2h0.7v0.7h-0.7zM91.6,368.0h0.7v0.7h-0.7zM90.5,373.7h0.7v0.7h-0.7zM91.4,373.9h0.7v0.7h-0.7zM82.2,384.3h0.7v0.7h-0.7zM88.7,381.5h0.7v0.7h-0.7zM84.5,371.3h0.7v0.7h-0.7zM85.5,379.0h0.7v0.7h-0.7zM88.4,377.9h0.7v0.7h-0.7zM93.2,369.0h0.7v0.7h-0.7zM87.9,375.0h0.7v0.7h-0.7zM85.1,387.7h0.7v0.7h-0.7zM83.0,377.1h0.7v0.7h-0.7zM82.4,385.3h0.7v0.7h-0.7zM85.3,381.4h0.7v0.7h-0.7zM82.0,383.1h0.7v0.7h-0.7zM87.5,376.5h0.7v0.7h-0.7zM83.2,373.0h0.7v0.7h-0.7zM86.6,383.9h0.7v0.7h-0.7zM88.8,373.7h0.7v0.7h-0.7zM87.1,382.5h0.7v0.7h-0.7zM84.5,386.1h0.7v0.7h-0.7zM85.1,375.9h0.7v0.7h-0.7zM86.4,378.2h0.7v0.7h-0.7zM81.8,383.7h0.7v0.7h-0.7zM89.8,377.7h0.7v0.7h-0.7zM83.8,384.1h0.7v0.7h-0.7zM82.7,381.7h0.7v0.7h-0.7zM81.7,386.7h0.7v0.7h-0.7zM85.1,381.4h0.7v0.7h-0.7zM89.4,366.7h0.7v0.7h-0.7zM83.5,389.0h0.7v0.7h-0.7zM86.9,369.6h0.7v0.7h-0.7zM86.4,380.0h0.7v0.7h-0.7zM86.3,378.7h0.7v0.7h-0.7zM86.9,380.0h0.7v0.7h-0.7zM82.8,375.4h0.7v0.7h-0.7zM88.1,376.4h0.7v0.7h-0.7zM88.6,384.4h0.7v0.7h-0.7zM90.3,380.4h0.7v0.7h-0.7zM89.8,379.9h0.7v0.7h-0.7zM87.8,380.4h0.7v0.7h-0.7zM88.4,371.0h0.7v0.7h-0.7zM87.1,384.6h0.7v0.7h-0.7zM84.7,381.8h0.7v0.7h-0.7zM87.3,373.4h0.7v0.7h-0.7zM88.2,376.8h0.7v0.7h-0.7zM88.4,373.2h0.7v0.7h-0.7zM82.0,372.6h0.7v0.7h-0.7zM89.7,370.6h0.7v0.7h-0.7zM88.8,376.2h0.7v0.7h-0.7zM93.3,363.5h0.7v0.7h-0.7zM87.8,373.5h0.7v0.7h-0.7zM91.1,370.7h0.7v0.7h-0.7zM89.8,376.9h0.7v0.7h-0.7zM90.0,371.3h0.7v0.7h-0.7zM88.4,382.9h0.7v0.7h-0.7zM85.9,384.3h0.7v0.7h-0.7zM84.0,379.1h0.7v0.7h-0.7zM93.8,372.1h0.7v0.7h-0.7zM83.2,385.5h0.7v0.7h-0.7zM92.9,370.2h0.7v0.7h-0.7zM84.4,382.4h0.7v0.7h-0.7zM86.6,378.6h0.7v0.7h-0.7zM84.9,383.1h0.7v0.7h-0.7zM85.7,385.3h0.7v0.7h-0.7zM83.6,383.1h0.7v0.7h-0.7zM81.3,378.9h0.7v0.7h-0.7zM81.1,381.8h0.7v0.7h-0.7zM86.6,379.2h0.7v0.7h-0.7zM84.2,383.6h0.7v0.7h-0.7zM86.6,386.4h0.7v0.7h-0.7zM89.3,376.0h0.7v0.7h-0.7zM86.8,381.6h0.7v0.7h-0.7zM90.7,369.0h0.7v0.7h-0.7zM86.0,377.2h0.7v0.7h-0.7zM90.8,370.4h0.7v0.7h-0.7zM83.2,379.2h0.7v0.7h-0.7zM89.4,371.3h0.7v0.7h-0.7zM85.9,380.0h0.7v0.7h-0.7zM88.4,372.0h0.7v0.7h-0.7zM85.2,377.8h0.7v0.7h-0.7zM90.7,374.3h0.7v0.7h-0.7zM87.1,385.8h0.7v0.7h-0.7zM86.3,382.8h0.7v0.7h-0.7zM86.4,382.7h0.7v0.7h-0.7zM90.4,377.8h0.7v0.7h-0.7zM83.9,381.5h0.7v0.7h-0.7zM87.9,375.4h0.7v0.7h-0.7zM82.9,379.4h0.7v0.7h-0.7zM89.6,375.9h0.7v0.7h-0.7zM90.3,379.8h0.7v0.7h-0.7zM81.3,379.1h0.7v0.7h-0.7zM96.7,365.7h0.7v0.7h-0.7zM84.7,374.0h0.7v0.7h-0.7zM85.7,378.5h0.7v0.7h-0.7zM87.8,380.6h0.7v0.7h-0.7zM92.3,377.8h0.7v0.7h-0.7zM86.8,375.9h0.7v0.7h-0.7zM90.6,370.6h0.7v0.7h-0.7zM88.1,377.6h0.7v0.7h-0.7zM86.4,381.2h0.7v0.7h-0.7zM82.5,383.0h0.7v0.7h-0.7zM87.5,368.0h0.7v0.7h-0.7zM92.7,379.6h0.7v0.7h-0.7zM89.2,379.3h0.7v0.7h-0.7zM84.6,381.8h0.7v0.7h-0.7zM88.8,380.4h0.7v0.7h-0.7zM87.1,371.0h0.7v0.7h-0.7zM84.2,385.0h0.7v0.7h-0.7zM86.4,378.1h0.7v0.7h-0.7zM91.2,370.5h0.7v0.7h-0.7zM86.8,374.1h0.7v0.7h-0.7zM87.4,388.0h0.7v0.7h-0.7zM85.4,373.9h0.7v0.7h-0.7zM83.9,378.7h0.7v0.7h-0.7zM83.7,378.6h0.7v0.7h-0.7zM85.6,380.2h0.7v0.7h-0.7zM87.3,386.0h0.7v0.7h-0.7zM82.9,389.2h0.7v0.7h-0.7zM87.7,372.8h0.7v0.7h-0.7zM86.2,374.8h0.7v0.7h-0.7zM87.2,380.0h0.7v0.7h-0.7zM86.1,374.9h0.7v0.7h-0.7zM82.9,379.3h0.7v0.7h-0.7zM84.5,376.3h0.7v0.7h-0.7zM90.4,377.1h0.7v0.7h-0.7zM88.2,376.1h0.7v0.7h-0.7zM88.5,381.1h0.7v0.7h-0.7zM88.4,374.3h0.7v0.7h-0.7zM91.1,370.7h0.7v0.7h-0.7zM86.7,378.9h0.7v0.7h-0.7zM84.8,375.8h0.7v0.7h-0.7zM80.6,387.1h0.7v0.7h-0.7zM86.8,375.0h0.7v0.7h-0.7zM81.8,377.7h0.7v0.7h-0.7zM81.5,388.0h0.7v0.7h-0.7zM86.9,376.3h0.7v0.7h-0.7zM91.4,376.9h0.7v0.7h-0.7zM85.2,391.1h0.7v0.7h-0.7zM92.7,365.0h0.7v0.7h-0.7zM83.2,382.0h0.7v0.7h-0.7zM85.6,386.8h0.7v0.7h-0.7zM88.1,371.0h0.7v0.7h-0.7zM84.6,374.4h0.7v0.7h-0.7zM91.7,371.7h0.7v0.7h-0.7zM85.9,389.8h0.7v0.7h-0.7zM90.2,384.5h0.7v0.7h-0.7zM84.3,388.4h0.7v0.7h-0.7zM89.4,378.2h0.7v0.7h-0.7zM88.4,367.3h0.7v0.7h-0.7zM87.5,374.6h0.7v0.7h-0.7zM82.5,390.6h0.7v0.7h-0.7zM89.6,371.8h0.7v0.7h-0.7zM91.7,370.6h0.7v0.7h-0.7zM84.9,393.9h0.7v0.7h-0.7zM83.3,386.3h0.7v0.7h-0.7zM89.4,376.5h0.7v0.7h-0.7zM84.3,373.1h0.7v0.7h-0.7zM84.3,382.0h0.7v0.7h-0.7zM88.8,370.4h0.7v0.7h-0.7zM84.5,383.4h0.7v0.7h-0.7zM85.8,375.3h0.7v0.7h-0.7zM91.3,372.1h0.7v0.7h-0.7zM87.5,378.1h0.7v0.7h-0.7zM86.6,377.8h0.7v0.7h-0.7zM87.9,371.7h0.7v0.7h-0.7zM86.5,381.6h0.7v0.7h-0.7zM88.0,380.4h0.7v0.7h-0.7zM80.7,391.3h0.7v0.7h-0.7zM81.2,382.0h0.7v0.7h-0.7zM85.5,380.3h0.7v0.7h-0.7zM88.6,373.5h0.7v0.7h-0.7zM83.5,374.7h0.7v0.7h-0.7zM86.6,377.9h0.7v0.7h-0.7zM86.5,382.6h0.7v0.7h-0.7zM83.3,384.1h0.7v0.7h-0.7zM84.2,389.4h0.7v0.7h-0.7zM86.3,380.2h0.7v0.7h-0.7zM89.3,376.4h0.7v0.7h-0.7zM89.1,384.7h0.7v0.7h-0.7zM85.4,383.1h0.7v0.7h-0.7zM86.2,379.4h0.7v0.7h-0.7zM88.0,376.7h0.7v0.7h-0.7zM80.3,389.0h0.7v0.7h-0.7zM87.2,376.4h0.7v0.7h-0.7zM93.0,372.5h0.7v0.7h-0.7zM91.0,374.2h0.7v0.7h-0.7zM81.9,389.1h0.7v0.7h-0.7zM83.4,378.4h0.7v0.7h-0.7zM84.4,377.7h0.7v0.7h-0.7zM82.7,379.4h0.7v0.7h-0.7zM86.4,374.6h0.7v0.7h-0.7zM89.1,378.3h0.7v0.7h-0.7zM84.1,382.0h0.7v0.7h-0.7zM85.4,384.9h0.7v0.7h-0.7zM87.3,382.4h0.7v0.7h-0.7zM82.9,387.2h0.7v0.7h-0.7zM91.3,368.7h0.7v0.7h-0.7zM86.0,372.7h0.7v0.7h-0.7zM92.0,372.8h0.7v0.7h-0.7zM82.3,379.1h0.7v0.7h-0.7zM86.7,369.9h0.7v0.7h-0.7zM90.0,377.5h0.7v0.7h-0.7zM90.0,375.9h0.7v0.7h-0.7zM86.6,380.4h0.7v0.7h-0.7zM84.2,382.6h0.7v0.7h-0.7zM86.9,372.2h0.7v0.7h-0.7zM87.6,378.7h0.7v0.7h-0.7zM87.7,370.1h0.7v0.7h-0.7zM90.2,371.1h0.7v0.7h-0.7zM82.1,381.0h0.7v0.7h-0.7zM83.1,384.8h0.7v0.7h-0.7zM86.3,377.1h0.7v0.7h-0.7zM85.6,380.1h0.7v0.7h-0.7zM88.2,377.4h0.7v0.7h-0.7zM86.1,379.3h0.7v0.7h-0.7zM87.8,373.8h0.7v0.7h-0.7zM84.5,381.8h0.7v0.7h-0.7zM89.3,371.3h0.7v0.7h-0.7zM86.7,385.1h0.7v0.7h-0.7zM90.5,371.4h0.7v0.7h-0.7zM86.1,385.4h0.7v0.7h-0.7zM88.9,366.9h0.7v0.7h-0.7zM91.4,372.8h0.7v0.7h-0.7zM86.0,377.1h0.7v0.7h-0.7zM84.9,384.8h0.7v0.7h-0.7zM89.4,380.3h0.7v0.7h-0.7zM82.7,386.3h0.7v0.7h-0.7zM87.2,368.4h0.7v0.7h-0.7zM86.9,378.1h0.7v0.7h-0.7zM89.7,378.1h0.7v0.7h-0.7zM85.0,376.2h0.7v0.7h-0.7zM81.0,383.1h0.7v0.7h-0.7zM93.1,368.6h0.7v0.7h-0.7zM87.3,386.0h0.7v0.7h-0.7zM90.1,373.9h0.7v0.7h-0.7zM89.5,380.3h0.7v0.7h-0.7zM84.1,384.2h0.7v0.7h-0.7zM85.8,374.6h0.7v0.7h-0.7zM85.7,376.3h0.7v0.7h-0.7zM87.9,382.4h0.7v0.7h-0.7zM83.8,391.9h0.7v0.7h-0.7zM86.8,378.5h0.7v0.7h-0.7zM82.2,382.0h0.7v0.7h-0.7zM88.7,375.2h0.7v0.7h-0.7zM85.0,377.0h0.7v0.7h-0.7zM84.9,386.8h0.7v0.7h-0.7zM87.9,381.3h0.7v0.7h-0.7zM87.7,381.1h0.7v0.7h-0.7zM82.5,387.3h0.7v0.7h-0.7zM84.9,380.3h0.7v0.7h-0.7zM87.6,384.3h0.7v0.7h-0.7zM91.1,368.5h0.7v0.7h-0.7zM88.8,379.8h0.7v0.7h-0.7zM89.3,377.1h0.7v0.7h-0.7zM87.1,375.0h0.7v0.7h-0.7zM90.2,369.8h0.7v0.7h-0.7zM84.9,378.1h0.7v0.7h-0.7zM88.2,384.6h0.7v0.7h-0.7zM84.9,382.4h0.7v0.7h-0.7zM88.6,381.1h0.7v0.7h-0.7zM87.6,378.8h0.7v0.7h-0.7zM88.3,376.4h0.7v0.7h-0.7zM83.8,384.2h0.7v0.7h-0.7zM84.9,378.9h0.7v0.7h-0.7zM88.9,372.6h0.7v0.7h-0.7zM88.4,376.1h0.7v0.7h-0.7zM83.4,380.3h0.7v0.7h-0.7zM87.9,378.2h0.7v0.7h-0.7zM90.0,379.4h0.7v0.7h-0.7zM94.2,367.2h0.7v0.7h-0.7zM85.2,385.3h0.7v0.7h-0.7zM94.0,366.7h0.7v0.7h-0.7zM91.5,376.9h0.7v0.7h-0.7zM83.5,381.5h0.7v0.7h-0.7zM88.6,373.2h0.7v0.7h-0.7zM85.4,385.2h0.7v0.7h-0.7zM84.5,374.0h0.7v0.7h-0.7zM89.6,373.9h0.7v0.7h-0.7zM83.7,376.3h0.7v0.7h-0.7zM87.0,379.2h0.7v0.7h-0.7zM87.1,377.6h0.7v0.7h-0.7zM88.6,378.0h0.7v0.7h-0.7zM82.7,378.4h0.7v0.7h-0.7zM86.9,373.0h0.7v0.7h-0.7zM81.8,382.9h0.7v0.7h-0.7zM80.0,382.9h0.7v0.7h-0.7zM85.7,384.7h0.7v0.7h-0.7zM91.8,372.3h0.7v0.7h-0.7zM88.0,372.9h0.7v0.7h-0.7zM90.0,371.6h0.7v0.7h-0.7zM88.1,382.0h0.7v0.7h-0.7zM85.5,376.3h0.7v0.7h-0.7zM86.2,377.3h0.7v0.7h-0.7zM85.5,385.1h0.7v0.7h-0.7zM93.4,369.9h0.7v0.7h-0.7zM85.4,374.2h0.7v0.7h-0.7zM84.5,374.0h0.7v0.7h-0.7zM81.9,378.4h0.7v0.7h-0.7zM86.2,371.8h0.7v0.7h-0.7zM85.5,385.0h0.7v0.7h-0.7zM90.4,374.3h0.7v0.7h-0.7zM86.1,387.1h0.7v0.7h-0.7zM85.9,382.4h0.7v0.7h-0.7zM87.6,373.6h0.7v0.7h-0.7zM89.3,377.0h0.7v0.7h-0.7zM88.4,379.4h0.7v0.7h-0.7zM81.2,384.9h0.7v0.7h-0.7zM84.5,377.7h0.7v0.7h-0.7zM93.2,366.0h0.7v0.7h-0.7zM84.8,378.1h0.7v0.7h-0.7zM81.6,378.6h0.7v0.7h-0.7zM83.4,392.8h0.7v0.7h-0.7zM88.5,374.7h0.7v0.7h-0.7zM83.5,373.5h0.7v0.7h-0.7zM87.0,376.0h0.7v0.7h-0.7zM91.6,371.1h0.7v0.7h-0.7zM85.5,384.7h0.7v0.7h-0.7zM84.4,388.3h0.7v0.7h-0.7zM92.9,375.3h0.7v0.7h-0.7zM87.2,380.5h0.7v0.7h-0.7zM85.3,373.0h0.7v0.7h-0.7zM86.3,377.7h0.7v0.7h-0.7zM84.0,379.7h0.7v0.7h-0.7zM87.3,369.9h0.7v0.7h-0.7zM85.5,374.5h0.7v0.7h-0.7zM85.7,382.6h0.7v0.7h-0.7zM89.5,371.8h0.7v0.7h-0.7zM90.6,374.5h0.7v0.7h-0.7zM84.4,378.4h0.7v0.7h-0.7zM88.8,375.6h0.7v0.7h-0.7zM88.9,371.4h0.7v0.7h-0.7zM84.3,385.5h0.7v0.7h-0.7zM87.5,377.5h0.7v0.7h-0.7zM87.2,378.1h0.7v0.7h-0.7zM89.3,363.5h0.7v0.7h-0.7zM86.9,369.7h0.7v0.7h-0.7zM93.6,373.2h0.7v0.7h-0.7zM86.9,379.0h0.7v0.7h-0.7zM86.2,374.3h0.7v0.7h-0.7zM88.3,377.7h0.7v0.7h-0.7zM90.5,378.0h0.7v0.7h-0.7zM80.2,379.4h0.7v0.7h-0.7zM79.7,390.7h0.7v0.7h-0.7zM88.4,379.5h0.7v0.7h-0.7zM86.4,371.6h0.7v0.7h-0.7zM81.5,385.2h0.7v0.7h-0.7zM85.1,391.6h0.7v0.7h-0.7zM89.9,378.7h0.7v0.7h-0.7zM83.8,385.7h0.7v0.7h-0.7zM92.9,369.3h0.7v0.7h-0.7zM81.3,380.6h0.7v0.7h-0.7zM82.8,385.0h0.7v0.7h-0.7zM87.6,370.3h0.7v0.7h-0.7zM88.6,385.5h0.7v0.7h-0.7zM84.7,385.7h0.7v0.7h-0.7zM88.9,377.0h0.7v0.7h-0.7zM87.3,377.0h0.7v0.7h-0.7zM87.4,377.1h0.7v0.7h-0.7zM87.4,369.7h0.7v0.7h-0.7zM89.0,377.8h0.7v0.7h-0.7zM91.8,375.8h0.7v0.7h-0.7zM80.8,385.7h0.7v0.7h-0.7zM87.9,378.5h0.7v0.7h-0.7zM93.6,376.1h0.7v0.7h-0.7zM91.6,365.0h0.7v0.7h-0.7zM85.6,377.4h0.7v0.7h-0.7zM85.1,373.8h0.7v0.7h-0.7zM89.9,379.3h0.7v0.7h-0.7zM89.8,371.0h0.7v0.7h-0.7zM88.2,384.5h0.7v0.7h-0.7zM90.1,376.3h0.7v0.7h-0.7zM93.1,368.7h0.7v0.7h-0.7zM91.7,371.4h0.7v0.7h-0.7zM84.7,384.0h0.7v0.7h-0.7zM88.3,375.6h0.7v0.7h-0.7zM86.2,378.1h0.7v0.7h-0.7zM86.4,376.0h0.7v0.7h-0.7zM85.0,384.9h0.7v0.7h-0.7zM90.2,376.7h0.7v0.7h-0.7zM87.3,376.0h0.7v0.7h-0.7zM86.1,378.5h0.7v0.7h-0.7zM86.7,383.0h0.7v0.7h-0.7zM82.8,389.7h0.7v0.7h-0.7zM80.1,389.3h0.7v0.7h-0.7zM88.0,378.8h0.7v0.7h-0.7zM94.0,367.1h0.7v0.7h-0.7zM83.9,377.0h0.7v0.7h-0.7zM86.7,385.8h0.7v0.7h-0.7zM89.3,373.7h0.7v0.7h-0.7zM85.2,378.2h0.7v0.7h-0.7zM81.8,382.0h0.7v0.7h-0.7zM83.9,382.0h0.7v0.7h-0.7zM90.2,385.9h0.7v0.7h-0.7zM82.0,384.1h0.7v0.7h-0.7zM84.9,381.6h0.7v0.7h-0.7zM88.9,384.2h0.7v0.7h-0.7zM85.0,369.3h0.7v0.7h-0.7zM87.0,375.8h0.7v0.7h-0.7zM89.5,372.2h0.7v0.7h-0.7zM87.6,377.6h0.7v0.7h-0.7zM84.3,377.1h0.7v0.7h-0.7zM85.0,386.9h0.7v0.7h-0.7zM91.1,375.4h0.7v0.7h-0.7zM84.4,371.7h0.7v0.7h-0.7zM84.7,378.3h0.7v0.7h-0.7zM91.6,372.4h0.7v0.7h-0.7zM88.1,376.8h0.7v0.7h-0.7zM82.0,383.8h0.7v0.7h-0.7zM85.9,382.0h0.7v0.7h-0.7zM85.7,384.9h0.7v0.7h-0.7zM87.9,380.0h0.7v0.7h-0.7zM84.6,376.2h0.7v0.7h-0.7zM87.0,373.4h0.7v0.7h-0.7zM87.3,376.3h0.7v0.7h-0.7zM89.2,378.5h0.7v0.7h-0.7zM86.9,374.9h0.7v0.7h-0.7zM86.5,377.8h0.7v0.7h-0.7zM90.9,375.7h0.7v0.7h-0.7zM90.0,380.3h0.7v0.7h-0.7zM85.4,380.8h0.7v0.7h-0.7zM83.0,385.1h0.7v0.7h-0.7zM89.3,381.7h0.7v0.7h-0.7zM83.3,382.9h0.7v0.7h-0.7zM87.2,379.4h0.7v0.7h-0.7zM86.5,376.5h0.7v0.7h-0.7zM82.4,376.8h0.7v0.7h-0.7zM86.8,387.0h0.7v0.7h-0.7zM86.9,384.3h0.7v0.7h-0.7zM89.6,372.3h0.7v0.7h-0.7zM78.6,395.0h0.7v0.7h-0.7zM82.9,385.8h0.7v0.7h-0.7zM89.8,368.6h0.7v0.7h-0.7zM83.4,383.1h0.7v0.7h-0.7zM86.8,381.6h0.7v0.7h-0.7zM84.2,383.3h0.7v0.7h-0.7zM86.5,380.9h0.7v0.7h-0.7zM87.3,380.4h0.7v0.7h-0.7zM88.1,370.9h0.7v0.7h-0.7zM87.9,384.1h0.7v0.7h-0.7zM87.4,383.5h0.7v0.7h-0.7zM85.5,379.6h0.7v0.7h-0.7zM85.9,385.5h0.7v0.7h-0.7zM86.1,379.4h0.7v0.7h-0.7zM83.4,378.5h0.7v0.7h-0.7zM88.9,372.2h0.7v0.7h-0.7zM90.9,369.3h0.7v0.7h-0.7zM87.9,373.5h0.7v0.7h-0.7zM83.5,380.5h0.7v0.7h-0.7zM85.3,380.4h0.7v0.7h-0.7zM87.8,383.1h0.7v0.7h-0.7zM86.6,390.2h0.7v0.7h-0.7zM83.4,377.7h0.7v0.7h-0.7zM89.5,383.2h0.7v0.7h-0.7zM86.5,376.6h0.7v0.7h-0.7zM89.6,374.2h0.7v0.7h-0.7zM85.3,378.9h0.7v0.7h-0.7zM89.4,367.8h0.7v0.7h-0.7zM88.8,376.8h0.7v0.7h-0.7zM87.6,376.9h0.7v0.7h-0.7zM86.9,375.3h0.7v0.7h-0.7zM87.9,379.5h0.7v0.7h-0.7zM85.2,371.0h0.7v0.7h-0.7zM85.9,380.7h0.7v0.7h-0.7zM86.2,385.9h0.7v0.7h-0.7zM85.5,381.1h0.7v0.7h-0.7zM85.9,383.8h0.7v0.7h-0.7zM83.4,373.8h0.7v0.7h-0.7zM90.8,370.5h0.7v0.7h-0.7zM84.5,392.1h0.7v0.7h-0.7zM87.6,377.2h0.7v0.7h-0.7zM84.8,379.3h0.7v0.7h-0.7zM84.6,379.7h0.7v0.7h-0.7zM90.1,376.8h0.7v0.7h-0.7zM84.8,387.3h0.7v0.7h-0.7zM89.5,372.8h0.7v0.7h-0.7zM92.9,373.2h0.7v0.7h-0.7zM88.4,371.1h0.7v0.7h-0.7zM91.5,369.4h0.7v0.7h-0.7zM85.3,374.3h0.7v0.7h-0.7zM86.4,370.7h0.7v0.7h-0.7zM88.7,371.6h0.7v0.7h-0.7zM87.5,368.8h0.7v0.7h-0.7zM89.1,377.9h0.7v0.7h-0.7zM91.7,379.8h0.7v0.7h-0.7zM86.6,384.2h0.7v0.7h-0.7zM81.1,390.7h0.7v0.7h-0.7zM82.1,385.8h0.7v0.7h-0.7zM90.6,373.2h0.7v0.7h-0.7zM86.1,373.0h0.7v0.7h-0.7zM84.7,378.5h0.7v0.7h-0.7zM89.9,386.6h0.7v0.7h-0.7zM84.3,387.0h0.7v0.7h-0.7zM87.0,374.6h0.7v0.7h-0.7zM81.5,378.9h0.7v0.7h-0.7zM80.5,382.3h0.7v0.7h-0.7zM87.4,373.8h0.7v0.7h-0.7zM87.2,380.0h0.7v0.7h-0.7zM84.0,382.9h0.7v0.7h-0.7zM81.6,384.6h0.7v0.7h-0.7zM83.3,380.2h0.7v0.7h-0.7zM82.9,384.5h0.7v0.7h-0.7zM89.8,378.1h0.7v0.7h-0.7zM87.0,378.2h0.7v0.7h-0.7zM82.0,379.5h0.7v0.7h-0.7zM85.8,377.3h0.7v0.7h-0.7zM88.2,374.0h0.7v0.7h-0.7zM88.7,371.8h0.7v0.7h-0.7zM85.4,383.9h0.7v0.7h-0.7zM85.4,384.8h0.7v0.7h-0.7zM86.8,374.2h0.7v0.7h-0.7zM87.7,371.1h0.7v0.7h-0.7zM84.7,383.3h0.7v0.7h-0.7zM88.9,382.2h0.7v0.7h-0.7zM88.6,370.3h0.7v0.7h-0.7zM91.8,371.1h0.7v0.7h-0.7zM87.3,381.3h0.7v0.7h-0.7zM87.3,377.0h0.7v0.7h-0.7zM90.0,379.0h0.7v0.7h-0.7zM92.2,365.9h0.7v0.7h-0.7zM82.6,383.7h0.7v0.7h-0.7zM87.9,378.5h0.7v0.7h-0.7zM82.2,378.9h0.7v0.7h-0.7zM88.0,378.5h0.7v0.7h-0.7zM90.4,368.2h0.7v0.7h-0.7zM88.4,374.1h0.7v0.7h-0.7zM83.1,378.6h0.7v0.7h-0.7zM83.7,382.9h0.7v0.7h-0.7zM85.6,378.5h0.7v0.7h-0.7zM88.5,385.2h0.7v0.7h-0.7zM86.0,376.5h0.7v0.7h-0.7zM87.6,384.6h0.7v0.7h-0.7zM84.3,380.5h0.7v0.7h-0.7zM86.1,377.6h0.7v0.7h-0.7zM85.4,385.3h0.7v0.7h-0.7zM84.9,387.1h0.7v0.7h-0.7zM88.7,386.2h0.7v0.7h-0.7zM89.1,381.3h0.7v0.7h-0.7zM89.8,370.2h0.7v0.7h-0.7zM85.6,373.9h0.7v0.7h-0.7zM89.3,374.6h0.7v0.7h-0.7zM88.8,378.9h0.7v0.7h-0.7zM89.4,370.9h0.7v0.7h-0.7zM89.6,377.8h0.7v0.7h-0.7zM88.1,375.6h0.7v0.7h-0.7zM83.5,379.1h0.7v0.7h-0.7zM85.0,378.6h0.7v0.7h-0.7zM89.3,378.9h0.7v0.7h-0.7zM84.9,383.4h0.7v0.7h-0.7zM86.5,378.7h0.7v0.7h-0.7zM91.7,375.1h0.7v0.7h-0.7zM86.3,377.2h0.7v0.7h-0.7zM84.4,381.3h0.7v0.7h-0.7zM80.8,383.1h0.7v0.7h-0.7zM87.4,371.6h0.7v0.7h-0.7zM86.2,377.1h0.7v0.7h-0.7zM89.2,377.4h0.7v0.7h-0.7zM90.5,376.9h0.7v0.7h-0.7zM86.5,380.4h0.7v0.7h-0.7zM88.5,373.8h0.7v0.7h-0.7zM85.9,378.3h0.7v0.7h-0.7zM88.7,377.0h0.7v0.7h-0.7zM83.2,386.1h0.7v0.7h-0.7zM92.5,370.8h0.7v0.7h-0.7zM91.2,372.3h0.7v0.7h-0.7zM86.1,380.7h0.7v0.7h-0.7zM83.9,376.1h0.7v0.7h-0.7zM83.2,385.2h0.7v0.7h-0.7zM83.9,383.4h0.7v0.7h-0.7zM83.8,376.4h0.7v0.7h-0.7z" fill="#000" opacity="0.5"/>
<path d="M84.0,375.1h0.7v0.7h-0.7zM89.7,375.2h0.7v0.7h-0.7zM85.2,375.7h0.7v0.7h-0.7zM85.4,377.2h0.7v0.7h-0.7zM85.3,375.5h0.7v0.7h-0.7zM85.4,376.5h0.7v0.7h-0.7zM85.9,377.8h0.7v0.7h-0.7zM86.7,373.3h0.7v0.7h-0.7zM84.9,375.5h0.7v0.7h-0.7zM87.5,376.9h0.7v0.7h-0.7zM82.9,378.9h0.7v0.7h-0.7zM87.6,377.4h0.7v0.7h-0.7zM82.7,380.8h0.7v0.7h-0.7zM87.8,374.0h0.7v0.7h-0.7zM84.2,381.3h0.7v0.7h-0.7zM86.7,376.4h0.7v0.7h-0.7zM80.8,380.5h0.7v0.7h-0.7zM84.5,377.0h0.7v0.7h-0.7zM87.5,376.3h0.7v0.7h-0.7zM84.4,379.1h0.7v0.7h-0.7zM88.4,373.5h0.7v0.7h-0.7zM86.5,374.8h0.7v0.7h-0.7zM86.4,378.2h0.7v0.7h-0.7zM83.9,381.8h0.7v0.7h-0.7zM86.8,374.0h0.7v0.7h-0.7zM87.8,378.9h0.7v0.7h-0.7zM85.4,374.1h0.7v0.7h-0.7zM85.7,377.5h0.7v0.7h-0.7zM86.1,376.0h0.7v0.7h-0.7zM85.7,380.0h0.7v0.7h-0.7zM83.7,378.1h0.7v0.7h-0.7zM88.0,379.8h0.7v0.7h-0.7zM86.1,376.8h0.7v0.7h-0.7zM86.8,375.3h0.7v0.7h-0.7zM87.0,374.9h0.7v0.7h-0.7zM84.3,376.6h0.7v0.7h-0.7zM86.4,376.5h0.7v0.7h-0.7zM86.0,377.2h0.7v0.7h-0.7zM88.3,374.9h0.7v0.7h-0.7zM85.2,374.5h0.7v0.7h-0.7zM88.0,373.5h0.7v0.7h-0.7zM89.7,373.3h0.7v0.7h-0.7zM84.3,378.3h0.7v0.7h-0.7zM87.8,373.5h0.7v0.7h-0.7zM87.3,377.5h0.7v0.7h-0.7zM86.5,380.4h0.7v0.7h-0.7zM86.7,373.6h0.7v0.7h-0.7zM86.7,375.1h0.7v0.7h-0.7zM87.1,370.8h0.7v0.7h-0.7zM86.5,376.6h0.7v0.7h-0.7zM88.0,377.9h0.7v0.7h-0.7zM84.6,378.6h0.7v0.7h-0.7zM86.4,375.6h0.7v0.7h-0.7zM84.9,377.1h0.7v0.7h-0.7zM83.9,375.2h0.7v0.7h-0.7zM87.0,378.3h0.7v0.7h-0.7zM88.4,375.0h0.7v0.7h-0.7zM85.6,375.1h0.7v0.7h-0.7zM86.7,373.5h0.7v0.7h-0.7zM85.6,376.5h0.7v0.7h-0.7zM86.2,378.3h0.7v0.7h-0.7zM87.0,374.3h0.7v0.7h-0.7zM87.4,373.0h0.7v0.7h-0.7zM88.0,376.1h0.7v0.7h-0.7zM88.5,372.0h0.7v0.7h-0.7zM86.2,378.3h0.7v0.7h-0.7zM86.6,376.6h0.7v0.7h-0.7zM88.3,372.0h0.7v0.7h-0.7zM86.0,379.0h0.7v0.7h-0.7zM86.4,380.4h0.7v0.7h-0.7zM87.7,373.7h0.7v0.7h-0.7zM88.5,373.4h0.7v0.7h-0.7zM88.1,372.6h0.7v0.7h-0.7zM87.5,376.3h0.7v0.7h-0.7zM87.0,372.9h0.7v0.7h-0.7zM86.1,373.7h0.7v0.7h-0.7zM87.2,368.9h0.7v0.7h-0.7zM85.2,377.5h0.7v0.7h-0.7zM85.2,376.2h0.7v0.7h-0.7zM86.8,373.7h0.7v0.7h-0.7zM86.8,379.2h0.7v0.7h-0.7zM89.6,374.0h0.7v0.7h-0.7zM87.6,377.2h0.7v0.7h-0.7zM85.5,375.1h0.7v0.7h-0.7zM86.5,372.2h0.7v0.7h-0.7zM82.4,379.8h0.7v0.7h-0.7zM85.0,377.1h0.7v0.7h-0.7zM86.0,379.5h0.7v0.7h-0.7zM85.6,378.1h0.7v0.7h-0.7zM87.3,377.8h0.7v0.7h-0.7zM86.9,373.4h0.7v0.7h-0.7zM84.4,372.4h0.7v0.7h-0.7zM86.1,376.0h0.7v0.7h-0.7zM83.4,381.8h0.7v0.7h-0.7zM84.8,374.4h0.7v0.7h-0.7zM86.2,377.5h0.7v0.7h-0.7zM84.6,377.7h0.7v0.7h-0.7zM87.7,373.7h0.7v0.7h-0.7zM84.7,375.2h0.7v0.7h-0.7zM89.0,374.6h0.7v0.7h-0.7zM85.6,375.6h0.7v0.7h-0.7zM87.7,376.0h0.7v0.7h-0.7zM87.7,371.8h0.7v0.7h-0.7zM83.8,377.8h0.7v0.7h-0.7zM84.1,378.6h0.7v0.7h-0.7zM85.4,376.0h0.7v0.7h-0.7zM83.2,378.9h0.7v0.7h-0.7zM86.2,372.4h0.7v0.7h-0.7zM85.4,375.2h0.7v0.7h-0.7zM83.5,378.8h0.7v0.7h-0.7zM84.4,378.4h0.7v0.7h-0.7zM84.8,377.5h0.7v0.7h-0.7zM88.0,372.0h0.7v0.7h-0.7zM88.1,370.4h0.7v0.7h-0.7zM87.2,379.7h0.7v0.7h-0.7zM86.9,372.6h0.7v0.7h-0.7zM85.4,373.7h0.7v0.7h-0.7zM85.9,379.6h0.7v0.7h-0.7zM88.0,374.1h0.7v0.7h-0.7zM90.4,371.7h0.7v0.7h-0.7zM87.6,377.4h0.7v0.7h-0.7zM83.7,378.0h0.7v0.7h-0.7zM86.5,376.5h0.7v0.7h-0.7zM83.8,377.8h0.7v0.7h-0.7zM85.6,374.1h0.7v0.7h-0.7zM85.2,378.0h0.7v0.7h-0.7zM83.8,381.6h0.7v0.7h-0.7zM89.7,372.3h0.7v0.7h-0.7zM86.4,375.6h0.7v0.7h-0.7zM87.8,376.7h0.7v0.7h-0.7zM85.3,375.3h0.7v0.7h-0.7zM87.4,378.3h0.7v0.7h-0.7zM92.0,365.5h0.7v0.7h-0.7zM87.2,374.0h0.7v0.7h-0.7zM85.8,382.7h0.7v0.7h-0.7zM85.4,384.4h0.7v0.7h-0.7zM87.5,370.1h0.7v0.7h-0.7zM87.1,377.9h0.7v0.7h-0.7zM87.1,377.9h0.7v0.7h-0.7zM84.1,385.6h0.7v0.7h-0.7zM84.3,378.1h0.7v0.7h-0.7zM82.7,381.1h0.7v0.7h-0.7zM81.8,379.3h0.7v0.7h-0.7zM89.0,370.9h0.7v0.7h-0.7zM83.8,378.6h0.7v0.7h-0.7zM88.0,373.7h0.7v0.7h-0.7zM87.8,372.4h0.7v0.7h-0.7zM90.0,371.5h0.7v0.7h-0.7zM88.5,375.4h0.7v0.7h-0.7zM87.6,374.0h0.7v0.7h-0.7zM86.7,376.9h0.7v0.7h-0.7zM86.5,376.1h0.7v0.7h-0.7zM84.2,376.0h0.7v0.7h-0.7zM85.4,376.7h0.7v0.7h-0.7zM85.1,376.7h0.7v0.7h-0.7zM90.4,369.3h0.7v0.7h-0.7zM86.6,377.5h0.7v0.7h-0.7zM88.5,372.1h0.7v0.7h-0.7zM86.2,377.1h0.7v0.7h-0.7zM89.0,374.2h0.7v0.7h-0.7zM84.1,378.1h0.7v0.7h-0.7zM87.9,378.0h0.7v0.7h-0.7zM85.6,371.8h0.7v0.7h-0.7zM86.0,376.5h0.7v0.7h-0.7zM88.2,373.4h0.7v0.7h-0.7zM87.0,375.9h0.7v0.7h-0.7zM83.8,377.7h0.7v0.7h-0.7zM89.4,372.0h0.7v0.7h-0.7zM85.4,377.6h0.7v0.7h-0.7zM88.9,376.4h0.7v0.7h-0.7zM85.2,381.2h0.7v0.7h-0.7zM89.1,376.3h0.7v0.7h-0.7zM87.5,373.6h0.7v0.7h-0.7zM88.9,373.9h0.7v0.7h-0.7zM87.7,378.5h0.7v0.7h-0.7zM87.4,375.4h0.7v0.7h-0.7zM85.4,372.8h0.7v0.7h-0.7zM89.2,373.6h0.7v0.7h-0.7zM86.2,372.3h0.7v0.7h-0.7zM86.7,377.5h0.7v0.7h-0.7zM88.1,377.7h0.7v0.7h-0.7zM87.6,374.6h0.7v0.7h-0.7zM84.5,378.7h0.7v0.7h-0.7zM84.8,375.5h0.7v0.7h-0.7zM87.5,373.7h0.7v0.7h-0.7zM87.3,370.8h0.7v0.7h-0.7zM86.6,371.1h0.7v0.7h-0.7zM86.0,376.8h0.7v0.7h-0.7zM87.7,369.4h0.7v0.7h-0.7zM87.3,378.6h0.7v0.7h-0.7zM88.5,371.3h0.7v0.7h-0.7zM85.7,374.9h0.7v0.7h-0.7zM85.4,374.7h0.7v0.7h-0.7zM83.8,376.6h0.7v0.7h-0.7zM87.4,375.3h0.7v0.7h-0.7zM84.4,378.2h0.7v0.7h-0.7zM84.8,376.3h0.7v0.7h-0.7zM87.2,374.3h0.7v0.7h-0.7zM86.7,377.5h0.7v0.7h-0.7zM89.5,375.5h0.7v0.7h-0.7z" fill="#000" opacity="0.6"/>
<path d="M85.0,392.5h0.7v0.7h-0.7zM87.0,400.7h0.7v0.7h-0.7zM85.7,398.5h0.7v0.7h-0.7zM83.2,394.9h0.7v0.7h-0.7zM85.4,399.7h0.7v0.7h-0.7zM79.2,401.3h0.7v0.7h-0.7zM87.2,407.5h0.7v0.7h-0.7zM87.4,401.1h0.7v0.7h-0.7zM88.2,395.3h0.7v0.7h-0.7zM88.2,403.1h0.7v0.7h-0.7zM81.5,395.0h0.7v0.7h-0.7zM86.9,385.5h0.7v0.7h-0.7zM81.1,389.1h0.7v0.7h-0.7zM84.2,402.5h0.7v0.7h-0.7zM80.8,395.0h0.7v0.7h-0.7zM77.8,397.4h0.7v0.7h-0.7zM86.0,389.9h0.7v0.7h-0.7zM81.9,403.7h0.7v0.7h-0.7zM83.5,395.0h0.7v0.7h-0.7zM86.6,385.6h0.7v0.7h-0.7zM86.0,398.6h0.7v0.7h-0.7zM81.6,399.2h0.7v0.7h-0.7zM89.5,398.0h0.7v0.7h-0.7zM81.4,395.4h0.7v0.7h-0.7zM89.3,385.1h0.7v0.7h-0.7zM82.6,378.7h0.7v0.7h-0.7zM80.0,399.4h0.7v0.7h-0.7zM86.3,406.9h0.7v0.7h-0.7zM84.9,405.6h0.7v0.7h-0.7zM89.0,388.3h0.7v0.7h-0.7zM81.5,395.6h0.7v0.7h-0.7zM81.8,393.5h0.7v0.7h-0.7zM78.8,396.0h0.7v0.7h-0.7zM82.0,397.2h0.7v0.7h-0.7zM82.8,395.3h0.7v0.7h-0.7zM81.4,399.1h0.7v0.7h-0.7zM88.0,406.6h0.7v0.7h-0.7zM81.9,395.1h0.7v0.7h-0.7zM82.7,386.8h0.7v0.7h-0.7zM80.0,404.8h0.7v0.7h-0.7zM83.7,402.1h0.7v0.7h-0.7zM83.7,397.6h0.7v0.7h-0.7zM82.9,391.6h0.7v0.7h-0.7zM85.2,397.0h0.7v0.7h-0.7zM87.6,402.0h0.7v0.7h-0.7zM85.5,392.4h0.7v0.7h-0.7zM80.1,394.5h0.7v0.7h-0.7zM84.5,397.3h0.7v0.7h-0.7zM87.1,387.3h0.7v0.7h-0.7zM83.6,403.1h0.7v0.7h-0.7zM85.4,392.5h0.7v0.7h-0.7zM75.8,391.6h0.7v0.7h-0.7zM82.9,395.2h0.7v0.7h-0.7zM83.1,389.5h0.7v0.7h-0.7zM82.9,390.8h0.7v0.7h-0.7zM85.5,402.4h0.7v0.7h-0.7zM81.5,390.1h0.7v0.7h-0.7zM82.7,406.4h0.7v0.7h-0.7zM84.1,394.8h0.7v0.7h-0.7zM89.3,393.9h0.7v0.7h-0.7zM82.4,411.3h0.7v0.7h-0.7zM87.7,405.3h0.7v0.7h-0.7zM81.6,386.2h0.7v0.7h-0.7zM86.5,412.4h0.7v0.7h-0.7zM81.0,392.7h0.7v0.7h-0.7zM82.9,391.9h0.7v0.7h-0.7zM87.0,403.3h0.7v0.7h-0.7zM84.6,399.8h0.7v0.7h-0.7zM80.1,387.5h0.7v0.7h-0.7zM80.9,406.0h0.7v0.7h-0.7zM85.1,386.5h0.7v0.7h-0.7zM82.0,396.9h0.7v0.7h-0.7zM88.8,402.1h0.7v0.7h-0.7zM77.6,397.2h0.7v0.7h-0.7zM80.6,390.3h0.7v0.7h-0.7zM79.3,399.7h0.7v0.7h-0.7zM83.0,405.9h0.7v0.7h-0.7zM83.4,384.6h0.7v0.7h-0.7zM83.5,402.8h0.7v0.7h-0.7zM80.9,395.4h0.7v0.7h-0.7zM80.5,402.6h0.7v0.7h-0.7zM82.0,400.9h0.7v0.7h-0.7zM86.0,399.3h0.7v0.7h-0.7zM78.9,398.8h0.7v0.7h-0.7zM81.2,382.6h0.7v0.7h-0.7zM85.6,389.5h0.7v0.7h-0.7zM85.0,395.1h0.7v0.7h-0.7zM80.4,391.0h0.7v0.7h-0.7zM86.4,396.1h0.7v0.7h-0.7zM80.0,395.0h0.7v0.7h-0.7zM82.8,399.9h0.7v0.7h-0.7zM84.3,387.6h0.7v0.7h-0.7zM84.2,393.6h0.7v0.7h-0.7zM90.5,410.0h0.7v0.7h-0.7zM86.4,394.8h0.7v0.7h-0.7zM76.6,388.6h0.7v0.7h-0.7zM85.8,396.0h0.7v0.7h-0.7zM84.8,387.3h0.7v0.7h-0.7zM78.9,394.0h0.7v0.7h-0.7zM81.8,391.0h0.7v0.7h-0.7zM86.6,390.4h0.7v0.7h-0.7zM85.2,398.5h0.7v0.7h-0.7zM74.5,390.5h0.7v0.7h-0.7zM87.2,385.7h0.7v0.7h-0.7zM82.9,401.2h0.7v0.7h-0.7zM83.0,380.9h0.7v0.7h-0.7zM79.6,393.6h0.7v0.7h-0.7zM86.3,391.4h0.7v0.7h-0.7zM82.5,394.9h0.7v0.7h-0.7zM86.3,393.4h0.7v0.7h-0.7zM81.1,383.0h0.7v0.7h-0.7zM78.2,388.1h0.7v0.7h-0.7zM90.9,401.9h0.7v0.7h-0.7zM83.4,394.2h0.7v0.7h-0.7zM81.5,404.3h0.7v0.7h-0.7zM80.3,393.6h0.7v0.7h-0.7zM92.7,394.5h0.7v0.7h-0.7zM83.8,397.9h0.7v0.7h-0.7zM82.2,394.8h0.7v0.7h-0.7zM84.0,405.4h0.7v0.7h-0.7zM84.2,397.9h0.7v0.7h-0.7zM84.3,399.3h0.7v0.7h-0.7zM85.0,384.5h0.7v0.7h-0.7zM85.2,393.5h0.7v0.7h-0.7zM79.7,391.6h0.7v0.7h-0.7zM82.0,395.6h0.7v0.7h-0.7zM86.8,391.1h0.7v0.7h-0.7zM79.7,397.7h0.7v0.7h-0.7zM82.7,399.8h0.7v0.7h-0.7zM85.6,401.3h0.7v0.7h-0.7zM81.8,402.1h0.7v0.7h-0.7zM83.5,393.6h0.7v0.7h-0.7zM80.1,379.4h0.7v0.7h-0.7zM84.2,374.0h0.7v0.7h-0.7zM85.1,391.6h0.7v0.7h-0.7zM78.1,391.6h0.7v0.7h-0.7zM79.0,402.3h0.7v0.7h-0.7zM79.3,402.5h0.7v0.7h-0.7zM86.6,394.4h0.7v0.7h-0.7zM82.0,399.0h0.7v0.7h-0.7zM82.4,399.3h0.7v0.7h-0.7zM84.0,388.0h0.7v0.7h-0.7zM75.9,392.3h0.7v0.7h-0.7zM84.3,398.4h0.7v0.7h-0.7zM85.1,389.6h0.7v0.7h-0.7zM87.9,397.0h0.7v0.7h-0.7zM80.6,387.1h0.7v0.7h-0.7zM86.4,397.0h0.7v0.7h-0.7zM85.1,391.8h0.7v0.7h-0.7zM83.9,395.9h0.7v0.7h-0.7zM77.8,399.1h0.7v0.7h-0.7zM85.2,387.1h0.7v0.7h-0.7zM91.4,399.6h0.7v0.7h-0.7zM87.2,395.2h0.7v0.7h-0.7zM88.3,397.2h0.7v0.7h-0.7zM79.3,397.9h0.7v0.7h-0.7zM83.8,391.6h0.7v0.7h-0.7zM79.1,398.4h0.7v0.7h-0.7zM84.9,402.7h0.7v0.7h-0.7zM77.5,395.5h0.7v0.7h-0.7zM79.6,392.3h0.7v0.7h-0.7zM83.4,405.8h0.7v0.7h-0.7zM87.3,400.8h0.7v0.7h-0.7zM81.9,387.5h0.7v0.7h-0.7zM89.1,387.3h0.7v0.7h-0.7zM80.4,391.4h0.7v0.7h-0.7zM85.0,397.8h0.7v0.7h-0.7zM83.3,397.2h0.7v0.7h-0.7zM85.8,398.5h0.7v0.7h-0.7zM76.9,404.6h0.7v0.7h-0.7z" fill="#000" opacity="0.3"/>
<ellipse cx="94.9" cy="271.1" rx="10.8" ry="6.2" transform="rotate(-57.6 94.9 271.1)" fill="none" stroke="#111" stroke-width="1.1"/>
<ellipse cx="107.2" cy="280.4" rx="15.1" ry="8.2" transform="rotate(-60.1 107.2 280.4)" fill="none" stroke="#111" stroke-width="1.1"/>
<ellipse cx="93.7" cy="358.5" rx="10.7" ry="6.5" transform="rotate(-57.1 93.7 358.5)" fill="none" stroke="#111" stroke-width="1.1"/>
<ellipse cx="105.7" cy="368.7" rx="14.8" ry="8.4" transform="rotate(-60.8 105.7 368.7)" fill="none" stroke="#111" stroke-width="1.1"/>
<line x1="188.75" y1="245.3" x2="188.75" y2="403.4" stroke="#1a1a1a" stroke-width="1.2" />
<line x1="185.3" y1="403.4" x2="330.7" y2="403.4" stroke="#1a1a1a" stroke-width="1.3" />
<line x1="185.1" y1="403.4" x2="188.75" y2="403.4" stroke="#1a1a1a" stroke-width="1.0" />
<text x="182.2" y="406.4" font-size="8.8" text-anchor="end" font-weight="normal" fill="#000" stroke="#000" stroke-width="0.12">0</text>
<line x1="185.1" y1="364.65" x2="188.75" y2="364.65" stroke="#1a1a1a" stroke-width="1.0" />
<text x="182.2" y="367.65" font-size="8.8" text-anchor="end" font-weight="normal" fill="#000" stroke="#000" stroke-width="0.12">2</text>
<line x1="185.1" y1="325.9" x2="188.75" y2="325.9" stroke="#1a1a1a" stroke-width="1.0" />
<text x="182.2" y="328.9" font-size="8.8" text-anchor="end" font-weight="normal" fill="#000" stroke="#000" stroke-width="0.12">4</text>
<line x1="185.1" y1="287.15" x2="188.75" y2="287.15" stroke="#1a1a1a" stroke-width="1.0" />
<text x="182.2" y="290.15" font-size="8.8" text-anchor="end" font-weight="normal" fill="#000" stroke="#000" stroke-width="0.12">6</text>
<line x1="185.1" y1="248.39999999999998" x2="188.75" y2="248.39999999999998" stroke="#1a1a1a" stroke-width="1.0" />
<text x="182.2" y="251.39999999999998" font-size="8.8" text-anchor="end" font-weight="normal" fill="#000" stroke="#000" stroke-width="0.12">8</text>
<line x1="229.5" y1="403.4" x2="229.5" y2="406.5" stroke="#1a1a1a" stroke-width="1.0" />
<line x1="290" y1="403.4" x2="290" y2="406.5" stroke="#1a1a1a" stroke-width="1.0" />
<text x="229.4" y="417.5" font-size="8.6" text-anchor="middle" font-weight="normal" fill="#000" stroke="#000" stroke-width="0.12">LMC</text>
<text x="290.1" y="417.5" font-size="8.6" text-anchor="middle" font-weight="normal" fill="#000" stroke="#000" stroke-width="0.12">DPWY</text>
<text transform="translate(171.1,324.35) rotate(-90)" x="0" y="0" font-size="10.2" text-anchor="middle" fill="#111" stroke="#111" stroke-width="0.28" textLength="98.4" lengthAdjust="spacingAndGlyphs">Ratio mature:immature B cells</text>
<path d="M232.6,260.4 V250.4 H302.4 V371.7" stroke="#1a1a1a" stroke-width="1.0" fill="none" />
<circle cx="264.50" cy="246.0" r="1.05" fill="#111"/>
<circle cx="267.80" cy="246.0" r="1.05" fill="#111"/>
<circle cx="271.10" cy="246.0" r="1.05" fill="#111"/>
<circle cx="229.3" cy="269.5" r="2.0" fill="none" stroke="#c00d38" stroke-width="1.0"/>
<circle cx="229.3" cy="277.9" r="2.0" fill="none" stroke="#c00d38" stroke-width="1.0"/>
<circle cx="229.3" cy="299.9" r="2.0" fill="none" stroke="#c00d38" stroke-width="1.0"/>
<circle cx="229.3" cy="310.9" r="2.0" fill="none" stroke="#c00d38" stroke-width="1.0"/>
<circle cx="226.1" cy="333.3" r="2.0" fill="none" stroke="#c00d38" stroke-width="1.0"/>
<circle cx="232" cy="339.5" r="2.0" fill="none" stroke="#c00d38" stroke-width="1.0"/>
<circle cx="217.5" cy="345.1" r="2.0" fill="none" stroke="#c00d38" stroke-width="1.0"/>
<circle cx="223.4" cy="349.8" r="2.0" fill="none" stroke="#c00d38" stroke-width="1.0"/>
<circle cx="229.3" cy="350.3" r="2.0" fill="none" stroke="#c00d38" stroke-width="1.0"/>
<circle cx="235.2" cy="349.8" r="2.0" fill="none" stroke="#c00d38" stroke-width="1.0"/>
<circle cx="240.7" cy="346.8" r="2.0" fill="none" stroke="#c00d38" stroke-width="1.0"/>
<line x1="209.1" y1="324.9" x2="249.5" y2="324.9" stroke="#222" stroke-width="1.4" />
<line x1="218.9" y1="315.9" x2="239.8" y2="315.9" stroke="#222" stroke-width="1.3" />
<line x1="218.9" y1="333.9" x2="239.8" y2="333.9" stroke="#222" stroke-width="1.3" />
<line x1="229.3" y1="315.9" x2="229.3" y2="333.9" stroke="#222" stroke-width="1.3" />
<circle cx="292.8" cy="382.5" r="2.0" fill="#4a1466"/>
<circle cx="284.4" cy="384.8" r="2.0" fill="#4a1466"/>
<circle cx="287.5" cy="387.9" r="2.0" fill="#4a1466"/>
<circle cx="292.8" cy="391.7" r="2.0" fill="#4a1466"/>
<circle cx="284.4" cy="394.6" r="2.0" fill="#4a1466"/>
<circle cx="295.6" cy="396.9" r="2.0" fill="#4a1466"/>
<circle cx="290" cy="398.8" r="2.0" fill="#4a1466"/>
<line x1="270" y1="391.1" x2="310.1" y2="391.1" stroke="#222" stroke-width="1.4" />
<line x1="279.5" y1="388.5" x2="300.6" y2="388.5" stroke="#222" stroke-width="1.2" />
<line x1="279.5" y1="393.6" x2="300.6" y2="393.6" stroke="#222" stroke-width="1.2" />
<line x1="290" y1="388.5" x2="290" y2="393.6" stroke="#222" stroke-width="1.2" />
<text x="402.4" y="246.5" font-size="8.3" text-anchor="start" font-weight="normal" fill="#000" stroke="#000" stroke-width="0.12">Ikaros</text>
<line x1="399.8" y1="253.0" x2="399.8" y2="338.8" stroke="#1a1a1a" stroke-width="1.3" />
<line x1="396.8" y1="338.8" x2="512.4" y2="338.8" stroke="#1a1a1a" stroke-width="1.3" />
<line x1="455.9" y1="338.8" x2="455.9" y2="341.6" stroke="#1a1a1a" stroke-width="1.0" />
<line x1="396.4" y1="255.85000000000002" x2="399.8" y2="255.85000000000002" stroke="#1a1a1a" stroke-width="1.0" />
<text x="393.6" y="258.85" font-size="8.8" text-anchor="end" font-weight="normal" fill="#000" stroke="#000" stroke-width="0.12">1.5</text>
<line x1="396.4" y1="283.5" x2="399.8" y2="283.5" stroke="#1a1a1a" stroke-width="1.0" />
<text x="393.6" y="286.5" font-size="8.8" text-anchor="end" font-weight="normal" fill="#000" stroke="#000" stroke-width="0.12">1</text>
<line x1="396.4" y1="311.15000000000003" x2="399.8" y2="311.15000000000003" stroke="#1a1a1a" stroke-width="1.0" />
<text x="393.6" y="314.15000000000003" font-size="8.8" text-anchor="end" font-weight="normal" fill="#000" stroke="#000" stroke-width="0.12">0.5</text>
<rect x="408.4" y="283.5" width="17.30000000000001" height="55.30000000000001" fill="#a8062f"/>
<line x1="442.85" y1="299.6" x2="442.85" y2="303.0" stroke="#222" stroke-width="1.2" />
<line x1="439.65000000000003" y1="299.6" x2="446.05" y2="299.6" stroke="#222" stroke-width="1.2" />
<rect x="434.3" y="303.0" width="17.099999999999966" height="35.80000000000001" fill="#6bab45"/>
<line x1="469.05" y1="318.5" x2="469.05" y2="322.0" stroke="#222" stroke-width="1.2" />
<line x1="465.85" y1="318.5" x2="472.25" y2="318.5" stroke="#222" stroke-width="1.2" />
<rect x="460.6" y="322.0" width="16.899999999999977" height="16.80000000000001" fill="#2d4d82"/>
<line x1="494.85" y1="324.8" x2="494.85" y2="329.6" stroke="#222" stroke-width="1.2" />
<line x1="491.65000000000003" y1="324.8" x2="498.05" y2="324.8" stroke="#222" stroke-width="1.2" />
<rect x="486.5" y="329.6" width="16.69999999999999" height="9.199999999999989" fill="#572466"/>
<path d="M415.6,263.5 V257.9 H494.7 V307.4" stroke="#222" stroke-width="1.0" fill="none" stroke-linejoin="round"/>
<circle cx="453.55" cy="253.5" r="0.95" fill="#111"/>
<circle cx="456.75" cy="253.5" r="0.95" fill="#111"/>
<path d="M415.6,272.5 V269.6 H468.6 V307.4" stroke="#222" stroke-width="1.0" fill="none" stroke-linejoin="round"/>
<circle cx="439.00" cy="265.3" r="0.95" fill="#111"/>
<circle cx="442.20" cy="265.3" r="0.95" fill="#111"/>
<circle cx="445.40" cy="265.3" r="0.95" fill="#111"/>
<path d="M416.2,282.1 V279.4 H443.1 V282.1" stroke="#222" stroke-width="1.0" fill="none" stroke-linejoin="round"/>
<circle cx="427.75" cy="275.3" r="0.95" fill="#111"/>
<circle cx="430.95" cy="275.3" r="0.95" fill="#111"/>
<text x="402.4" y="352.8" font-size="8.3" text-anchor="start" font-weight="normal" fill="#000" stroke="#000" stroke-width="0.12">Pax5</text>
<line x1="399.8" y1="358.5" x2="399.8" y2="444.8" stroke="#1a1a1a" stroke-width="1.3" />
<line x1="396.8" y1="444.8" x2="512.4" y2="444.8" stroke="#1a1a1a" stroke-width="1.3" />
<line x1="455.9" y1="444.8" x2="455.9" y2="447.6" stroke="#1a1a1a" stroke-width="1.0" />
<line x1="396.4" y1="362.15" x2="399.8" y2="362.15" stroke="#1a1a1a" stroke-width="1.0" />
<text x="393.6" y="365.15" font-size="8.8" text-anchor="end" font-weight="normal" fill="#000" stroke="#000" stroke-width="0.12">1.5</text>
<line x1="396.4" y1="389.7" x2="399.8" y2="389.7" stroke="#1a1a1a" stroke-width="1.0" />
<text x="393.6" y="392.7" font-size="8.8" text-anchor="end" font-weight="normal" fill="#000" stroke="#000" stroke-width="0.12">1</text>
<line x1="396.4" y1="417.25" x2="399.8" y2="417.25" stroke="#1a1a1a" stroke-width="1.0" />
<text x="393.6" y="420.25" font-size="8.8" text-anchor="end" font-weight="normal" fill="#000" stroke="#000" stroke-width="0.12">0.5</text>
<rect x="408.4" y="389.7" width="17.30000000000001" height="55.10000000000002" fill="#a8062f"/>
<line x1="442.85" y1="378.5" x2="442.85" y2="397.6" stroke="#222" stroke-width="1.2" />
<line x1="439.65000000000003" y1="378.5" x2="446.05" y2="378.5" stroke="#222" stroke-width="1.2" />
<rect x="434.3" y="397.6" width="17.099999999999966" height="47.19999999999999" fill="#6bab45"/>
<line x1="469.05" y1="419.3" x2="469.05" y2="423.7" stroke="#222" stroke-width="1.2" />
<line x1="465.85" y1="419.3" x2="472.25" y2="419.3" stroke="#222" stroke-width="1.2" />
<rect x="460.6" y="423.7" width="16.899999999999977" height="21.100000000000023" fill="#2d4d82"/>
<line x1="494.85" y1="428.5" x2="494.85" y2="436.6" stroke="#222" stroke-width="1.2" />
<line x1="491.65000000000003" y1="428.5" x2="498.05" y2="428.5" stroke="#222" stroke-width="1.2" />
<rect x="486.5" y="436.6" width="16.69999999999999" height="8.199999999999989" fill="#572466"/>
<path d="M417,368.5 V366 H494.8 V416.4" stroke="#222" stroke-width="1.0" fill="none" stroke-linejoin="round"/>
<circle cx="454.70" cy="361.6" r="0.95" fill="#111"/>
<circle cx="457.90" cy="361.6" r="0.95" fill="#111"/>
<path d="M417,378 V376 H468.8 V411.6" stroke="#222" stroke-width="1.0" fill="none" stroke-linejoin="round"/>
<circle cx="441.50" cy="371.3" r="0.95" fill="#111"/>
<circle cx="444.70" cy="371.3" r="0.95" fill="#111"/>
<text x="402.4" y="459.0" font-size="8.3" text-anchor="start" font-weight="normal" fill="#000" stroke="#000" stroke-width="0.12">Ebf1</text>
<line x1="399.8" y1="465.1" x2="399.8" y2="550.7" stroke="#1a1a1a" stroke-width="1.3" />
<line x1="396.8" y1="550.7" x2="512.4" y2="550.7" stroke="#1a1a1a" stroke-width="1.3" />
<line x1="455.9" y1="550.7" x2="455.9" y2="553.5" stroke="#1a1a1a" stroke-width="1.0" />
<line x1="396.4" y1="468.20000000000005" x2="399.8" y2="468.20000000000005" stroke="#1a1a1a" stroke-width="1.0" />
<text x="393.6" y="471.20000000000005" font-size="8.8" text-anchor="end" font-weight="normal" fill="#000" stroke="#000" stroke-width="0.12">1.5</text>
<line x1="396.4" y1="495.70000000000005" x2="399.8" y2="495.70000000000005" stroke="#1a1a1a" stroke-width="1.0" />
<text x="393.6" y="498.70000000000005" font-size="8.8" text-anchor="end" font-weight="normal" fill="#000" stroke="#000" stroke-width="0.12">1</text>
<line x1="396.4" y1="523.2" x2="399.8" y2="523.2" stroke="#1a1a1a" stroke-width="1.0" />
<text x="393.6" y="526.2" font-size="8.8" text-anchor="end" font-weight="normal" fill="#000" stroke="#000" stroke-width="0.12">0.5</text>
<rect x="408.4" y="495.9" width="17.30000000000001" height="54.80000000000007" fill="#a8062f"/>
<line x1="442.85" y1="485.5" x2="442.85" y2="493.0" stroke="#222" stroke-width="1.2" />
<line x1="439.65000000000003" y1="485.5" x2="446.05" y2="485.5" stroke="#222" stroke-width="1.2" />
<rect x="434.3" y="493.0" width="17.099999999999966" height="57.700000000000045" fill="#6bab45"/>
<line x1="469.05" y1="499.0" x2="469.05" y2="507.9" stroke="#222" stroke-width="1.2" />
<line x1="465.85" y1="499.0" x2="472.25" y2="499.0" stroke="#222" stroke-width="1.2" />
<rect x="460.6" y="507.9" width="16.899999999999977" height="42.80000000000007" fill="#2d4d82"/>
<line x1="494.85" y1="524.2" x2="494.85" y2="533.1" stroke="#222" stroke-width="1.2" />
<line x1="491.65000000000003" y1="524.2" x2="498.05" y2="524.2" stroke="#222" stroke-width="1.2" />
<rect x="486.5" y="533.1" width="16.69999999999999" height="17.600000000000023" fill="#572466"/>
<path d="M414.9,482.6 V477.3 H494.8 V518" stroke="#222" stroke-width="1.0" fill="none" stroke-linejoin="round"/>
<circle cx="455.10" cy="472.3" r="0.95" fill="#111"/>
<text transform="translate(374.8,446.4) rotate(-90)" x="0" y="0" font-size="10.2" fill="#111" stroke="#111" stroke-width="0.28" textLength="70.9" lengthAdjust="spacingAndGlyphs">Relative expression (2</text>
<text transform="translate(371.4,374.2) rotate(-90)" x="0" y="0" font-size="8.2" fill="#111" stroke="#111" stroke-width="0.2" textLength="13.6" lengthAdjust="spacingAndGlyphs">ΔΔCt</text>
<text transform="translate(374.8,360.6) rotate(-90)" x="0" y="0" font-size="10.2" fill="#111" stroke="#111" stroke-width="0.28" textLength="3.0" lengthAdjust="spacingAndGlyphs">)</text>
<text x="417.2" y="565.1" font-size="8.7" text-anchor="middle" font-weight="normal" fill="#000" stroke="#000" stroke-width="0.12">LMC</text>
<text x="442.7" y="565.1" font-size="8.7" text-anchor="middle" font-weight="normal" fill="#000" stroke="#000" stroke-width="0.12">Class.</text>
<text x="468.7" y="565.1" font-size="8.7" text-anchor="middle" font-weight="normal" fill="#000" stroke="#000" stroke-width="0.12">Alt.</text>
<text x="494.5" y="565.1" font-size="8.7" text-anchor="middle" font-weight="normal" fill="#000" stroke="#000" stroke-width="0.12">DPWY</text>
</svg>
</body></html>
